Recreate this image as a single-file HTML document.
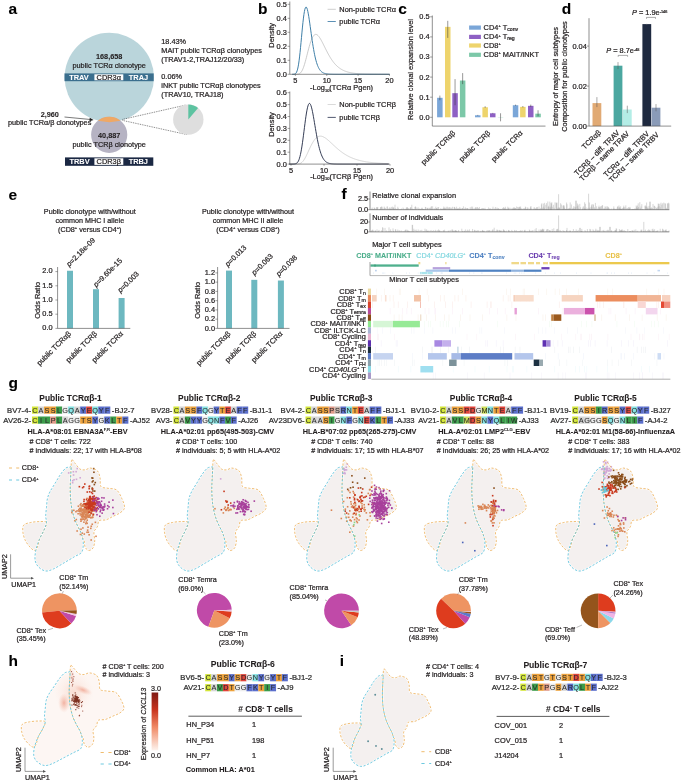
<!DOCTYPE html>
<html><head><meta charset="utf-8"><style>html,body{margin:0;padding:0;background:#fff;width:685px;height:782px;overflow:hidden}svg{display:block}text{font-family:"Liberation Sans", sans-serif}</style></head>
<body>
<svg style="will-change:transform" width="685" height="782" viewBox="0 0 685 782" font-family='"Liberation Sans", sans-serif'>
<rect width="685" height="782" fill="#fff"/>
<text x="8.60" y="14.20" font-size="15.5" font-weight="bold" fill="#000" stroke="#000" stroke-width="0.08">a</text>
<defs><clipPath id="bigc"><circle cx="109.3" cy="77.5" r="44.7"/></clipPath></defs>
<circle cx="109.30" cy="77.50" r="44.70" fill="#bad5db"/>
<circle cx="109.20" cy="134.80" r="18.10" fill="#b6b3c3"/>
<g clip-path="url(#bigc)">
<circle cx="109.20" cy="134.80" r="18.10" fill="#efa865"/>
</g>
<text x="109.20" y="58.60" font-size="7.3" font-weight="bold" text-anchor="middle" fill="#231f20" stroke="#231f20" stroke-width="0.08">168,658</text>
<text x="109.20" y="67.80" font-size="7.3" text-anchor="middle" fill="#231f20" stroke="#231f20" stroke-width="0.22">public TCRα clonotype</text>
<rect x="64.50" y="73.40" width="89.20" height="7.80" fill="#3b6f8e"/>
<rect x="94.40" y="74.30" width="28.90" height="6.00" fill="#fff"/>
<text x="79.00" y="80.00" font-size="7.4" font-weight="bold" text-anchor="middle" fill="#fff" stroke="#fff" stroke-width="0.08">TRAV</text>
<text x="108.80" y="80.00" font-size="7.4" text-anchor="middle" fill="#231f20" stroke="#231f20" stroke-width="0.22">CDR3α</text>
<text x="138.50" y="80.00" font-size="7.4" font-weight="bold" text-anchor="middle" fill="#fff" stroke="#fff" stroke-width="0.08">TRAJ</text>
<text x="49.80" y="117.00" font-size="7.3" font-weight="bold" text-anchor="middle" fill="#231f20" stroke="#231f20" stroke-width="0.08">2,960</text>
<text x="8.00" y="125.20" font-size="7.3" fill="#231f20" stroke="#231f20" stroke-width="0.22">public TCRα/β clonotypes</text>
<line x1="64.50" y1="117.00" x2="91.50" y2="119.60" stroke="#222" stroke-width="0.6"/>
<path d="M93.6,119.9 L89.8,117.8 L89.4,121.3 Z" fill="#222"/>
<text x="109.20" y="138.00" font-size="7.3" font-weight="bold" text-anchor="middle" fill="#231f20" stroke="#231f20" stroke-width="0.08">40,887</text>
<text x="109.20" y="147.00" font-size="7.3" text-anchor="middle" fill="#231f20" stroke="#231f20" stroke-width="0.22">public TCRβ clonotype</text>
<rect x="65.00" y="157.40" width="88.30" height="8.40" fill="#1b2843"/>
<rect x="94.40" y="158.30" width="28.90" height="6.60" fill="#fff"/>
<text x="79.50" y="164.10" font-size="7.4" font-weight="bold" text-anchor="middle" fill="#fff" stroke="#fff" stroke-width="0.08">TRBV</text>
<text x="108.80" y="164.10" font-size="7.4" text-anchor="middle" fill="#231f20" stroke="#231f20" stroke-width="0.22">CDR3β</text>
<text x="138.30" y="164.10" font-size="7.4" font-weight="bold" text-anchor="middle" fill="#fff" stroke="#fff" stroke-width="0.08">TRBJ</text>
<text x="161.30" y="44.20" font-size="7.3" fill="#231f20" stroke="#231f20" stroke-width="0.22">18.43%</text>
<text x="161.30" y="52.80" font-size="7.3" fill="#231f20" stroke="#231f20" stroke-width="0.22">MAIT public TCRαβ clonotypes</text>
<text x="161.30" y="61.70" font-size="7.3" fill="#231f20" stroke="#231f20" stroke-width="0.22">(TRAV1-2,TRAJ12/20/33)</text>
<text x="161.30" y="78.90" font-size="7.3" fill="#231f20" stroke="#231f20" stroke-width="0.22">0.06%</text>
<text x="161.30" y="87.80" font-size="7.3" fill="#231f20" stroke="#231f20" stroke-width="0.22">iNKT public TCRαβ clonotypes</text>
<text x="161.30" y="96.70" font-size="7.3" fill="#231f20" stroke="#231f20" stroke-width="0.22">(TRAV10, TRAJ18)</text>
<line x1="122.50" y1="119.40" x2="186.00" y2="105.00" stroke="#222" stroke-width="0.6" stroke-dasharray="0.9 0.9"/>
<line x1="122.50" y1="120.40" x2="187.00" y2="134.60" stroke="#222" stroke-width="0.6" stroke-dasharray="0.9 0.9"/>
<circle cx="188.30" cy="119.60" r="15.20" fill="#dedede"/>
<path d="M188.30,119.60 L198.07,107.96 A15.2,15.2 0 0 0 188.30,104.40 Z" fill="#5dc3a1"/>
<text x="257.90" y="14.00" font-size="15.5" font-weight="bold" fill="#000" stroke="#000" stroke-width="0.08">b</text>
<path d="M292.26,74.30 L292.75,74.30 L293.24,74.30 L293.72,74.30 L294.21,74.30 L294.69,74.30 L295.18,74.30 L295.67,74.30 L296.15,74.29 L296.64,74.27 L297.12,74.25 L297.61,74.20 L298.10,74.13 L298.58,74.01 L299.07,73.84 L299.55,73.60 L300.04,73.27 L300.53,72.85 L301.01,72.30 L301.50,71.63 L301.98,70.82 L302.47,69.87 L302.96,68.77 L303.44,67.53 L303.93,66.15 L304.41,64.64 L304.90,63.02 L305.38,61.30 L305.87,59.50 L306.36,57.64 L306.84,55.74 L307.33,53.83 L307.81,51.92 L308.30,50.04 L308.79,48.21 L309.27,46.45 L309.76,44.76 L310.24,43.18 L310.73,41.71 L311.22,40.35 L311.70,39.13 L312.19,38.05 L312.67,37.10 L313.16,36.30 L313.65,35.64 L314.13,35.13 L314.62,34.75 L315.10,34.51 L315.59,34.40 L316.08,34.41 L316.56,34.54 L317.05,34.79 L317.53,35.13 L318.02,35.57 L318.50,36.09 L318.99,36.70 L319.48,37.37 L319.96,38.11 L320.45,38.90 L320.93,39.73 L321.42,40.61 L321.91,41.52 L322.39,42.46 L322.88,43.41 L323.36,44.38 L323.85,45.36 L324.34,46.35 L324.82,47.34 L325.31,48.32 L325.79,49.29 L326.28,50.26 L326.77,51.21 L327.25,52.15 L327.74,53.07 L328.22,53.97 L328.71,54.85 L329.20,55.70 L329.68,56.54 L330.17,57.34 L330.65,58.13 L331.14,58.89 L331.62,59.62 L332.11,60.32 L332.60,61.01 L333.08,61.66 L333.57,62.29 L334.05,62.89 L334.54,63.47 L335.03,64.03 L335.51,64.56 L336.00,65.07 L336.48,65.55 L336.97,66.02 L337.46,66.46 L337.94,66.88 L338.43,67.28 L338.91,67.66 L339.40,68.02 L339.89,68.37 L340.37,68.69 L340.86,69.01 L341.34,69.30 L341.83,69.58 L342.32,69.85 L342.80,70.10 L343.29,70.34 L343.77,70.56 L344.26,70.77 L344.74,70.98 L345.23,71.17 L345.72,71.35 L346.20,71.52 L346.69,71.68 L347.17,71.83 L347.66,71.97 L348.15,72.11 L348.63,72.24 L349.12,72.36 L349.60,72.47 L350.09,72.58 L350.58,72.68 L351.06,72.78 L351.55,72.87 L352.03,72.95 L352.52,73.03 L353.01,73.11 L353.49,73.18 L353.98,73.24 L354.46,73.31 L354.95,73.37 L355.44,73.42 L355.92,73.47 L356.41,73.52 L356.89,73.57 L357.38,73.61 L357.86,73.65 L358.35,73.69 L358.84,73.73 L359.32,73.76 L359.81,73.79 L360.29,73.82 L360.78,73.85 L361.27,73.88 L361.75,73.90 L362.24,73.93 L362.72,73.95 L363.21,73.97 L363.70,73.99 L364.18,74.01 L364.67,74.03 L365.15,74.04 L365.64,74.06 L366.13,74.07 L366.61,74.09 L367.10,74.10 L367.58,74.11 L368.07,74.12 L368.56,74.13 L369.04,74.14 L369.53,74.15 L370.01,74.16 L370.50,74.17 L370.98,74.18 L371.47,74.18 L371.96,74.19 L372.44,74.20 L372.93,74.20 L373.41,74.21 L373.90,74.21 L374.39,74.22 L374.87,74.22 L375.36,74.23 L375.84,74.23 L376.33,74.24 L376.82,74.24 L377.30,74.24 L377.79,74.25 L378.27,74.25 L378.76,74.25 L379.25,74.26 L379.73,74.26 L380.22,74.26 L380.70,74.26 L381.19,74.27 L381.68,74.27 L382.16,74.27 L382.65,74.27 L383.13,74.27 L383.62,74.27 L384.10,74.28 L384.59,74.28 L385.08,74.28 L385.56,74.28 L386.05,74.28 L386.53,74.28 L387.02,74.28 L387.51,74.28 L387.99,74.29 L388.48,74.29 L388.96,74.29 L389.45,74.29" fill="none" stroke="#b5b5b5" stroke-width="0.7"/>
<path d="M292.26,74.30 L292.75,74.29 L293.24,74.28 L293.72,74.25 L294.21,74.19 L294.69,74.07 L295.18,73.85 L295.67,73.48 L296.15,72.91 L296.64,72.04 L297.12,70.80 L297.61,69.12 L298.10,66.92 L298.58,64.16 L299.07,60.82 L299.55,56.93 L300.04,52.53 L300.53,47.71 L301.01,42.61 L301.50,37.36 L301.98,32.12 L302.47,27.06 L302.96,22.33 L303.44,18.08 L303.93,14.42 L304.41,11.45 L304.90,9.22 L305.38,7.77 L305.87,7.10 L306.36,7.18 L306.84,7.97 L307.33,9.39 L307.81,11.37 L308.30,13.83 L308.79,16.67 L309.27,19.80 L309.76,23.14 L310.24,26.61 L310.73,30.14 L311.22,33.66 L311.70,37.11 L312.19,40.46 L312.67,43.67 L313.16,46.72 L313.65,49.58 L314.13,52.24 L314.62,54.69 L315.10,56.95 L315.59,59.00 L316.08,60.86 L316.56,62.53 L317.05,64.03 L317.53,65.37 L318.02,66.55 L318.50,67.60 L318.99,68.52 L319.48,69.32 L319.96,70.03 L320.45,70.64 L320.93,71.17 L321.42,71.63 L321.91,72.03 L322.39,72.37 L322.88,72.66 L323.36,72.91 L323.85,73.13 L324.34,73.31 L324.82,73.47 L325.31,73.60 L325.79,73.71 L326.28,73.80 L326.77,73.88 L327.25,73.95 L327.74,74.01 L328.22,74.06 L328.71,74.10 L329.20,74.13 L329.68,74.16 L330.17,74.18 L330.65,74.20 L331.14,74.22 L331.62,74.23 L332.11,74.24 L332.60,74.25 L333.08,74.26 L333.57,74.27 L334.05,74.27 L334.54,74.28 L335.03,74.28 L335.51,74.28 L336.00,74.29 L336.48,74.29 L336.97,74.29 L337.46,74.29 L337.94,74.29 L338.43,74.30 L338.91,74.30 L339.40,74.30 L339.89,74.30 L340.37,74.30 L340.86,74.30 L341.34,74.30 L341.83,74.30 L342.32,74.30 L342.80,74.30 L343.29,74.30 L343.77,74.30 L344.26,74.30 L344.74,74.30 L345.23,74.30 L345.72,74.30 L346.20,74.30 L346.69,74.30 L347.17,74.30 L347.66,74.30 L348.15,74.30 L348.63,74.30 L349.12,74.30 L349.60,74.30 L350.09,74.30 L350.58,74.30 L351.06,74.30 L351.55,74.30 L352.03,74.30 L352.52,74.30 L353.01,74.30 L353.49,74.30 L353.98,74.30 L354.46,74.30 L354.95,74.30 L355.44,74.30 L355.92,74.30 L356.41,74.30 L356.89,74.30 L357.38,74.30 L357.86,74.30 L358.35,74.30 L358.84,74.30 L359.32,74.30 L359.81,74.30 L360.29,74.30 L360.78,74.30 L361.27,74.30 L361.75,74.30 L362.24,74.30 L362.72,74.30 L363.21,74.30 L363.70,74.30 L364.18,74.30 L364.67,74.30 L365.15,74.30 L365.64,74.30 L366.13,74.30 L366.61,74.30 L367.10,74.30 L367.58,74.30 L368.07,74.30 L368.56,74.30 L369.04,74.30 L369.53,74.30 L370.01,74.30 L370.50,74.30 L370.98,74.30 L371.47,74.30 L371.96,74.30 L372.44,74.30 L372.93,74.30 L373.41,74.30 L373.90,74.30 L374.39,74.30 L374.87,74.30 L375.36,74.30 L375.84,74.30 L376.33,74.30 L376.82,74.30 L377.30,74.30 L377.79,74.30 L378.27,74.30 L378.76,74.30 L379.25,74.30 L379.73,74.30 L380.22,74.30 L380.70,74.30 L381.19,74.30 L381.68,74.30 L382.16,74.30 L382.65,74.30 L383.13,74.30 L383.62,74.30 L384.10,74.30 L384.59,74.30 L385.08,74.30 L385.56,74.30 L386.05,74.30 L386.53,74.30 L387.02,74.30 L387.51,74.30 L387.99,74.30 L388.48,74.30 L388.96,74.30 L389.45,74.30" fill="none" stroke="#3f7fa8" stroke-width="1.0"/>
<line x1="289.80" y1="1.50" x2="289.80" y2="74.30" stroke="#444" stroke-width="0.6"/>
<line x1="289.80" y1="74.30" x2="389.80" y2="74.30" stroke="#444" stroke-width="0.6"/>
<line x1="287.60" y1="74.30" x2="289.80" y2="74.30" stroke="#444" stroke-width="0.5"/>
<text x="286.90" y="76.70" font-size="7.4" text-anchor="end" fill="#231f20" stroke="#231f20" stroke-width="0.22">0.0</text>
<line x1="287.60" y1="60.30" x2="289.80" y2="60.30" stroke="#444" stroke-width="0.5"/>
<text x="286.90" y="62.70" font-size="7.4" text-anchor="end" fill="#231f20" stroke="#231f20" stroke-width="0.22">0.1</text>
<line x1="287.60" y1="46.30" x2="289.80" y2="46.30" stroke="#444" stroke-width="0.5"/>
<text x="286.90" y="48.70" font-size="7.4" text-anchor="end" fill="#231f20" stroke="#231f20" stroke-width="0.22">0.2</text>
<line x1="287.60" y1="32.30" x2="289.80" y2="32.30" stroke="#444" stroke-width="0.5"/>
<text x="286.90" y="34.70" font-size="7.4" text-anchor="end" fill="#231f20" stroke="#231f20" stroke-width="0.22">0.3</text>
<line x1="287.60" y1="18.30" x2="289.80" y2="18.30" stroke="#444" stroke-width="0.5"/>
<text x="286.90" y="20.70" font-size="7.4" text-anchor="end" fill="#231f20" stroke="#231f20" stroke-width="0.22">0.4</text>
<line x1="287.60" y1="4.30" x2="289.80" y2="4.30" stroke="#444" stroke-width="0.5"/>
<text x="286.90" y="6.70" font-size="7.4" text-anchor="end" fill="#231f20" stroke="#231f20" stroke-width="0.22">0.5</text>
<line x1="295.40" y1="74.30" x2="295.40" y2="75.90" stroke="#444" stroke-width="0.5"/>
<text x="295.40" y="83.30" font-size="7.4" text-anchor="middle" fill="#231f20" stroke="#231f20" stroke-width="0.22">5</text>
<line x1="326.75" y1="74.30" x2="326.75" y2="75.90" stroke="#444" stroke-width="0.5"/>
<text x="326.75" y="83.30" font-size="7.4" text-anchor="middle" fill="#231f20" stroke="#231f20" stroke-width="0.22">10</text>
<line x1="358.10" y1="74.30" x2="358.10" y2="75.90" stroke="#444" stroke-width="0.5"/>
<text x="358.10" y="83.30" font-size="7.4" text-anchor="middle" fill="#231f20" stroke="#231f20" stroke-width="0.22">15</text>
<line x1="389.45" y1="74.30" x2="389.45" y2="75.90" stroke="#444" stroke-width="0.5"/>
<text x="389.45" y="83.30" font-size="7.4" text-anchor="middle" fill="#231f20" stroke="#231f20" stroke-width="0.22">20</text>
<text x="274.20" y="35.30" font-size="7.4" text-anchor="middle" fill="#231f20" stroke="#231f20" stroke-width="0.22" transform="rotate(-90 274.20 35.30)">Density</text>
<text x="341.60" y="90.20" font-size="7.4" text-anchor="middle" fill="#231f20" stroke="#231f20" stroke-width="0.22">-Log<tspan dy="1.4" font-size="4.0">10</tspan><tspan dy="-1.4">​</tspan>(TCRα Pgen)</text>
<line x1="327.60" y1="9.30" x2="335.80" y2="9.30" stroke="#c8c8c8" stroke-width="0.9"/>
<text x="339.30" y="11.80" font-size="7.4" fill="#231f20" stroke="#231f20" stroke-width="0.22">Non-public TCRα</text>
<line x1="327.60" y1="21.50" x2="335.80" y2="21.50" stroke="#4a83ad" stroke-width="0.9"/>
<text x="339.30" y="24.00" font-size="7.4" fill="#231f20" stroke="#231f20" stroke-width="0.22">public TCRα</text>
<path d="M289.02,164.10 L289.52,164.10 L290.02,164.10 L290.51,164.10 L291.01,164.10 L291.51,164.10 L292.01,164.10 L292.51,164.10 L293.01,164.10 L293.50,164.10 L294.00,164.10 L294.50,164.10 L295.00,164.10 L295.50,164.10 L296.00,164.10 L296.49,164.09 L296.99,164.08 L297.49,164.06 L297.99,164.02 L298.49,163.96 L298.99,163.87 L299.48,163.75 L299.98,163.58 L300.48,163.35 L300.98,163.07 L301.48,162.72 L301.98,162.31 L302.47,161.81 L302.97,161.25 L303.47,160.61 L303.97,159.89 L304.47,159.11 L304.97,158.26 L305.46,157.35 L305.96,156.40 L306.46,155.40 L306.96,154.36 L307.46,153.29 L307.96,152.21 L308.45,151.12 L308.95,150.03 L309.45,148.94 L309.95,147.87 L310.45,146.83 L310.95,145.81 L311.44,144.82 L311.94,143.88 L312.44,142.98 L312.94,142.13 L313.44,141.33 L313.94,140.59 L314.43,139.90 L314.93,139.27 L315.43,138.70 L315.93,138.19 L316.43,137.74 L316.92,137.34 L317.42,137.01 L317.92,136.73 L318.42,136.51 L318.92,136.34 L319.42,136.22 L319.91,136.15 L320.41,136.13 L320.91,136.16 L321.41,136.23 L321.91,136.34 L322.41,136.49 L322.90,136.67 L323.40,136.89 L323.90,137.14 L324.40,137.41 L324.90,137.72 L325.40,138.04 L325.89,138.39 L326.39,138.76 L326.89,139.15 L327.39,139.55 L327.89,139.96 L328.39,140.39 L328.88,140.83 L329.38,141.27 L329.88,141.73 L330.38,142.18 L330.88,142.65 L331.38,143.11 L331.87,143.58 L332.37,144.05 L332.87,144.52 L333.37,144.99 L333.87,145.45 L334.37,145.92 L334.86,146.38 L335.36,146.83 L335.86,147.28 L336.36,147.73 L336.86,148.17 L337.36,148.60 L337.85,149.03 L338.35,149.45 L338.85,149.87 L339.35,150.27 L339.85,150.67 L340.34,151.06 L340.84,151.45 L341.34,151.82 L341.84,152.19 L342.34,152.55 L342.84,152.90 L343.33,153.24 L343.83,153.58 L344.33,153.90 L344.83,154.22 L345.33,154.53 L345.83,154.83 L346.32,155.13 L346.82,155.41 L347.32,155.69 L347.82,155.96 L348.32,156.22 L348.82,156.48 L349.31,156.73 L349.81,156.97 L350.31,157.20 L350.81,157.43 L351.31,157.65 L351.81,157.87 L352.30,158.07 L352.80,158.28 L353.30,158.47 L353.80,158.66 L354.30,158.84 L354.80,159.02 L355.29,159.19 L355.79,159.36 L356.29,159.52 L356.79,159.67 L357.29,159.83 L357.79,159.97 L358.28,160.11 L358.78,160.25 L359.28,160.38 L359.78,160.51 L360.28,160.63 L360.78,160.75 L361.27,160.87 L361.77,160.98 L362.27,161.09 L362.77,161.19 L363.27,161.29 L363.76,161.39 L364.26,161.48 L364.76,161.57 L365.26,161.66 L365.76,161.74 L366.26,161.83 L366.75,161.91 L367.25,161.98 L367.75,162.05 L368.25,162.13 L368.75,162.19 L369.25,162.26 L369.74,162.32 L370.24,162.39 L370.74,162.45 L371.24,162.50 L371.74,162.56 L372.24,162.61 L372.73,162.66 L373.23,162.71 L373.73,162.76 L374.23,162.81 L374.73,162.85 L375.23,162.90 L375.72,162.94 L376.22,162.98 L376.72,163.02 L377.22,163.06 L377.72,163.09 L378.22,163.13 L378.71,163.16 L379.21,163.19 L379.71,163.22 L380.21,163.25 L380.71,163.28 L381.21,163.31 L381.70,163.34 L382.20,163.37 L382.70,163.39 L383.20,163.42 L383.70,163.44 L384.20,163.46 L384.69,163.48 L385.19,163.50 L385.69,163.52 L386.19,163.54 L386.69,163.56 L387.19,163.58 L387.68,163.60 L388.18,163.62 L388.68,163.63" fill="none" stroke="#c2c2c2" stroke-width="0.7"/>
<path d="M289.02,164.10 L289.52,164.10 L290.02,164.10 L290.51,164.10 L291.01,164.10 L291.51,164.10 L292.01,164.10 L292.51,164.09 L293.01,164.08 L293.50,164.06 L294.00,164.04 L294.50,163.99 L295.00,163.91 L295.50,163.79 L296.00,163.61 L296.49,163.34 L296.99,162.96 L297.49,162.44 L297.99,161.75 L298.49,160.84 L298.99,159.68 L299.48,158.23 L299.98,156.47 L300.48,154.39 L300.98,151.95 L301.48,149.18 L301.98,146.08 L302.47,142.70 L302.97,139.07 L303.47,135.26 L303.97,131.33 L304.47,127.38 L304.97,123.49 L305.46,119.74 L305.96,116.22 L306.46,113.01 L306.96,110.19 L307.46,107.81 L307.96,105.91 L308.45,104.54 L308.95,103.71 L309.45,103.41 L309.95,103.64 L310.45,104.36 L310.95,105.55 L311.44,107.16 L311.94,109.14 L312.44,111.42 L312.94,113.95 L313.44,116.68 L313.94,119.55 L314.43,122.50 L314.93,125.49 L315.43,128.46 L315.93,131.39 L316.43,134.24 L316.92,136.98 L317.42,139.60 L317.92,142.06 L318.42,144.37 L318.92,146.52 L319.42,148.50 L319.91,150.32 L320.41,151.97 L320.91,153.47 L321.41,154.81 L321.91,156.02 L322.41,157.10 L322.90,158.05 L323.40,158.89 L323.90,159.63 L324.40,160.27 L324.90,160.83 L325.40,161.32 L325.89,161.74 L326.39,162.11 L326.89,162.42 L327.39,162.68 L327.89,162.91 L328.39,163.10 L328.88,163.27 L329.38,163.41 L329.88,163.52 L330.38,163.62 L330.88,163.70 L331.38,163.77 L331.87,163.83 L332.37,163.88 L332.87,163.92 L333.37,163.95 L333.87,163.98 L334.37,164.00 L334.86,164.02 L335.36,164.03 L335.86,164.05 L336.36,164.06 L336.86,164.06 L337.36,164.07 L337.85,164.08 L338.35,164.08 L338.85,164.08 L339.35,164.09 L339.85,164.09 L340.34,164.09 L340.84,164.09 L341.34,164.09 L341.84,164.10 L342.34,164.10 L342.84,164.10 L343.33,164.10 L343.83,164.10 L344.33,164.10 L344.83,164.10 L345.33,164.10 L345.83,164.10 L346.32,164.10 L346.82,164.10 L347.32,164.10 L347.82,164.10 L348.32,164.10 L348.82,164.10 L349.31,164.10 L349.81,164.10 L350.31,164.10 L350.81,164.10 L351.31,164.10 L351.81,164.10 L352.30,164.10 L352.80,164.10 L353.30,164.10 L353.80,164.10 L354.30,164.10 L354.80,164.10 L355.29,164.10 L355.79,164.10 L356.29,164.10 L356.79,164.10 L357.29,164.10 L357.79,164.10 L358.28,164.10 L358.78,164.10 L359.28,164.10 L359.78,164.10 L360.28,164.10 L360.78,164.10 L361.27,164.10 L361.77,164.10 L362.27,164.10 L362.77,164.10 L363.27,164.10 L363.76,164.10 L364.26,164.10 L364.76,164.10 L365.26,164.10 L365.76,164.10 L366.26,164.10 L366.75,164.10 L367.25,164.10 L367.75,164.10 L368.25,164.10 L368.75,164.10 L369.25,164.10 L369.74,164.10 L370.24,164.10 L370.74,164.10 L371.24,164.10 L371.74,164.10 L372.24,164.10 L372.73,164.10 L373.23,164.10 L373.73,164.10 L374.23,164.10 L374.73,164.10 L375.23,164.10 L375.72,164.10 L376.22,164.10 L376.72,164.10 L377.22,164.10 L377.72,164.10 L378.22,164.10 L378.71,164.10 L379.21,164.10 L379.71,164.10 L380.21,164.10 L380.71,164.10 L381.21,164.10 L381.70,164.10 L382.20,164.10 L382.70,164.10 L383.20,164.10 L383.70,164.10 L384.20,164.10 L384.69,164.10 L385.19,164.10 L385.69,164.10 L386.19,164.10 L386.69,164.10 L387.19,164.10 L387.68,164.10 L388.18,164.10 L388.68,164.10" fill="none" stroke="#1e2742" stroke-width="0.9"/>
<line x1="289.80" y1="91.50" x2="289.80" y2="164.10" stroke="#444" stroke-width="0.6"/>
<line x1="289.80" y1="164.10" x2="389.80" y2="164.10" stroke="#444" stroke-width="0.6"/>
<line x1="287.60" y1="164.10" x2="289.80" y2="164.10" stroke="#444" stroke-width="0.5"/>
<text x="286.90" y="166.50" font-size="7.4" text-anchor="end" fill="#231f20" stroke="#231f20" stroke-width="0.22">0.0</text>
<line x1="287.60" y1="152.20" x2="289.80" y2="152.20" stroke="#444" stroke-width="0.5"/>
<text x="286.90" y="154.60" font-size="7.4" text-anchor="end" fill="#231f20" stroke="#231f20" stroke-width="0.22">0.1</text>
<line x1="287.60" y1="140.30" x2="289.80" y2="140.30" stroke="#444" stroke-width="0.5"/>
<text x="286.90" y="142.70" font-size="7.4" text-anchor="end" fill="#231f20" stroke="#231f20" stroke-width="0.22">0.2</text>
<line x1="287.60" y1="128.40" x2="289.80" y2="128.40" stroke="#444" stroke-width="0.5"/>
<text x="286.90" y="130.80" font-size="7.4" text-anchor="end" fill="#231f20" stroke="#231f20" stroke-width="0.22">0.3</text>
<line x1="287.60" y1="116.50" x2="289.80" y2="116.50" stroke="#444" stroke-width="0.5"/>
<text x="286.90" y="118.90" font-size="7.4" text-anchor="end" fill="#231f20" stroke="#231f20" stroke-width="0.22">0.4</text>
<line x1="287.60" y1="104.60" x2="289.80" y2="104.60" stroke="#444" stroke-width="0.5"/>
<text x="286.90" y="107.00" font-size="7.4" text-anchor="end" fill="#231f20" stroke="#231f20" stroke-width="0.22">0.5</text>
<line x1="287.60" y1="92.70" x2="289.80" y2="92.70" stroke="#444" stroke-width="0.5"/>
<text x="286.90" y="95.10" font-size="7.4" text-anchor="end" fill="#231f20" stroke="#231f20" stroke-width="0.22">0.6</text>
<line x1="291.00" y1="164.10" x2="291.00" y2="165.70" stroke="#444" stroke-width="0.5"/>
<text x="291.00" y="173.10" font-size="7.4" text-anchor="middle" fill="#231f20" stroke="#231f20" stroke-width="0.22">5</text>
<line x1="324.00" y1="164.10" x2="324.00" y2="165.70" stroke="#444" stroke-width="0.5"/>
<text x="324.00" y="173.10" font-size="7.4" text-anchor="middle" fill="#231f20" stroke="#231f20" stroke-width="0.22">10</text>
<line x1="357.00" y1="164.10" x2="357.00" y2="165.70" stroke="#444" stroke-width="0.5"/>
<text x="357.00" y="173.10" font-size="7.4" text-anchor="middle" fill="#231f20" stroke="#231f20" stroke-width="0.22">15</text>
<line x1="390.00" y1="164.10" x2="390.00" y2="165.70" stroke="#444" stroke-width="0.5"/>
<text x="390.00" y="173.10" font-size="7.4" text-anchor="middle" fill="#231f20" stroke="#231f20" stroke-width="0.22">20</text>
<text x="274.20" y="124.50" font-size="7.4" text-anchor="middle" fill="#231f20" stroke="#231f20" stroke-width="0.22" transform="rotate(-90 274.20 124.50)">Density</text>
<text x="341.60" y="178.80" font-size="7.4" text-anchor="middle" fill="#231f20" stroke="#231f20" stroke-width="0.22">-Log<tspan dy="1.4" font-size="4.0">10</tspan><tspan dy="-1.4">​</tspan>(TCRβ Pgen)</text>
<line x1="327.60" y1="104.50" x2="335.80" y2="104.50" stroke="#d6d6d6" stroke-width="0.9"/>
<text x="339.30" y="107.00" font-size="7.4" fill="#231f20" stroke="#231f20" stroke-width="0.22">Non-public TCRβ</text>
<line x1="327.60" y1="117.40" x2="335.80" y2="117.40" stroke="#3d4660" stroke-width="0.9"/>
<text x="339.30" y="119.90" font-size="7.4" fill="#231f20" stroke="#231f20" stroke-width="0.22">public TCRβ</text>
<text x="398.30" y="14.00" font-size="15.5" font-weight="bold" fill="#000" stroke="#000" stroke-width="0.08">c</text>
<rect x="437.10" y="97.80" width="5.50" height="19.50" fill="#7aa6d8"/>
<line x1="439.85" y1="95.59" x2="439.85" y2="100.22" stroke="#333" stroke-width="0.5"/>
<rect x="445.00" y="26.85" width="5.50" height="90.45" fill="#eed46c"/>
<line x1="447.75" y1="20.82" x2="447.75" y2="37.90" stroke="#333" stroke-width="0.5"/>
<rect x="452.30" y="93.18" width="5.50" height="24.12" fill="#8e60c4"/>
<line x1="455.05" y1="79.11" x2="455.05" y2="105.24" stroke="#333" stroke-width="0.5"/>
<rect x="459.90" y="80.52" width="5.50" height="36.78" fill="#7cc8a8"/>
<line x1="462.65" y1="73.08" x2="462.65" y2="84.13" stroke="#333" stroke-width="0.5"/>
<rect x="475.00" y="115.29" width="5.50" height="2.01" fill="#7aa6d8"/>
<line x1="477.75" y1="114.89" x2="477.75" y2="115.69" stroke="#333" stroke-width="0.5"/>
<rect x="482.40" y="107.25" width="5.50" height="10.05" fill="#eed46c"/>
<line x1="485.15" y1="106.25" x2="485.15" y2="107.85" stroke="#333" stroke-width="0.5"/>
<rect x="490.00" y="113.28" width="5.50" height="4.02" fill="#8e60c4"/>
<line x1="492.75" y1="112.88" x2="492.75" y2="113.68" stroke="#333" stroke-width="0.5"/>
<rect x="497.80" y="117.05" width="5.50" height="0.50" fill="#c8e8dc"/>
<line x1="500.55" y1="113.28" x2="500.55" y2="121.32" stroke="#333" stroke-width="0.5"/>
<rect x="512.80" y="105.24" width="5.50" height="12.06" fill="#7aa6d8"/>
<line x1="515.55" y1="104.64" x2="515.55" y2="105.84" stroke="#333" stroke-width="0.5"/>
<rect x="520.10" y="106.85" width="5.50" height="10.45" fill="#eed46c"/>
<line x1="522.85" y1="106.04" x2="522.85" y2="107.45" stroke="#333" stroke-width="0.5"/>
<rect x="528.00" y="105.84" width="5.50" height="11.46" fill="#8e60c4"/>
<line x1="530.75" y1="104.64" x2="530.75" y2="106.85" stroke="#333" stroke-width="0.5"/>
<rect x="535.30" y="113.68" width="5.50" height="3.62" fill="#7cc8a8"/>
<line x1="538.05" y1="110.27" x2="538.05" y2="116.30" stroke="#333" stroke-width="0.5"/>
<line x1="432.30" y1="15.50" x2="432.30" y2="126.10" stroke="#444" stroke-width="0.6"/>
<line x1="432.30" y1="126.10" x2="545.50" y2="126.10" stroke="#444" stroke-width="0.6"/>
<line x1="430.10" y1="117.30" x2="432.30" y2="117.30" stroke="#444" stroke-width="0.5"/>
<text x="429.60" y="119.70" font-size="7.4" text-anchor="end" fill="#231f20" stroke="#231f20" stroke-width="0.22">0.0</text>
<line x1="430.10" y1="97.20" x2="432.30" y2="97.20" stroke="#444" stroke-width="0.5"/>
<text x="429.60" y="99.60" font-size="7.4" text-anchor="end" fill="#231f20" stroke="#231f20" stroke-width="0.22">0.1</text>
<line x1="430.10" y1="77.10" x2="432.30" y2="77.10" stroke="#444" stroke-width="0.5"/>
<text x="429.60" y="79.50" font-size="7.4" text-anchor="end" fill="#231f20" stroke="#231f20" stroke-width="0.22">0.2</text>
<line x1="430.10" y1="57.00" x2="432.30" y2="57.00" stroke="#444" stroke-width="0.5"/>
<text x="429.60" y="59.40" font-size="7.4" text-anchor="end" fill="#231f20" stroke="#231f20" stroke-width="0.22">0.3</text>
<line x1="430.10" y1="36.90" x2="432.30" y2="36.90" stroke="#444" stroke-width="0.5"/>
<text x="429.60" y="39.30" font-size="7.4" text-anchor="end" fill="#231f20" stroke="#231f20" stroke-width="0.22">0.4</text>
<line x1="430.10" y1="16.80" x2="432.30" y2="16.80" stroke="#444" stroke-width="0.5"/>
<text x="429.60" y="19.20" font-size="7.4" text-anchor="end" fill="#231f20" stroke="#231f20" stroke-width="0.22">0.5</text>
<text x="413.30" y="69.50" font-size="7.4" text-anchor="middle" fill="#231f20" stroke="#231f20" stroke-width="0.22" transform="rotate(-90 413.30 69.50)">Relative clonal expansion level</text>
<rect x="469.10" y="25.50" width="11.80" height="4.20" fill="#7aa6d8"/>
<text x="483.60" y="30.10" font-size="7.4" fill="#231f20" stroke="#231f20" stroke-width="0.22">CD4<tspan dy="-2.9" font-size="4.0">+</tspan><tspan dy="2.9">​</tspan> T<tspan dy="0.9" font-size="5.2">conv</tspan><tspan dy="-0.9">​</tspan></text>
<rect x="469.10" y="34.80" width="11.80" height="4.20" fill="#8e60c4"/>
<text x="483.60" y="39.40" font-size="7.4" fill="#231f20" stroke="#231f20" stroke-width="0.22">CD4<tspan dy="-2.9" font-size="4.0">+</tspan><tspan dy="2.9">​</tspan> T<tspan dy="0.9" font-size="5.2">reg</tspan><tspan dy="-0.9">​</tspan></text>
<rect x="469.10" y="43.40" width="11.80" height="4.20" fill="#eed46c"/>
<text x="483.60" y="48.00" font-size="7.4" fill="#231f20" stroke="#231f20" stroke-width="0.22">CD8<tspan dy="-2.9" font-size="4.0">+</tspan><tspan dy="2.9">​</tspan></text>
<rect x="469.10" y="52.70" width="11.80" height="4.20" fill="#7cc8a8"/>
<text x="483.60" y="57.30" font-size="7.4" fill="#231f20" stroke="#231f20" stroke-width="0.22">CD8<tspan dy="-2.9" font-size="4.0">+</tspan><tspan dy="2.9">​</tspan> MAIT/iNKT</text>
<text x="455.80" y="133.50" font-size="7.4" text-anchor="end" fill="#231f20" stroke="#231f20" stroke-width="0.22" transform="rotate(-45 455.80 133.50)">public TCRαβ</text>
<text x="490.80" y="133.50" font-size="7.4" text-anchor="end" fill="#231f20" stroke="#231f20" stroke-width="0.22" transform="rotate(-45 490.80 133.50)">public TCRβ</text>
<text x="523.00" y="133.50" font-size="7.4" text-anchor="end" fill="#231f20" stroke="#231f20" stroke-width="0.22" transform="rotate(-45 523.00 133.50)">public TCRα</text>
<text x="561.70" y="14.00" font-size="15.5" font-weight="bold" fill="#000" stroke="#000" stroke-width="0.08">d</text>
<rect x="592.50" y="103.10" width="8.80" height="23.00" fill="#e1aa74"/>
<line x1="596.90" y1="97.10" x2="596.90" y2="107.10" stroke="#555" stroke-width="0.5"/>
<rect x="613.60" y="65.70" width="8.80" height="60.40" fill="#4ba7a0"/>
<line x1="618.00" y1="62.10" x2="618.00" y2="69.10" stroke="#555" stroke-width="0.5"/>
<rect x="622.90" y="109.50" width="8.80" height="16.60" fill="#b3ede6"/>
<line x1="627.30" y1="105.70" x2="627.30" y2="113.10" stroke="#555" stroke-width="0.5"/>
<rect x="642.40" y="24.10" width="8.80" height="102.00" fill="#1f2a40"/>
<line x1="646.80" y1="23.70" x2="646.80" y2="24.50" stroke="#999" stroke-width="0.5"/>
<rect x="651.60" y="107.70" width="8.80" height="18.40" fill="#8a9bb8"/>
<line x1="656.00" y1="104.10" x2="656.00" y2="111.30" stroke="#555" stroke-width="0.5"/>
<line x1="589.00" y1="18.20" x2="589.00" y2="126.10" stroke="#444" stroke-width="0.6"/>
<line x1="589.00" y1="126.10" x2="671.20" y2="126.10" stroke="#444" stroke-width="0.6"/>
<line x1="586.80" y1="126.10" x2="589.00" y2="126.10" stroke="#444" stroke-width="0.5"/>
<text x="586.80" y="128.50" font-size="7.4" text-anchor="end" fill="#231f20" stroke="#231f20" stroke-width="0.22">0.00</text>
<line x1="586.80" y1="86.10" x2="589.00" y2="86.10" stroke="#444" stroke-width="0.5"/>
<text x="586.80" y="88.50" font-size="7.4" text-anchor="end" fill="#231f20" stroke="#231f20" stroke-width="0.22">0.02</text>
<line x1="586.80" y1="46.10" x2="589.00" y2="46.10" stroke="#444" stroke-width="0.5"/>
<text x="586.80" y="48.50" font-size="7.4" text-anchor="end" fill="#231f20" stroke="#231f20" stroke-width="0.22">0.04</text>
<text x="557.70" y="76.50" font-size="7.4" text-anchor="middle" fill="#231f20" stroke="#231f20" stroke-width="0.22" transform="rotate(-90 557.70 76.50)">Entropy of major cell subtypes</text>
<text x="566.70" y="76.50" font-size="7.4" text-anchor="middle" fill="#231f20" stroke="#231f20" stroke-width="0.22" transform="rotate(-90 566.70 76.50)">Composition for public clonotypes</text>
<path d="M618.2,56.8 L618.2,55.4 L627.6,55.4 L627.6,56.8" fill="none" stroke="#555" stroke-width="0.5"/>
<text x="622.80" y="53.10" font-size="7.4" text-anchor="middle" fill="#231f20" stroke="#231f20" stroke-width="0.22"><tspan font-style="italic">P</tspan> = 8.7e<tspan dy="-2.6" font-size="3.8">-48</tspan><tspan dy="2.6">​</tspan></text>
<path d="M646.5,18.8 L646.5,17.4 L655.5,17.4 L655.5,18.8" fill="none" stroke="#555" stroke-width="0.5"/>
<text x="649.60" y="15.40" font-size="7.4" text-anchor="middle" fill="#231f20" stroke="#231f20" stroke-width="0.22"><tspan font-style="italic">P</tspan> = 1.9e<tspan dy="-2.6" font-size="3.8">-146</tspan><tspan dy="2.6">​</tspan></text>
<text x="601.60" y="133.00" font-size="7.4" text-anchor="end" fill="#231f20" stroke="#231f20" stroke-width="0.22" transform="rotate(-45 601.60 133.00)">TCRαβ</text>
<text x="577.20" y="176.10" font-size="7.4" fill="#231f20" stroke="#231f20" stroke-width="0.22" transform="rotate(-45 577.20 176.10)">TCRβ – diff. TRAV</text>
<text x="582.50" y="181.40" font-size="7.4" fill="#231f20" stroke="#231f20" stroke-width="0.22" transform="rotate(-45 582.50 181.40)">TCRβ – same TRAV</text>
<text x="606.60" y="177.50" font-size="7.4" fill="#231f20" stroke="#231f20" stroke-width="0.22" transform="rotate(-45 606.60 177.50)">TCRα – diff. TRBV</text>
<text x="611.90" y="182.80" font-size="7.4" fill="#231f20" stroke="#231f20" stroke-width="0.22" transform="rotate(-45 611.90 182.80)">TCRα – same TRBV</text>
<text x="8.60" y="199.60" font-size="15.5" font-weight="bold" fill="#000" stroke="#000" stroke-width="0.08">e</text>
<text x="89.80" y="214.30" font-size="7.2" text-anchor="middle" fill="#231f20" stroke="#231f20" stroke-width="0.22">Public clonotype with/without</text>
<text x="89.80" y="222.90" font-size="7.2" text-anchor="middle" fill="#231f20" stroke="#231f20" stroke-width="0.22">common MHC I allele</text>
<text x="89.80" y="231.50" font-size="7.2" text-anchor="middle" fill="#231f20" stroke="#231f20" stroke-width="0.22">(CD8<tspan dy="-2.9" font-size="4.0">+</tspan><tspan dy="2.9">​</tspan> versus CD4<tspan dy="-2.9" font-size="4.0">+</tspan><tspan dy="2.9">​</tspan>)</text>
<text x="248.00" y="214.30" font-size="7.2" text-anchor="middle" fill="#231f20" stroke="#231f20" stroke-width="0.22">Public clonotype with/without</text>
<text x="248.00" y="222.90" font-size="7.2" text-anchor="middle" fill="#231f20" stroke="#231f20" stroke-width="0.22">common MHC II allele</text>
<text x="248.00" y="231.50" font-size="7.2" text-anchor="middle" fill="#231f20" stroke="#231f20" stroke-width="0.22">(CD4<tspan dy="-2.9" font-size="4.0">+</tspan><tspan dy="2.9">​</tspan> versus CD8<tspan dy="-2.9" font-size="4.0">+</tspan><tspan dy="2.9">​</tspan>)</text>
<rect x="67.00" y="270.75" width="6.00" height="57.65" fill="#6db8c0"/>
<rect x="93.00" y="289.21" width="6.00" height="39.19" fill="#6db8c0"/>
<rect x="118.60" y="298.01" width="6.00" height="30.39" fill="#6db8c0"/>
<line x1="57.60" y1="267.00" x2="57.60" y2="328.40" stroke="#444" stroke-width="0.6"/>
<line x1="57.60" y1="328.40" x2="130.30" y2="328.40" stroke="#444" stroke-width="0.6"/>
<line x1="55.40" y1="328.40" x2="57.60" y2="328.40" stroke="#444" stroke-width="0.5"/>
<text x="52.60" y="330.20" font-size="7.4" text-anchor="end" fill="#231f20" stroke="#231f20" stroke-width="0.22">0.0</text>
<line x1="55.40" y1="314.20" x2="57.60" y2="314.20" stroke="#444" stroke-width="0.5"/>
<text x="52.60" y="316.00" font-size="7.4" text-anchor="end" fill="#231f20" stroke="#231f20" stroke-width="0.22">0.5</text>
<line x1="55.40" y1="300.00" x2="57.60" y2="300.00" stroke="#444" stroke-width="0.5"/>
<text x="52.60" y="301.80" font-size="7.4" text-anchor="end" fill="#231f20" stroke="#231f20" stroke-width="0.22">1.0</text>
<line x1="55.40" y1="285.80" x2="57.60" y2="285.80" stroke="#444" stroke-width="0.5"/>
<text x="52.60" y="287.60" font-size="7.4" text-anchor="end" fill="#231f20" stroke="#231f20" stroke-width="0.22">1.5</text>
<line x1="55.40" y1="271.60" x2="57.60" y2="271.60" stroke="#444" stroke-width="0.5"/>
<text x="52.60" y="273.40" font-size="7.4" text-anchor="end" fill="#231f20" stroke="#231f20" stroke-width="0.22">2.0</text>
<text x="39.90" y="300.30" font-size="7.4" text-anchor="middle" fill="#231f20" stroke="#231f20" stroke-width="0.22" transform="rotate(-90 39.90 300.30)">Odds Ratio</text>
<text x="69.30" y="267.00" font-size="7.3" fill="#231f20" stroke="#231f20" stroke-width="0.22" transform="rotate(-45 69.30 267.00)"><tspan font-style="italic">p</tspan>=2.18e-09</text>
<text x="96.30" y="287.40" font-size="7.3" fill="#231f20" stroke="#231f20" stroke-width="0.22" transform="rotate(-45 96.30 287.40)"><tspan font-style="italic">p</tspan>=9.60e-15</text>
<text x="120.60" y="293.10" font-size="7.3" fill="#231f20" stroke="#231f20" stroke-width="0.22" transform="rotate(-45 120.60 293.10)"><tspan font-style="italic">p</tspan>=0.003</text>
<text x="71.50" y="334.20" font-size="7.4" text-anchor="end" fill="#231f20" stroke="#231f20" stroke-width="0.22" transform="rotate(-45 71.50 334.20)">public TCRαβ</text>
<text x="97.50" y="334.20" font-size="7.4" text-anchor="end" fill="#231f20" stroke="#231f20" stroke-width="0.22" transform="rotate(-45 97.50 334.20)">public TCRβ</text>
<text x="123.50" y="334.20" font-size="7.4" text-anchor="end" fill="#231f20" stroke="#231f20" stroke-width="0.22" transform="rotate(-45 123.50 334.20)">public TCRα</text>
<rect x="226.00" y="270.59" width="6.00" height="57.81" fill="#6db8c0"/>
<rect x="251.30" y="279.84" width="6.00" height="48.56" fill="#6db8c0"/>
<rect x="277.90" y="280.53" width="6.00" height="47.87" fill="#6db8c0"/>
<line x1="217.60" y1="267.00" x2="217.60" y2="328.40" stroke="#444" stroke-width="0.6"/>
<line x1="217.60" y1="328.40" x2="289.50" y2="328.40" stroke="#444" stroke-width="0.6"/>
<line x1="215.40" y1="328.40" x2="217.60" y2="328.40" stroke="#444" stroke-width="0.5"/>
<text x="215.00" y="330.60" font-size="7.4" text-anchor="end" fill="#231f20" stroke="#231f20" stroke-width="0.22">0.0</text>
<line x1="215.40" y1="319.15" x2="217.60" y2="319.15" stroke="#444" stroke-width="0.5"/>
<text x="215.00" y="321.35" font-size="7.4" text-anchor="end" fill="#231f20" stroke="#231f20" stroke-width="0.22">0.2</text>
<line x1="215.40" y1="309.90" x2="217.60" y2="309.90" stroke="#444" stroke-width="0.5"/>
<text x="215.00" y="312.10" font-size="7.4" text-anchor="end" fill="#231f20" stroke="#231f20" stroke-width="0.22">0.4</text>
<line x1="215.40" y1="300.65" x2="217.60" y2="300.65" stroke="#444" stroke-width="0.5"/>
<text x="215.00" y="302.85" font-size="7.4" text-anchor="end" fill="#231f20" stroke="#231f20" stroke-width="0.22">0.6</text>
<line x1="215.40" y1="291.40" x2="217.60" y2="291.40" stroke="#444" stroke-width="0.5"/>
<text x="215.00" y="293.60" font-size="7.4" text-anchor="end" fill="#231f20" stroke="#231f20" stroke-width="0.22">0.8</text>
<line x1="215.40" y1="282.15" x2="217.60" y2="282.15" stroke="#444" stroke-width="0.5"/>
<text x="215.00" y="284.35" font-size="7.4" text-anchor="end" fill="#231f20" stroke="#231f20" stroke-width="0.22">1.0</text>
<line x1="215.40" y1="272.90" x2="217.60" y2="272.90" stroke="#444" stroke-width="0.5"/>
<text x="215.00" y="275.10" font-size="7.4" text-anchor="end" fill="#231f20" stroke="#231f20" stroke-width="0.22">1.2</text>
<text x="200.50" y="300.30" font-size="7.4" text-anchor="middle" fill="#231f20" stroke="#231f20" stroke-width="0.22" transform="rotate(-90 200.50 300.30)">Odds Ratio</text>
<text x="228.00" y="267.00" font-size="7.3" fill="#231f20" stroke="#231f20" stroke-width="0.22" transform="rotate(-45 228.00 267.00)"><tspan font-style="italic">p</tspan>=0.013</text>
<text x="254.60" y="275.50" font-size="7.3" fill="#231f20" stroke="#231f20" stroke-width="0.22" transform="rotate(-45 254.60 275.50)"><tspan font-style="italic">p</tspan>=0.063</text>
<text x="278.90" y="276.80" font-size="7.3" fill="#231f20" stroke="#231f20" stroke-width="0.22" transform="rotate(-45 278.90 276.80)"><tspan font-style="italic">p</tspan>=0.038</text>
<text x="231.00" y="334.20" font-size="7.4" text-anchor="end" fill="#231f20" stroke="#231f20" stroke-width="0.22" transform="rotate(-45 231.00 334.20)">public TCRαβ</text>
<text x="256.80" y="334.20" font-size="7.4" text-anchor="end" fill="#231f20" stroke="#231f20" stroke-width="0.22" transform="rotate(-45 256.80 334.20)">public TCRβ</text>
<text x="283.00" y="334.20" font-size="7.4" text-anchor="end" fill="#231f20" stroke="#231f20" stroke-width="0.22" transform="rotate(-45 283.00 334.20)">public TCRα</text>
<text x="341.40" y="198.90" font-size="15.5" font-weight="bold" fill="#000" stroke="#000" stroke-width="0.08">f</text>
<path d="M371.40,209.70V209.34M371.80,209.70V208.53M372.20,209.70V207.53M373.00,209.70V209.09M373.40,209.70V209.07M374.20,209.70V207.36M374.60,209.70V208.04M375.40,209.70V208.69M376.20,209.70V209.08M376.60,209.70V207.29M377.00,209.70V207.03M377.40,209.70V207.74M377.80,209.70V206.94M379.00,209.70V209.18M379.40,209.70V209.47M379.80,209.70V209.31M380.20,209.70V208.72M380.60,209.70V207.14M381.00,209.70V206.98M381.40,209.70V206.56M382.20,209.70V206.74M382.60,209.70V208.77M383.40,209.70V208.76M384.20,209.70V206.57M384.60,209.70V207.74M385.40,209.70V207.91M386.60,209.70V209.42M387.00,209.70V206.63M387.40,209.70V206.51M388.60,209.70V209.25M389.00,209.70V207.98M389.40,209.70V209.45M389.80,209.70V207.18M390.20,209.70V209.12M390.60,209.70V208.49M391.00,209.70V208.81M391.40,209.70V206.90M391.80,209.70V209.20M392.60,209.70V206.65M393.00,209.70V208.05M393.40,209.70V207.55M393.80,209.70V207.33M394.20,209.70V209.10M394.60,209.70V209.38M395.00,209.70V204.70M395.40,209.70V208.35M396.20,209.70V208.69M396.60,209.70V209.35M397.00,209.70V209.34M397.40,209.70V209.47M397.80,209.70V206.79M398.20,209.70V208.07M399.40,209.70V209.19M400.20,209.70V209.41M400.60,209.70V209.18M401.40,209.70V208.46M401.80,209.70V209.14M403.00,209.70V207.53M403.80,209.70V208.49M404.20,209.70V209.39M404.60,209.70V209.49M405.40,209.70V209.23M405.80,209.70V209.25M406.20,209.70V207.84M406.60,209.70V207.28M407.00,209.70V209.19M407.40,209.70V206.99M407.80,209.70V208.02M408.20,209.70V208.40M408.60,209.70V209.49M409.00,209.70V208.45M409.40,209.70V209.49M410.20,209.70V208.27M410.60,209.70V207.18M411.00,209.70V207.31M411.80,209.70V204.70M412.20,209.70V209.24M412.60,209.70V208.61M413.40,209.70V209.07M413.80,209.70V209.38M414.20,209.70V208.89M415.00,209.70V207.03M415.40,209.70V206.41M415.80,209.70V206.87M416.60,209.70V209.22M417.00,209.70V207.76M418.20,209.70V207.44M418.60,209.70V209.00M419.00,209.70V209.45M419.40,209.70V208.47M419.80,209.70V209.36M420.20,209.70V209.42M420.60,209.70V208.82M421.00,209.70V208.98M421.40,209.70V209.33M421.80,209.70V207.83M422.20,209.70V207.74M422.60,209.70V209.20M423.00,209.70V209.02M423.40,209.70V209.22M423.80,209.70V209.12M424.20,209.70V208.89M425.00,209.70V209.21M425.40,209.70V206.93M425.80,209.70V207.18M427.00,209.70V208.41M427.40,209.70V207.78M427.80,209.70V208.08M429.00,209.70V207.70M429.80,209.70V208.01M430.60,209.70V208.36M431.00,209.70V206.83M431.40,209.70V206.27M431.80,209.70V208.97M432.60,209.70V206.32M433.00,209.70V208.79M434.20,209.70V207.98M434.60,209.70V209.35M435.00,209.70V209.38M435.80,209.70V206.69M436.20,209.70V208.01M436.60,209.70V208.28M437.00,209.70V208.36M437.40,209.70V209.05M437.80,209.70V207.18M438.60,209.70V207.06M439.00,209.70V209.17M440.20,209.70V209.45M440.60,209.70V208.28M441.00,209.70V209.48M441.40,209.70V209.24M441.80,209.70V208.72M442.20,209.70V208.67M442.60,209.70V209.31M443.00,209.70V209.36M443.40,209.70V207.88M443.80,209.70V206.56M444.20,209.70V208.66M444.60,209.70V207.55M445.00,209.70V208.82M445.40,209.70V208.14M445.80,209.70V209.27M446.20,209.70V206.77M447.00,209.70V208.16M447.40,209.70V206.78M448.60,209.70V208.22M449.00,209.70V207.16M449.40,209.70V207.37M449.80,209.70V209.22M450.60,209.70V207.55M451.00,209.70V209.37M451.40,209.70V207.71M451.80,209.70V209.18M452.60,209.70V206.81M453.00,209.70V208.86M454.20,209.70V207.11M454.60,209.70V206.90M455.00,209.70V207.89M455.40,209.70V209.48M455.80,209.70V208.44M456.60,209.70V206.77M457.00,209.70V208.89M457.40,209.70V209.02M457.80,209.70V208.16M458.20,209.70V208.78M458.60,209.70V208.48M459.40,209.70V208.44M459.80,209.70V206.96M460.20,209.70V209.42M460.60,209.70V208.67M461.00,209.70V208.47M461.40,209.70V209.45M462.20,209.70V207.98M462.60,209.70V208.05M463.40,209.70V206.36M464.20,209.70V209.37M464.60,209.70V209.27M465.00,209.70V207.89M465.40,209.70V207.48M466.60,209.70V208.11M467.40,209.70V208.03M467.80,209.70V208.01M469.00,209.70V208.78M470.20,209.70V207.22M470.60,209.70V209.31M471.00,209.70V208.72M471.40,209.70V206.66M471.80,209.70V209.47M472.20,209.70V209.05M472.60,209.70V206.63M473.00,209.70V208.41M473.40,209.70V208.93M474.60,209.70V208.48M475.00,209.70V208.79M475.40,209.70V207.21M475.80,209.70V207.78M476.60,209.70V208.54M477.00,209.70V206.97M477.40,209.70V207.34M478.20,209.70V208.66M478.60,209.70V208.17M479.00,209.70V209.39M479.40,209.70V206.96M479.80,209.70V209.18M480.20,209.70V209.05M480.60,209.70V209.31M481.40,209.70V208.24M481.80,209.70V209.22M482.20,209.70V209.47M482.60,209.70V207.97M483.40,209.70V208.15M483.80,209.70V209.34M484.20,209.70V208.67M485.00,209.70V207.83M485.40,209.70V209.12M486.20,209.70V209.26M487.40,209.70V208.83M487.80,209.70V209.26M488.60,209.70V207.43M489.40,209.70V209.08M489.80,209.70V208.57M490.20,209.70V208.27M491.00,209.70V209.11M491.40,209.70V209.47M492.20,209.70V208.55M493.00,209.70V206.71M494.20,209.70V208.44M495.00,209.70V209.07M495.40,209.70V207.05M496.20,209.70V208.63M497.00,209.70V207.46M497.40,209.70V209.30M497.80,209.70V208.33M498.60,209.70V208.08M499.00,209.70V208.83M499.40,209.70V209.36M500.20,209.70V209.06M501.00,209.70V208.64M501.40,209.70V209.30M502.60,209.70V207.96M503.40,209.70V207.50M503.80,209.70V207.29M504.20,209.70V209.15M504.60,209.70V208.08M505.00,209.70V208.57M505.40,209.70V206.80M505.80,209.70V208.77M506.60,209.70V209.27M507.00,209.70V208.48M507.80,209.70V206.73M508.20,209.70V208.80M508.60,209.70V207.84M509.00,209.70V207.80M510.20,209.70V207.82M511.80,209.70V208.60M512.20,209.70V207.94M512.60,209.70V209.39M513.00,209.70V209.16M513.40,209.70V207.55M513.80,209.70V207.66M514.20,209.70V208.88M514.60,209.70V207.44M515.00,209.70V207.99M515.40,209.70V208.07M515.80,209.70V208.47M516.60,209.70V206.53M517.00,209.70V209.20M517.80,209.70V206.97M518.20,209.70V207.32M518.60,209.70V208.61M519.00,209.70V208.89M519.40,209.70V206.85M519.80,209.70V206.84M520.20,209.70V207.88M520.60,209.70V206.52M521.00,209.70V209.49M521.80,209.70V208.14M522.20,209.70V208.94M523.40,209.70V209.39M523.80,209.70V208.02M524.60,209.70V208.95M525.00,209.70V207.94M525.40,209.70V206.66M525.80,209.70V207.31M526.60,209.70V209.11M527.00,209.70V208.87M527.40,209.70V207.45M527.80,209.70V209.11M528.20,209.70V207.70M529.40,209.70V208.91M529.80,209.70V209.25M530.20,209.70V207.90M530.60,209.70V206.64M531.00,209.70V206.29M531.80,209.70V208.36M533.00,209.70V209.23M533.80,209.70V208.55M534.20,209.70V207.08M535.00,209.70V207.96M535.40,209.70V208.98M535.80,209.70V208.83M536.20,209.70V208.40M536.60,209.70V207.18M537.00,209.70V209.10M537.40,209.70V206.98M537.80,209.70V208.65M538.20,209.70V208.95M539.00,209.70V206.56M539.40,209.70V209.25M539.80,209.70V209.13M540.20,209.70V208.39M541.00,209.70V207.91M541.40,209.70V204.44M541.80,209.70V203.29M542.60,209.70V207.69M543.00,209.70V209.24M543.40,209.70V203.58M543.80,209.70V206.61M544.20,209.70V207.96M544.60,209.70V202.84M545.00,209.70V209.49M545.80,209.70V204.75M546.20,209.70V209.28M546.60,209.70V203.10M547.00,209.70V208.74M547.80,209.70V201.49M548.20,209.70V207.11M548.60,209.70V205.80M549.00,209.70V206.98M549.80,209.70V201.62M550.20,209.70V208.19M550.60,209.70V206.66M551.00,209.70V202.88M551.40,209.70V203.67M551.80,209.70V202.32M552.20,209.70V206.82M553.40,209.70V204.82M554.20,209.70V207.81M555.00,209.70V202.40M556.20,209.70V202.67M556.60,209.70V203.17M557.00,209.70V202.53M557.40,209.70V208.93M557.80,209.70V208.17M558.20,209.70V207.56M558.60,209.70V194.20M559.00,209.70V207.53M559.40,209.70V207.78M559.80,209.70V207.81M560.20,209.70V209.48M560.60,209.70V203.26M561.40,209.70V204.59M561.80,209.70V209.29M562.60,209.70V208.65M563.00,209.70V205.72M563.40,209.70V205.18M563.80,209.70V206.43M564.20,209.70V205.53M564.60,209.70V207.76M565.40,209.70V209.08M565.80,209.70V208.84M566.20,209.70V208.92M566.60,209.70V202.52M567.00,209.70V204.29M567.40,209.70V209.22M567.80,209.70V209.28M568.20,209.70V208.06M568.60,209.70V209.00M569.00,209.70V209.24M569.40,209.70V208.39M569.80,209.70V207.83M570.20,209.70V202.42M570.60,209.70V208.46M571.40,209.70V204.49M572.20,209.70V208.79M572.60,209.70V208.88M573.00,209.70V207.70M573.40,209.70V208.52M573.80,209.70V206.15M574.20,209.70V209.17M574.60,209.70V208.71M575.00,209.70V206.78M575.40,209.70V207.40M575.80,209.70V200.70M576.20,209.70V200.70M577.00,209.70V206.81M577.40,209.70V203.44M577.80,209.70V205.86M578.20,209.70V204.62M578.60,209.70V208.46M579.40,209.70V208.82M579.80,209.70V203.89M580.60,209.70V207.27M582.20,209.70V208.76M582.60,209.70V208.51M583.00,209.70V206.70M583.80,209.70V206.37M584.20,209.70V208.46M584.60,209.70V202.29M585.00,209.70V208.21M585.40,209.70V203.83M585.80,209.70V209.04M586.20,209.70V207.41M586.60,209.70V209.48M587.80,209.70V207.89M588.60,209.70V193.70M589.00,209.70V207.77M589.40,209.70V202.49M589.80,209.70V207.86M590.20,209.70V209.18M591.00,209.70V207.08M591.40,209.70V205.50M591.80,209.70V204.35M592.20,209.70V207.53M592.60,209.70V209.12M593.00,209.70V204.16M593.40,209.70V204.82M594.20,209.70V208.72M594.60,209.70V207.27M595.00,209.70V208.79M595.40,209.70V202.88M595.80,209.70V208.76M596.20,209.70V209.34M596.60,209.70V206.34M597.40,209.70V208.45M597.80,209.70V209.36M598.20,209.70V209.44M598.60,209.70V207.18M599.00,209.70V205.70M599.40,209.70V207.77M599.80,209.70V207.00M600.60,209.70V206.47M601.00,209.70V208.35M601.40,209.70V206.14M602.20,209.70V205.34M602.60,209.70V205.24M603.40,209.70V209.28M603.80,209.70V208.32M604.20,209.70V208.60M604.60,209.70V208.81M605.00,209.70V206.44M605.40,209.70V208.75M605.80,209.70V206.76M606.60,209.70V208.48M607.00,209.70V206.20M607.40,209.70V208.53M607.80,209.70V206.67M608.20,209.70V207.57M608.60,209.70V207.41M609.00,209.70V208.81M609.40,209.70V209.49M609.80,209.70V208.43M610.60,209.70V209.33M611.80,209.70V208.36M613.40,209.70V208.55M613.80,209.70V206.40M614.20,209.70V208.36M614.60,209.70V209.35M615.40,209.70V208.82M615.80,209.70V209.46M616.60,209.70V208.67M617.40,209.70V207.01M617.80,209.70V206.11M618.20,209.70V207.62M619.00,209.70V205.45M619.40,209.70V207.22M619.80,209.70V207.85M620.20,209.70V208.68M620.60,209.70V206.38M621.00,209.70V208.70M621.40,209.70V209.01M621.80,209.70V209.47M622.20,209.70V208.31M623.00,209.70V208.01M623.40,209.70V207.25M623.80,209.70V205.65M624.20,209.70V207.47M625.00,209.70V207.34M625.80,209.70V205.39M626.20,209.70V208.79M627.00,209.70V207.84M627.80,209.70V208.10M628.20,209.70V209.42M628.60,209.70V207.06M629.00,209.70V208.90M629.40,209.70V208.18M629.80,209.70V206.88M630.20,209.70V207.66M631.00,209.70V209.31M631.80,209.70V209.14M632.20,209.70V208.94M632.60,209.70V209.32M633.00,209.70V208.91M633.40,209.70V209.27M633.80,209.70V209.05M634.20,209.70V209.34M634.60,209.70V208.51M635.00,209.70V209.33M635.40,209.70V209.28M635.80,209.70V208.40M636.20,209.70V205.58M636.60,209.70V206.67M637.00,209.70V207.91M637.40,209.70V205.56M637.80,209.70V208.07M638.20,209.70V203.36M638.60,209.70V207.05M639.80,209.70V202.21M640.20,209.70V208.07M640.60,209.70V209.35M641.00,209.70V206.49M641.80,209.70V204.19M642.60,209.70V209.15M643.00,209.70V209.17M645.00,209.70V205.78M645.40,209.70V205.49M645.80,209.70V206.98M646.20,209.70V206.55M646.60,209.70V202.50M647.00,209.70V206.53M647.40,209.70V208.58M647.80,209.70V207.60M648.20,209.70V208.31M649.00,209.70V205.86M649.40,209.70V208.25M649.80,209.70V201.70M650.20,209.70V201.70M650.60,209.70V208.23M651.00,209.70V207.94M651.40,209.70V207.40M651.80,209.70V209.37M652.60,209.70V208.06M653.00,209.70V203.99M653.40,209.70V209.00M654.20,209.70V205.70M654.60,209.70V206.00M655.00,209.70V209.43M655.40,209.70V209.49M655.80,209.70V206.87M656.60,209.70V208.22M657.00,209.70V208.05M657.40,209.70V209.48M657.80,209.70V206.83M658.20,209.70V203.53M658.60,209.70V203.88M659.00,209.70V206.14M659.80,209.70V203.76M660.20,209.70V207.31M660.60,209.70V209.20M661.00,209.70V202.70M661.80,209.70V204.72M662.20,209.70V209.11M662.60,209.70V203.33M663.40,209.70V209.10M663.80,209.70V202.59M664.60,209.70V209.36M665.00,209.70V203.19M665.40,209.70V203.74M665.80,209.70V209.16M666.20,209.70V207.75M666.60,209.70V208.71M667.00,209.70V209.18M667.40,209.70V203.25M667.80,209.70V203.73M668.20,209.70V209.47M668.60,209.70V202.71M669.00,209.70V203.54" stroke="#a6a6a6" stroke-width="0.45" fill="none"/>
<line x1="370.00" y1="191.50" x2="370.00" y2="209.70" stroke="#444" stroke-width="0.6"/>
<line x1="370.00" y1="209.70" x2="669.30" y2="209.70" stroke="#666" stroke-width="0.7"/>
<line x1="367.80" y1="199.00" x2="370.00" y2="199.00" stroke="#444" stroke-width="0.5"/>
<text x="368.20" y="201.40" font-size="7.4" text-anchor="end" fill="#231f20" stroke="#231f20" stroke-width="0.22">2.5</text>
<line x1="367.80" y1="209.70" x2="370.00" y2="209.70" stroke="#444" stroke-width="0.5"/>
<text x="368.20" y="212.10" font-size="7.4" text-anchor="end" fill="#231f20" stroke="#231f20" stroke-width="0.22">0.0</text>
<text x="372.20" y="197.60" font-size="7.4" fill="#231f20" stroke="#231f20" stroke-width="0.22">Relative clonal expansion</text>
<path d="M371.00,231.90V231.14M371.40,231.90V230.47M371.80,231.90V230.71M372.60,231.90V229.67M373.00,231.90V229.92M373.40,231.90V231.54M373.80,231.90V231.37M375.00,231.90V230.60M375.40,231.90V230.46M375.80,231.90V231.16M377.00,231.90V229.42M377.80,231.90V231.38M378.60,231.90V230.91M379.00,231.90V229.96M381.40,231.90V230.36M382.20,231.90V230.85M382.60,231.90V227.22M383.00,231.90V227.86M385.00,231.90V227.90M385.80,231.90V231.41M386.60,231.90V230.46M387.80,231.90V231.18M388.60,231.90V231.36M389.00,231.90V227.40M389.80,231.90V230.91M390.60,231.90V229.39M391.00,231.90V231.65M391.40,231.90V231.23M391.80,231.90V231.56M393.00,231.90V228.40M393.40,231.90V230.75M393.80,231.90V231.12M395.40,231.90V229.30M395.80,231.90V229.46M396.20,231.90V231.50M396.60,231.90V231.52M397.00,231.90V231.65M397.40,231.90V231.69M397.80,231.90V229.56M398.20,231.90V231.47M399.00,231.90V230.53M399.80,231.90V230.56M400.20,231.90V231.00M401.40,231.90V230.58M402.20,231.90V231.05M403.40,231.90V231.55M403.80,231.90V231.06M404.60,231.90V230.72M405.40,231.90V230.09M405.80,231.90V229.46M406.20,231.90V231.43M407.00,231.90V229.70M407.40,231.90V230.90M407.80,231.90V230.75M408.20,231.90V230.54M408.60,231.90V231.00M409.00,231.90V231.14M409.40,231.90V231.10M410.20,231.90V231.59M411.00,231.90V231.12M411.40,231.90V231.53M412.20,231.90V224.90M412.60,231.90V224.90M413.00,231.90V231.69M413.40,231.90V231.24M413.80,231.90V228.69M415.00,231.90V229.86M416.20,231.90V229.57M416.60,231.90V231.63M417.00,231.90V231.08M417.80,231.90V231.31M418.20,231.90V229.51M419.40,231.90V231.31M420.20,231.90V229.97M420.60,231.90V231.61M421.40,231.90V231.69M421.80,231.90V229.84M422.60,231.90V231.48M423.40,231.90V231.49M423.80,231.90V231.52M424.20,231.90V231.14M425.00,231.90V228.72M425.80,231.90V230.53M426.60,231.90V229.37M427.00,231.90V231.19M427.40,231.90V231.07M427.80,231.90V230.70M428.20,231.90V230.62M428.60,231.90V231.39M429.40,231.90V231.55M429.80,231.90V230.69M430.60,231.90V231.56M431.00,231.90V229.99M431.80,231.90V231.61M432.20,231.90V230.84M432.60,231.90V231.51M433.00,231.90V231.68M433.40,231.90V230.19M434.60,231.90V230.89M435.40,231.90V229.86M435.80,231.90V231.52M436.20,231.90V231.48M437.00,231.90V230.39M437.80,231.90V230.48M438.60,231.90V229.44M439.00,231.90V230.87M439.40,231.90V230.24M439.80,231.90V231.07M440.20,231.90V230.82M441.40,231.90V231.64M441.80,231.90V231.14M443.00,231.90V231.28M443.40,231.90V230.04M443.80,231.90V231.61M444.20,231.90V231.21M444.60,231.90V229.70M445.80,231.90V231.46M446.20,231.90V231.34M447.40,231.90V231.43M448.20,231.90V230.73M448.60,231.90V230.82M449.80,231.90V231.23M450.20,231.90V230.05M451.80,231.90V229.61M452.60,231.90V229.48M453.00,231.90V230.35M453.40,231.90V231.13M454.20,231.90V231.17M454.60,231.90V231.68M455.00,231.90V230.29M455.40,231.90V230.42M455.80,231.90V230.19M456.20,231.90V231.23M456.60,231.90V230.71M457.00,231.90V231.29M457.80,231.90V231.51M458.60,231.90V229.98M459.00,231.90V231.61M460.20,231.90V231.68M461.80,231.90V228.74M462.60,231.90V230.92M463.00,231.90V231.53M464.20,231.90V230.76M464.60,231.90V231.17M465.40,231.90V229.47M466.60,231.90V230.80M467.40,231.90V229.68M467.80,231.90V231.61M468.60,231.90V230.54M469.40,231.90V229.37M470.60,231.90V231.49M472.20,231.90V231.65M472.60,231.90V228.98M473.40,231.90V231.66M474.60,231.90V229.80M475.00,231.90V230.16M475.80,231.90V231.50M476.20,231.90V231.69M476.60,231.90V230.77M477.40,231.90V230.32M478.60,231.90V230.35M479.80,231.90V231.61M480.60,231.90V230.87M481.40,231.90V231.70M481.80,231.90V231.63M482.20,231.90V230.66M482.60,231.90V229.95M483.00,231.90V230.63M483.40,231.90V231.59M483.80,231.90V231.03M484.20,231.90V230.76M485.00,231.90V231.69M486.60,231.90V230.61M487.80,231.90V230.14M488.20,231.90V231.17M488.60,231.90V231.61M489.00,231.90V230.00M489.40,231.90V230.31M490.60,231.90V231.58M491.00,231.90V230.47M491.80,231.90V231.55M492.20,231.90V231.59M492.60,231.90V229.71M493.00,231.90V229.50M493.80,231.90V231.63M494.20,231.90V227.72M494.60,231.90V231.51M495.00,231.90V231.67M495.80,231.90V231.32M496.20,231.90V230.66M497.00,231.90V229.42M497.40,231.90V230.20M497.80,231.90V231.66M498.20,231.90V230.29M499.40,231.90V229.92M499.80,231.90V230.46M500.20,231.90V230.94M500.60,231.90V231.14M501.00,231.90V230.16M501.40,231.90V231.25M501.80,231.90V231.68M502.60,231.90V231.69M503.00,231.90V230.86M503.40,231.90V229.42M503.80,231.90V229.78M504.20,231.90V230.98M504.60,231.90V230.45M505.00,231.90V231.23M505.40,231.90V231.42M506.60,231.90V230.63M508.20,231.90V230.98M508.60,231.90V229.94M509.00,231.90V230.26M509.40,231.90V231.18M509.80,231.90V231.43M510.60,231.90V231.37M511.80,231.90V229.93M512.20,231.90V231.17M513.00,231.90V231.34M513.40,231.90V231.70M514.60,231.90V229.94M515.00,231.90V231.11M515.80,231.90V231.31M516.20,231.90V230.04M516.60,231.90V231.63M517.00,231.90V231.40M517.80,231.90V231.19M518.20,231.90V231.52M518.60,231.90V231.32M519.40,231.90V231.23M519.80,231.90V230.91M520.60,231.90V230.27M521.40,231.90V231.07M522.20,231.90V230.24M524.20,231.90V230.73M524.60,231.90V230.43M525.00,231.90V229.78M525.40,231.90V231.13M526.60,231.90V231.70M527.00,231.90V230.94M527.80,231.90V231.37M528.60,231.90V231.70M529.00,231.90V231.48M529.40,231.90V229.66M529.80,231.90V230.63M530.60,231.90V231.52M531.00,231.90V230.72M531.40,231.90V231.69M531.80,231.90V231.47M532.20,231.90V230.50M533.00,231.90V230.21M535.00,231.90V229.40M535.40,231.90V231.68M536.20,231.90V228.10M536.60,231.90V230.96M537.00,231.90V231.56M537.40,231.90V231.43M538.20,231.90V231.59M539.00,231.90V229.59M539.40,231.90V231.45M539.80,231.90V231.67M540.20,231.90V231.53M540.60,231.90V229.45M541.00,231.90V230.84M541.40,231.90V230.28M541.80,231.90V229.64M542.20,231.90V229.36M542.60,231.90V228.71M543.00,231.90V229.52M543.40,231.90V230.22M543.80,231.90V228.93M545.80,231.90V231.48M546.20,231.90V231.64M546.60,231.90V229.57M547.40,231.90V229.02M548.20,231.90V229.32M549.00,231.90V231.55M549.40,231.90V230.36M549.80,231.90V230.25M550.20,231.90V231.32M550.60,231.90V230.62M551.40,231.90V231.65M551.80,231.90V231.43M552.20,231.90V228.98M552.60,231.90V231.16M553.00,231.90V231.24M553.80,231.90V228.29M554.20,231.90V231.57M554.60,231.90V231.01M555.80,231.90V230.80M556.20,231.90V231.50M556.60,231.90V229.29M557.00,231.90V231.29M557.40,231.90V229.20M557.80,231.90V228.80M558.60,231.90V215.40M559.00,231.90V230.46M559.40,231.90V231.63M560.20,231.90V229.93M560.60,231.90V231.69M561.00,231.90V231.17M561.40,231.90V231.49M563.00,231.90V230.20M563.80,231.90V230.95M564.20,231.90V230.94M565.00,231.90V231.52M566.20,231.90V231.06M566.60,231.90V229.97M567.00,231.90V227.90M567.80,231.90V231.01M569.00,231.90V230.71M569.80,231.90V230.86M570.20,231.90V230.53M570.60,231.90V230.88M572.20,231.90V231.33M572.60,231.90V231.46M573.40,231.90V229.12M574.60,231.90V230.97M575.40,231.90V231.40M575.80,231.90V231.51M576.20,231.90V229.38M577.00,231.90V231.27M577.40,231.90V231.21M577.80,231.90V231.57M578.20,231.90V229.89M579.00,231.90V231.68M579.80,231.90V227.90M580.20,231.90V227.90M581.00,231.90V230.93M581.40,231.90V231.11M581.80,231.90V228.93M582.20,231.90V230.91M583.80,231.90V231.58M585.00,231.90V230.16M585.40,231.90V231.35M585.80,231.90V231.57M587.00,231.90V231.34M587.40,231.90V229.13M589.00,231.90V231.25M589.80,231.90V228.92M590.60,231.90V229.34M591.00,231.90V230.92M591.80,231.90V231.29M592.60,231.90V231.46M593.00,231.90V229.34M593.40,231.90V231.37M593.80,231.90V230.42M594.20,231.90V231.45M594.60,231.90V231.03M595.40,231.90V230.49M595.80,231.90V228.72M596.60,231.90V231.51M597.00,231.90V229.76M597.40,231.90V230.64M597.80,231.90V231.12M598.20,231.90V231.68M598.60,231.90V230.53M599.00,231.90V230.31M599.40,231.90V231.08M599.80,231.90V226.90M600.20,231.90V226.90M601.40,231.90V231.58M602.20,231.90V230.35M603.40,231.90V230.81M603.80,231.90V229.88M604.60,231.90V231.36M605.00,231.90V231.00M606.20,231.90V230.27M607.00,231.90V231.43M607.80,231.90V229.79M608.20,231.90V229.93M608.60,231.90V231.63M609.80,231.90V226.90M610.20,231.90V226.90M611.00,231.90V231.65M611.40,231.90V230.35M611.80,231.90V230.70M613.80,231.90V231.52M614.20,231.90V231.43M615.00,231.90V230.29M615.40,231.90V229.90M615.80,231.90V230.56M616.20,231.90V228.33M616.60,231.90V228.79M619.00,231.90V231.63M619.40,231.90V229.07M619.80,231.90V230.68M620.20,231.90V231.60M620.60,231.90V230.22M621.00,231.90V230.29M621.40,231.90V229.74M621.80,231.90V230.32M622.20,231.90V229.34M622.60,231.90V231.57M623.00,231.90V230.82M623.40,231.90V230.57M624.60,231.90V230.28M625.00,231.90V231.28M625.40,231.90V231.67M625.80,231.90V231.03M627.00,231.90V231.55M627.80,231.90V229.04M629.40,231.90V231.05M629.80,231.90V231.43M630.20,231.90V231.50M630.60,231.90V231.02M631.40,231.90V231.52M632.20,231.90V230.01M632.60,231.90V231.26M633.00,231.90V230.79M633.80,231.90V231.59M634.20,231.90V229.76M635.80,231.90V229.35M636.60,231.90V231.45M637.40,231.90V231.50M637.80,231.90V230.75M639.40,231.90V231.70M640.60,231.90V231.47M641.00,231.90V229.72M641.40,231.90V230.70M641.80,231.90V229.66M643.00,231.90V231.37M643.40,231.90V231.35M643.80,231.90V221.90M644.20,231.90V230.83M644.60,231.90V231.59M645.40,231.90V229.61M645.80,231.90V231.67M646.20,231.90V231.09M646.60,231.90V231.51M647.40,231.90V230.36M648.20,231.90V230.95M648.60,231.90V229.46M649.40,231.90V230.66M649.80,231.90V229.78M650.20,231.90V230.98M651.80,231.90V231.66M652.20,231.90V229.15M652.60,231.90V231.62M653.00,231.90V228.72M653.40,231.90V230.40M653.80,231.90V231.48M654.60,231.90V229.24M655.40,231.90V231.53M655.80,231.90V231.49M656.60,231.90V230.82M657.00,231.90V231.37M657.40,231.90V231.36M657.80,231.90V230.23M660.20,231.90V228.79M662.60,231.90V228.74M663.00,231.90V229.32M663.40,231.90V230.21M664.60,231.90V230.54M665.40,231.90V229.81M665.80,231.90V230.49M666.20,231.90V229.38M666.60,231.90V231.64M667.00,231.90V231.00M667.40,231.90V231.48M668.20,231.90V231.66M668.60,231.90V231.41M669.00,231.90V230.41" stroke="#a6a6a6" stroke-width="0.45" fill="none"/>
<line x1="370.00" y1="213.40" x2="370.00" y2="231.90" stroke="#444" stroke-width="0.6"/>
<line x1="370.00" y1="231.90" x2="669.30" y2="231.90" stroke="#666" stroke-width="0.7"/>
<line x1="367.80" y1="222.00" x2="370.00" y2="222.00" stroke="#444" stroke-width="0.5"/>
<text x="368.20" y="224.40" font-size="7.4" text-anchor="end" fill="#231f20" stroke="#231f20" stroke-width="0.22">20</text>
<line x1="367.80" y1="231.90" x2="370.00" y2="231.90" stroke="#444" stroke-width="0.5"/>
<text x="368.20" y="234.30" font-size="7.4" text-anchor="end" fill="#231f20" stroke="#231f20" stroke-width="0.22">0</text>
<text x="372.20" y="219.80" font-size="7.4" fill="#231f20" stroke="#231f20" stroke-width="0.22">Number of individuals</text>
<text x="372.20" y="246.80" font-size="7.4" fill="#231f20" stroke="#231f20" stroke-width="0.22">Major T cell subtypes</text>
<text x="356.30" y="257.90" font-size="7.2" font-weight="bold" fill="#4cae8b" stroke="#4cae8b" stroke-width="0.08">CD8<tspan dy="-2.9" font-size="4.0">+</tspan><tspan dy="2.9">​</tspan> MAIT/iNKT</text>
<text x="416.30" y="257.90" font-size="7.2" fill="#86d8e0" stroke="#86d8e0" stroke-width="0.22">CD4<tspan dy="-2.9" font-size="4.0">+</tspan><tspan dy="2.9">​</tspan> <tspan font-style="italic">CD40LG</tspan><tspan dy="-2.9" font-size="4.0">+</tspan><tspan dy="2.9">​</tspan></text>
<text x="469.30" y="257.90" font-size="7.2" font-weight="bold" fill="#4f82c2" stroke="#4f82c2" stroke-width="0.08">CD4<tspan dy="-2.9" font-size="4.0">+</tspan><tspan dy="2.9">​</tspan> T<tspan dy="0.9" font-size="5.2">conv</tspan><tspan dy="-0.9">​</tspan></text>
<text x="528.40" y="257.90" font-size="7.2" font-weight="bold" fill="#6b3fb0" stroke="#6b3fb0" stroke-width="0.08">CD4<tspan dy="-2.9" font-size="4.0">+</tspan><tspan dy="2.9">​</tspan> T<tspan dy="0.9" font-size="5.2">reg</tspan><tspan dy="-0.9">​</tspan></text>
<text x="605.30" y="257.90" font-size="7.2" font-weight="bold" fill="#e8c24a" stroke="#e8c24a" stroke-width="0.08">CD8<tspan dy="-2.9" font-size="4.0">+</tspan><tspan dy="2.9">​</tspan></text>
<rect x="549.50" y="262.00" width="119.90" height="2.30" fill="#ecc94e"/>
<rect x="418.40" y="262.00" width="1.90" height="2.30" fill="#f0d98a"/>
<rect x="445.30" y="262.00" width="1.20" height="2.30" fill="#f0d98a"/>
<rect x="511.40" y="262.00" width="7.60" height="2.30" fill="#f0d98a"/>
<rect x="520.50" y="262.00" width="5.50" height="2.30" fill="#f0d98a"/>
<rect x="528.00" y="262.00" width="6.00" height="2.30" fill="#f0d98a"/>
<rect x="536.00" y="262.00" width="4.00" height="2.30" fill="#f0d98a"/>
<rect x="543.00" y="262.00" width="5.00" height="2.30" fill="#f0d98a"/>
<rect x="370.50" y="264.40" width="48.20" height="2.30" fill="#4fb08d"/>
<rect x="374.60" y="264.40" width="0.80" height="2.30" fill="#2f8f6d"/>
<rect x="432.70" y="267.10" width="17.50" height="2.30" fill="#b7a2dc"/>
<rect x="541.40" y="267.10" width="8.10" height="2.30" fill="#6c40b8"/>
<rect x="425.70" y="269.60" width="23.30" height="2.20" fill="#a9c6ea"/>
<rect x="449.00" y="269.60" width="62.00" height="2.20" fill="#4f82c2"/>
<rect x="511.00" y="269.60" width="13.00" height="2.20" fill="#8fb2de"/>
<rect x="524.00" y="269.60" width="17.40" height="2.20" fill="#4f82c2"/>
<rect x="375.50" y="269.80" width="0.90" height="1.60" fill="#7fa6da"/>
<rect x="657.50" y="269.80" width="2.50" height="1.60" fill="#c2d6f0"/>
<rect x="419.90" y="271.90" width="12.80" height="2.30" fill="#a8e4ec"/>
<rect x="420.83" y="272.30" width="0.70" height="1.60" fill="#e6eef8"/>
<rect x="576.17" y="272.30" width="0.70" height="1.60" fill="#e6eef8"/>
<rect x="559.96" y="272.30" width="0.70" height="1.60" fill="#e6eef8"/>
<rect x="513.81" y="272.30" width="0.70" height="1.60" fill="#e6eef8"/>
<rect x="435.94" y="272.30" width="0.70" height="1.60" fill="#e6eef8"/>
<rect x="606.62" y="272.30" width="0.70" height="1.60" fill="#e6eef8"/>
<rect x="611.12" y="272.30" width="0.70" height="1.60" fill="#e6eef8"/>
<rect x="523.69" y="272.30" width="0.70" height="1.60" fill="#e6eef8"/>
<rect x="521.50" y="272.30" width="0.70" height="1.60" fill="#e6eef8"/>
<rect x="441.87" y="272.30" width="0.70" height="1.60" fill="#e6eef8"/>
<rect x="372.94" y="272.30" width="0.70" height="1.60" fill="#e6eef8"/>
<rect x="481.83" y="272.30" width="0.70" height="1.60" fill="#e6eef8"/>
<rect x="545.27" y="272.30" width="0.70" height="1.60" fill="#e6eef8"/>
<rect x="392.50" y="272.30" width="0.70" height="1.60" fill="#e6eef8"/>
<rect x="606.95" y="272.30" width="0.70" height="1.60" fill="#e6eef8"/>
<rect x="440.75" y="272.30" width="0.70" height="1.60" fill="#e6eef8"/>
<rect x="440.88" y="272.30" width="0.70" height="1.60" fill="#e6eef8"/>
<rect x="384.53" y="272.30" width="0.70" height="1.60" fill="#e6eef8"/>
<rect x="667.28" y="272.30" width="0.70" height="1.60" fill="#e6eef8"/>
<rect x="590.65" y="272.30" width="0.70" height="1.60" fill="#e6eef8"/>
<rect x="631.01" y="272.30" width="0.70" height="1.60" fill="#e6eef8"/>
<rect x="554.30" y="272.30" width="0.70" height="1.60" fill="#e6eef8"/>
<rect x="382.08" y="272.30" width="0.70" height="1.60" fill="#e6eef8"/>
<rect x="469.36" y="272.30" width="0.70" height="1.60" fill="#e6eef8"/>
<rect x="519.28" y="272.30" width="0.70" height="1.60" fill="#e6eef8"/>
<rect x="406.28" y="272.30" width="0.70" height="1.60" fill="#e6eef8"/>
<rect x="653.78" y="272.30" width="0.70" height="1.60" fill="#e6eef8"/>
<rect x="481.06" y="272.30" width="0.70" height="1.60" fill="#e6eef8"/>
<rect x="417.82" y="272.30" width="0.70" height="1.60" fill="#e6eef8"/>
<rect x="613.98" y="272.30" width="0.70" height="1.60" fill="#e6eef8"/>
<rect x="408.96" y="272.30" width="0.70" height="1.60" fill="#e6eef8"/>
<rect x="646.67" y="272.30" width="0.70" height="1.60" fill="#e6eef8"/>
<rect x="506.13" y="272.30" width="0.70" height="1.60" fill="#e6eef8"/>
<rect x="535.39" y="272.30" width="0.70" height="1.60" fill="#e6eef8"/>
<rect x="473.50" y="272.30" width="0.70" height="1.60" fill="#e6eef8"/>
<rect x="515.47" y="272.30" width="0.70" height="1.60" fill="#e6eef8"/>
<rect x="427.32" y="272.30" width="0.70" height="1.60" fill="#e6eef8"/>
<rect x="382.99" y="272.30" width="0.70" height="1.60" fill="#e6eef8"/>
<rect x="628.30" y="272.30" width="0.70" height="1.60" fill="#e6eef8"/>
<rect x="441.52" y="272.30" width="0.70" height="1.60" fill="#e6eef8"/>
<line x1="370.00" y1="262.00" x2="370.00" y2="275.60" stroke="#666" stroke-width="0.6"/>
<line x1="370.00" y1="275.60" x2="669.30" y2="275.60" stroke="#888" stroke-width="0.6"/>
<text x="389.30" y="282.40" font-size="7.4" fill="#231f20" stroke="#231f20" stroke-width="0.22">Minor T cell subtypes</text>
<text x="365.80" y="294.23" font-size="7.4" text-anchor="end" fill="#231f20" stroke="#231f20" stroke-width="0.22">CD8<tspan dy="-2.9" font-size="4.0">+</tspan><tspan dy="2.9">​</tspan> T<tspan dy="0.9" font-size="5.2">n</tspan><tspan dy="-0.9">​</tspan></text>
<rect x="367.90" y="288.60" width="3.10" height="6.50" fill="#ead8a0"/>
<text x="365.80" y="300.68" font-size="7.4" text-anchor="end" fill="#231f20" stroke="#231f20" stroke-width="0.22">CD8<tspan dy="-2.9" font-size="4.0">+</tspan><tspan dy="2.9">​</tspan> T<tspan dy="0.9" font-size="5.2">m</tspan><tspan dy="-0.9">​</tspan></text>
<rect x="367.90" y="295.05" width="3.10" height="6.50" fill="#e8875a"/>
<text x="365.80" y="307.12" font-size="7.4" text-anchor="end" fill="#231f20" stroke="#231f20" stroke-width="0.22">CD8<tspan dy="-2.9" font-size="4.0">+</tspan><tspan dy="2.9">​</tspan> T<tspan dy="0.9" font-size="5.2">ex</tspan><tspan dy="-0.9">​</tspan></text>
<rect x="367.90" y="301.50" width="3.10" height="6.50" fill="#d9442c"/>
<text x="365.80" y="313.57" font-size="7.4" text-anchor="end" fill="#231f20" stroke="#231f20" stroke-width="0.22">CD8<tspan dy="-2.9" font-size="4.0">+</tspan><tspan dy="2.9">​</tspan> T<tspan dy="0.9" font-size="5.2">emra</tspan><tspan dy="-0.9">​</tspan></text>
<rect x="367.90" y="307.95" width="3.10" height="6.50" fill="#b84c9c"/>
<text x="365.80" y="320.02" font-size="7.4" text-anchor="end" fill="#231f20" stroke="#231f20" stroke-width="0.22">CD8<tspan dy="-2.9" font-size="4.0">+</tspan><tspan dy="2.9">​</tspan> T<tspan dy="0.9" font-size="5.2">eff</tspan><tspan dy="-0.9">​</tspan></text>
<rect x="367.90" y="314.40" width="3.10" height="6.50" fill="#8b4a16"/>
<text x="365.80" y="326.48" font-size="7.4" text-anchor="end" fill="#231f20" stroke="#231f20" stroke-width="0.22">CD8<tspan dy="-2.9" font-size="4.0">+</tspan><tspan dy="2.9">​</tspan> MAIT/iNKT</text>
<rect x="367.90" y="320.85" width="3.10" height="6.50" fill="#8ee68e"/>
<text x="365.80" y="332.93" font-size="7.4" text-anchor="end" fill="#231f20" stroke="#231f20" stroke-width="0.22">CD8<tspan dy="-2.9" font-size="4.0">+</tspan><tspan dy="2.9">​</tspan> ILTCK-LC</text>
<rect x="367.90" y="327.30" width="3.10" height="6.50" fill="#aab4d4"/>
<text x="365.80" y="339.38" font-size="7.4" text-anchor="end" fill="#231f20" stroke="#231f20" stroke-width="0.22">CD8<tspan dy="-2.9" font-size="4.0">+</tspan><tspan dy="2.9">​</tspan> Cycling</text>
<rect x="367.90" y="333.75" width="3.10" height="6.50" fill="#e8b4d2"/>
<text x="365.80" y="345.82" font-size="7.4" text-anchor="end" fill="#231f20" stroke="#231f20" stroke-width="0.22">CD4<tspan dy="-2.9" font-size="4.0">+</tspan><tspan dy="2.9">​</tspan> T<tspan dy="0.9" font-size="5.2">reg</tspan><tspan dy="-0.9">​</tspan></text>
<rect x="367.90" y="340.20" width="3.10" height="6.50" fill="#5c2fae"/>
<text x="365.80" y="352.27" font-size="7.4" text-anchor="end" fill="#231f20" stroke="#231f20" stroke-width="0.22">CD4<tspan dy="-2.9" font-size="4.0">+</tspan><tspan dy="2.9">​</tspan> T<tspan dy="0.9" font-size="5.2">n</tspan><tspan dy="-0.9">​</tspan></text>
<rect x="367.90" y="346.65" width="3.10" height="6.50" fill="#1c2c3c"/>
<text x="365.80" y="358.73" font-size="7.4" text-anchor="end" fill="#231f20" stroke="#231f20" stroke-width="0.22">CD4<tspan dy="-2.9" font-size="4.0">+</tspan><tspan dy="2.9">​</tspan> T<tspan dy="0.9" font-size="5.2">m</tspan><tspan dy="-0.9">​</tspan></text>
<rect x="367.90" y="353.10" width="3.10" height="6.50" fill="#5a78c4"/>
<text x="365.80" y="365.18" font-size="7.4" text-anchor="end" fill="#231f20" stroke="#231f20" stroke-width="0.22">CD4<tspan dy="-2.9" font-size="4.0">+</tspan><tspan dy="2.9">​</tspan> T<tspan dy="0.9" font-size="5.2">FH</tspan><tspan dy="-0.9">​</tspan></text>
<rect x="367.90" y="359.55" width="3.10" height="6.50" fill="#8ca2ae"/>
<text x="365.80" y="371.62" font-size="7.4" text-anchor="end" fill="#231f20" stroke="#231f20" stroke-width="0.22">CD4<tspan dy="-2.9" font-size="4.0">+</tspan><tspan dy="2.9">​</tspan> <tspan font-style="italic">CD40LG</tspan><tspan dy="-2.9" font-size="4.0">+</tspan><tspan dy="2.9">​</tspan> T</text>
<rect x="367.90" y="366.00" width="3.10" height="6.50" fill="#8cdce8"/>
<text x="365.80" y="378.07" font-size="7.4" text-anchor="end" fill="#231f20" stroke="#231f20" stroke-width="0.22">CD4<tspan dy="-2.9" font-size="4.0">+</tspan><tspan dy="2.9">​</tspan> Cycling</text>
<rect x="367.90" y="372.45" width="3.10" height="6.50" fill="#a89ac8"/>
<rect x="506.36" y="288.60" width="0.60" height="6.45" fill="#faf2ea"/>
<rect x="538.25" y="288.60" width="0.60" height="6.45" fill="#faf2ea"/>
<rect x="646.49" y="288.60" width="0.60" height="6.45" fill="#faf2ea"/>
<rect x="510.30" y="288.60" width="0.60" height="6.45" fill="#faf2ea"/>
<rect x="522.83" y="288.60" width="0.60" height="6.45" fill="#faf2ea"/>
<rect x="546.45" y="288.60" width="0.60" height="6.45" fill="#faf2ea"/>
<rect x="426.84" y="288.60" width="0.60" height="6.45" fill="#faf2ea"/>
<rect x="524.04" y="288.60" width="0.60" height="6.45" fill="#faf2ea"/>
<rect x="559.08" y="288.60" width="0.60" height="6.45" fill="#faf2ea"/>
<rect x="607.51" y="288.60" width="0.60" height="6.45" fill="#faf2ea"/>
<rect x="399.95" y="288.60" width="0.60" height="6.45" fill="#faf2ea"/>
<rect x="462.11" y="288.60" width="0.60" height="6.45" fill="#faf2ea"/>
<rect x="398.93" y="288.60" width="0.60" height="6.45" fill="#faf2ea"/>
<rect x="612.46" y="288.60" width="0.60" height="6.45" fill="#faf2ea"/>
<rect x="577.95" y="288.60" width="0.60" height="6.45" fill="#faf2ea"/>
<rect x="384.44" y="288.60" width="0.60" height="6.45" fill="#faf2ea"/>
<rect x="663.71" y="288.60" width="0.60" height="6.45" fill="#faf2ea"/>
<rect x="658.53" y="288.60" width="0.60" height="6.45" fill="#faf2ea"/>
<rect x="566.21" y="288.60" width="0.60" height="6.45" fill="#faf2ea"/>
<rect x="554.82" y="288.60" width="0.60" height="6.45" fill="#faf2ea"/>
<rect x="418.78" y="288.60" width="0.60" height="6.45" fill="#faf2ea"/>
<rect x="376.46" y="288.60" width="0.60" height="6.45" fill="#faf2ea"/>
<rect x="528.93" y="295.05" width="0.60" height="6.45" fill="#fbede6"/>
<rect x="389.69" y="295.05" width="0.60" height="6.45" fill="#fbede6"/>
<rect x="428.49" y="295.05" width="0.60" height="6.45" fill="#fbede6"/>
<rect x="443.86" y="295.05" width="0.60" height="6.45" fill="#fbede6"/>
<rect x="380.93" y="295.05" width="0.60" height="6.45" fill="#fbede6"/>
<rect x="509.79" y="295.05" width="0.60" height="6.45" fill="#fbede6"/>
<rect x="502.84" y="295.05" width="0.60" height="6.45" fill="#fbede6"/>
<rect x="622.20" y="295.05" width="0.60" height="6.45" fill="#fbede6"/>
<rect x="526.18" y="295.05" width="0.60" height="6.45" fill="#fbede6"/>
<rect x="562.17" y="295.05" width="0.60" height="6.45" fill="#fbede6"/>
<rect x="520.43" y="295.05" width="0.60" height="6.45" fill="#fbede6"/>
<rect x="568.75" y="295.05" width="0.60" height="6.45" fill="#fbede6"/>
<rect x="507.83" y="295.05" width="0.60" height="6.45" fill="#fbede6"/>
<rect x="454.61" y="295.05" width="0.60" height="6.45" fill="#fbede6"/>
<rect x="668.30" y="295.05" width="0.60" height="6.45" fill="#fbede6"/>
<rect x="667.72" y="295.05" width="0.60" height="6.45" fill="#fbede6"/>
<rect x="621.54" y="295.05" width="0.60" height="6.45" fill="#fbede6"/>
<rect x="582.22" y="295.05" width="0.60" height="6.45" fill="#fbede6"/>
<rect x="465.64" y="295.05" width="0.60" height="6.45" fill="#fbede6"/>
<rect x="440.21" y="295.05" width="0.60" height="6.45" fill="#fbede6"/>
<rect x="457.84" y="295.05" width="0.60" height="6.45" fill="#fbede6"/>
<rect x="392.86" y="295.05" width="0.60" height="6.45" fill="#fbede6"/>
<rect x="599.59" y="301.50" width="0.60" height="6.45" fill="#fbebe8"/>
<rect x="490.92" y="301.50" width="0.60" height="6.45" fill="#fbebe8"/>
<rect x="623.44" y="301.50" width="0.60" height="6.45" fill="#fbebe8"/>
<rect x="486.79" y="301.50" width="0.60" height="6.45" fill="#fbebe8"/>
<rect x="656.54" y="301.50" width="0.60" height="6.45" fill="#fbebe8"/>
<rect x="623.65" y="301.50" width="0.60" height="6.45" fill="#fbebe8"/>
<rect x="372.16" y="301.50" width="0.60" height="6.45" fill="#fbebe8"/>
<rect x="434.29" y="301.50" width="0.60" height="6.45" fill="#fbebe8"/>
<rect x="642.35" y="301.50" width="0.60" height="6.45" fill="#fbebe8"/>
<rect x="511.59" y="301.50" width="0.60" height="6.45" fill="#fbebe8"/>
<rect x="663.17" y="301.50" width="0.60" height="6.45" fill="#fbebe8"/>
<rect x="490.04" y="301.50" width="0.60" height="6.45" fill="#fbebe8"/>
<rect x="393.69" y="301.50" width="0.60" height="6.45" fill="#fbebe8"/>
<rect x="558.95" y="301.50" width="0.60" height="6.45" fill="#fbebe8"/>
<rect x="603.22" y="301.50" width="0.60" height="6.45" fill="#fbebe8"/>
<rect x="452.12" y="301.50" width="0.60" height="6.45" fill="#fbebe8"/>
<rect x="397.88" y="301.50" width="0.60" height="6.45" fill="#fbebe8"/>
<rect x="470.78" y="301.50" width="0.60" height="6.45" fill="#fbebe8"/>
<rect x="658.33" y="301.50" width="0.60" height="6.45" fill="#fbebe8"/>
<rect x="597.14" y="301.50" width="0.60" height="6.45" fill="#fbebe8"/>
<rect x="407.04" y="301.50" width="0.60" height="6.45" fill="#fbebe8"/>
<rect x="445.18" y="301.50" width="0.60" height="6.45" fill="#fbebe8"/>
<rect x="402.01" y="307.95" width="0.60" height="6.45" fill="#faeef7"/>
<rect x="389.79" y="307.95" width="0.60" height="6.45" fill="#faeef7"/>
<rect x="608.72" y="307.95" width="0.60" height="6.45" fill="#faeef7"/>
<rect x="424.77" y="307.95" width="0.60" height="6.45" fill="#faeef7"/>
<rect x="538.11" y="307.95" width="0.60" height="6.45" fill="#faeef7"/>
<rect x="504.89" y="307.95" width="0.60" height="6.45" fill="#faeef7"/>
<rect x="428.63" y="307.95" width="0.60" height="6.45" fill="#faeef7"/>
<rect x="589.37" y="307.95" width="0.60" height="6.45" fill="#faeef7"/>
<rect x="410.90" y="307.95" width="0.60" height="6.45" fill="#faeef7"/>
<rect x="563.18" y="307.95" width="0.60" height="6.45" fill="#faeef7"/>
<rect x="406.60" y="307.95" width="0.60" height="6.45" fill="#faeef7"/>
<rect x="496.96" y="307.95" width="0.60" height="6.45" fill="#faeef7"/>
<rect x="435.22" y="307.95" width="0.60" height="6.45" fill="#faeef7"/>
<rect x="452.13" y="307.95" width="0.60" height="6.45" fill="#faeef7"/>
<rect x="660.37" y="307.95" width="0.60" height="6.45" fill="#faeef7"/>
<rect x="610.61" y="307.95" width="0.60" height="6.45" fill="#faeef7"/>
<rect x="462.33" y="307.95" width="0.60" height="6.45" fill="#faeef7"/>
<rect x="634.80" y="307.95" width="0.60" height="6.45" fill="#faeef7"/>
<rect x="434.58" y="307.95" width="0.60" height="6.45" fill="#faeef7"/>
<rect x="489.10" y="307.95" width="0.60" height="6.45" fill="#faeef7"/>
<rect x="625.75" y="307.95" width="0.60" height="6.45" fill="#faeef7"/>
<rect x="562.63" y="307.95" width="0.60" height="6.45" fill="#faeef7"/>
<rect x="401.80" y="314.40" width="0.60" height="6.45" fill="#f8f0e8"/>
<rect x="665.82" y="314.40" width="0.60" height="6.45" fill="#f8f0e8"/>
<rect x="435.33" y="314.40" width="0.60" height="6.45" fill="#f8f0e8"/>
<rect x="448.71" y="314.40" width="0.60" height="6.45" fill="#f8f0e8"/>
<rect x="601.49" y="314.40" width="0.60" height="6.45" fill="#f8f0e8"/>
<rect x="469.70" y="314.40" width="0.60" height="6.45" fill="#f8f0e8"/>
<rect x="460.01" y="314.40" width="0.60" height="6.45" fill="#f8f0e8"/>
<rect x="393.80" y="314.40" width="0.60" height="6.45" fill="#f8f0e8"/>
<rect x="398.76" y="314.40" width="0.60" height="6.45" fill="#f8f0e8"/>
<rect x="545.07" y="314.40" width="0.60" height="6.45" fill="#f8f0e8"/>
<rect x="444.17" y="314.40" width="0.60" height="6.45" fill="#f8f0e8"/>
<rect x="550.58" y="314.40" width="0.60" height="6.45" fill="#f8f0e8"/>
<rect x="482.40" y="314.40" width="0.60" height="6.45" fill="#f8f0e8"/>
<rect x="506.60" y="314.40" width="0.60" height="6.45" fill="#f8f0e8"/>
<rect x="656.86" y="314.40" width="0.60" height="6.45" fill="#f8f0e8"/>
<rect x="515.67" y="314.40" width="0.60" height="6.45" fill="#f8f0e8"/>
<rect x="542.65" y="314.40" width="0.60" height="6.45" fill="#f8f0e8"/>
<rect x="629.36" y="314.40" width="0.60" height="6.45" fill="#f8f0e8"/>
<rect x="426.30" y="314.40" width="0.60" height="6.45" fill="#f8f0e8"/>
<rect x="417.78" y="314.40" width="0.60" height="6.45" fill="#f8f0e8"/>
<rect x="641.80" y="314.40" width="0.60" height="6.45" fill="#f8f0e8"/>
<rect x="614.89" y="314.40" width="0.60" height="6.45" fill="#f8f0e8"/>
<rect x="446.10" y="320.85" width="0.60" height="6.45" fill="#f1fbf1"/>
<rect x="428.37" y="320.85" width="0.60" height="6.45" fill="#f1fbf1"/>
<rect x="591.61" y="320.85" width="0.60" height="6.45" fill="#f1fbf1"/>
<rect x="651.30" y="320.85" width="0.60" height="6.45" fill="#f1fbf1"/>
<rect x="430.39" y="320.85" width="0.60" height="6.45" fill="#f1fbf1"/>
<rect x="654.19" y="320.85" width="0.60" height="6.45" fill="#f1fbf1"/>
<rect x="634.01" y="320.85" width="0.60" height="6.45" fill="#f1fbf1"/>
<rect x="551.25" y="320.85" width="0.60" height="6.45" fill="#f1fbf1"/>
<rect x="497.17" y="320.85" width="0.60" height="6.45" fill="#f1fbf1"/>
<rect x="402.84" y="320.85" width="0.60" height="6.45" fill="#f1fbf1"/>
<rect x="383.49" y="320.85" width="0.60" height="6.45" fill="#f1fbf1"/>
<rect x="657.92" y="320.85" width="0.60" height="6.45" fill="#f1fbf1"/>
<rect x="442.81" y="320.85" width="0.60" height="6.45" fill="#f1fbf1"/>
<rect x="581.26" y="320.85" width="0.60" height="6.45" fill="#f1fbf1"/>
<rect x="448.32" y="320.85" width="0.60" height="6.45" fill="#f1fbf1"/>
<rect x="616.64" y="320.85" width="0.60" height="6.45" fill="#f1fbf1"/>
<rect x="549.15" y="320.85" width="0.60" height="6.45" fill="#f1fbf1"/>
<rect x="459.15" y="320.85" width="0.60" height="6.45" fill="#f1fbf1"/>
<rect x="424.10" y="320.85" width="0.60" height="6.45" fill="#f1fbf1"/>
<rect x="585.94" y="320.85" width="0.60" height="6.45" fill="#f1fbf1"/>
<rect x="392.43" y="320.85" width="0.60" height="6.45" fill="#f1fbf1"/>
<rect x="439.83" y="320.85" width="0.60" height="6.45" fill="#f1fbf1"/>
<rect x="538.13" y="327.30" width="0.60" height="6.45" fill="#f3f5fb"/>
<rect x="625.16" y="327.30" width="0.60" height="6.45" fill="#f3f5fb"/>
<rect x="554.45" y="327.30" width="0.60" height="6.45" fill="#f3f5fb"/>
<rect x="455.23" y="327.30" width="0.60" height="6.45" fill="#f3f5fb"/>
<rect x="644.46" y="327.30" width="0.60" height="6.45" fill="#f3f5fb"/>
<rect x="432.58" y="327.30" width="0.60" height="6.45" fill="#f3f5fb"/>
<rect x="376.92" y="327.30" width="0.60" height="6.45" fill="#f3f5fb"/>
<rect x="451.95" y="327.30" width="0.60" height="6.45" fill="#f3f5fb"/>
<rect x="504.37" y="327.30" width="0.60" height="6.45" fill="#f3f5fb"/>
<rect x="389.96" y="327.30" width="0.60" height="6.45" fill="#f3f5fb"/>
<rect x="424.35" y="327.30" width="0.60" height="6.45" fill="#f3f5fb"/>
<rect x="481.53" y="327.30" width="0.60" height="6.45" fill="#f3f5fb"/>
<rect x="541.93" y="327.30" width="0.60" height="6.45" fill="#f3f5fb"/>
<rect x="411.08" y="327.30" width="0.60" height="6.45" fill="#f3f5fb"/>
<rect x="479.56" y="327.30" width="0.60" height="6.45" fill="#f3f5fb"/>
<rect x="636.61" y="327.30" width="0.60" height="6.45" fill="#f3f5fb"/>
<rect x="663.21" y="327.30" width="0.60" height="6.45" fill="#f3f5fb"/>
<rect x="567.11" y="327.30" width="0.60" height="6.45" fill="#f3f5fb"/>
<rect x="577.29" y="327.30" width="0.60" height="6.45" fill="#f3f5fb"/>
<rect x="545.58" y="327.30" width="0.60" height="6.45" fill="#f3f5fb"/>
<rect x="413.68" y="327.30" width="0.60" height="6.45" fill="#f3f5fb"/>
<rect x="382.42" y="327.30" width="0.60" height="6.45" fill="#f3f5fb"/>
<rect x="377.31" y="333.75" width="0.60" height="6.45" fill="#fbf1f6"/>
<rect x="642.33" y="333.75" width="0.60" height="6.45" fill="#fbf1f6"/>
<rect x="580.19" y="333.75" width="0.60" height="6.45" fill="#fbf1f6"/>
<rect x="657.94" y="333.75" width="0.60" height="6.45" fill="#fbf1f6"/>
<rect x="378.31" y="333.75" width="0.60" height="6.45" fill="#fbf1f6"/>
<rect x="560.95" y="333.75" width="0.60" height="6.45" fill="#fbf1f6"/>
<rect x="515.22" y="333.75" width="0.60" height="6.45" fill="#fbf1f6"/>
<rect x="588.96" y="333.75" width="0.60" height="6.45" fill="#fbf1f6"/>
<rect x="466.71" y="333.75" width="0.60" height="6.45" fill="#fbf1f6"/>
<rect x="668.81" y="333.75" width="0.60" height="6.45" fill="#fbf1f6"/>
<rect x="394.35" y="333.75" width="0.60" height="6.45" fill="#fbf1f6"/>
<rect x="534.19" y="333.75" width="0.60" height="6.45" fill="#fbf1f6"/>
<rect x="590.89" y="333.75" width="0.60" height="6.45" fill="#fbf1f6"/>
<rect x="639.36" y="333.75" width="0.60" height="6.45" fill="#fbf1f6"/>
<rect x="590.92" y="333.75" width="0.60" height="6.45" fill="#fbf1f6"/>
<rect x="581.00" y="333.75" width="0.60" height="6.45" fill="#fbf1f6"/>
<rect x="607.60" y="333.75" width="0.60" height="6.45" fill="#fbf1f6"/>
<rect x="643.76" y="333.75" width="0.60" height="6.45" fill="#fbf1f6"/>
<rect x="476.49" y="333.75" width="0.60" height="6.45" fill="#fbf1f6"/>
<rect x="575.49" y="333.75" width="0.60" height="6.45" fill="#fbf1f6"/>
<rect x="639.55" y="333.75" width="0.60" height="6.45" fill="#fbf1f6"/>
<rect x="630.72" y="333.75" width="0.60" height="6.45" fill="#fbf1f6"/>
<rect x="495.89" y="340.20" width="0.60" height="6.45" fill="#f3f0fa"/>
<rect x="606.79" y="340.20" width="0.60" height="6.45" fill="#f3f0fa"/>
<rect x="628.45" y="340.20" width="0.60" height="6.45" fill="#f3f0fa"/>
<rect x="542.12" y="340.20" width="0.60" height="6.45" fill="#f3f0fa"/>
<rect x="557.61" y="340.20" width="0.60" height="6.45" fill="#f3f0fa"/>
<rect x="485.55" y="340.20" width="0.60" height="6.45" fill="#f3f0fa"/>
<rect x="545.06" y="340.20" width="0.60" height="6.45" fill="#f3f0fa"/>
<rect x="552.83" y="340.20" width="0.60" height="6.45" fill="#f3f0fa"/>
<rect x="395.82" y="340.20" width="0.60" height="6.45" fill="#f3f0fa"/>
<rect x="561.90" y="340.20" width="0.60" height="6.45" fill="#f3f0fa"/>
<rect x="667.02" y="340.20" width="0.60" height="6.45" fill="#f3f0fa"/>
<rect x="633.30" y="340.20" width="0.60" height="6.45" fill="#f3f0fa"/>
<rect x="588.28" y="340.20" width="0.60" height="6.45" fill="#f3f0fa"/>
<rect x="487.37" y="340.20" width="0.60" height="6.45" fill="#f3f0fa"/>
<rect x="590.31" y="340.20" width="0.60" height="6.45" fill="#f3f0fa"/>
<rect x="544.54" y="340.20" width="0.60" height="6.45" fill="#f3f0fa"/>
<rect x="502.84" y="340.20" width="0.60" height="6.45" fill="#f3f0fa"/>
<rect x="621.00" y="340.20" width="0.60" height="6.45" fill="#f3f0fa"/>
<rect x="396.88" y="340.20" width="0.60" height="6.45" fill="#f3f0fa"/>
<rect x="594.81" y="340.20" width="0.60" height="6.45" fill="#f3f0fa"/>
<rect x="380.85" y="340.20" width="0.60" height="6.45" fill="#f3f0fa"/>
<rect x="550.58" y="340.20" width="0.60" height="6.45" fill="#f3f0fa"/>
<rect x="514.84" y="346.65" width="0.60" height="6.45" fill="#eff1f3"/>
<rect x="440.38" y="346.65" width="0.60" height="6.45" fill="#eff1f3"/>
<rect x="579.41" y="346.65" width="0.60" height="6.45" fill="#eff1f3"/>
<rect x="519.68" y="346.65" width="0.60" height="6.45" fill="#eff1f3"/>
<rect x="554.51" y="346.65" width="0.60" height="6.45" fill="#eff1f3"/>
<rect x="645.38" y="346.65" width="0.60" height="6.45" fill="#eff1f3"/>
<rect x="447.98" y="346.65" width="0.60" height="6.45" fill="#eff1f3"/>
<rect x="375.36" y="346.65" width="0.60" height="6.45" fill="#eff1f3"/>
<rect x="461.41" y="346.65" width="0.60" height="6.45" fill="#eff1f3"/>
<rect x="573.41" y="346.65" width="0.60" height="6.45" fill="#eff1f3"/>
<rect x="432.16" y="346.65" width="0.60" height="6.45" fill="#eff1f3"/>
<rect x="422.37" y="346.65" width="0.60" height="6.45" fill="#eff1f3"/>
<rect x="641.00" y="346.65" width="0.60" height="6.45" fill="#eff1f3"/>
<rect x="568.02" y="346.65" width="0.60" height="6.45" fill="#eff1f3"/>
<rect x="503.25" y="346.65" width="0.60" height="6.45" fill="#eff1f3"/>
<rect x="636.84" y="346.65" width="0.60" height="6.45" fill="#eff1f3"/>
<rect x="469.11" y="346.65" width="0.60" height="6.45" fill="#eff1f3"/>
<rect x="569.77" y="346.65" width="0.60" height="6.45" fill="#eff1f3"/>
<rect x="430.96" y="346.65" width="0.60" height="6.45" fill="#eff1f3"/>
<rect x="499.98" y="346.65" width="0.60" height="6.45" fill="#eff1f3"/>
<rect x="611.38" y="346.65" width="0.60" height="6.45" fill="#eff1f3"/>
<rect x="643.52" y="346.65" width="0.60" height="6.45" fill="#eff1f3"/>
<rect x="633.44" y="353.10" width="0.60" height="6.45" fill="#f0f4fb"/>
<rect x="486.17" y="353.10" width="0.60" height="6.45" fill="#f0f4fb"/>
<rect x="545.18" y="353.10" width="0.60" height="6.45" fill="#f0f4fb"/>
<rect x="466.00" y="353.10" width="0.60" height="6.45" fill="#f0f4fb"/>
<rect x="412.44" y="353.10" width="0.60" height="6.45" fill="#f0f4fb"/>
<rect x="519.45" y="353.10" width="0.60" height="6.45" fill="#f0f4fb"/>
<rect x="620.62" y="353.10" width="0.60" height="6.45" fill="#f0f4fb"/>
<rect x="624.07" y="353.10" width="0.60" height="6.45" fill="#f0f4fb"/>
<rect x="583.23" y="353.10" width="0.60" height="6.45" fill="#f0f4fb"/>
<rect x="654.15" y="353.10" width="0.60" height="6.45" fill="#f0f4fb"/>
<rect x="454.21" y="353.10" width="0.60" height="6.45" fill="#f0f4fb"/>
<rect x="422.23" y="353.10" width="0.60" height="6.45" fill="#f0f4fb"/>
<rect x="505.84" y="353.10" width="0.60" height="6.45" fill="#f0f4fb"/>
<rect x="453.72" y="353.10" width="0.60" height="6.45" fill="#f0f4fb"/>
<rect x="435.58" y="353.10" width="0.60" height="6.45" fill="#f0f4fb"/>
<rect x="494.95" y="353.10" width="0.60" height="6.45" fill="#f0f4fb"/>
<rect x="557.84" y="353.10" width="0.60" height="6.45" fill="#f0f4fb"/>
<rect x="518.68" y="353.10" width="0.60" height="6.45" fill="#f0f4fb"/>
<rect x="465.67" y="353.10" width="0.60" height="6.45" fill="#f0f4fb"/>
<rect x="621.22" y="353.10" width="0.60" height="6.45" fill="#f0f4fb"/>
<rect x="663.66" y="353.10" width="0.60" height="6.45" fill="#f0f4fb"/>
<rect x="506.39" y="353.10" width="0.60" height="6.45" fill="#f0f4fb"/>
<rect x="394.18" y="359.55" width="0.60" height="6.45" fill="#f1f4f5"/>
<rect x="381.35" y="359.55" width="0.60" height="6.45" fill="#f1f4f5"/>
<rect x="631.23" y="359.55" width="0.60" height="6.45" fill="#f1f4f5"/>
<rect x="384.32" y="359.55" width="0.60" height="6.45" fill="#f1f4f5"/>
<rect x="582.46" y="359.55" width="0.60" height="6.45" fill="#f1f4f5"/>
<rect x="541.46" y="359.55" width="0.60" height="6.45" fill="#f1f4f5"/>
<rect x="463.78" y="359.55" width="0.60" height="6.45" fill="#f1f4f5"/>
<rect x="607.08" y="359.55" width="0.60" height="6.45" fill="#f1f4f5"/>
<rect x="377.68" y="359.55" width="0.60" height="6.45" fill="#f1f4f5"/>
<rect x="412.36" y="359.55" width="0.60" height="6.45" fill="#f1f4f5"/>
<rect x="507.09" y="359.55" width="0.60" height="6.45" fill="#f1f4f5"/>
<rect x="379.34" y="359.55" width="0.60" height="6.45" fill="#f1f4f5"/>
<rect x="618.41" y="359.55" width="0.60" height="6.45" fill="#f1f4f5"/>
<rect x="442.51" y="359.55" width="0.60" height="6.45" fill="#f1f4f5"/>
<rect x="413.84" y="359.55" width="0.60" height="6.45" fill="#f1f4f5"/>
<rect x="385.94" y="359.55" width="0.60" height="6.45" fill="#f1f4f5"/>
<rect x="558.87" y="359.55" width="0.60" height="6.45" fill="#f1f4f5"/>
<rect x="504.60" y="359.55" width="0.60" height="6.45" fill="#f1f4f5"/>
<rect x="559.10" y="359.55" width="0.60" height="6.45" fill="#f1f4f5"/>
<rect x="566.55" y="359.55" width="0.60" height="6.45" fill="#f1f4f5"/>
<rect x="611.79" y="359.55" width="0.60" height="6.45" fill="#f1f4f5"/>
<rect x="656.66" y="359.55" width="0.60" height="6.45" fill="#f1f4f5"/>
<rect x="575.29" y="366.00" width="0.60" height="6.45" fill="#eefafc"/>
<rect x="431.20" y="366.00" width="0.60" height="6.45" fill="#eefafc"/>
<rect x="513.12" y="366.00" width="0.60" height="6.45" fill="#eefafc"/>
<rect x="425.07" y="366.00" width="0.60" height="6.45" fill="#eefafc"/>
<rect x="375.20" y="366.00" width="0.60" height="6.45" fill="#eefafc"/>
<rect x="512.24" y="366.00" width="0.60" height="6.45" fill="#eefafc"/>
<rect x="584.11" y="366.00" width="0.60" height="6.45" fill="#eefafc"/>
<rect x="425.19" y="366.00" width="0.60" height="6.45" fill="#eefafc"/>
<rect x="452.89" y="366.00" width="0.60" height="6.45" fill="#eefafc"/>
<rect x="474.68" y="366.00" width="0.60" height="6.45" fill="#eefafc"/>
<rect x="579.10" y="366.00" width="0.60" height="6.45" fill="#eefafc"/>
<rect x="526.57" y="366.00" width="0.60" height="6.45" fill="#eefafc"/>
<rect x="554.49" y="366.00" width="0.60" height="6.45" fill="#eefafc"/>
<rect x="596.59" y="366.00" width="0.60" height="6.45" fill="#eefafc"/>
<rect x="488.87" y="366.00" width="0.60" height="6.45" fill="#eefafc"/>
<rect x="607.20" y="366.00" width="0.60" height="6.45" fill="#eefafc"/>
<rect x="641.15" y="366.00" width="0.60" height="6.45" fill="#eefafc"/>
<rect x="397.90" y="366.00" width="0.60" height="6.45" fill="#eefafc"/>
<rect x="648.98" y="366.00" width="0.60" height="6.45" fill="#eefafc"/>
<rect x="586.55" y="366.00" width="0.60" height="6.45" fill="#eefafc"/>
<rect x="410.58" y="366.00" width="0.60" height="6.45" fill="#eefafc"/>
<rect x="506.70" y="366.00" width="0.60" height="6.45" fill="#eefafc"/>
<rect x="557.79" y="372.45" width="0.60" height="6.45" fill="#f5f3fa"/>
<rect x="642.26" y="372.45" width="0.60" height="6.45" fill="#f5f3fa"/>
<rect x="483.91" y="372.45" width="0.60" height="6.45" fill="#f5f3fa"/>
<rect x="540.94" y="372.45" width="0.60" height="6.45" fill="#f5f3fa"/>
<rect x="633.16" y="372.45" width="0.60" height="6.45" fill="#f5f3fa"/>
<rect x="608.64" y="372.45" width="0.60" height="6.45" fill="#f5f3fa"/>
<rect x="652.44" y="372.45" width="0.60" height="6.45" fill="#f5f3fa"/>
<rect x="509.72" y="372.45" width="0.60" height="6.45" fill="#f5f3fa"/>
<rect x="565.44" y="372.45" width="0.60" height="6.45" fill="#f5f3fa"/>
<rect x="432.85" y="372.45" width="0.60" height="6.45" fill="#f5f3fa"/>
<rect x="586.41" y="372.45" width="0.60" height="6.45" fill="#f5f3fa"/>
<rect x="615.05" y="372.45" width="0.60" height="6.45" fill="#f5f3fa"/>
<rect x="562.56" y="372.45" width="0.60" height="6.45" fill="#f5f3fa"/>
<rect x="585.15" y="372.45" width="0.60" height="6.45" fill="#f5f3fa"/>
<rect x="435.35" y="372.45" width="0.60" height="6.45" fill="#f5f3fa"/>
<rect x="639.30" y="372.45" width="0.60" height="6.45" fill="#f5f3fa"/>
<rect x="663.21" y="372.45" width="0.60" height="6.45" fill="#f5f3fa"/>
<rect x="662.28" y="372.45" width="0.60" height="6.45" fill="#f5f3fa"/>
<rect x="531.48" y="372.45" width="0.60" height="6.45" fill="#f5f3fa"/>
<rect x="606.86" y="372.45" width="0.60" height="6.45" fill="#f5f3fa"/>
<rect x="467.16" y="372.45" width="0.60" height="6.45" fill="#f5f3fa"/>
<rect x="642.27" y="372.45" width="0.60" height="6.45" fill="#f5f3fa"/>
<rect x="372.00" y="295.05" width="4.70" height="6.45" fill="#f6d3bf"/>
<rect x="384.90" y="295.05" width="1.60" height="6.45" fill="#f9e0d2"/>
<rect x="414.00" y="295.05" width="7.00" height="6.45" fill="#f2c2a6"/>
<rect x="513.40" y="295.05" width="2.30" height="6.45" fill="#f6d0bc"/>
<rect x="515.70" y="295.05" width="18.00" height="6.45" fill="#f8dccb"/>
<rect x="561.70" y="295.05" width="21.10" height="6.45" fill="#f6d4c0"/>
<rect x="595.60" y="295.05" width="42.10" height="6.45" fill="#ec8d5e"/>
<rect x="637.70" y="295.05" width="23.30" height="6.45" fill="#f1b596"/>
<rect x="662.00" y="295.05" width="8.30" height="6.45" fill="#f7d1bf"/>
<rect x="420.00" y="301.50" width="0.80" height="6.45" fill="#f0b0a0"/>
<rect x="637.70" y="301.50" width="8.10" height="6.45" fill="#f9d7d4"/>
<rect x="661.00" y="301.50" width="3.00" height="6.45" fill="#e44a34"/>
<rect x="664.00" y="301.50" width="6.30" height="6.45" fill="#f09080"/>
<rect x="514.50" y="307.95" width="2.40" height="6.45" fill="#e6a0d6"/>
<rect x="564.00" y="307.95" width="21.00" height="6.45" fill="#ebb0dd"/>
<rect x="585.00" y="307.95" width="9.40" height="6.45" fill="#cb52ad"/>
<rect x="645.80" y="307.95" width="11.70" height="6.45" fill="#f3d6ee"/>
<rect x="551.20" y="314.40" width="2.30" height="6.45" fill="#c08040"/>
<rect x="553.50" y="314.40" width="7.80" height="6.45" fill="#9b5a1e"/>
<rect x="420.50" y="314.40" width="0.70" height="6.45" fill="#e0c0a0"/>
<rect x="594.50" y="314.40" width="1.00" height="6.45" fill="#c8a070"/>
<rect x="373.20" y="320.85" width="19.80" height="6.45" fill="#d6f6d6"/>
<rect x="393.00" y="320.85" width="26.90" height="6.45" fill="#97ea97"/>
<rect x="434.40" y="340.20" width="7.70" height="6.45" fill="#a888e2"/>
<rect x="442.10" y="340.20" width="8.90" height="6.45" fill="#c4b0ec"/>
<rect x="542.60" y="340.20" width="3.90" height="6.45" fill="#5f31b2"/>
<rect x="546.50" y="340.20" width="4.00" height="6.45" fill="#a48ad8"/>
<rect x="457.30" y="346.65" width="1.20" height="6.45" fill="#b8d0e0"/>
<rect x="373.20" y="353.10" width="19.80" height="6.45" fill="#c6d4f0"/>
<rect x="428.00" y="353.10" width="18.80" height="6.45" fill="#b4c6ec"/>
<rect x="451.40" y="353.10" width="9.40" height="6.45" fill="#a6bae6"/>
<rect x="460.80" y="353.10" width="51.40" height="6.45" fill="#5d7dc6"/>
<rect x="514.50" y="353.10" width="18.70" height="6.45" fill="#b4c6ec"/>
<rect x="657.50" y="353.10" width="3.50" height="6.45" fill="#cddcf4"/>
<rect x="449.10" y="359.55" width="7.50" height="6.45" fill="#7c929a"/>
<rect x="533.70" y="359.55" width="5.80" height="6.45" fill="#1d3142"/>
<rect x="539.50" y="359.55" width="3.50" height="6.45" fill="#9aaab0"/>
<rect x="420.40" y="366.00" width="12.80" height="6.45" fill="#9fdff0"/>
<line x1="371.30" y1="379.20" x2="670.40" y2="379.20" stroke="#777" stroke-width="0.6"/>
<text x="8.60" y="388.30" font-size="15.5" font-weight="bold" fill="#000" stroke="#000" stroke-width="0.08">g</text>
<text x="70.50" y="401.40" font-size="8.4" font-weight="bold" text-anchor="middle" fill="#231f20" stroke="#231f20" stroke-width="0.08">Public TCRαβ-1</text>
<text x="209.30" y="401.40" font-size="8.4" font-weight="bold" text-anchor="middle" fill="#231f20" stroke="#231f20" stroke-width="0.08">Public TCRαβ-2</text>
<text x="341.20" y="401.40" font-size="8.4" font-weight="bold" text-anchor="middle" fill="#231f20" stroke="#231f20" stroke-width="0.08">Public TCRαβ-3</text>
<text x="481.00" y="401.40" font-size="8.4" font-weight="bold" text-anchor="middle" fill="#231f20" stroke="#231f20" stroke-width="0.08">Public TCRαβ-4</text>
<text x="605.50" y="401.40" font-size="8.4" font-weight="bold" text-anchor="middle" fill="#231f20" stroke="#231f20" stroke-width="0.08">Public TCRαβ-5</text>
<text x="31.00" y="412.50" font-size="7.7" text-anchor="end" fill="#2a2a2a" stroke="#2a2a2a" stroke-width="0.22">BV7-4-</text>
<rect x="32.00" y="406.50" width="6.07" height="7.20" fill="#d4e63a"/>
<rect x="38.02" y="406.50" width="6.07" height="7.20" fill="#d5d5d5"/>
<rect x="44.04" y="406.50" width="6.07" height="7.20" fill="#eda23c"/>
<rect x="50.06" y="406.50" width="6.07" height="7.20" fill="#eda23c"/>
<rect x="56.08" y="406.50" width="6.07" height="7.20" fill="#3b9c4a"/>
<rect x="62.10" y="406.50" width="6.07" height="7.20" fill="#ededed"/>
<rect x="68.12" y="406.50" width="6.07" height="7.20" fill="#86e2e2"/>
<rect x="74.14" y="406.50" width="6.07" height="7.20" fill="#d5d5d5"/>
<rect x="80.16" y="406.50" width="6.07" height="7.20" fill="#5a6ecb"/>
<rect x="86.18" y="406.50" width="6.07" height="7.20" fill="#e0433a"/>
<rect x="92.20" y="406.50" width="6.07" height="7.20" fill="#86e2e2"/>
<rect x="98.22" y="406.50" width="6.07" height="7.20" fill="#5a6ecb"/>
<rect x="104.24" y="406.50" width="6.07" height="7.20" fill="#5a6ecb"/>
<text x="35.01" y="412.50" font-size="7.3" text-anchor="middle" fill="#2a2a2a" stroke="#2a2a2a" stroke-width="0.05">C</text>
<text x="41.03" y="412.50" font-size="7.3" text-anchor="middle" fill="#2a2a2a" stroke="#2a2a2a" stroke-width="0.05">A</text>
<text x="47.05" y="412.50" font-size="7.3" text-anchor="middle" fill="#2a2a2a" stroke="#2a2a2a" stroke-width="0.05">S</text>
<text x="53.07" y="412.50" font-size="7.3" text-anchor="middle" fill="#2a2a2a" stroke="#2a2a2a" stroke-width="0.05">S</text>
<text x="59.09" y="412.50" font-size="7.3" text-anchor="middle" fill="#2a2a2a" stroke="#2a2a2a" stroke-width="0.05">L</text>
<text x="65.11" y="412.50" font-size="7.3" text-anchor="middle" fill="#2a2a2a" stroke="#2a2a2a" stroke-width="0.05">G</text>
<text x="71.13" y="412.50" font-size="7.3" text-anchor="middle" fill="#2a2a2a" stroke="#2a2a2a" stroke-width="0.05">Q</text>
<text x="77.15" y="412.50" font-size="7.3" text-anchor="middle" fill="#2a2a2a" stroke="#2a2a2a" stroke-width="0.05">A</text>
<text x="83.17" y="412.50" font-size="7.3" text-anchor="middle" fill="#2a2a2a" stroke="#2a2a2a" stroke-width="0.05">Y</text>
<text x="89.19" y="412.50" font-size="7.3" text-anchor="middle" fill="#2a2a2a" stroke="#2a2a2a" stroke-width="0.05">E</text>
<text x="95.21" y="412.50" font-size="7.3" text-anchor="middle" fill="#2a2a2a" stroke="#2a2a2a" stroke-width="0.05">Q</text>
<text x="101.23" y="412.50" font-size="7.3" text-anchor="middle" fill="#2a2a2a" stroke="#2a2a2a" stroke-width="0.05">Y</text>
<text x="107.25" y="412.50" font-size="7.3" text-anchor="middle" fill="#2a2a2a" stroke="#2a2a2a" stroke-width="0.05">F</text>
<text x="111.86" y="412.50" font-size="7.7" fill="#2a2a2a" stroke="#2a2a2a" stroke-width="0.22">-BJ2-7</text>
<text x="31.00" y="422.50" font-size="7.7" text-anchor="end" fill="#2a2a2a" stroke="#2a2a2a" stroke-width="0.22">AV26-2-</text>
<rect x="32.00" y="416.50" width="6.07" height="7.20" fill="#d4e63a"/>
<rect x="38.02" y="416.50" width="6.07" height="7.20" fill="#3b9c4a"/>
<rect x="44.04" y="416.50" width="6.07" height="7.20" fill="#3b9c4a"/>
<rect x="50.06" y="416.50" width="6.07" height="7.20" fill="#e09a88"/>
<rect x="56.08" y="416.50" width="6.07" height="7.20" fill="#3b9c4a"/>
<rect x="62.10" y="416.50" width="6.07" height="7.20" fill="#d5d5d5"/>
<rect x="68.12" y="416.50" width="6.07" height="7.20" fill="#ededed"/>
<rect x="74.14" y="416.50" width="6.07" height="7.20" fill="#ededed"/>
<rect x="80.16" y="416.50" width="6.07" height="7.20" fill="#eda23c"/>
<rect x="86.18" y="416.50" width="6.07" height="7.20" fill="#eda23c"/>
<rect x="92.20" y="416.50" width="6.07" height="7.20" fill="#5a6ecb"/>
<rect x="98.22" y="416.50" width="6.07" height="7.20" fill="#ededed"/>
<rect x="104.24" y="416.50" width="6.07" height="7.20" fill="#5a6ecb"/>
<rect x="110.26" y="416.50" width="6.07" height="7.20" fill="#3b9c4a"/>
<rect x="116.28" y="416.50" width="6.07" height="7.20" fill="#eda23c"/>
<rect x="122.30" y="416.50" width="6.07" height="7.20" fill="#5a6ecb"/>
<text x="35.01" y="422.50" font-size="7.3" text-anchor="middle" fill="#2a2a2a" stroke="#2a2a2a" stroke-width="0.05">C</text>
<text x="41.03" y="422.50" font-size="7.3" text-anchor="middle" fill="#2a2a2a" stroke="#2a2a2a" stroke-width="0.05">I</text>
<text x="47.05" y="422.50" font-size="7.3" text-anchor="middle" fill="#2a2a2a" stroke="#2a2a2a" stroke-width="0.05">L</text>
<text x="53.07" y="422.50" font-size="7.3" text-anchor="middle" fill="#2a2a2a" stroke="#2a2a2a" stroke-width="0.05">P</text>
<text x="59.09" y="422.50" font-size="7.3" text-anchor="middle" fill="#2a2a2a" stroke="#2a2a2a" stroke-width="0.05">L</text>
<text x="65.11" y="422.50" font-size="7.3" text-anchor="middle" fill="#2a2a2a" stroke="#2a2a2a" stroke-width="0.05">A</text>
<text x="71.13" y="422.50" font-size="7.3" text-anchor="middle" fill="#2a2a2a" stroke="#2a2a2a" stroke-width="0.05">G</text>
<text x="77.15" y="422.50" font-size="7.3" text-anchor="middle" fill="#2a2a2a" stroke="#2a2a2a" stroke-width="0.05">G</text>
<text x="83.17" y="422.50" font-size="7.3" text-anchor="middle" fill="#2a2a2a" stroke="#2a2a2a" stroke-width="0.05">T</text>
<text x="89.19" y="422.50" font-size="7.3" text-anchor="middle" fill="#2a2a2a" stroke="#2a2a2a" stroke-width="0.05">S</text>
<text x="95.21" y="422.50" font-size="7.3" text-anchor="middle" fill="#2a2a2a" stroke="#2a2a2a" stroke-width="0.05">Y</text>
<text x="101.23" y="422.50" font-size="7.3" text-anchor="middle" fill="#2a2a2a" stroke="#2a2a2a" stroke-width="0.05">G</text>
<text x="107.25" y="422.50" font-size="7.3" text-anchor="middle" fill="#2a2a2a" stroke="#2a2a2a" stroke-width="0.05">K</text>
<text x="113.27" y="422.50" font-size="7.3" text-anchor="middle" fill="#2a2a2a" stroke="#2a2a2a" stroke-width="0.05">L</text>
<text x="119.29" y="422.50" font-size="7.3" text-anchor="middle" fill="#2a2a2a" stroke="#2a2a2a" stroke-width="0.05">T</text>
<text x="125.31" y="422.50" font-size="7.3" text-anchor="middle" fill="#2a2a2a" stroke="#2a2a2a" stroke-width="0.05">F</text>
<text x="129.92" y="422.50" font-size="7.7" fill="#2a2a2a" stroke="#2a2a2a" stroke-width="0.22">-AJ52</text>
<text x="172.40" y="412.50" font-size="7.7" text-anchor="end" fill="#2a2a2a" stroke="#2a2a2a" stroke-width="0.22">BV28-</text>
<rect x="173.40" y="406.50" width="5.80" height="7.20" fill="#d4e63a"/>
<rect x="179.15" y="406.50" width="5.80" height="7.20" fill="#d5d5d5"/>
<rect x="184.90" y="406.50" width="5.80" height="7.20" fill="#eda23c"/>
<rect x="190.65" y="406.50" width="5.80" height="7.20" fill="#eda23c"/>
<rect x="196.40" y="406.50" width="5.80" height="7.20" fill="#5a6ecb"/>
<rect x="202.15" y="406.50" width="5.80" height="7.20" fill="#86e2e2"/>
<rect x="207.90" y="406.50" width="5.80" height="7.20" fill="#ededed"/>
<rect x="213.65" y="406.50" width="5.80" height="7.20" fill="#5a6ecb"/>
<rect x="219.40" y="406.50" width="5.80" height="7.20" fill="#eda23c"/>
<rect x="225.15" y="406.50" width="5.80" height="7.20" fill="#e0433a"/>
<rect x="230.90" y="406.50" width="5.80" height="7.20" fill="#d5d5d5"/>
<rect x="236.65" y="406.50" width="5.80" height="7.20" fill="#5a6ecb"/>
<rect x="242.40" y="406.50" width="5.80" height="7.20" fill="#5a6ecb"/>
<text x="176.28" y="412.50" font-size="7.3" text-anchor="middle" fill="#2a2a2a" stroke="#2a2a2a" stroke-width="0.05">C</text>
<text x="182.03" y="412.50" font-size="7.3" text-anchor="middle" fill="#2a2a2a" stroke="#2a2a2a" stroke-width="0.05">A</text>
<text x="187.78" y="412.50" font-size="7.3" text-anchor="middle" fill="#2a2a2a" stroke="#2a2a2a" stroke-width="0.05">S</text>
<text x="193.53" y="412.50" font-size="7.3" text-anchor="middle" fill="#2a2a2a" stroke="#2a2a2a" stroke-width="0.05">S</text>
<text x="199.28" y="412.50" font-size="7.3" text-anchor="middle" fill="#2a2a2a" stroke="#2a2a2a" stroke-width="0.05">F</text>
<text x="205.03" y="412.50" font-size="7.3" text-anchor="middle" fill="#2a2a2a" stroke="#2a2a2a" stroke-width="0.05">Q</text>
<text x="210.78" y="412.50" font-size="7.3" text-anchor="middle" fill="#2a2a2a" stroke="#2a2a2a" stroke-width="0.05">G</text>
<text x="216.53" y="412.50" font-size="7.3" text-anchor="middle" fill="#2a2a2a" stroke="#2a2a2a" stroke-width="0.05">Y</text>
<text x="222.28" y="412.50" font-size="7.3" text-anchor="middle" fill="#2a2a2a" stroke="#2a2a2a" stroke-width="0.05">T</text>
<text x="228.03" y="412.50" font-size="7.3" text-anchor="middle" fill="#2a2a2a" stroke="#2a2a2a" stroke-width="0.05">E</text>
<text x="233.78" y="412.50" font-size="7.3" text-anchor="middle" fill="#2a2a2a" stroke="#2a2a2a" stroke-width="0.05">A</text>
<text x="239.53" y="412.50" font-size="7.3" text-anchor="middle" fill="#2a2a2a" stroke="#2a2a2a" stroke-width="0.05">F</text>
<text x="245.28" y="412.50" font-size="7.3" text-anchor="middle" fill="#2a2a2a" stroke="#2a2a2a" stroke-width="0.05">F</text>
<text x="249.75" y="412.50" font-size="7.7" fill="#2a2a2a" stroke="#2a2a2a" stroke-width="0.22">-BJ1-1</text>
<text x="172.40" y="422.50" font-size="7.7" text-anchor="end" fill="#2a2a2a" stroke="#2a2a2a" stroke-width="0.22">AV3-</text>
<rect x="173.40" y="416.50" width="5.80" height="7.20" fill="#d4e63a"/>
<rect x="179.15" y="416.50" width="5.80" height="7.20" fill="#d5d5d5"/>
<rect x="184.90" y="416.50" width="5.80" height="7.20" fill="#3b9c4a"/>
<rect x="190.65" y="416.50" width="5.80" height="7.20" fill="#5a6ecb"/>
<rect x="196.40" y="416.50" width="5.80" height="7.20" fill="#5a6ecb"/>
<rect x="202.15" y="416.50" width="5.80" height="7.20" fill="#ededed"/>
<rect x="207.90" y="416.50" width="5.80" height="7.20" fill="#86e2e2"/>
<rect x="213.65" y="416.50" width="5.80" height="7.20" fill="#86e2e2"/>
<rect x="219.40" y="416.50" width="5.80" height="7.20" fill="#5a6ecb"/>
<rect x="225.15" y="416.50" width="5.80" height="7.20" fill="#3b9c4a"/>
<rect x="230.90" y="416.50" width="5.80" height="7.20" fill="#5a6ecb"/>
<text x="176.28" y="422.50" font-size="7.3" text-anchor="middle" fill="#2a2a2a" stroke="#2a2a2a" stroke-width="0.05">C</text>
<text x="182.03" y="422.50" font-size="7.3" text-anchor="middle" fill="#2a2a2a" stroke="#2a2a2a" stroke-width="0.05">A</text>
<text x="187.78" y="422.50" font-size="7.3" text-anchor="middle" fill="#2a2a2a" stroke="#2a2a2a" stroke-width="0.05">V</text>
<text x="193.53" y="422.50" font-size="7.3" text-anchor="middle" fill="#2a2a2a" stroke="#2a2a2a" stroke-width="0.05">Y</text>
<text x="199.28" y="422.50" font-size="7.3" text-anchor="middle" fill="#2a2a2a" stroke="#2a2a2a" stroke-width="0.05">Y</text>
<text x="205.03" y="422.50" font-size="7.3" text-anchor="middle" fill="#2a2a2a" stroke="#2a2a2a" stroke-width="0.05">G</text>
<text x="210.78" y="422.50" font-size="7.3" text-anchor="middle" fill="#2a2a2a" stroke="#2a2a2a" stroke-width="0.05">Q</text>
<text x="216.53" y="422.50" font-size="7.3" text-anchor="middle" fill="#2a2a2a" stroke="#2a2a2a" stroke-width="0.05">N</text>
<text x="222.28" y="422.50" font-size="7.3" text-anchor="middle" fill="#2a2a2a" stroke="#2a2a2a" stroke-width="0.05">F</text>
<text x="228.03" y="422.50" font-size="7.3" text-anchor="middle" fill="#2a2a2a" stroke="#2a2a2a" stroke-width="0.05">V</text>
<text x="233.78" y="422.50" font-size="7.3" text-anchor="middle" fill="#2a2a2a" stroke="#2a2a2a" stroke-width="0.05">F</text>
<text x="238.25" y="422.50" font-size="7.7" fill="#2a2a2a" stroke="#2a2a2a" stroke-width="0.22">-AJ26</text>
<text x="304.50" y="412.50" font-size="7.7" text-anchor="end" fill="#2a2a2a" stroke="#2a2a2a" stroke-width="0.22">BV4-2-</text>
<rect x="305.50" y="406.50" width="5.88" height="7.20" fill="#d4e63a"/>
<rect x="311.33" y="406.50" width="5.88" height="7.20" fill="#d5d5d5"/>
<rect x="317.16" y="406.50" width="5.88" height="7.20" fill="#eda23c"/>
<rect x="322.99" y="406.50" width="5.88" height="7.20" fill="#eda23c"/>
<rect x="328.82" y="406.50" width="5.88" height="7.20" fill="#e09a88"/>
<rect x="334.65" y="406.50" width="5.88" height="7.20" fill="#c9b8b0"/>
<rect x="340.48" y="406.50" width="5.88" height="7.20" fill="#5a6ecb"/>
<rect x="346.31" y="406.50" width="5.88" height="7.20" fill="#86e2e2"/>
<rect x="352.14" y="406.50" width="5.88" height="7.20" fill="#eda23c"/>
<rect x="357.97" y="406.50" width="5.88" height="7.20" fill="#e0433a"/>
<rect x="363.80" y="406.50" width="5.88" height="7.20" fill="#d5d5d5"/>
<rect x="369.63" y="406.50" width="5.88" height="7.20" fill="#5a6ecb"/>
<rect x="375.46" y="406.50" width="5.88" height="7.20" fill="#5a6ecb"/>
<text x="308.42" y="412.50" font-size="7.3" text-anchor="middle" fill="#2a2a2a" stroke="#2a2a2a" stroke-width="0.05">C</text>
<text x="314.25" y="412.50" font-size="7.3" text-anchor="middle" fill="#2a2a2a" stroke="#2a2a2a" stroke-width="0.05">A</text>
<text x="320.08" y="412.50" font-size="7.3" text-anchor="middle" fill="#2a2a2a" stroke="#2a2a2a" stroke-width="0.05">S</text>
<text x="325.91" y="412.50" font-size="7.3" text-anchor="middle" fill="#2a2a2a" stroke="#2a2a2a" stroke-width="0.05">S</text>
<text x="331.74" y="412.50" font-size="7.3" text-anchor="middle" fill="#2a2a2a" stroke="#2a2a2a" stroke-width="0.05">P</text>
<text x="337.56" y="412.50" font-size="7.3" text-anchor="middle" fill="#2a2a2a" stroke="#2a2a2a" stroke-width="0.05">S</text>
<text x="343.40" y="412.50" font-size="7.3" text-anchor="middle" fill="#2a2a2a" stroke="#2a2a2a" stroke-width="0.05">R</text>
<text x="349.23" y="412.50" font-size="7.3" text-anchor="middle" fill="#2a2a2a" stroke="#2a2a2a" stroke-width="0.05">N</text>
<text x="355.06" y="412.50" font-size="7.3" text-anchor="middle" fill="#2a2a2a" stroke="#2a2a2a" stroke-width="0.05">T</text>
<text x="360.89" y="412.50" font-size="7.3" text-anchor="middle" fill="#2a2a2a" stroke="#2a2a2a" stroke-width="0.05">E</text>
<text x="366.72" y="412.50" font-size="7.3" text-anchor="middle" fill="#2a2a2a" stroke="#2a2a2a" stroke-width="0.05">A</text>
<text x="372.55" y="412.50" font-size="7.3" text-anchor="middle" fill="#2a2a2a" stroke="#2a2a2a" stroke-width="0.05">F</text>
<text x="378.38" y="412.50" font-size="7.3" text-anchor="middle" fill="#2a2a2a" stroke="#2a2a2a" stroke-width="0.05">F</text>
<text x="382.89" y="412.50" font-size="7.7" fill="#2a2a2a" stroke="#2a2a2a" stroke-width="0.22">-BJ1-1</text>
<text x="304.50" y="422.50" font-size="7.7" text-anchor="end" fill="#2a2a2a" stroke="#2a2a2a" stroke-width="0.22">AV23DV6-</text>
<rect x="305.50" y="416.50" width="5.88" height="7.20" fill="#d4e63a"/>
<rect x="311.33" y="416.50" width="5.88" height="7.20" fill="#d5d5d5"/>
<rect x="317.16" y="416.50" width="5.88" height="7.20" fill="#d5d5d5"/>
<rect x="322.99" y="416.50" width="5.88" height="7.20" fill="#eda23c"/>
<rect x="328.82" y="416.50" width="5.88" height="7.20" fill="#3b9c4a"/>
<rect x="334.65" y="416.50" width="5.88" height="7.20" fill="#ededed"/>
<rect x="340.48" y="416.50" width="5.88" height="7.20" fill="#86e2e2"/>
<rect x="346.31" y="416.50" width="5.88" height="7.20" fill="#5a6ecb"/>
<rect x="352.14" y="416.50" width="5.88" height="7.20" fill="#ededed"/>
<rect x="357.97" y="416.50" width="5.88" height="7.20" fill="#86e2e2"/>
<rect x="363.80" y="416.50" width="5.88" height="7.20" fill="#e0433a"/>
<rect x="369.63" y="416.50" width="5.88" height="7.20" fill="#5a6ecb"/>
<rect x="375.46" y="416.50" width="5.88" height="7.20" fill="#3b9c4a"/>
<rect x="381.29" y="416.50" width="5.88" height="7.20" fill="#eda23c"/>
<rect x="387.12" y="416.50" width="5.88" height="7.20" fill="#5a6ecb"/>
<text x="308.42" y="422.50" font-size="7.3" text-anchor="middle" fill="#2a2a2a" stroke="#2a2a2a" stroke-width="0.05">C</text>
<text x="314.25" y="422.50" font-size="7.3" text-anchor="middle" fill="#2a2a2a" stroke="#2a2a2a" stroke-width="0.05">A</text>
<text x="320.08" y="422.50" font-size="7.3" text-anchor="middle" fill="#2a2a2a" stroke="#2a2a2a" stroke-width="0.05">A</text>
<text x="325.91" y="422.50" font-size="7.3" text-anchor="middle" fill="#2a2a2a" stroke="#2a2a2a" stroke-width="0.05">S</text>
<text x="331.74" y="422.50" font-size="7.3" text-anchor="middle" fill="#2a2a2a" stroke="#2a2a2a" stroke-width="0.05">I</text>
<text x="337.56" y="422.50" font-size="7.3" text-anchor="middle" fill="#2a2a2a" stroke="#2a2a2a" stroke-width="0.05">G</text>
<text x="343.40" y="422.50" font-size="7.3" text-anchor="middle" fill="#2a2a2a" stroke="#2a2a2a" stroke-width="0.05">N</text>
<text x="349.23" y="422.50" font-size="7.3" text-anchor="middle" fill="#2a2a2a" stroke="#2a2a2a" stroke-width="0.05">F</text>
<text x="355.06" y="422.50" font-size="7.3" text-anchor="middle" fill="#2a2a2a" stroke="#2a2a2a" stroke-width="0.05">G</text>
<text x="360.89" y="422.50" font-size="7.3" text-anchor="middle" fill="#2a2a2a" stroke="#2a2a2a" stroke-width="0.05">N</text>
<text x="366.72" y="422.50" font-size="7.3" text-anchor="middle" fill="#2a2a2a" stroke="#2a2a2a" stroke-width="0.05">E</text>
<text x="372.55" y="422.50" font-size="7.3" text-anchor="middle" fill="#2a2a2a" stroke="#2a2a2a" stroke-width="0.05">K</text>
<text x="378.38" y="422.50" font-size="7.3" text-anchor="middle" fill="#2a2a2a" stroke="#2a2a2a" stroke-width="0.05">L</text>
<text x="384.21" y="422.50" font-size="7.3" text-anchor="middle" fill="#2a2a2a" stroke="#2a2a2a" stroke-width="0.05">T</text>
<text x="390.04" y="422.50" font-size="7.3" text-anchor="middle" fill="#2a2a2a" stroke="#2a2a2a" stroke-width="0.05">F</text>
<text x="394.55" y="422.50" font-size="7.7" fill="#2a2a2a" stroke="#2a2a2a" stroke-width="0.22">-AJ33</text>
<text x="439.00" y="412.50" font-size="7.7" text-anchor="end" fill="#2a2a2a" stroke="#2a2a2a" stroke-width="0.22">BV10-2-</text>
<rect x="440.00" y="406.50" width="5.98" height="7.20" fill="#d4e63a"/>
<rect x="445.93" y="406.50" width="5.98" height="7.20" fill="#d5d5d5"/>
<rect x="451.86" y="406.50" width="5.98" height="7.20" fill="#eda23c"/>
<rect x="457.79" y="406.50" width="5.98" height="7.20" fill="#eda23c"/>
<rect x="463.72" y="406.50" width="5.98" height="7.20" fill="#e0433a"/>
<rect x="469.65" y="406.50" width="5.98" height="7.20" fill="#e0433a"/>
<rect x="475.58" y="406.50" width="5.98" height="7.20" fill="#ededed"/>
<rect x="481.51" y="406.50" width="5.98" height="7.20" fill="#cfe05a"/>
<rect x="487.44" y="406.50" width="5.98" height="7.20" fill="#86e2e2"/>
<rect x="493.37" y="406.50" width="5.98" height="7.20" fill="#eda23c"/>
<rect x="499.30" y="406.50" width="5.98" height="7.20" fill="#e0433a"/>
<rect x="505.23" y="406.50" width="5.98" height="7.20" fill="#d5d5d5"/>
<rect x="511.16" y="406.50" width="5.98" height="7.20" fill="#5a6ecb"/>
<rect x="517.09" y="406.50" width="5.98" height="7.20" fill="#5a6ecb"/>
<text x="442.96" y="412.50" font-size="7.3" text-anchor="middle" fill="#2a2a2a" stroke="#2a2a2a" stroke-width="0.05">C</text>
<text x="448.89" y="412.50" font-size="7.3" text-anchor="middle" fill="#2a2a2a" stroke="#2a2a2a" stroke-width="0.05">A</text>
<text x="454.82" y="412.50" font-size="7.3" text-anchor="middle" fill="#2a2a2a" stroke="#2a2a2a" stroke-width="0.05">S</text>
<text x="460.75" y="412.50" font-size="7.3" text-anchor="middle" fill="#2a2a2a" stroke="#2a2a2a" stroke-width="0.05">S</text>
<text x="466.69" y="412.50" font-size="7.3" text-anchor="middle" fill="#2a2a2a" stroke="#2a2a2a" stroke-width="0.05">P</text>
<text x="472.61" y="412.50" font-size="7.3" text-anchor="middle" fill="#2a2a2a" stroke="#2a2a2a" stroke-width="0.05">D</text>
<text x="478.54" y="412.50" font-size="7.3" text-anchor="middle" fill="#2a2a2a" stroke="#2a2a2a" stroke-width="0.05">G</text>
<text x="484.47" y="412.50" font-size="7.3" text-anchor="middle" fill="#2a2a2a" stroke="#2a2a2a" stroke-width="0.05">M</text>
<text x="490.40" y="412.50" font-size="7.3" text-anchor="middle" fill="#2a2a2a" stroke="#2a2a2a" stroke-width="0.05">N</text>
<text x="496.33" y="412.50" font-size="7.3" text-anchor="middle" fill="#2a2a2a" stroke="#2a2a2a" stroke-width="0.05">T</text>
<text x="502.26" y="412.50" font-size="7.3" text-anchor="middle" fill="#2a2a2a" stroke="#2a2a2a" stroke-width="0.05">E</text>
<text x="508.19" y="412.50" font-size="7.3" text-anchor="middle" fill="#2a2a2a" stroke="#2a2a2a" stroke-width="0.05">A</text>
<text x="514.12" y="412.50" font-size="7.3" text-anchor="middle" fill="#2a2a2a" stroke="#2a2a2a" stroke-width="0.05">F</text>
<text x="520.06" y="412.50" font-size="7.3" text-anchor="middle" fill="#2a2a2a" stroke="#2a2a2a" stroke-width="0.05">F</text>
<text x="524.62" y="412.50" font-size="7.7" fill="#2a2a2a" stroke="#2a2a2a" stroke-width="0.22">-BJ1-1</text>
<text x="439.00" y="422.50" font-size="7.7" text-anchor="end" fill="#2a2a2a" stroke="#2a2a2a" stroke-width="0.22">AV21-</text>
<rect x="440.00" y="416.50" width="5.98" height="7.20" fill="#d4e63a"/>
<rect x="445.93" y="416.50" width="5.98" height="7.20" fill="#d5d5d5"/>
<rect x="451.86" y="416.50" width="5.98" height="7.20" fill="#3b9c4a"/>
<rect x="457.79" y="416.50" width="5.98" height="7.20" fill="#3b9c4a"/>
<rect x="463.72" y="416.50" width="5.98" height="7.20" fill="#cfe05a"/>
<rect x="469.65" y="416.50" width="5.98" height="7.20" fill="#e0433a"/>
<rect x="475.58" y="416.50" width="5.98" height="7.20" fill="#eda23c"/>
<rect x="481.51" y="416.50" width="5.98" height="7.20" fill="#86e2e2"/>
<rect x="487.44" y="416.50" width="5.98" height="7.20" fill="#5a6ecb"/>
<rect x="493.37" y="416.50" width="5.98" height="7.20" fill="#86e2e2"/>
<rect x="499.30" y="416.50" width="5.98" height="7.20" fill="#3b9c4a"/>
<rect x="505.23" y="416.50" width="5.98" height="7.20" fill="#3b9c4a"/>
<rect x="511.16" y="416.50" width="5.98" height="7.20" fill="#3b9c4a"/>
<text x="442.96" y="422.50" font-size="7.3" text-anchor="middle" fill="#2a2a2a" stroke="#2a2a2a" stroke-width="0.05">C</text>
<text x="448.89" y="422.50" font-size="7.3" text-anchor="middle" fill="#2a2a2a" stroke="#2a2a2a" stroke-width="0.05">A</text>
<text x="454.82" y="422.50" font-size="7.3" text-anchor="middle" fill="#2a2a2a" stroke="#2a2a2a" stroke-width="0.05">V</text>
<text x="460.75" y="422.50" font-size="7.3" text-anchor="middle" fill="#2a2a2a" stroke="#2a2a2a" stroke-width="0.05">L</text>
<text x="466.69" y="422.50" font-size="7.3" text-anchor="middle" fill="#2a2a2a" stroke="#2a2a2a" stroke-width="0.05">M</text>
<text x="472.61" y="422.50" font-size="7.3" text-anchor="middle" fill="#2a2a2a" stroke="#2a2a2a" stroke-width="0.05">D</text>
<text x="478.54" y="422.50" font-size="7.3" text-anchor="middle" fill="#2a2a2a" stroke="#2a2a2a" stroke-width="0.05">S</text>
<text x="484.47" y="422.50" font-size="7.3" text-anchor="middle" fill="#2a2a2a" stroke="#2a2a2a" stroke-width="0.05">N</text>
<text x="490.40" y="422.50" font-size="7.3" text-anchor="middle" fill="#2a2a2a" stroke="#2a2a2a" stroke-width="0.05">Y</text>
<text x="496.33" y="422.50" font-size="7.3" text-anchor="middle" fill="#2a2a2a" stroke="#2a2a2a" stroke-width="0.05">Q</text>
<text x="502.26" y="422.50" font-size="7.3" text-anchor="middle" fill="#2a2a2a" stroke="#2a2a2a" stroke-width="0.05">L</text>
<text x="508.19" y="422.50" font-size="7.3" text-anchor="middle" fill="#2a2a2a" stroke="#2a2a2a" stroke-width="0.05">I</text>
<text x="514.12" y="422.50" font-size="7.3" text-anchor="middle" fill="#2a2a2a" stroke="#2a2a2a" stroke-width="0.05">W</text>
<text x="518.69" y="422.50" font-size="7.7" fill="#2a2a2a" stroke="#2a2a2a" stroke-width="0.22">-AJ33</text>
<text x="571.20" y="412.50" font-size="7.7" text-anchor="end" fill="#2a2a2a" stroke="#2a2a2a" stroke-width="0.22">BV19-</text>
<rect x="572.20" y="406.50" width="5.97" height="7.20" fill="#d4e63a"/>
<rect x="578.12" y="406.50" width="5.97" height="7.20" fill="#d5d5d5"/>
<rect x="584.04" y="406.50" width="5.97" height="7.20" fill="#eda23c"/>
<rect x="589.96" y="406.50" width="5.97" height="7.20" fill="#eda23c"/>
<rect x="595.88" y="406.50" width="5.97" height="7.20" fill="#3b9c4a"/>
<rect x="601.80" y="406.50" width="5.97" height="7.20" fill="#5a6ecb"/>
<rect x="607.72" y="406.50" width="5.97" height="7.20" fill="#eda23c"/>
<rect x="613.64" y="406.50" width="5.97" height="7.20" fill="#eda23c"/>
<rect x="619.56" y="406.50" width="5.97" height="7.20" fill="#5a6ecb"/>
<rect x="625.48" y="406.50" width="5.97" height="7.20" fill="#e0433a"/>
<rect x="631.40" y="406.50" width="5.97" height="7.20" fill="#86e2e2"/>
<rect x="637.32" y="406.50" width="5.97" height="7.20" fill="#5a6ecb"/>
<rect x="643.24" y="406.50" width="5.97" height="7.20" fill="#5a6ecb"/>
<text x="575.16" y="412.50" font-size="7.3" text-anchor="middle" fill="#2a2a2a" stroke="#2a2a2a" stroke-width="0.05">C</text>
<text x="581.08" y="412.50" font-size="7.3" text-anchor="middle" fill="#2a2a2a" stroke="#2a2a2a" stroke-width="0.05">A</text>
<text x="587.00" y="412.50" font-size="7.3" text-anchor="middle" fill="#2a2a2a" stroke="#2a2a2a" stroke-width="0.05">S</text>
<text x="592.92" y="412.50" font-size="7.3" text-anchor="middle" fill="#2a2a2a" stroke="#2a2a2a" stroke-width="0.05">S</text>
<text x="598.84" y="412.50" font-size="7.3" text-anchor="middle" fill="#2a2a2a" stroke="#2a2a2a" stroke-width="0.05">I</text>
<text x="604.76" y="412.50" font-size="7.3" text-anchor="middle" fill="#2a2a2a" stroke="#2a2a2a" stroke-width="0.05">R</text>
<text x="610.68" y="412.50" font-size="7.3" text-anchor="middle" fill="#2a2a2a" stroke="#2a2a2a" stroke-width="0.05">S</text>
<text x="616.60" y="412.50" font-size="7.3" text-anchor="middle" fill="#2a2a2a" stroke="#2a2a2a" stroke-width="0.05">S</text>
<text x="622.52" y="412.50" font-size="7.3" text-anchor="middle" fill="#2a2a2a" stroke="#2a2a2a" stroke-width="0.05">Y</text>
<text x="628.44" y="412.50" font-size="7.3" text-anchor="middle" fill="#2a2a2a" stroke="#2a2a2a" stroke-width="0.05">E</text>
<text x="634.36" y="412.50" font-size="7.3" text-anchor="middle" fill="#2a2a2a" stroke="#2a2a2a" stroke-width="0.05">Q</text>
<text x="640.28" y="412.50" font-size="7.3" text-anchor="middle" fill="#2a2a2a" stroke="#2a2a2a" stroke-width="0.05">Y</text>
<text x="646.20" y="412.50" font-size="7.3" text-anchor="middle" fill="#2a2a2a" stroke="#2a2a2a" stroke-width="0.05">F</text>
<text x="650.76" y="412.50" font-size="7.7" fill="#2a2a2a" stroke="#2a2a2a" stroke-width="0.22">-BJ27</text>
<text x="571.20" y="422.50" font-size="7.7" text-anchor="end" fill="#2a2a2a" stroke="#2a2a2a" stroke-width="0.22">AV27-</text>
<rect x="572.20" y="416.50" width="5.97" height="7.20" fill="#d4e63a"/>
<rect x="578.12" y="416.50" width="5.97" height="7.20" fill="#d5d5d5"/>
<rect x="584.04" y="416.50" width="5.97" height="7.20" fill="#d8d8d8"/>
<rect x="589.96" y="416.50" width="5.97" height="7.20" fill="#ededed"/>
<rect x="595.88" y="416.50" width="5.97" height="7.20" fill="#ededed"/>
<rect x="601.80" y="416.50" width="5.97" height="7.20" fill="#eda23c"/>
<rect x="607.72" y="416.50" width="5.97" height="7.20" fill="#86e2e2"/>
<rect x="613.64" y="416.50" width="5.97" height="7.20" fill="#ededed"/>
<rect x="619.56" y="416.50" width="5.97" height="7.20" fill="#86e2e2"/>
<rect x="625.48" y="416.50" width="5.97" height="7.20" fill="#3b9c4a"/>
<rect x="631.40" y="416.50" width="5.97" height="7.20" fill="#3b9c4a"/>
<rect x="637.32" y="416.50" width="5.97" height="7.20" fill="#5a6ecb"/>
<text x="575.16" y="422.50" font-size="7.3" text-anchor="middle" fill="#2a2a2a" stroke="#2a2a2a" stroke-width="0.05">C</text>
<text x="581.08" y="422.50" font-size="7.3" text-anchor="middle" fill="#2a2a2a" stroke="#2a2a2a" stroke-width="0.05">A</text>
<text x="587.00" y="422.50" font-size="7.3" text-anchor="middle" fill="#2a2a2a" stroke="#2a2a2a" stroke-width="0.05">G</text>
<text x="592.92" y="422.50" font-size="7.3" text-anchor="middle" fill="#2a2a2a" stroke="#2a2a2a" stroke-width="0.05">G</text>
<text x="598.84" y="422.50" font-size="7.3" text-anchor="middle" fill="#2a2a2a" stroke="#2a2a2a" stroke-width="0.05">G</text>
<text x="604.76" y="422.50" font-size="7.3" text-anchor="middle" fill="#2a2a2a" stroke="#2a2a2a" stroke-width="0.05">S</text>
<text x="610.68" y="422.50" font-size="7.3" text-anchor="middle" fill="#2a2a2a" stroke="#2a2a2a" stroke-width="0.05">Q</text>
<text x="616.60" y="422.50" font-size="7.3" text-anchor="middle" fill="#2a2a2a" stroke="#2a2a2a" stroke-width="0.05">G</text>
<text x="622.52" y="422.50" font-size="7.3" text-anchor="middle" fill="#2a2a2a" stroke="#2a2a2a" stroke-width="0.05">N</text>
<text x="628.44" y="422.50" font-size="7.3" text-anchor="middle" fill="#2a2a2a" stroke="#2a2a2a" stroke-width="0.05">L</text>
<text x="634.36" y="422.50" font-size="7.3" text-anchor="middle" fill="#2a2a2a" stroke="#2a2a2a" stroke-width="0.05">I</text>
<text x="640.28" y="422.50" font-size="7.3" text-anchor="middle" fill="#2a2a2a" stroke="#2a2a2a" stroke-width="0.05">F</text>
<text x="644.84" y="422.50" font-size="7.7" fill="#2a2a2a" stroke="#2a2a2a" stroke-width="0.22">-AJ4-2</text>
<text x="27.60" y="434.00" font-size="7.3" font-weight="bold" fill="#231f20" stroke="#231f20" stroke-width="0.08">HLA-A*08:01 EBNA3A<tspan dy="-2.6" font-size="4.2">F,R</tspan><tspan dy="2.6">​</tspan>-EBV</text>
<text x="160.70" y="434.00" font-size="7.3" font-weight="bold" fill="#231f20" stroke="#231f20" stroke-width="0.08">HLA-A*02:01 pp65(495-503)-CMV</text>
<text x="302.80" y="434.00" font-size="7.3" font-weight="bold" fill="#231f20" stroke="#231f20" stroke-width="0.08">HLA-B*07:02 pp65(265-275)-CMV</text>
<text x="438.30" y="434.00" font-size="7.3" font-weight="bold" fill="#231f20" stroke="#231f20" stroke-width="0.08">HLA-A*02:01 LMP2<tspan dy="-2.6" font-size="4.2">CLG</tspan><tspan dy="2.6">​</tspan>-EBV</text>
<text x="555.80" y="434.00" font-size="7.3" font-weight="bold" fill="#231f20" stroke="#231f20" stroke-width="0.08">HLA-A*02:01 M1(58-66)-InfluenzaA</text>
<text x="29.60" y="444.10" font-size="7.2" fill="#231f20" stroke="#231f20" stroke-width="0.22"># CD8<tspan dy="-2.9" font-size="4.0">+</tspan><tspan dy="2.9">​</tspan> T cells: 722</text>
<text x="29.60" y="453.00" font-size="7.2" fill="#231f20" stroke="#231f20" stroke-width="0.22"># individuals: 22; 17 with HLA-B*08</text>
<text x="176.00" y="444.10" font-size="7.2" fill="#231f20" stroke="#231f20" stroke-width="0.22"># CD8<tspan dy="-2.9" font-size="4.0">+</tspan><tspan dy="2.9">​</tspan> T cells: 100</text>
<text x="176.00" y="453.00" font-size="7.2" fill="#231f20" stroke="#231f20" stroke-width="0.22"># individuals: 5; 5 with HLA-A*02</text>
<text x="311.20" y="444.10" font-size="7.2" fill="#231f20" stroke="#231f20" stroke-width="0.22"># CD8<tspan dy="-2.9" font-size="4.0">+</tspan><tspan dy="2.9">​</tspan> T cells: 740</text>
<text x="311.20" y="453.00" font-size="7.2" fill="#231f20" stroke="#231f20" stroke-width="0.22"># individuals: 17; 15 with HLA-B*07</text>
<text x="436.80" y="444.10" font-size="7.2" fill="#231f20" stroke="#231f20" stroke-width="0.22"># CD8<tspan dy="-2.9" font-size="4.0">+</tspan><tspan dy="2.9">​</tspan> T cells: 88</text>
<text x="436.80" y="453.00" font-size="7.2" fill="#231f20" stroke="#231f20" stroke-width="0.22"># individuals: 26; 25 with HLA-A*02</text>
<text x="568.30" y="444.10" font-size="7.2" fill="#231f20" stroke="#231f20" stroke-width="0.22"># CD8<tspan dy="-2.9" font-size="4.0">+</tspan><tspan dy="2.9">​</tspan> T cells: 383</text>
<text x="568.30" y="453.00" font-size="7.2" fill="#231f20" stroke="#231f20" stroke-width="0.22"># individuals: 17; 16 with HLA-A*02</text>
<path d="M71.90,459.90 C72.62,459.32 74.08,462.28 75.40,463.80 C76.72,465.32 78.18,467.98 79.80,469.00 C81.42,470.02 83.35,470.05 85.10,469.90 C86.85,469.75 88.27,467.95 90.30,468.10 C92.33,468.25 95.68,469.18 97.30,470.80 C98.92,472.42 99.40,475.18 100.00,477.80 C100.60,480.42 99.58,484.75 100.90,486.50 C102.22,488.25 105.28,487.72 107.90,488.30 C110.52,488.88 114.27,488.25 116.60,490.00 C118.93,491.75 120.58,495.87 121.90,498.80 C123.22,501.73 124.80,505.27 124.50,507.60 C124.20,509.93 122.00,511.35 120.10,512.80 C118.20,514.25 115.43,515.13 113.10,516.30 C110.77,517.47 108.43,519.07 106.10,519.80 C103.77,520.53 100.57,519.53 99.10,520.70 C97.63,521.87 98.17,524.90 97.30,526.80 C96.43,528.70 94.33,529.77 93.90,532.10 C93.47,534.43 94.85,538.17 94.70,540.80 C94.55,543.43 94.02,546.28 93.00,547.90 C91.98,549.52 89.92,550.65 88.60,550.50 C87.28,550.35 85.83,548.62 85.10,547.00 C84.37,545.38 84.65,542.42 84.20,540.80 C83.75,539.18 82.98,538.75 82.40,537.30 C81.82,535.85 81.57,534.13 80.70,532.10 C79.83,530.07 78.37,527.73 77.20,525.10 C76.03,522.47 74.72,519.80 73.70,516.30 C72.68,512.80 71.68,508.48 71.10,504.10 C70.52,499.72 70.27,494.68 70.20,490.00 C70.13,485.32 70.55,479.78 70.70,476.00 C70.85,472.22 70.90,469.98 71.10,467.30 C71.30,464.62 71.18,460.48 71.90,459.90Z" fill="#f4f0ef" stroke="#f4f0ef" stroke-width="1.2"/>
<path d="M71.10,467.30 C70.87,465.85 70.18,467.17 69.30,467.30 C68.42,467.43 67.25,466.93 65.80,468.10 C64.35,469.27 62.35,471.82 60.60,474.30 C58.85,476.78 57.07,480.08 55.30,483.00 C53.53,485.92 51.32,489.17 50.00,491.80 C48.68,494.43 47.98,496.17 47.40,498.80 C46.82,501.43 46.78,504.68 46.50,507.60 C46.22,510.52 45.70,513.82 45.70,516.30 C45.70,518.78 46.80,520.17 46.50,522.50 C46.20,524.83 45.07,527.53 43.90,530.30 C42.73,533.07 40.82,535.88 39.50,539.10 C38.18,542.32 36.73,546.10 36.00,549.60 C35.27,553.10 34.65,557.18 35.10,560.10 C35.55,563.02 36.93,565.28 38.70,567.10 C40.47,568.92 43.23,570.70 45.70,571.00 C48.17,571.30 50.43,570.27 53.50,568.90 C56.57,567.53 60.58,564.85 64.10,562.80 C67.62,560.75 71.68,558.35 74.60,556.60 C77.52,554.85 80.15,554.35 81.60,552.30 C83.05,550.25 83.17,546.80 83.30,544.30 C83.43,541.80 82.83,539.33 82.40,537.30 C81.97,535.27 81.57,534.13 80.70,532.10 C79.83,530.07 78.37,527.73 77.20,525.10 C76.03,522.47 74.72,519.80 73.70,516.30 C72.68,512.80 71.68,508.48 71.10,504.10 C70.52,499.72 70.27,494.68 70.20,490.00 C70.13,485.32 70.55,479.78 70.70,476.00 C70.85,472.22 71.33,468.75 71.10,467.30Z" fill="#f4f0ef" stroke="#f4f0ef" stroke-width="1.2"/>
<path d="M46.50,522.50 C45.77,521.05 42.12,521.60 39.50,521.60 C36.88,521.60 33.42,521.92 30.80,522.50 C28.18,523.08 25.12,523.50 23.80,525.10 C22.48,526.70 22.62,529.48 22.90,532.10 C23.18,534.72 24.18,538.17 25.50,540.80 C26.82,543.43 29.20,546.28 30.80,547.90 C32.40,549.52 33.93,550.80 35.10,550.50 C36.27,550.20 37.07,548.00 37.80,546.10 C38.53,544.20 38.48,541.73 39.50,539.10 C40.52,536.47 42.73,533.07 43.90,530.30 C45.07,527.53 47.23,523.95 46.50,522.50Z" fill="#f4f0ef" stroke="#f4f0ef" stroke-width="1.2"/>
<path d="M71.90,459.90 C72.62,459.32 74.08,462.28 75.40,463.80 C76.72,465.32 78.18,467.98 79.80,469.00 C81.42,470.02 83.35,470.05 85.10,469.90 C86.85,469.75 88.27,467.95 90.30,468.10 C92.33,468.25 95.68,469.18 97.30,470.80 C98.92,472.42 99.40,475.18 100.00,477.80 C100.60,480.42 99.58,484.75 100.90,486.50 C102.22,488.25 105.28,487.72 107.90,488.30 C110.52,488.88 114.27,488.25 116.60,490.00 C118.93,491.75 120.58,495.87 121.90,498.80 C123.22,501.73 124.80,505.27 124.50,507.60 C124.20,509.93 122.00,511.35 120.10,512.80 C118.20,514.25 115.43,515.13 113.10,516.30 C110.77,517.47 108.43,519.07 106.10,519.80 C103.77,520.53 100.57,519.53 99.10,520.70 C97.63,521.87 98.17,524.90 97.30,526.80 C96.43,528.70 94.33,529.77 93.90,532.10 C93.47,534.43 94.85,538.17 94.70,540.80 C94.55,543.43 94.02,546.28 93.00,547.90 C91.98,549.52 89.92,550.65 88.60,550.50 C87.28,550.35 85.83,548.62 85.10,547.00 C84.37,545.38 84.65,542.42 84.20,540.80 C83.75,539.18 82.98,538.75 82.40,537.30 C81.82,535.85 81.57,534.13 80.70,532.10 C79.83,530.07 78.37,527.73 77.20,525.10 C76.03,522.47 74.72,519.80 73.70,516.30 C72.68,512.80 71.68,508.48 71.10,504.10 C70.52,499.72 70.27,494.68 70.20,490.00 C70.13,485.32 70.55,479.78 70.70,476.00 C70.85,472.22 70.90,469.98 71.10,467.30 C71.30,464.62 71.18,460.48 71.90,459.90Z" fill="none" stroke="#fff" stroke-width="1.8" opacity="0.8"/>
<path d="M71.10,467.30 C70.87,465.85 70.18,467.17 69.30,467.30 C68.42,467.43 67.25,466.93 65.80,468.10 C64.35,469.27 62.35,471.82 60.60,474.30 C58.85,476.78 57.07,480.08 55.30,483.00 C53.53,485.92 51.32,489.17 50.00,491.80 C48.68,494.43 47.98,496.17 47.40,498.80 C46.82,501.43 46.78,504.68 46.50,507.60 C46.22,510.52 45.70,513.82 45.70,516.30 C45.70,518.78 46.80,520.17 46.50,522.50 C46.20,524.83 45.07,527.53 43.90,530.30 C42.73,533.07 40.82,535.88 39.50,539.10 C38.18,542.32 36.73,546.10 36.00,549.60 C35.27,553.10 34.65,557.18 35.10,560.10 C35.55,563.02 36.93,565.28 38.70,567.10 C40.47,568.92 43.23,570.70 45.70,571.00 C48.17,571.30 50.43,570.27 53.50,568.90 C56.57,567.53 60.58,564.85 64.10,562.80 C67.62,560.75 71.68,558.35 74.60,556.60 C77.52,554.85 80.15,554.35 81.60,552.30 C83.05,550.25 83.17,546.80 83.30,544.30 C83.43,541.80 82.83,539.33 82.40,537.30 C81.97,535.27 81.57,534.13 80.70,532.10 C79.83,530.07 78.37,527.73 77.20,525.10 C76.03,522.47 74.72,519.80 73.70,516.30 C72.68,512.80 71.68,508.48 71.10,504.10 C70.52,499.72 70.27,494.68 70.20,490.00 C70.13,485.32 70.55,479.78 70.70,476.00 C70.85,472.22 71.33,468.75 71.10,467.30Z" fill="none" stroke="#fff" stroke-width="1.8" opacity="0.8"/>
<path d="M46.50,522.50 C45.77,521.05 42.12,521.60 39.50,521.60 C36.88,521.60 33.42,521.92 30.80,522.50 C28.18,523.08 25.12,523.50 23.80,525.10 C22.48,526.70 22.62,529.48 22.90,532.10 C23.18,534.72 24.18,538.17 25.50,540.80 C26.82,543.43 29.20,546.28 30.80,547.90 C32.40,549.52 33.93,550.80 35.10,550.50 C36.27,550.20 37.07,548.00 37.80,546.10 C38.53,544.20 38.48,541.73 39.50,539.10 C40.52,536.47 42.73,533.07 43.90,530.30 C45.07,527.53 47.23,523.95 46.50,522.50Z" fill="none" stroke="#fff" stroke-width="1.8" opacity="0.8"/>
<path d="M213.50,459.90 C214.22,459.32 215.68,462.28 217.00,463.80 C218.32,465.32 219.78,467.98 221.40,469.00 C223.02,470.02 224.95,470.05 226.70,469.90 C228.45,469.75 229.87,467.95 231.90,468.10 C233.93,468.25 237.28,469.18 238.90,470.80 C240.52,472.42 241.00,475.18 241.60,477.80 C242.20,480.42 241.18,484.75 242.50,486.50 C243.82,488.25 246.88,487.72 249.50,488.30 C252.12,488.88 255.87,488.25 258.20,490.00 C260.53,491.75 262.18,495.87 263.50,498.80 C264.82,501.73 266.40,505.27 266.10,507.60 C265.80,509.93 263.60,511.35 261.70,512.80 C259.80,514.25 257.03,515.13 254.70,516.30 C252.37,517.47 250.03,519.07 247.70,519.80 C245.37,520.53 242.17,519.53 240.70,520.70 C239.23,521.87 239.77,524.90 238.90,526.80 C238.03,528.70 235.93,529.77 235.50,532.10 C235.07,534.43 236.45,538.17 236.30,540.80 C236.15,543.43 235.62,546.28 234.60,547.90 C233.58,549.52 231.52,550.65 230.20,550.50 C228.88,550.35 227.43,548.62 226.70,547.00 C225.97,545.38 226.25,542.42 225.80,540.80 C225.35,539.18 224.58,538.75 224.00,537.30 C223.42,535.85 223.17,534.13 222.30,532.10 C221.43,530.07 219.97,527.73 218.80,525.10 C217.63,522.47 216.32,519.80 215.30,516.30 C214.28,512.80 213.28,508.48 212.70,504.10 C212.12,499.72 211.87,494.68 211.80,490.00 C211.73,485.32 212.15,479.78 212.30,476.00 C212.45,472.22 212.50,469.98 212.70,467.30 C212.90,464.62 212.78,460.48 213.50,459.90Z" fill="#f4f0ef" stroke="#f4f0ef" stroke-width="1.2"/>
<path d="M212.70,467.30 C212.47,465.85 211.78,467.17 210.90,467.30 C210.02,467.43 208.85,466.93 207.40,468.10 C205.95,469.27 203.95,471.82 202.20,474.30 C200.45,476.78 198.67,480.08 196.90,483.00 C195.13,485.92 192.92,489.17 191.60,491.80 C190.28,494.43 189.58,496.17 189.00,498.80 C188.42,501.43 188.38,504.68 188.10,507.60 C187.82,510.52 187.30,513.82 187.30,516.30 C187.30,518.78 188.40,520.17 188.10,522.50 C187.80,524.83 186.67,527.53 185.50,530.30 C184.33,533.07 182.42,535.88 181.10,539.10 C179.78,542.32 178.33,546.10 177.60,549.60 C176.87,553.10 176.25,557.18 176.70,560.10 C177.15,563.02 178.53,565.28 180.30,567.10 C182.07,568.92 184.83,570.70 187.30,571.00 C189.77,571.30 192.03,570.27 195.10,568.90 C198.17,567.53 202.18,564.85 205.70,562.80 C209.22,560.75 213.28,558.35 216.20,556.60 C219.12,554.85 221.75,554.35 223.20,552.30 C224.65,550.25 224.77,546.80 224.90,544.30 C225.03,541.80 224.43,539.33 224.00,537.30 C223.57,535.27 223.17,534.13 222.30,532.10 C221.43,530.07 219.97,527.73 218.80,525.10 C217.63,522.47 216.32,519.80 215.30,516.30 C214.28,512.80 213.28,508.48 212.70,504.10 C212.12,499.72 211.87,494.68 211.80,490.00 C211.73,485.32 212.15,479.78 212.30,476.00 C212.45,472.22 212.93,468.75 212.70,467.30Z" fill="#f4f0ef" stroke="#f4f0ef" stroke-width="1.2"/>
<path d="M188.10,522.50 C187.37,521.05 183.72,521.60 181.10,521.60 C178.48,521.60 175.02,521.92 172.40,522.50 C169.78,523.08 166.72,523.50 165.40,525.10 C164.08,526.70 164.22,529.48 164.50,532.10 C164.78,534.72 165.78,538.17 167.10,540.80 C168.42,543.43 170.80,546.28 172.40,547.90 C174.00,549.52 175.53,550.80 176.70,550.50 C177.87,550.20 178.67,548.00 179.40,546.10 C180.13,544.20 180.08,541.73 181.10,539.10 C182.12,536.47 184.33,533.07 185.50,530.30 C186.67,527.53 188.83,523.95 188.10,522.50Z" fill="#f4f0ef" stroke="#f4f0ef" stroke-width="1.2"/>
<path d="M213.50,459.90 C214.22,459.32 215.68,462.28 217.00,463.80 C218.32,465.32 219.78,467.98 221.40,469.00 C223.02,470.02 224.95,470.05 226.70,469.90 C228.45,469.75 229.87,467.95 231.90,468.10 C233.93,468.25 237.28,469.18 238.90,470.80 C240.52,472.42 241.00,475.18 241.60,477.80 C242.20,480.42 241.18,484.75 242.50,486.50 C243.82,488.25 246.88,487.72 249.50,488.30 C252.12,488.88 255.87,488.25 258.20,490.00 C260.53,491.75 262.18,495.87 263.50,498.80 C264.82,501.73 266.40,505.27 266.10,507.60 C265.80,509.93 263.60,511.35 261.70,512.80 C259.80,514.25 257.03,515.13 254.70,516.30 C252.37,517.47 250.03,519.07 247.70,519.80 C245.37,520.53 242.17,519.53 240.70,520.70 C239.23,521.87 239.77,524.90 238.90,526.80 C238.03,528.70 235.93,529.77 235.50,532.10 C235.07,534.43 236.45,538.17 236.30,540.80 C236.15,543.43 235.62,546.28 234.60,547.90 C233.58,549.52 231.52,550.65 230.20,550.50 C228.88,550.35 227.43,548.62 226.70,547.00 C225.97,545.38 226.25,542.42 225.80,540.80 C225.35,539.18 224.58,538.75 224.00,537.30 C223.42,535.85 223.17,534.13 222.30,532.10 C221.43,530.07 219.97,527.73 218.80,525.10 C217.63,522.47 216.32,519.80 215.30,516.30 C214.28,512.80 213.28,508.48 212.70,504.10 C212.12,499.72 211.87,494.68 211.80,490.00 C211.73,485.32 212.15,479.78 212.30,476.00 C212.45,472.22 212.50,469.98 212.70,467.30 C212.90,464.62 212.78,460.48 213.50,459.90Z" fill="none" stroke="#fff" stroke-width="1.8" opacity="0.8"/>
<path d="M212.70,467.30 C212.47,465.85 211.78,467.17 210.90,467.30 C210.02,467.43 208.85,466.93 207.40,468.10 C205.95,469.27 203.95,471.82 202.20,474.30 C200.45,476.78 198.67,480.08 196.90,483.00 C195.13,485.92 192.92,489.17 191.60,491.80 C190.28,494.43 189.58,496.17 189.00,498.80 C188.42,501.43 188.38,504.68 188.10,507.60 C187.82,510.52 187.30,513.82 187.30,516.30 C187.30,518.78 188.40,520.17 188.10,522.50 C187.80,524.83 186.67,527.53 185.50,530.30 C184.33,533.07 182.42,535.88 181.10,539.10 C179.78,542.32 178.33,546.10 177.60,549.60 C176.87,553.10 176.25,557.18 176.70,560.10 C177.15,563.02 178.53,565.28 180.30,567.10 C182.07,568.92 184.83,570.70 187.30,571.00 C189.77,571.30 192.03,570.27 195.10,568.90 C198.17,567.53 202.18,564.85 205.70,562.80 C209.22,560.75 213.28,558.35 216.20,556.60 C219.12,554.85 221.75,554.35 223.20,552.30 C224.65,550.25 224.77,546.80 224.90,544.30 C225.03,541.80 224.43,539.33 224.00,537.30 C223.57,535.27 223.17,534.13 222.30,532.10 C221.43,530.07 219.97,527.73 218.80,525.10 C217.63,522.47 216.32,519.80 215.30,516.30 C214.28,512.80 213.28,508.48 212.70,504.10 C212.12,499.72 211.87,494.68 211.80,490.00 C211.73,485.32 212.15,479.78 212.30,476.00 C212.45,472.22 212.93,468.75 212.70,467.30Z" fill="none" stroke="#fff" stroke-width="1.8" opacity="0.8"/>
<path d="M188.10,522.50 C187.37,521.05 183.72,521.60 181.10,521.60 C178.48,521.60 175.02,521.92 172.40,522.50 C169.78,523.08 166.72,523.50 165.40,525.10 C164.08,526.70 164.22,529.48 164.50,532.10 C164.78,534.72 165.78,538.17 167.10,540.80 C168.42,543.43 170.80,546.28 172.40,547.90 C174.00,549.52 175.53,550.80 176.70,550.50 C177.87,550.20 178.67,548.00 179.40,546.10 C180.13,544.20 180.08,541.73 181.10,539.10 C182.12,536.47 184.33,533.07 185.50,530.30 C186.67,527.53 188.83,523.95 188.10,522.50Z" fill="none" stroke="#fff" stroke-width="1.8" opacity="0.8"/>
<path d="M343.70,459.90 C344.42,459.32 345.88,462.28 347.20,463.80 C348.52,465.32 349.98,467.98 351.60,469.00 C353.22,470.02 355.15,470.05 356.90,469.90 C358.65,469.75 360.07,467.95 362.10,468.10 C364.13,468.25 367.48,469.18 369.10,470.80 C370.72,472.42 371.20,475.18 371.80,477.80 C372.40,480.42 371.38,484.75 372.70,486.50 C374.02,488.25 377.08,487.72 379.70,488.30 C382.32,488.88 386.07,488.25 388.40,490.00 C390.73,491.75 392.38,495.87 393.70,498.80 C395.02,501.73 396.60,505.27 396.30,507.60 C396.00,509.93 393.80,511.35 391.90,512.80 C390.00,514.25 387.23,515.13 384.90,516.30 C382.57,517.47 380.23,519.07 377.90,519.80 C375.57,520.53 372.37,519.53 370.90,520.70 C369.43,521.87 369.97,524.90 369.10,526.80 C368.23,528.70 366.13,529.77 365.70,532.10 C365.27,534.43 366.65,538.17 366.50,540.80 C366.35,543.43 365.82,546.28 364.80,547.90 C363.78,549.52 361.72,550.65 360.40,550.50 C359.08,550.35 357.63,548.62 356.90,547.00 C356.17,545.38 356.45,542.42 356.00,540.80 C355.55,539.18 354.78,538.75 354.20,537.30 C353.62,535.85 353.37,534.13 352.50,532.10 C351.63,530.07 350.17,527.73 349.00,525.10 C347.83,522.47 346.52,519.80 345.50,516.30 C344.48,512.80 343.48,508.48 342.90,504.10 C342.32,499.72 342.07,494.68 342.00,490.00 C341.93,485.32 342.35,479.78 342.50,476.00 C342.65,472.22 342.70,469.98 342.90,467.30 C343.10,464.62 342.98,460.48 343.70,459.90Z" fill="#f4f0ef" stroke="#f4f0ef" stroke-width="1.2"/>
<path d="M342.90,467.30 C342.67,465.85 341.98,467.17 341.10,467.30 C340.22,467.43 339.05,466.93 337.60,468.10 C336.15,469.27 334.15,471.82 332.40,474.30 C330.65,476.78 328.87,480.08 327.10,483.00 C325.33,485.92 323.12,489.17 321.80,491.80 C320.48,494.43 319.78,496.17 319.20,498.80 C318.62,501.43 318.58,504.68 318.30,507.60 C318.02,510.52 317.50,513.82 317.50,516.30 C317.50,518.78 318.60,520.17 318.30,522.50 C318.00,524.83 316.87,527.53 315.70,530.30 C314.53,533.07 312.62,535.88 311.30,539.10 C309.98,542.32 308.53,546.10 307.80,549.60 C307.07,553.10 306.45,557.18 306.90,560.10 C307.35,563.02 308.73,565.28 310.50,567.10 C312.27,568.92 315.03,570.70 317.50,571.00 C319.97,571.30 322.23,570.27 325.30,568.90 C328.37,567.53 332.38,564.85 335.90,562.80 C339.42,560.75 343.48,558.35 346.40,556.60 C349.32,554.85 351.95,554.35 353.40,552.30 C354.85,550.25 354.97,546.80 355.10,544.30 C355.23,541.80 354.63,539.33 354.20,537.30 C353.77,535.27 353.37,534.13 352.50,532.10 C351.63,530.07 350.17,527.73 349.00,525.10 C347.83,522.47 346.52,519.80 345.50,516.30 C344.48,512.80 343.48,508.48 342.90,504.10 C342.32,499.72 342.07,494.68 342.00,490.00 C341.93,485.32 342.35,479.78 342.50,476.00 C342.65,472.22 343.13,468.75 342.90,467.30Z" fill="#f4f0ef" stroke="#f4f0ef" stroke-width="1.2"/>
<path d="M318.30,522.50 C317.57,521.05 313.92,521.60 311.30,521.60 C308.68,521.60 305.22,521.92 302.60,522.50 C299.98,523.08 296.92,523.50 295.60,525.10 C294.28,526.70 294.42,529.48 294.70,532.10 C294.98,534.72 295.98,538.17 297.30,540.80 C298.62,543.43 301.00,546.28 302.60,547.90 C304.20,549.52 305.73,550.80 306.90,550.50 C308.07,550.20 308.87,548.00 309.60,546.10 C310.33,544.20 310.28,541.73 311.30,539.10 C312.32,536.47 314.53,533.07 315.70,530.30 C316.87,527.53 319.03,523.95 318.30,522.50Z" fill="#f4f0ef" stroke="#f4f0ef" stroke-width="1.2"/>
<path d="M343.70,459.90 C344.42,459.32 345.88,462.28 347.20,463.80 C348.52,465.32 349.98,467.98 351.60,469.00 C353.22,470.02 355.15,470.05 356.90,469.90 C358.65,469.75 360.07,467.95 362.10,468.10 C364.13,468.25 367.48,469.18 369.10,470.80 C370.72,472.42 371.20,475.18 371.80,477.80 C372.40,480.42 371.38,484.75 372.70,486.50 C374.02,488.25 377.08,487.72 379.70,488.30 C382.32,488.88 386.07,488.25 388.40,490.00 C390.73,491.75 392.38,495.87 393.70,498.80 C395.02,501.73 396.60,505.27 396.30,507.60 C396.00,509.93 393.80,511.35 391.90,512.80 C390.00,514.25 387.23,515.13 384.90,516.30 C382.57,517.47 380.23,519.07 377.90,519.80 C375.57,520.53 372.37,519.53 370.90,520.70 C369.43,521.87 369.97,524.90 369.10,526.80 C368.23,528.70 366.13,529.77 365.70,532.10 C365.27,534.43 366.65,538.17 366.50,540.80 C366.35,543.43 365.82,546.28 364.80,547.90 C363.78,549.52 361.72,550.65 360.40,550.50 C359.08,550.35 357.63,548.62 356.90,547.00 C356.17,545.38 356.45,542.42 356.00,540.80 C355.55,539.18 354.78,538.75 354.20,537.30 C353.62,535.85 353.37,534.13 352.50,532.10 C351.63,530.07 350.17,527.73 349.00,525.10 C347.83,522.47 346.52,519.80 345.50,516.30 C344.48,512.80 343.48,508.48 342.90,504.10 C342.32,499.72 342.07,494.68 342.00,490.00 C341.93,485.32 342.35,479.78 342.50,476.00 C342.65,472.22 342.70,469.98 342.90,467.30 C343.10,464.62 342.98,460.48 343.70,459.90Z" fill="none" stroke="#fff" stroke-width="1.8" opacity="0.8"/>
<path d="M342.90,467.30 C342.67,465.85 341.98,467.17 341.10,467.30 C340.22,467.43 339.05,466.93 337.60,468.10 C336.15,469.27 334.15,471.82 332.40,474.30 C330.65,476.78 328.87,480.08 327.10,483.00 C325.33,485.92 323.12,489.17 321.80,491.80 C320.48,494.43 319.78,496.17 319.20,498.80 C318.62,501.43 318.58,504.68 318.30,507.60 C318.02,510.52 317.50,513.82 317.50,516.30 C317.50,518.78 318.60,520.17 318.30,522.50 C318.00,524.83 316.87,527.53 315.70,530.30 C314.53,533.07 312.62,535.88 311.30,539.10 C309.98,542.32 308.53,546.10 307.80,549.60 C307.07,553.10 306.45,557.18 306.90,560.10 C307.35,563.02 308.73,565.28 310.50,567.10 C312.27,568.92 315.03,570.70 317.50,571.00 C319.97,571.30 322.23,570.27 325.30,568.90 C328.37,567.53 332.38,564.85 335.90,562.80 C339.42,560.75 343.48,558.35 346.40,556.60 C349.32,554.85 351.95,554.35 353.40,552.30 C354.85,550.25 354.97,546.80 355.10,544.30 C355.23,541.80 354.63,539.33 354.20,537.30 C353.77,535.27 353.37,534.13 352.50,532.10 C351.63,530.07 350.17,527.73 349.00,525.10 C347.83,522.47 346.52,519.80 345.50,516.30 C344.48,512.80 343.48,508.48 342.90,504.10 C342.32,499.72 342.07,494.68 342.00,490.00 C341.93,485.32 342.35,479.78 342.50,476.00 C342.65,472.22 343.13,468.75 342.90,467.30Z" fill="none" stroke="#fff" stroke-width="1.8" opacity="0.8"/>
<path d="M318.30,522.50 C317.57,521.05 313.92,521.60 311.30,521.60 C308.68,521.60 305.22,521.92 302.60,522.50 C299.98,523.08 296.92,523.50 295.60,525.10 C294.28,526.70 294.42,529.48 294.70,532.10 C294.98,534.72 295.98,538.17 297.30,540.80 C298.62,543.43 301.00,546.28 302.60,547.90 C304.20,549.52 305.73,550.80 306.90,550.50 C308.07,550.20 308.87,548.00 309.60,546.10 C310.33,544.20 310.28,541.73 311.30,539.10 C312.32,536.47 314.53,533.07 315.70,530.30 C316.87,527.53 319.03,523.95 318.30,522.50Z" fill="none" stroke="#fff" stroke-width="1.8" opacity="0.8"/>
<path d="M473.50,459.90 C474.22,459.32 475.68,462.28 477.00,463.80 C478.32,465.32 479.78,467.98 481.40,469.00 C483.02,470.02 484.95,470.05 486.70,469.90 C488.45,469.75 489.87,467.95 491.90,468.10 C493.93,468.25 497.28,469.18 498.90,470.80 C500.52,472.42 501.00,475.18 501.60,477.80 C502.20,480.42 501.18,484.75 502.50,486.50 C503.82,488.25 506.88,487.72 509.50,488.30 C512.12,488.88 515.87,488.25 518.20,490.00 C520.53,491.75 522.18,495.87 523.50,498.80 C524.82,501.73 526.40,505.27 526.10,507.60 C525.80,509.93 523.60,511.35 521.70,512.80 C519.80,514.25 517.03,515.13 514.70,516.30 C512.37,517.47 510.03,519.07 507.70,519.80 C505.37,520.53 502.17,519.53 500.70,520.70 C499.23,521.87 499.77,524.90 498.90,526.80 C498.03,528.70 495.93,529.77 495.50,532.10 C495.07,534.43 496.45,538.17 496.30,540.80 C496.15,543.43 495.62,546.28 494.60,547.90 C493.58,549.52 491.52,550.65 490.20,550.50 C488.88,550.35 487.43,548.62 486.70,547.00 C485.97,545.38 486.25,542.42 485.80,540.80 C485.35,539.18 484.58,538.75 484.00,537.30 C483.42,535.85 483.17,534.13 482.30,532.10 C481.43,530.07 479.97,527.73 478.80,525.10 C477.63,522.47 476.32,519.80 475.30,516.30 C474.28,512.80 473.28,508.48 472.70,504.10 C472.12,499.72 471.87,494.68 471.80,490.00 C471.73,485.32 472.15,479.78 472.30,476.00 C472.45,472.22 472.50,469.98 472.70,467.30 C472.90,464.62 472.78,460.48 473.50,459.90Z" fill="#f4f0ef" stroke="#f4f0ef" stroke-width="1.2"/>
<path d="M472.70,467.30 C472.47,465.85 471.78,467.17 470.90,467.30 C470.02,467.43 468.85,466.93 467.40,468.10 C465.95,469.27 463.95,471.82 462.20,474.30 C460.45,476.78 458.67,480.08 456.90,483.00 C455.13,485.92 452.92,489.17 451.60,491.80 C450.28,494.43 449.58,496.17 449.00,498.80 C448.42,501.43 448.38,504.68 448.10,507.60 C447.82,510.52 447.30,513.82 447.30,516.30 C447.30,518.78 448.40,520.17 448.10,522.50 C447.80,524.83 446.67,527.53 445.50,530.30 C444.33,533.07 442.42,535.88 441.10,539.10 C439.78,542.32 438.33,546.10 437.60,549.60 C436.87,553.10 436.25,557.18 436.70,560.10 C437.15,563.02 438.53,565.28 440.30,567.10 C442.07,568.92 444.83,570.70 447.30,571.00 C449.77,571.30 452.03,570.27 455.10,568.90 C458.17,567.53 462.18,564.85 465.70,562.80 C469.22,560.75 473.28,558.35 476.20,556.60 C479.12,554.85 481.75,554.35 483.20,552.30 C484.65,550.25 484.77,546.80 484.90,544.30 C485.03,541.80 484.43,539.33 484.00,537.30 C483.57,535.27 483.17,534.13 482.30,532.10 C481.43,530.07 479.97,527.73 478.80,525.10 C477.63,522.47 476.32,519.80 475.30,516.30 C474.28,512.80 473.28,508.48 472.70,504.10 C472.12,499.72 471.87,494.68 471.80,490.00 C471.73,485.32 472.15,479.78 472.30,476.00 C472.45,472.22 472.93,468.75 472.70,467.30Z" fill="#f4f0ef" stroke="#f4f0ef" stroke-width="1.2"/>
<path d="M448.10,522.50 C447.37,521.05 443.72,521.60 441.10,521.60 C438.48,521.60 435.02,521.92 432.40,522.50 C429.78,523.08 426.72,523.50 425.40,525.10 C424.08,526.70 424.22,529.48 424.50,532.10 C424.78,534.72 425.78,538.17 427.10,540.80 C428.42,543.43 430.80,546.28 432.40,547.90 C434.00,549.52 435.53,550.80 436.70,550.50 C437.87,550.20 438.67,548.00 439.40,546.10 C440.13,544.20 440.08,541.73 441.10,539.10 C442.12,536.47 444.33,533.07 445.50,530.30 C446.67,527.53 448.83,523.95 448.10,522.50Z" fill="#f4f0ef" stroke="#f4f0ef" stroke-width="1.2"/>
<path d="M473.50,459.90 C474.22,459.32 475.68,462.28 477.00,463.80 C478.32,465.32 479.78,467.98 481.40,469.00 C483.02,470.02 484.95,470.05 486.70,469.90 C488.45,469.75 489.87,467.95 491.90,468.10 C493.93,468.25 497.28,469.18 498.90,470.80 C500.52,472.42 501.00,475.18 501.60,477.80 C502.20,480.42 501.18,484.75 502.50,486.50 C503.82,488.25 506.88,487.72 509.50,488.30 C512.12,488.88 515.87,488.25 518.20,490.00 C520.53,491.75 522.18,495.87 523.50,498.80 C524.82,501.73 526.40,505.27 526.10,507.60 C525.80,509.93 523.60,511.35 521.70,512.80 C519.80,514.25 517.03,515.13 514.70,516.30 C512.37,517.47 510.03,519.07 507.70,519.80 C505.37,520.53 502.17,519.53 500.70,520.70 C499.23,521.87 499.77,524.90 498.90,526.80 C498.03,528.70 495.93,529.77 495.50,532.10 C495.07,534.43 496.45,538.17 496.30,540.80 C496.15,543.43 495.62,546.28 494.60,547.90 C493.58,549.52 491.52,550.65 490.20,550.50 C488.88,550.35 487.43,548.62 486.70,547.00 C485.97,545.38 486.25,542.42 485.80,540.80 C485.35,539.18 484.58,538.75 484.00,537.30 C483.42,535.85 483.17,534.13 482.30,532.10 C481.43,530.07 479.97,527.73 478.80,525.10 C477.63,522.47 476.32,519.80 475.30,516.30 C474.28,512.80 473.28,508.48 472.70,504.10 C472.12,499.72 471.87,494.68 471.80,490.00 C471.73,485.32 472.15,479.78 472.30,476.00 C472.45,472.22 472.50,469.98 472.70,467.30 C472.90,464.62 472.78,460.48 473.50,459.90Z" fill="none" stroke="#fff" stroke-width="1.8" opacity="0.8"/>
<path d="M472.70,467.30 C472.47,465.85 471.78,467.17 470.90,467.30 C470.02,467.43 468.85,466.93 467.40,468.10 C465.95,469.27 463.95,471.82 462.20,474.30 C460.45,476.78 458.67,480.08 456.90,483.00 C455.13,485.92 452.92,489.17 451.60,491.80 C450.28,494.43 449.58,496.17 449.00,498.80 C448.42,501.43 448.38,504.68 448.10,507.60 C447.82,510.52 447.30,513.82 447.30,516.30 C447.30,518.78 448.40,520.17 448.10,522.50 C447.80,524.83 446.67,527.53 445.50,530.30 C444.33,533.07 442.42,535.88 441.10,539.10 C439.78,542.32 438.33,546.10 437.60,549.60 C436.87,553.10 436.25,557.18 436.70,560.10 C437.15,563.02 438.53,565.28 440.30,567.10 C442.07,568.92 444.83,570.70 447.30,571.00 C449.77,571.30 452.03,570.27 455.10,568.90 C458.17,567.53 462.18,564.85 465.70,562.80 C469.22,560.75 473.28,558.35 476.20,556.60 C479.12,554.85 481.75,554.35 483.20,552.30 C484.65,550.25 484.77,546.80 484.90,544.30 C485.03,541.80 484.43,539.33 484.00,537.30 C483.57,535.27 483.17,534.13 482.30,532.10 C481.43,530.07 479.97,527.73 478.80,525.10 C477.63,522.47 476.32,519.80 475.30,516.30 C474.28,512.80 473.28,508.48 472.70,504.10 C472.12,499.72 471.87,494.68 471.80,490.00 C471.73,485.32 472.15,479.78 472.30,476.00 C472.45,472.22 472.93,468.75 472.70,467.30Z" fill="none" stroke="#fff" stroke-width="1.8" opacity="0.8"/>
<path d="M448.10,522.50 C447.37,521.05 443.72,521.60 441.10,521.60 C438.48,521.60 435.02,521.92 432.40,522.50 C429.78,523.08 426.72,523.50 425.40,525.10 C424.08,526.70 424.22,529.48 424.50,532.10 C424.78,534.72 425.78,538.17 427.10,540.80 C428.42,543.43 430.80,546.28 432.40,547.90 C434.00,549.52 435.53,550.80 436.70,550.50 C437.87,550.20 438.67,548.00 439.40,546.10 C440.13,544.20 440.08,541.73 441.10,539.10 C442.12,536.47 444.33,533.07 445.50,530.30 C446.67,527.53 448.83,523.95 448.10,522.50Z" fill="none" stroke="#fff" stroke-width="1.8" opacity="0.8"/>
<path d="M604.90,459.90 C605.62,459.32 607.08,462.28 608.40,463.80 C609.72,465.32 611.18,467.98 612.80,469.00 C614.42,470.02 616.35,470.05 618.10,469.90 C619.85,469.75 621.27,467.95 623.30,468.10 C625.33,468.25 628.68,469.18 630.30,470.80 C631.92,472.42 632.40,475.18 633.00,477.80 C633.60,480.42 632.58,484.75 633.90,486.50 C635.22,488.25 638.28,487.72 640.90,488.30 C643.52,488.88 647.27,488.25 649.60,490.00 C651.93,491.75 653.58,495.87 654.90,498.80 C656.22,501.73 657.80,505.27 657.50,507.60 C657.20,509.93 655.00,511.35 653.10,512.80 C651.20,514.25 648.43,515.13 646.10,516.30 C643.77,517.47 641.43,519.07 639.10,519.80 C636.77,520.53 633.57,519.53 632.10,520.70 C630.63,521.87 631.17,524.90 630.30,526.80 C629.43,528.70 627.33,529.77 626.90,532.10 C626.47,534.43 627.85,538.17 627.70,540.80 C627.55,543.43 627.02,546.28 626.00,547.90 C624.98,549.52 622.92,550.65 621.60,550.50 C620.28,550.35 618.83,548.62 618.10,547.00 C617.37,545.38 617.65,542.42 617.20,540.80 C616.75,539.18 615.98,538.75 615.40,537.30 C614.82,535.85 614.57,534.13 613.70,532.10 C612.83,530.07 611.37,527.73 610.20,525.10 C609.03,522.47 607.72,519.80 606.70,516.30 C605.68,512.80 604.68,508.48 604.10,504.10 C603.52,499.72 603.27,494.68 603.20,490.00 C603.13,485.32 603.55,479.78 603.70,476.00 C603.85,472.22 603.90,469.98 604.10,467.30 C604.30,464.62 604.18,460.48 604.90,459.90Z" fill="#f4f0ef" stroke="#f4f0ef" stroke-width="1.2"/>
<path d="M604.10,467.30 C603.87,465.85 603.18,467.17 602.30,467.30 C601.42,467.43 600.25,466.93 598.80,468.10 C597.35,469.27 595.35,471.82 593.60,474.30 C591.85,476.78 590.07,480.08 588.30,483.00 C586.53,485.92 584.32,489.17 583.00,491.80 C581.68,494.43 580.98,496.17 580.40,498.80 C579.82,501.43 579.78,504.68 579.50,507.60 C579.22,510.52 578.70,513.82 578.70,516.30 C578.70,518.78 579.80,520.17 579.50,522.50 C579.20,524.83 578.07,527.53 576.90,530.30 C575.73,533.07 573.82,535.88 572.50,539.10 C571.18,542.32 569.73,546.10 569.00,549.60 C568.27,553.10 567.65,557.18 568.10,560.10 C568.55,563.02 569.93,565.28 571.70,567.10 C573.47,568.92 576.23,570.70 578.70,571.00 C581.17,571.30 583.43,570.27 586.50,568.90 C589.57,567.53 593.58,564.85 597.10,562.80 C600.62,560.75 604.68,558.35 607.60,556.60 C610.52,554.85 613.15,554.35 614.60,552.30 C616.05,550.25 616.17,546.80 616.30,544.30 C616.43,541.80 615.83,539.33 615.40,537.30 C614.97,535.27 614.57,534.13 613.70,532.10 C612.83,530.07 611.37,527.73 610.20,525.10 C609.03,522.47 607.72,519.80 606.70,516.30 C605.68,512.80 604.68,508.48 604.10,504.10 C603.52,499.72 603.27,494.68 603.20,490.00 C603.13,485.32 603.55,479.78 603.70,476.00 C603.85,472.22 604.33,468.75 604.10,467.30Z" fill="#f4f0ef" stroke="#f4f0ef" stroke-width="1.2"/>
<path d="M579.50,522.50 C578.77,521.05 575.12,521.60 572.50,521.60 C569.88,521.60 566.42,521.92 563.80,522.50 C561.18,523.08 558.12,523.50 556.80,525.10 C555.48,526.70 555.62,529.48 555.90,532.10 C556.18,534.72 557.18,538.17 558.50,540.80 C559.82,543.43 562.20,546.28 563.80,547.90 C565.40,549.52 566.93,550.80 568.10,550.50 C569.27,550.20 570.07,548.00 570.80,546.10 C571.53,544.20 571.48,541.73 572.50,539.10 C573.52,536.47 575.73,533.07 576.90,530.30 C578.07,527.53 580.23,523.95 579.50,522.50Z" fill="#f4f0ef" stroke="#f4f0ef" stroke-width="1.2"/>
<path d="M604.90,459.90 C605.62,459.32 607.08,462.28 608.40,463.80 C609.72,465.32 611.18,467.98 612.80,469.00 C614.42,470.02 616.35,470.05 618.10,469.90 C619.85,469.75 621.27,467.95 623.30,468.10 C625.33,468.25 628.68,469.18 630.30,470.80 C631.92,472.42 632.40,475.18 633.00,477.80 C633.60,480.42 632.58,484.75 633.90,486.50 C635.22,488.25 638.28,487.72 640.90,488.30 C643.52,488.88 647.27,488.25 649.60,490.00 C651.93,491.75 653.58,495.87 654.90,498.80 C656.22,501.73 657.80,505.27 657.50,507.60 C657.20,509.93 655.00,511.35 653.10,512.80 C651.20,514.25 648.43,515.13 646.10,516.30 C643.77,517.47 641.43,519.07 639.10,519.80 C636.77,520.53 633.57,519.53 632.10,520.70 C630.63,521.87 631.17,524.90 630.30,526.80 C629.43,528.70 627.33,529.77 626.90,532.10 C626.47,534.43 627.85,538.17 627.70,540.80 C627.55,543.43 627.02,546.28 626.00,547.90 C624.98,549.52 622.92,550.65 621.60,550.50 C620.28,550.35 618.83,548.62 618.10,547.00 C617.37,545.38 617.65,542.42 617.20,540.80 C616.75,539.18 615.98,538.75 615.40,537.30 C614.82,535.85 614.57,534.13 613.70,532.10 C612.83,530.07 611.37,527.73 610.20,525.10 C609.03,522.47 607.72,519.80 606.70,516.30 C605.68,512.80 604.68,508.48 604.10,504.10 C603.52,499.72 603.27,494.68 603.20,490.00 C603.13,485.32 603.55,479.78 603.70,476.00 C603.85,472.22 603.90,469.98 604.10,467.30 C604.30,464.62 604.18,460.48 604.90,459.90Z" fill="none" stroke="#fff" stroke-width="1.8" opacity="0.8"/>
<path d="M604.10,467.30 C603.87,465.85 603.18,467.17 602.30,467.30 C601.42,467.43 600.25,466.93 598.80,468.10 C597.35,469.27 595.35,471.82 593.60,474.30 C591.85,476.78 590.07,480.08 588.30,483.00 C586.53,485.92 584.32,489.17 583.00,491.80 C581.68,494.43 580.98,496.17 580.40,498.80 C579.82,501.43 579.78,504.68 579.50,507.60 C579.22,510.52 578.70,513.82 578.70,516.30 C578.70,518.78 579.80,520.17 579.50,522.50 C579.20,524.83 578.07,527.53 576.90,530.30 C575.73,533.07 573.82,535.88 572.50,539.10 C571.18,542.32 569.73,546.10 569.00,549.60 C568.27,553.10 567.65,557.18 568.10,560.10 C568.55,563.02 569.93,565.28 571.70,567.10 C573.47,568.92 576.23,570.70 578.70,571.00 C581.17,571.30 583.43,570.27 586.50,568.90 C589.57,567.53 593.58,564.85 597.10,562.80 C600.62,560.75 604.68,558.35 607.60,556.60 C610.52,554.85 613.15,554.35 614.60,552.30 C616.05,550.25 616.17,546.80 616.30,544.30 C616.43,541.80 615.83,539.33 615.40,537.30 C614.97,535.27 614.57,534.13 613.70,532.10 C612.83,530.07 611.37,527.73 610.20,525.10 C609.03,522.47 607.72,519.80 606.70,516.30 C605.68,512.80 604.68,508.48 604.10,504.10 C603.52,499.72 603.27,494.68 603.20,490.00 C603.13,485.32 603.55,479.78 603.70,476.00 C603.85,472.22 604.33,468.75 604.10,467.30Z" fill="none" stroke="#fff" stroke-width="1.8" opacity="0.8"/>
<path d="M579.50,522.50 C578.77,521.05 575.12,521.60 572.50,521.60 C569.88,521.60 566.42,521.92 563.80,522.50 C561.18,523.08 558.12,523.50 556.80,525.10 C555.48,526.70 555.62,529.48 555.90,532.10 C556.18,534.72 557.18,538.17 558.50,540.80 C559.82,543.43 562.20,546.28 563.80,547.90 C565.40,549.52 566.93,550.80 568.10,550.50 C569.27,550.20 570.07,548.00 570.80,546.10 C571.53,544.20 571.48,541.73 572.50,539.10 C573.52,536.47 575.73,533.07 576.90,530.30 C578.07,527.53 580.23,523.95 579.50,522.50Z" fill="none" stroke="#fff" stroke-width="1.8" opacity="0.8"/>
<rect x="89.90" y="517.02" width="1.60" height="1.60" fill="#d98656"/>
<rect x="84.40" y="507.06" width="1.60" height="1.60" fill="#d98656"/>
<rect x="79.19" y="510.64" width="1.60" height="1.60" fill="#d98656"/>
<rect x="79.50" y="504.03" width="1.60" height="1.60" fill="#d98656"/>
<rect x="85.00" y="511.10" width="1.60" height="1.60" fill="#d98656"/>
<rect x="86.56" y="506.39" width="1.60" height="1.60" fill="#d98656"/>
<rect x="84.12" y="510.21" width="1.60" height="1.60" fill="#d98656"/>
<rect x="77.32" y="512.92" width="1.60" height="1.60" fill="#d98656"/>
<rect x="85.54" y="521.25" width="1.60" height="1.60" fill="#d98656"/>
<rect x="85.01" y="509.85" width="1.60" height="1.60" fill="#d98656"/>
<rect x="89.65" y="511.39" width="1.60" height="1.60" fill="#d98656"/>
<rect x="88.19" y="508.86" width="1.60" height="1.60" fill="#d98656"/>
<rect x="85.08" y="515.11" width="1.60" height="1.60" fill="#d98656"/>
<rect x="87.23" y="511.08" width="1.60" height="1.60" fill="#d98656"/>
<rect x="79.23" y="512.50" width="1.60" height="1.60" fill="#d98656"/>
<rect x="84.45" y="513.74" width="1.60" height="1.60" fill="#d98656"/>
<rect x="85.07" y="515.40" width="1.60" height="1.60" fill="#d98656"/>
<rect x="83.87" y="511.41" width="1.60" height="1.60" fill="#d98656"/>
<rect x="87.10" y="505.61" width="1.60" height="1.60" fill="#d98656"/>
<rect x="82.29" y="508.25" width="1.60" height="1.60" fill="#d98656"/>
<rect x="93.01" y="510.08" width="1.60" height="1.60" fill="#d98656"/>
<rect x="87.03" y="513.29" width="1.60" height="1.60" fill="#d98656"/>
<rect x="82.84" y="503.52" width="1.60" height="1.60" fill="#d98656"/>
<rect x="88.44" y="508.67" width="1.60" height="1.60" fill="#d98656"/>
<rect x="87.33" y="504.63" width="1.60" height="1.60" fill="#d98656"/>
<rect x="82.13" y="516.16" width="1.60" height="1.60" fill="#d98656"/>
<rect x="90.54" y="504.64" width="1.60" height="1.60" fill="#d98656"/>
<rect x="78.10" y="510.30" width="1.60" height="1.60" fill="#d98656"/>
<rect x="87.38" y="511.22" width="1.60" height="1.60" fill="#d98656"/>
<rect x="85.47" y="506.05" width="1.60" height="1.60" fill="#d98656"/>
<rect x="86.74" y="515.53" width="1.60" height="1.60" fill="#d98656"/>
<rect x="82.14" y="504.05" width="1.60" height="1.60" fill="#d98656"/>
<rect x="80.69" y="513.93" width="1.60" height="1.60" fill="#d98656"/>
<rect x="76.30" y="510.09" width="1.60" height="1.60" fill="#d98656"/>
<rect x="79.64" y="509.91" width="1.60" height="1.60" fill="#d98656"/>
<rect x="83.00" y="510.57" width="1.60" height="1.60" fill="#d98656"/>
<rect x="90.86" y="512.39" width="1.60" height="1.60" fill="#d98656"/>
<rect x="90.10" y="509.86" width="1.60" height="1.60" fill="#d98656"/>
<rect x="81.94" y="512.20" width="1.60" height="1.60" fill="#d98656"/>
<rect x="71.34" y="510.32" width="1.60" height="1.60" fill="#d98656"/>
<rect x="84.82" y="504.94" width="1.60" height="1.60" fill="#d98656"/>
<rect x="86.19" y="507.98" width="1.60" height="1.60" fill="#d98656"/>
<rect x="73.03" y="509.54" width="1.60" height="1.60" fill="#d98656"/>
<rect x="79.70" y="508.16" width="1.60" height="1.60" fill="#d98656"/>
<rect x="83.41" y="516.13" width="1.60" height="1.60" fill="#d98656"/>
<rect x="84.56" y="510.37" width="1.60" height="1.60" fill="#d98656"/>
<rect x="85.85" y="502.35" width="1.60" height="1.60" fill="#d98656"/>
<rect x="89.68" y="505.65" width="1.60" height="1.60" fill="#d98656"/>
<rect x="86.08" y="505.43" width="1.60" height="1.60" fill="#d98656"/>
<rect x="79.71" y="508.72" width="1.60" height="1.60" fill="#d98656"/>
<rect x="92.63" y="513.64" width="1.60" height="1.60" fill="#d98656"/>
<rect x="81.38" y="509.22" width="1.60" height="1.60" fill="#d98656"/>
<rect x="78.92" y="510.35" width="1.60" height="1.60" fill="#d98656"/>
<rect x="81.52" y="513.75" width="1.60" height="1.60" fill="#d98656"/>
<rect x="77.99" y="508.99" width="1.60" height="1.60" fill="#d98656"/>
<rect x="80.31" y="507.27" width="1.60" height="1.60" fill="#d98656"/>
<rect x="87.30" y="511.07" width="1.60" height="1.60" fill="#d98656"/>
<rect x="86.73" y="515.85" width="1.60" height="1.60" fill="#d98656"/>
<rect x="89.27" y="504.33" width="1.60" height="1.60" fill="#d98656"/>
<rect x="86.52" y="502.57" width="1.60" height="1.60" fill="#d98656"/>
<rect x="83.81" y="519.14" width="1.60" height="1.60" fill="#d98656"/>
<rect x="83.23" y="508.84" width="1.60" height="1.60" fill="#d98656"/>
<rect x="84.87" y="510.58" width="1.60" height="1.60" fill="#d98656"/>
<rect x="84.22" y="507.09" width="1.60" height="1.60" fill="#d98656"/>
<rect x="88.97" y="514.50" width="1.60" height="1.60" fill="#d98656"/>
<rect x="83.14" y="511.92" width="1.60" height="1.60" fill="#d98656"/>
<rect x="87.06" y="515.14" width="1.60" height="1.60" fill="#d98656"/>
<rect x="85.87" y="513.63" width="1.60" height="1.60" fill="#d98656"/>
<rect x="82.92" y="505.69" width="1.60" height="1.60" fill="#d98656"/>
<rect x="81.87" y="515.09" width="1.60" height="1.60" fill="#d98656"/>
<rect x="88.50" y="511.16" width="1.60" height="1.60" fill="#d98656"/>
<rect x="81.55" y="511.88" width="1.60" height="1.60" fill="#d98656"/>
<rect x="91.59" y="516.60" width="1.60" height="1.60" fill="#d98656"/>
<rect x="81.02" y="510.30" width="1.60" height="1.60" fill="#d98656"/>
<rect x="77.57" y="505.39" width="1.60" height="1.60" fill="#d98656"/>
<rect x="84.95" y="510.61" width="1.60" height="1.60" fill="#d98656"/>
<rect x="88.44" y="516.20" width="1.60" height="1.60" fill="#d98656"/>
<rect x="87.86" y="516.44" width="1.60" height="1.60" fill="#d98656"/>
<rect x="81.64" y="505.42" width="1.60" height="1.60" fill="#d98656"/>
<rect x="86.35" y="522.55" width="1.60" height="1.60" fill="#d98656"/>
<rect x="85.71" y="505.32" width="1.60" height="1.60" fill="#d98656"/>
<rect x="85.19" y="516.92" width="1.60" height="1.60" fill="#d98656"/>
<rect x="79.45" y="514.12" width="1.60" height="1.60" fill="#d98656"/>
<rect x="81.35" y="516.23" width="1.60" height="1.60" fill="#d98656"/>
<rect x="87.63" y="511.87" width="1.60" height="1.60" fill="#d98656"/>
<rect x="93.10" y="508.66" width="1.60" height="1.60" fill="#d98656"/>
<rect x="81.01" y="518.85" width="1.60" height="1.60" fill="#d98656"/>
<rect x="80.16" y="520.40" width="1.60" height="1.60" fill="#d98656"/>
<rect x="83.92" y="505.83" width="1.60" height="1.60" fill="#d98656"/>
<rect x="84.09" y="511.09" width="1.60" height="1.60" fill="#d98656"/>
<rect x="85.01" y="509.64" width="1.60" height="1.60" fill="#d98656"/>
<rect x="88.97" y="500.06" width="1.60" height="1.60" fill="#d98656"/>
<rect x="81.60" y="509.32" width="1.60" height="1.60" fill="#d98656"/>
<rect x="92.29" y="501.53" width="1.60" height="1.60" fill="#d98656"/>
<rect x="82.57" y="505.36" width="1.60" height="1.60" fill="#d98656"/>
<rect x="81.11" y="513.38" width="1.60" height="1.60" fill="#d98656"/>
<rect x="85.95" y="516.98" width="1.60" height="1.60" fill="#d98656"/>
<rect x="81.40" y="511.71" width="1.60" height="1.60" fill="#d98656"/>
<rect x="89.38" y="514.57" width="1.60" height="1.60" fill="#d98656"/>
<rect x="82.59" y="515.58" width="1.60" height="1.60" fill="#d98656"/>
<rect x="79.94" y="518.62" width="1.60" height="1.60" fill="#d98656"/>
<rect x="84.79" y="509.99" width="1.60" height="1.60" fill="#d98656"/>
<rect x="85.32" y="514.32" width="1.60" height="1.60" fill="#d98656"/>
<rect x="91.94" y="509.86" width="1.60" height="1.60" fill="#d98656"/>
<rect x="82.45" y="513.14" width="1.60" height="1.60" fill="#d98656"/>
<rect x="80.18" y="502.87" width="1.60" height="1.60" fill="#d98656"/>
<rect x="87.86" y="508.79" width="1.60" height="1.60" fill="#d98656"/>
<rect x="89.17" y="505.88" width="1.60" height="1.60" fill="#d98656"/>
<rect x="71.07" y="511.77" width="1.60" height="1.60" fill="#d98656"/>
<rect x="84.80" y="517.70" width="1.60" height="1.60" fill="#d98656"/>
<rect x="86.46" y="511.89" width="1.60" height="1.60" fill="#d98656"/>
<rect x="86.74" y="508.85" width="1.60" height="1.60" fill="#d98656"/>
<rect x="84.45" y="504.42" width="1.60" height="1.60" fill="#d98656"/>
<rect x="86.44" y="506.88" width="1.60" height="1.60" fill="#d98656"/>
<rect x="82.09" y="513.65" width="1.60" height="1.60" fill="#d98656"/>
<rect x="88.22" y="505.97" width="1.60" height="1.60" fill="#d98656"/>
<rect x="93.12" y="507.84" width="1.60" height="1.60" fill="#d98656"/>
<rect x="87.86" y="514.78" width="1.60" height="1.60" fill="#d98656"/>
<rect x="85.11" y="511.27" width="1.60" height="1.60" fill="#d98656"/>
<rect x="92.19" y="514.51" width="1.60" height="1.60" fill="#d98656"/>
<rect x="86.10" y="502.29" width="1.60" height="1.60" fill="#d98656"/>
<rect x="80.74" y="515.73" width="1.60" height="1.60" fill="#d98656"/>
<rect x="84.97" y="506.20" width="1.60" height="1.60" fill="#d98656"/>
<rect x="81.21" y="509.12" width="1.60" height="1.60" fill="#d98656"/>
<rect x="87.19" y="512.24" width="1.60" height="1.60" fill="#d98656"/>
<rect x="88.59" y="506.82" width="1.60" height="1.60" fill="#d98656"/>
<rect x="88.54" y="508.24" width="1.60" height="1.60" fill="#d98656"/>
<rect x="82.75" y="518.30" width="1.60" height="1.60" fill="#d98656"/>
<rect x="84.43" y="509.87" width="1.60" height="1.60" fill="#d98656"/>
<rect x="83.15" y="508.77" width="1.60" height="1.60" fill="#d98656"/>
<rect x="91.12" y="516.69" width="1.60" height="1.60" fill="#d98656"/>
<rect x="87.33" y="511.33" width="1.60" height="1.60" fill="#d98656"/>
<rect x="88.79" y="510.15" width="1.60" height="1.60" fill="#d98656"/>
<rect x="86.14" y="512.31" width="1.60" height="1.60" fill="#d98656"/>
<rect x="84.50" y="517.92" width="1.60" height="1.60" fill="#d98656"/>
<rect x="92.00" y="516.46" width="1.60" height="1.60" fill="#d98656"/>
<rect x="75.49" y="518.76" width="1.60" height="1.60" fill="#d98656"/>
<rect x="87.26" y="508.47" width="1.60" height="1.60" fill="#d98656"/>
<rect x="83.99" y="515.62" width="1.60" height="1.60" fill="#d98656"/>
<rect x="89.39" y="514.35" width="1.60" height="1.60" fill="#d98656"/>
<rect x="84.73" y="510.66" width="1.60" height="1.60" fill="#d98656"/>
<rect x="87.84" y="510.09" width="1.60" height="1.60" fill="#d98656"/>
<rect x="80.06" y="507.69" width="1.60" height="1.60" fill="#d98656"/>
<rect x="83.47" y="512.00" width="1.60" height="1.60" fill="#d98656"/>
<rect x="94.29" y="504.34" width="1.60" height="1.60" fill="#d98656"/>
<rect x="86.25" y="510.09" width="1.60" height="1.60" fill="#d98656"/>
<rect x="85.45" y="516.59" width="1.60" height="1.60" fill="#d98656"/>
<rect x="89.69" y="509.79" width="1.60" height="1.60" fill="#d98656"/>
<rect x="81.59" y="504.37" width="1.60" height="1.60" fill="#d98656"/>
<rect x="83.78" y="516.11" width="1.60" height="1.60" fill="#d98656"/>
<rect x="82.91" y="513.67" width="1.60" height="1.60" fill="#d98656"/>
<rect x="87.29" y="512.29" width="1.60" height="1.60" fill="#d98656"/>
<rect x="88.98" y="509.99" width="1.60" height="1.60" fill="#d98656"/>
<rect x="80.37" y="505.22" width="1.60" height="1.60" fill="#d98656"/>
<rect x="88.27" y="508.87" width="1.60" height="1.60" fill="#d98656"/>
<rect x="82.70" y="514.25" width="1.60" height="1.60" fill="#d98656"/>
<rect x="80.55" y="518.47" width="1.60" height="1.60" fill="#d98656"/>
<rect x="87.10" y="508.13" width="1.60" height="1.60" fill="#d98656"/>
<rect x="81.25" y="515.37" width="1.60" height="1.60" fill="#d98656"/>
<rect x="78.77" y="507.62" width="1.60" height="1.60" fill="#d98656"/>
<rect x="84.13" y="511.41" width="1.60" height="1.60" fill="#d98656"/>
<rect x="84.17" y="512.24" width="1.60" height="1.60" fill="#d98656"/>
<rect x="82.46" y="509.95" width="1.60" height="1.60" fill="#d98656"/>
<rect x="89.79" y="513.41" width="1.60" height="1.60" fill="#d98656"/>
<rect x="82.08" y="518.22" width="1.60" height="1.60" fill="#d98656"/>
<rect x="75.14" y="510.88" width="1.60" height="1.60" fill="#d98656"/>
<rect x="87.11" y="514.88" width="1.60" height="1.60" fill="#d98656"/>
<rect x="84.60" y="508.77" width="1.60" height="1.60" fill="#d98656"/>
<rect x="86.74" y="509.63" width="1.60" height="1.60" fill="#d98656"/>
<rect x="86.24" y="497.65" width="1.60" height="1.60" fill="#d98656"/>
<rect x="92.32" y="500.34" width="1.60" height="1.60" fill="#c93a1f"/>
<rect x="94.11" y="506.49" width="1.60" height="1.60" fill="#c93a1f"/>
<rect x="93.43" y="501.88" width="1.60" height="1.60" fill="#c93a1f"/>
<rect x="92.49" y="502.13" width="1.60" height="1.60" fill="#c93a1f"/>
<rect x="91.79" y="502.96" width="1.60" height="1.60" fill="#c93a1f"/>
<rect x="88.31" y="511.41" width="1.60" height="1.60" fill="#c93a1f"/>
<rect x="93.42" y="495.27" width="1.60" height="1.60" fill="#c93a1f"/>
<rect x="93.96" y="497.92" width="1.60" height="1.60" fill="#c93a1f"/>
<rect x="90.36" y="501.17" width="1.60" height="1.60" fill="#c93a1f"/>
<rect x="89.39" y="504.46" width="1.60" height="1.60" fill="#c93a1f"/>
<rect x="90.06" y="497.71" width="1.60" height="1.60" fill="#c93a1f"/>
<rect x="91.08" y="504.96" width="1.60" height="1.60" fill="#c93a1f"/>
<rect x="96.76" y="501.84" width="1.60" height="1.60" fill="#c93a1f"/>
<rect x="87.29" y="501.98" width="1.60" height="1.60" fill="#c93a1f"/>
<rect x="93.19" y="499.96" width="1.60" height="1.60" fill="#c93a1f"/>
<rect x="88.79" y="505.72" width="1.60" height="1.60" fill="#c93a1f"/>
<rect x="91.06" y="504.39" width="1.60" height="1.60" fill="#c93a1f"/>
<rect x="89.09" y="500.20" width="1.60" height="1.60" fill="#c93a1f"/>
<rect x="90.06" y="502.88" width="1.60" height="1.60" fill="#c93a1f"/>
<rect x="90.03" y="505.22" width="1.60" height="1.60" fill="#c93a1f"/>
<rect x="92.85" y="505.69" width="1.60" height="1.60" fill="#c93a1f"/>
<rect x="92.63" y="499.96" width="1.60" height="1.60" fill="#c93a1f"/>
<rect x="87.52" y="506.71" width="1.60" height="1.60" fill="#c93a1f"/>
<rect x="91.14" y="503.99" width="1.60" height="1.60" fill="#c93a1f"/>
<rect x="87.39" y="502.65" width="1.60" height="1.60" fill="#c93a1f"/>
<rect x="89.06" y="500.04" width="1.60" height="1.60" fill="#c93a1f"/>
<rect x="89.08" y="497.52" width="1.60" height="1.60" fill="#c93a1f"/>
<rect x="91.37" y="508.16" width="1.60" height="1.60" fill="#c93a1f"/>
<rect x="88.84" y="503.88" width="1.60" height="1.60" fill="#c93a1f"/>
<rect x="87.61" y="506.19" width="1.60" height="1.60" fill="#c93a1f"/>
<rect x="97.06" y="498.57" width="1.60" height="1.60" fill="#c93a1f"/>
<rect x="90.37" y="509.20" width="1.60" height="1.60" fill="#c93a1f"/>
<rect x="92.28" y="503.96" width="1.60" height="1.60" fill="#c93a1f"/>
<rect x="84.56" y="502.90" width="1.60" height="1.60" fill="#c93a1f"/>
<rect x="94.04" y="509.24" width="1.60" height="1.60" fill="#c93a1f"/>
<rect x="93.15" y="501.18" width="1.60" height="1.60" fill="#c93a1f"/>
<rect x="88.90" y="496.22" width="1.60" height="1.60" fill="#c93a1f"/>
<rect x="87.66" y="507.99" width="1.60" height="1.60" fill="#c93a1f"/>
<rect x="90.73" y="498.14" width="1.60" height="1.60" fill="#c93a1f"/>
<rect x="95.32" y="496.81" width="1.60" height="1.60" fill="#c93a1f"/>
<rect x="95.13" y="502.21" width="1.60" height="1.60" fill="#c93a1f"/>
<rect x="92.19" y="506.22" width="1.60" height="1.60" fill="#c93a1f"/>
<rect x="91.94" y="508.59" width="1.60" height="1.60" fill="#c93a1f"/>
<rect x="91.15" y="502.19" width="1.60" height="1.60" fill="#c93a1f"/>
<rect x="88.98" y="497.72" width="1.60" height="1.60" fill="#c93a1f"/>
<rect x="88.88" y="507.43" width="1.60" height="1.60" fill="#c93a1f"/>
<rect x="93.74" y="509.07" width="1.60" height="1.60" fill="#c93a1f"/>
<rect x="99.83" y="506.35" width="1.60" height="1.60" fill="#c93a1f"/>
<rect x="92.70" y="498.24" width="1.60" height="1.60" fill="#c93a1f"/>
<rect x="90.32" y="512.28" width="1.60" height="1.60" fill="#c93a1f"/>
<rect x="92.80" y="502.95" width="1.60" height="1.60" fill="#c93a1f"/>
<rect x="92.09" y="495.92" width="1.60" height="1.60" fill="#c93a1f"/>
<rect x="88.43" y="498.26" width="1.60" height="1.60" fill="#c93a1f"/>
<rect x="84.26" y="506.58" width="1.60" height="1.60" fill="#c93a1f"/>
<rect x="94.19" y="502.79" width="1.60" height="1.60" fill="#c93a1f"/>
<rect x="92.21" y="499.47" width="1.60" height="1.60" fill="#c93a1f"/>
<rect x="92.55" y="506.55" width="1.60" height="1.60" fill="#c93a1f"/>
<rect x="96.01" y="509.74" width="1.60" height="1.60" fill="#c93a1f"/>
<rect x="92.66" y="502.99" width="1.60" height="1.60" fill="#c93a1f"/>
<rect x="88.46" y="501.08" width="1.60" height="1.60" fill="#c93a1f"/>
<rect x="93.07" y="505.76" width="1.60" height="1.60" fill="#c93a1f"/>
<rect x="91.16" y="510.16" width="1.60" height="1.60" fill="#c93a1f"/>
<rect x="93.18" y="503.57" width="1.60" height="1.60" fill="#c93a1f"/>
<rect x="90.49" y="503.81" width="1.60" height="1.60" fill="#c93a1f"/>
<rect x="88.06" y="499.58" width="1.60" height="1.60" fill="#c93a1f"/>
<rect x="92.21" y="501.16" width="1.60" height="1.60" fill="#c93a1f"/>
<rect x="90.23" y="508.38" width="1.60" height="1.60" fill="#c93a1f"/>
<rect x="90.48" y="508.75" width="1.60" height="1.60" fill="#c93a1f"/>
<rect x="91.07" y="509.57" width="1.60" height="1.60" fill="#c93a1f"/>
<rect x="92.59" y="496.47" width="1.60" height="1.60" fill="#c93a1f"/>
<rect x="95.06" y="502.67" width="1.60" height="1.60" fill="#c93a1f"/>
<rect x="84.81" y="503.95" width="1.60" height="1.60" fill="#c93a1f"/>
<rect x="91.60" y="498.34" width="1.60" height="1.60" fill="#c93a1f"/>
<rect x="89.16" y="505.69" width="1.60" height="1.60" fill="#c93a1f"/>
<rect x="95.62" y="508.06" width="1.60" height="1.60" fill="#c93a1f"/>
<rect x="95.01" y="507.98" width="1.60" height="1.60" fill="#c93a1f"/>
<rect x="83.15" y="500.59" width="1.60" height="1.60" fill="#c93a1f"/>
<rect x="91.70" y="492.75" width="1.60" height="1.60" fill="#c93a1f"/>
<rect x="93.56" y="507.07" width="1.60" height="1.60" fill="#c93a1f"/>
<rect x="88.62" y="501.98" width="1.60" height="1.60" fill="#c93a1f"/>
<rect x="88.09" y="503.43" width="1.60" height="1.60" fill="#c93a1f"/>
<rect x="90.97" y="503.47" width="1.60" height="1.60" fill="#c93a1f"/>
<rect x="87.83" y="505.05" width="1.60" height="1.60" fill="#c93a1f"/>
<rect x="90.01" y="507.30" width="1.60" height="1.60" fill="#c93a1f"/>
<rect x="92.10" y="497.56" width="1.60" height="1.60" fill="#c93a1f"/>
<rect x="86.48" y="503.78" width="1.60" height="1.60" fill="#c93a1f"/>
<rect x="89.55" y="505.38" width="1.60" height="1.60" fill="#c93a1f"/>
<rect x="93.68" y="503.58" width="1.60" height="1.60" fill="#c93a1f"/>
<rect x="85.71" y="498.72" width="1.60" height="1.60" fill="#c93a1f"/>
<rect x="92.93" y="499.30" width="1.60" height="1.60" fill="#c93a1f"/>
<rect x="94.65" y="503.14" width="1.60" height="1.60" fill="#c93a1f"/>
<rect x="92.76" y="499.96" width="1.60" height="1.60" fill="#c93a1f"/>
<rect x="90.78" y="491.66" width="1.60" height="1.60" fill="#c93a1f"/>
<rect x="90.43" y="505.80" width="1.60" height="1.60" fill="#c93a1f"/>
<rect x="88.23" y="500.13" width="1.60" height="1.60" fill="#c93a1f"/>
<rect x="90.93" y="503.76" width="1.60" height="1.60" fill="#c93a1f"/>
<rect x="88.51" y="506.20" width="1.60" height="1.60" fill="#c93a1f"/>
<rect x="85.83" y="507.96" width="1.60" height="1.60" fill="#c93a1f"/>
<rect x="86.61" y="500.21" width="1.60" height="1.60" fill="#c93a1f"/>
<rect x="95.36" y="499.52" width="1.60" height="1.60" fill="#c93a1f"/>
<rect x="85.81" y="503.80" width="1.60" height="1.60" fill="#c93a1f"/>
<rect x="88.16" y="499.03" width="1.60" height="1.60" fill="#c93a1f"/>
<rect x="88.86" y="500.52" width="1.60" height="1.60" fill="#c93a1f"/>
<rect x="87.98" y="499.39" width="1.60" height="1.60" fill="#c93a1f"/>
<rect x="96.26" y="500.81" width="1.60" height="1.60" fill="#c93a1f"/>
<rect x="94.21" y="497.88" width="1.60" height="1.60" fill="#c93a1f"/>
<rect x="92.84" y="498.50" width="1.60" height="1.60" fill="#c93a1f"/>
<rect x="89.63" y="506.04" width="1.60" height="1.60" fill="#c93a1f"/>
<rect x="89.40" y="495.64" width="1.60" height="1.60" fill="#c93a1f"/>
<rect x="89.33" y="502.87" width="1.60" height="1.60" fill="#c93a1f"/>
<rect x="92.93" y="499.51" width="1.60" height="1.60" fill="#c93a1f"/>
<rect x="90.15" y="503.75" width="1.60" height="1.60" fill="#c93a1f"/>
<rect x="85.82" y="503.07" width="1.60" height="1.60" fill="#c93a1f"/>
<rect x="88.45" y="505.25" width="1.60" height="1.60" fill="#c93a1f"/>
<rect x="90.75" y="502.83" width="1.60" height="1.60" fill="#c93a1f"/>
<rect x="83.37" y="503.06" width="1.60" height="1.60" fill="#c93a1f"/>
<rect x="89.91" y="499.72" width="1.60" height="1.60" fill="#c93a1f"/>
<rect x="89.47" y="498.44" width="1.60" height="1.60" fill="#c93a1f"/>
<rect x="91.66" y="506.14" width="1.60" height="1.60" fill="#c93a1f"/>
<rect x="93.01" y="501.42" width="1.60" height="1.60" fill="#c93a1f"/>
<rect x="96.48" y="506.92" width="1.60" height="1.60" fill="#c93a1f"/>
<rect x="88.07" y="502.94" width="1.60" height="1.60" fill="#c93a1f"/>
<rect x="85.89" y="503.03" width="1.60" height="1.60" fill="#c93a1f"/>
<rect x="93.38" y="508.57" width="1.60" height="1.60" fill="#c93a1f"/>
<rect x="89.76" y="496.34" width="1.60" height="1.60" fill="#c93a1f"/>
<rect x="90.56" y="508.94" width="1.60" height="1.60" fill="#c93a1f"/>
<rect x="91.56" y="508.60" width="1.60" height="1.60" fill="#c93a1f"/>
<rect x="93.75" y="509.74" width="1.60" height="1.60" fill="#c93a1f"/>
<rect x="93.02" y="500.84" width="1.60" height="1.60" fill="#c93a1f"/>
<rect x="92.53" y="513.65" width="1.60" height="1.60" fill="#c93a1f"/>
<rect x="89.44" y="496.08" width="1.60" height="1.60" fill="#c93a1f"/>
<rect x="97.83" y="505.13" width="1.60" height="1.60" fill="#c93a1f"/>
<rect x="89.09" y="501.07" width="1.60" height="1.60" fill="#c93a1f"/>
<rect x="86.17" y="506.32" width="1.60" height="1.60" fill="#c93a1f"/>
<rect x="91.56" y="500.97" width="1.60" height="1.60" fill="#c93a1f"/>
<rect x="89.75" y="501.79" width="1.60" height="1.60" fill="#c93a1f"/>
<rect x="94.52" y="502.77" width="1.60" height="1.60" fill="#c93a1f"/>
<rect x="95.52" y="500.15" width="1.60" height="1.60" fill="#c93a1f"/>
<rect x="89.14" y="501.57" width="1.60" height="1.60" fill="#c93a1f"/>
<rect x="89.38" y="503.14" width="1.60" height="1.60" fill="#c93a1f"/>
<rect x="102.69" y="509.34" width="1.60" height="1.60" fill="#a8409c"/>
<rect x="95.35" y="509.61" width="1.60" height="1.60" fill="#a8409c"/>
<rect x="99.43" y="510.85" width="1.60" height="1.60" fill="#a8409c"/>
<rect x="98.51" y="501.15" width="1.60" height="1.60" fill="#a8409c"/>
<rect x="101.86" y="506.99" width="1.60" height="1.60" fill="#a8409c"/>
<rect x="97.50" y="504.59" width="1.60" height="1.60" fill="#a8409c"/>
<rect x="99.56" y="505.74" width="1.60" height="1.60" fill="#a8409c"/>
<rect x="93.10" y="499.68" width="1.60" height="1.60" fill="#a8409c"/>
<rect x="99.29" y="505.54" width="1.60" height="1.60" fill="#a8409c"/>
<rect x="97.26" y="497.46" width="1.60" height="1.60" fill="#a8409c"/>
<rect x="103.80" y="503.27" width="1.60" height="1.60" fill="#a8409c"/>
<rect x="95.44" y="510.88" width="1.60" height="1.60" fill="#a8409c"/>
<rect x="103.06" y="508.65" width="1.60" height="1.60" fill="#a8409c"/>
<rect x="102.02" y="506.78" width="1.60" height="1.60" fill="#a8409c"/>
<rect x="95.69" y="504.62" width="1.60" height="1.60" fill="#a8409c"/>
<rect x="100.34" y="507.03" width="1.60" height="1.60" fill="#a8409c"/>
<rect x="100.76" y="500.47" width="1.60" height="1.60" fill="#a8409c"/>
<rect x="96.98" y="503.17" width="1.60" height="1.60" fill="#a8409c"/>
<rect x="98.42" y="501.01" width="1.60" height="1.60" fill="#a8409c"/>
<rect x="92.72" y="499.63" width="1.60" height="1.60" fill="#a8409c"/>
<rect x="100.18" y="504.46" width="1.60" height="1.60" fill="#a8409c"/>
<rect x="101.13" y="496.95" width="1.60" height="1.60" fill="#a8409c"/>
<rect x="97.64" y="508.06" width="1.60" height="1.60" fill="#a8409c"/>
<rect x="92.23" y="500.17" width="1.60" height="1.60" fill="#a8409c"/>
<rect x="93.27" y="509.34" width="1.60" height="1.60" fill="#a8409c"/>
<rect x="99.21" y="502.20" width="1.60" height="1.60" fill="#a8409c"/>
<rect x="99.62" y="504.14" width="1.60" height="1.60" fill="#a8409c"/>
<rect x="102.27" y="509.18" width="1.60" height="1.60" fill="#a8409c"/>
<rect x="102.30" y="505.87" width="1.60" height="1.60" fill="#a8409c"/>
<rect x="101.77" y="507.75" width="1.60" height="1.60" fill="#a8409c"/>
<rect x="103.18" y="497.15" width="1.60" height="1.60" fill="#a8409c"/>
<rect x="100.31" y="504.81" width="1.60" height="1.60" fill="#a8409c"/>
<rect x="99.66" y="503.50" width="1.60" height="1.60" fill="#a8409c"/>
<rect x="98.84" y="506.48" width="1.60" height="1.60" fill="#a8409c"/>
<rect x="99.80" y="505.01" width="1.60" height="1.60" fill="#a8409c"/>
<rect x="95.34" y="499.47" width="1.60" height="1.60" fill="#a8409c"/>
<rect x="96.48" y="497.37" width="1.60" height="1.60" fill="#a8409c"/>
<rect x="97.29" y="501.10" width="1.60" height="1.60" fill="#a8409c"/>
<rect x="92.81" y="496.74" width="1.60" height="1.60" fill="#a8409c"/>
<rect x="97.46" y="502.18" width="1.60" height="1.60" fill="#a8409c"/>
<rect x="106.71" y="507.95" width="1.60" height="1.60" fill="#a8409c"/>
<rect x="96.36" y="502.50" width="1.60" height="1.60" fill="#a8409c"/>
<rect x="95.56" y="501.35" width="1.60" height="1.60" fill="#a8409c"/>
<rect x="97.87" y="504.30" width="1.60" height="1.60" fill="#a8409c"/>
<rect x="96.92" y="507.79" width="1.60" height="1.60" fill="#a8409c"/>
<rect x="101.35" y="512.33" width="1.60" height="1.60" fill="#a8409c"/>
<rect x="94.52" y="507.21" width="1.60" height="1.60" fill="#a8409c"/>
<rect x="97.79" y="498.08" width="1.60" height="1.60" fill="#a8409c"/>
<rect x="98.04" y="497.93" width="1.60" height="1.60" fill="#a8409c"/>
<rect x="99.00" y="515.45" width="1.60" height="1.60" fill="#a8409c"/>
<rect x="112.63" y="512.78" width="1.60" height="1.60" fill="#a8409c"/>
<rect x="112.07" y="499.31" width="1.60" height="1.60" fill="#a8409c"/>
<rect x="108.17" y="506.07" width="1.60" height="1.60" fill="#a8409c"/>
<rect x="108.27" y="501.35" width="1.60" height="1.60" fill="#a8409c"/>
<rect x="96.19" y="513.92" width="1.60" height="1.60" fill="#a8409c"/>
<rect x="112.06" y="506.73" width="1.60" height="1.60" fill="#a8409c"/>
<rect x="103.65" y="506.23" width="1.60" height="1.60" fill="#a8409c"/>
<rect x="99.90" y="509.34" width="1.60" height="1.60" fill="#a8409c"/>
<rect x="106.92" y="504.90" width="1.60" height="1.60" fill="#a8409c"/>
<rect x="103.95" y="505.23" width="1.60" height="1.60" fill="#a8409c"/>
<rect x="92.30" y="480.09" width="1.60" height="1.60" fill="#8a4d1a"/>
<rect x="93.54" y="483.76" width="1.60" height="1.60" fill="#8a4d1a"/>
<rect x="91.96" y="477.33" width="1.60" height="1.60" fill="#8a4d1a"/>
<rect x="93.93" y="490.28" width="1.60" height="1.60" fill="#8a4d1a"/>
<rect x="93.13" y="471.44" width="1.60" height="1.60" fill="#8a4d1a"/>
<rect x="91.58" y="488.45" width="1.60" height="1.60" fill="#8a4d1a"/>
<rect x="92.16" y="490.16" width="1.60" height="1.60" fill="#8a4d1a"/>
<rect x="91.44" y="487.28" width="1.60" height="1.60" fill="#8a4d1a"/>
<rect x="92.89" y="467.82" width="1.60" height="1.60" fill="#8a4d1a"/>
<rect x="91.49" y="481.08" width="1.60" height="1.60" fill="#8a4d1a"/>
<rect x="91.16" y="477.14" width="1.60" height="1.60" fill="#8a4d1a"/>
<rect x="94.48" y="481.78" width="1.60" height="1.60" fill="#8a4d1a"/>
<rect x="76.47" y="467.80" width="1.60" height="1.60" fill="#d2a8d6"/>
<rect x="67.87" y="472.13" width="1.60" height="1.60" fill="#d2a8d6"/>
<rect x="75.32" y="470.88" width="1.60" height="1.60" fill="#d2a8d6"/>
<rect x="75.69" y="478.51" width="1.60" height="1.60" fill="#d2a8d6"/>
<rect x="72.75" y="474.20" width="1.60" height="1.60" fill="#d2a8d6"/>
<rect x="71.89" y="479.90" width="1.60" height="1.60" fill="#d2a8d6"/>
<rect x="79.41" y="476.98" width="1.60" height="1.60" fill="#d2a8d6"/>
<rect x="72.58" y="470.97" width="1.60" height="1.60" fill="#d2a8d6"/>
<rect x="73.26" y="478.95" width="1.60" height="1.60" fill="#d2a8d6"/>
<rect x="71.83" y="481.90" width="1.60" height="1.60" fill="#d2a8d6"/>
<rect x="80.21" y="528.45" width="1.60" height="1.60" fill="#d98656"/>
<rect x="90.37" y="539.20" width="1.60" height="1.60" fill="#d98656"/>
<rect x="83.47" y="533.25" width="1.60" height="1.60" fill="#d98656"/>
<rect x="95.22" y="535.51" width="1.60" height="1.60" fill="#d98656"/>
<rect x="76.33" y="530.19" width="1.60" height="1.60" fill="#d98656"/>
<rect x="94.60" y="521.53" width="1.60" height="1.60" fill="#d98656"/>
<rect x="88.75" y="515.97" width="1.60" height="1.60" fill="#d98656"/>
<rect x="91.45" y="523.44" width="1.60" height="1.60" fill="#d98656"/>
<rect x="88.33" y="533.97" width="1.60" height="1.60" fill="#d98656"/>
<rect x="73.97" y="519.92" width="1.60" height="1.60" fill="#d98656"/>
<rect x="86.42" y="519.36" width="1.60" height="1.60" fill="#d98656"/>
<rect x="85.02" y="522.82" width="1.60" height="1.60" fill="#d98656"/>
<rect x="90.47" y="525.44" width="1.60" height="1.60" fill="#d98656"/>
<rect x="81.44" y="532.35" width="1.60" height="1.60" fill="#d98656"/>
<rect x="89.99" y="527.56" width="1.60" height="1.60" fill="#d98656"/>
<rect x="86.22" y="531.46" width="1.60" height="1.60" fill="#d98656"/>
<rect x="83.12" y="521.37" width="1.60" height="1.60" fill="#d98656"/>
<rect x="87.23" y="526.38" width="1.60" height="1.60" fill="#d98656"/>
<rect x="79.63" y="533.63" width="1.60" height="1.60" fill="#d98656"/>
<rect x="86.84" y="529.35" width="1.60" height="1.60" fill="#d98656"/>
<rect x="82.08" y="527.16" width="1.60" height="1.60" fill="#d98656"/>
<rect x="87.54" y="531.41" width="1.60" height="1.60" fill="#d98656"/>
<rect x="81.80" y="486.89" width="1.60" height="1.60" fill="#c93a1f"/>
<rect x="86.47" y="491.24" width="1.60" height="1.60" fill="#c93a1f"/>
<rect x="88.49" y="485.87" width="1.60" height="1.60" fill="#c93a1f"/>
<rect x="88.79" y="497.55" width="1.60" height="1.60" fill="#c93a1f"/>
<rect x="88.90" y="491.02" width="1.60" height="1.60" fill="#c93a1f"/>
<rect x="88.72" y="485.35" width="1.60" height="1.60" fill="#c93a1f"/>
<rect x="83.33" y="498.74" width="1.60" height="1.60" fill="#c93a1f"/>
<rect x="78.56" y="485.87" width="1.60" height="1.60" fill="#c93a1f"/>
<rect x="88.39" y="487.87" width="1.60" height="1.60" fill="#c93a1f"/>
<rect x="82.84" y="486.02" width="1.60" height="1.60" fill="#c93a1f"/>
<rect x="91.83" y="488.06" width="1.60" height="1.60" fill="#c93a1f"/>
<rect x="83.99" y="483.25" width="1.60" height="1.60" fill="#c93a1f"/>
<rect x="238.05" y="506.84" width="1.60" height="1.60" fill="#d98656"/>
<rect x="230.28" y="508.87" width="1.60" height="1.60" fill="#d98656"/>
<rect x="232.04" y="504.99" width="1.60" height="1.60" fill="#d98656"/>
<rect x="227.04" y="506.62" width="1.60" height="1.60" fill="#d98656"/>
<rect x="224.40" y="506.39" width="1.60" height="1.60" fill="#d98656"/>
<rect x="226.65" y="507.78" width="1.60" height="1.60" fill="#d98656"/>
<rect x="225.07" y="509.56" width="1.60" height="1.60" fill="#d98656"/>
<rect x="226.51" y="500.51" width="1.60" height="1.60" fill="#d98656"/>
<rect x="233.46" y="507.52" width="1.60" height="1.60" fill="#d98656"/>
<rect x="225.73" y="509.17" width="1.60" height="1.60" fill="#d98656"/>
<rect x="229.62" y="508.63" width="1.60" height="1.60" fill="#d98656"/>
<rect x="225.28" y="508.98" width="1.60" height="1.60" fill="#d98656"/>
<rect x="222.55" y="512.11" width="1.60" height="1.60" fill="#d98656"/>
<rect x="223.64" y="507.98" width="1.60" height="1.60" fill="#d98656"/>
<rect x="228.78" y="509.05" width="1.60" height="1.60" fill="#d98656"/>
<rect x="227.71" y="509.71" width="1.60" height="1.60" fill="#d98656"/>
<rect x="214.16" y="507.92" width="1.60" height="1.60" fill="#d98656"/>
<rect x="227.54" y="507.09" width="1.60" height="1.60" fill="#d98656"/>
<rect x="229.90" y="502.29" width="1.60" height="1.60" fill="#c93a1f"/>
<rect x="225.06" y="500.17" width="1.60" height="1.60" fill="#c93a1f"/>
<rect x="226.13" y="500.98" width="1.60" height="1.60" fill="#c93a1f"/>
<rect x="220.58" y="508.97" width="1.60" height="1.60" fill="#c93a1f"/>
<rect x="227.43" y="504.22" width="1.60" height="1.60" fill="#c93a1f"/>
<rect x="225.82" y="501.33" width="1.60" height="1.60" fill="#c93a1f"/>
<rect x="236.93" y="506.68" width="1.60" height="1.60" fill="#a8409c"/>
<rect x="232.62" y="506.07" width="1.60" height="1.60" fill="#a8409c"/>
<rect x="234.15" y="505.46" width="1.60" height="1.60" fill="#a8409c"/>
<rect x="236.67" y="512.08" width="1.60" height="1.60" fill="#a8409c"/>
<rect x="245.29" y="502.88" width="1.60" height="1.60" fill="#a8409c"/>
<rect x="233.50" y="501.79" width="1.60" height="1.60" fill="#a8409c"/>
<rect x="240.94" y="500.94" width="1.60" height="1.60" fill="#a8409c"/>
<rect x="242.32" y="508.99" width="1.60" height="1.60" fill="#a8409c"/>
<rect x="240.95" y="503.21" width="1.60" height="1.60" fill="#a8409c"/>
<rect x="244.35" y="503.77" width="1.60" height="1.60" fill="#a8409c"/>
<rect x="244.62" y="503.68" width="1.60" height="1.60" fill="#a8409c"/>
<rect x="247.74" y="503.84" width="1.60" height="1.60" fill="#a8409c"/>
<rect x="236.87" y="505.37" width="1.60" height="1.60" fill="#a8409c"/>
<rect x="238.61" y="501.16" width="1.60" height="1.60" fill="#a8409c"/>
<rect x="240.67" y="508.03" width="1.60" height="1.60" fill="#a8409c"/>
<rect x="232.40" y="504.80" width="1.60" height="1.60" fill="#a8409c"/>
<rect x="240.57" y="504.39" width="1.60" height="1.60" fill="#a8409c"/>
<rect x="244.45" y="499.68" width="1.60" height="1.60" fill="#a8409c"/>
<rect x="243.88" y="504.07" width="1.60" height="1.60" fill="#a8409c"/>
<rect x="241.65" y="504.11" width="1.60" height="1.60" fill="#a8409c"/>
<rect x="239.87" y="502.88" width="1.60" height="1.60" fill="#a8409c"/>
<rect x="242.90" y="513.58" width="1.60" height="1.60" fill="#a8409c"/>
<rect x="245.52" y="508.51" width="1.60" height="1.60" fill="#a8409c"/>
<rect x="243.52" y="503.12" width="1.60" height="1.60" fill="#a8409c"/>
<rect x="243.73" y="513.49" width="1.60" height="1.60" fill="#a8409c"/>
<rect x="236.08" y="508.46" width="1.60" height="1.60" fill="#a8409c"/>
<rect x="245.42" y="506.25" width="1.60" height="1.60" fill="#a8409c"/>
<rect x="244.52" y="510.77" width="1.60" height="1.60" fill="#a8409c"/>
<rect x="250.33" y="510.45" width="1.60" height="1.60" fill="#a8409c"/>
<rect x="248.09" y="506.53" width="1.60" height="1.60" fill="#a8409c"/>
<rect x="244.75" y="505.91" width="1.60" height="1.60" fill="#a8409c"/>
<rect x="242.61" y="503.34" width="1.60" height="1.60" fill="#a8409c"/>
<rect x="244.18" y="511.11" width="1.60" height="1.60" fill="#a8409c"/>
<rect x="240.81" y="506.28" width="1.60" height="1.60" fill="#a8409c"/>
<rect x="243.99" y="505.36" width="1.60" height="1.60" fill="#a8409c"/>
<rect x="245.28" y="506.33" width="1.60" height="1.60" fill="#a8409c"/>
<rect x="236.76" y="501.14" width="1.60" height="1.60" fill="#a8409c"/>
<rect x="244.45" y="507.87" width="1.60" height="1.60" fill="#a8409c"/>
<rect x="245.98" y="506.34" width="1.60" height="1.60" fill="#a8409c"/>
<rect x="242.36" y="498.97" width="1.60" height="1.60" fill="#a8409c"/>
<rect x="247.18" y="501.62" width="1.60" height="1.60" fill="#a8409c"/>
<rect x="245.76" y="500.74" width="1.60" height="1.60" fill="#a8409c"/>
<rect x="238.88" y="505.99" width="1.60" height="1.60" fill="#a8409c"/>
<rect x="239.85" y="502.55" width="1.60" height="1.60" fill="#a8409c"/>
<rect x="245.19" y="508.11" width="1.60" height="1.60" fill="#a8409c"/>
<rect x="243.18" y="504.02" width="1.60" height="1.60" fill="#a8409c"/>
<rect x="238.26" y="503.47" width="1.60" height="1.60" fill="#a8409c"/>
<rect x="239.48" y="505.29" width="1.60" height="1.60" fill="#a8409c"/>
<rect x="244.70" y="504.72" width="1.60" height="1.60" fill="#a8409c"/>
<rect x="238.42" y="502.92" width="1.60" height="1.60" fill="#a8409c"/>
<rect x="246.78" y="506.08" width="1.60" height="1.60" fill="#a8409c"/>
<rect x="242.57" y="506.56" width="1.60" height="1.60" fill="#a8409c"/>
<rect x="244.02" y="506.00" width="1.60" height="1.60" fill="#a8409c"/>
<rect x="246.38" y="508.72" width="1.60" height="1.60" fill="#a8409c"/>
<rect x="230.26" y="504.91" width="1.60" height="1.60" fill="#a8409c"/>
<rect x="253.52" y="500.31" width="1.60" height="1.60" fill="#a8409c"/>
<rect x="242.18" y="509.81" width="1.60" height="1.60" fill="#a8409c"/>
<rect x="241.67" y="510.85" width="1.60" height="1.60" fill="#a8409c"/>
<rect x="236.60" y="500.45" width="1.60" height="1.60" fill="#a8409c"/>
<rect x="240.92" y="502.52" width="1.60" height="1.60" fill="#a8409c"/>
<rect x="237.37" y="507.77" width="1.60" height="1.60" fill="#a8409c"/>
<rect x="242.77" y="505.53" width="1.60" height="1.60" fill="#a8409c"/>
<rect x="240.07" y="506.55" width="1.60" height="1.60" fill="#a8409c"/>
<rect x="241.21" y="502.57" width="1.60" height="1.60" fill="#a8409c"/>
<rect x="243.75" y="506.99" width="1.60" height="1.60" fill="#a8409c"/>
<rect x="242.02" y="508.28" width="1.60" height="1.60" fill="#a8409c"/>
<rect x="237.27" y="504.92" width="1.60" height="1.60" fill="#a8409c"/>
<rect x="239.60" y="510.83" width="1.60" height="1.60" fill="#a8409c"/>
<rect x="243.74" y="513.97" width="1.60" height="1.60" fill="#a8409c"/>
<rect x="247.99" y="504.02" width="1.60" height="1.60" fill="#a8409c"/>
<rect x="237.32" y="507.44" width="1.60" height="1.60" fill="#a8409c"/>
<rect x="240.57" y="504.87" width="1.60" height="1.60" fill="#a8409c"/>
<rect x="237.45" y="507.90" width="1.60" height="1.60" fill="#a8409c"/>
<rect x="242.44" y="507.11" width="1.60" height="1.60" fill="#a8409c"/>
<rect x="242.94" y="501.89" width="1.60" height="1.60" fill="#a8409c"/>
<rect x="232.74" y="504.41" width="1.60" height="1.60" fill="#a8409c"/>
<rect x="239.16" y="503.38" width="1.60" height="1.60" fill="#a8409c"/>
<rect x="245.54" y="505.10" width="1.60" height="1.60" fill="#a8409c"/>
<rect x="247.74" y="506.23" width="1.60" height="1.60" fill="#a8409c"/>
<rect x="244.45" y="507.53" width="1.60" height="1.60" fill="#a8409c"/>
<rect x="244.92" y="500.47" width="1.60" height="1.60" fill="#a8409c"/>
<rect x="246.06" y="505.93" width="1.60" height="1.60" fill="#a8409c"/>
<rect x="237.79" y="507.96" width="1.60" height="1.60" fill="#a8409c"/>
<rect x="243.08" y="510.65" width="1.60" height="1.60" fill="#a8409c"/>
<rect x="244.63" y="506.96" width="1.60" height="1.60" fill="#a8409c"/>
<rect x="235.17" y="512.20" width="1.60" height="1.60" fill="#a8409c"/>
<rect x="247.65" y="508.60" width="1.60" height="1.60" fill="#a8409c"/>
<rect x="243.55" y="510.37" width="1.60" height="1.60" fill="#a8409c"/>
<rect x="238.23" y="508.31" width="1.60" height="1.60" fill="#a8409c"/>
<rect x="241.79" y="501.49" width="1.60" height="1.60" fill="#a8409c"/>
<rect x="219.88" y="478.08" width="1.60" height="1.60" fill="#d2a8d6"/>
<rect x="223.25" y="490.57" width="1.60" height="1.60" fill="#c93a1f"/>
<rect x="356.56" y="521.75" width="1.60" height="1.60" fill="#d98656"/>
<rect x="349.38" y="519.43" width="1.60" height="1.60" fill="#d98656"/>
<rect x="354.09" y="508.15" width="1.60" height="1.60" fill="#d98656"/>
<rect x="369.20" y="511.92" width="1.60" height="1.60" fill="#d98656"/>
<rect x="355.60" y="517.07" width="1.60" height="1.60" fill="#d98656"/>
<rect x="363.79" y="510.22" width="1.60" height="1.60" fill="#d98656"/>
<rect x="360.02" y="501.74" width="1.60" height="1.60" fill="#d98656"/>
<rect x="353.33" y="506.56" width="1.60" height="1.60" fill="#d98656"/>
<rect x="346.57" y="496.92" width="1.60" height="1.60" fill="#d98656"/>
<rect x="344.51" y="508.35" width="1.60" height="1.60" fill="#d98656"/>
<rect x="354.69" y="507.62" width="1.60" height="1.60" fill="#d98656"/>
<rect x="356.38" y="498.48" width="1.60" height="1.60" fill="#d98656"/>
<rect x="355.34" y="512.64" width="1.60" height="1.60" fill="#d98656"/>
<rect x="361.16" y="502.88" width="1.60" height="1.60" fill="#d98656"/>
<rect x="353.10" y="492.36" width="1.60" height="1.60" fill="#d98656"/>
<rect x="352.37" y="490.73" width="1.60" height="1.60" fill="#d98656"/>
<rect x="345.96" y="520.41" width="1.60" height="1.60" fill="#d98656"/>
<rect x="340.49" y="517.69" width="1.60" height="1.60" fill="#d98656"/>
<rect x="358.20" y="507.69" width="1.60" height="1.60" fill="#d98656"/>
<rect x="359.12" y="515.25" width="1.60" height="1.60" fill="#d98656"/>
<rect x="363.22" y="508.43" width="1.60" height="1.60" fill="#d98656"/>
<rect x="351.75" y="505.06" width="1.60" height="1.60" fill="#d98656"/>
<rect x="348.99" y="510.10" width="1.60" height="1.60" fill="#d98656"/>
<rect x="350.40" y="520.12" width="1.60" height="1.60" fill="#d98656"/>
<rect x="342.81" y="500.66" width="1.60" height="1.60" fill="#d98656"/>
<rect x="349.23" y="491.66" width="1.60" height="1.60" fill="#d98656"/>
<rect x="369.22" y="488.82" width="1.60" height="1.60" fill="#d98656"/>
<rect x="353.92" y="505.77" width="1.60" height="1.60" fill="#d98656"/>
<rect x="367.49" y="492.63" width="1.60" height="1.60" fill="#d98656"/>
<rect x="363.40" y="503.92" width="1.60" height="1.60" fill="#d98656"/>
<rect x="354.81" y="504.46" width="1.60" height="1.60" fill="#d98656"/>
<rect x="360.38" y="500.26" width="1.60" height="1.60" fill="#d98656"/>
<rect x="355.35" y="513.68" width="1.60" height="1.60" fill="#d98656"/>
<rect x="368.78" y="488.85" width="1.60" height="1.60" fill="#d98656"/>
<rect x="366.58" y="519.03" width="1.60" height="1.60" fill="#d98656"/>
<rect x="352.51" y="513.24" width="1.60" height="1.60" fill="#d98656"/>
<rect x="352.64" y="525.32" width="1.60" height="1.60" fill="#d98656"/>
<rect x="357.37" y="508.56" width="1.60" height="1.60" fill="#d98656"/>
<rect x="354.30" y="508.70" width="1.60" height="1.60" fill="#d98656"/>
<rect x="354.66" y="502.59" width="1.60" height="1.60" fill="#d98656"/>
<rect x="370.31" y="493.30" width="1.60" height="1.60" fill="#d98656"/>
<rect x="330.66" y="509.39" width="1.60" height="1.60" fill="#d98656"/>
<rect x="354.87" y="513.85" width="1.60" height="1.60" fill="#d98656"/>
<rect x="354.47" y="509.17" width="1.60" height="1.60" fill="#d98656"/>
<rect x="358.23" y="519.22" width="1.60" height="1.60" fill="#d98656"/>
<rect x="352.76" y="507.14" width="1.60" height="1.60" fill="#d98656"/>
<rect x="369.48" y="515.27" width="1.60" height="1.60" fill="#d98656"/>
<rect x="349.00" y="531.42" width="1.60" height="1.60" fill="#d98656"/>
<rect x="361.33" y="505.20" width="1.60" height="1.60" fill="#d98656"/>
<rect x="347.68" y="513.18" width="1.60" height="1.60" fill="#d98656"/>
<rect x="350.07" y="500.98" width="1.60" height="1.60" fill="#d98656"/>
<rect x="346.83" y="505.94" width="1.60" height="1.60" fill="#d98656"/>
<rect x="363.65" y="506.60" width="1.60" height="1.60" fill="#d98656"/>
<rect x="345.75" y="516.52" width="1.60" height="1.60" fill="#d98656"/>
<rect x="356.36" y="518.09" width="1.60" height="1.60" fill="#d98656"/>
<rect x="364.31" y="508.98" width="1.60" height="1.60" fill="#d98656"/>
<rect x="354.89" y="510.09" width="1.60" height="1.60" fill="#d98656"/>
<rect x="347.96" y="516.52" width="1.60" height="1.60" fill="#d98656"/>
<rect x="365.51" y="512.06" width="1.60" height="1.60" fill="#d98656"/>
<rect x="354.24" y="508.16" width="1.60" height="1.60" fill="#d98656"/>
<rect x="350.44" y="503.26" width="1.60" height="1.60" fill="#d98656"/>
<rect x="353.09" y="502.92" width="1.60" height="1.60" fill="#d98656"/>
<rect x="352.84" y="496.30" width="1.60" height="1.60" fill="#d98656"/>
<rect x="358.35" y="510.94" width="1.60" height="1.60" fill="#d98656"/>
<rect x="347.83" y="489.82" width="1.60" height="1.60" fill="#d98656"/>
<rect x="355.85" y="520.44" width="1.60" height="1.60" fill="#d98656"/>
<rect x="350.77" y="506.15" width="1.60" height="1.60" fill="#d98656"/>
<rect x="351.92" y="516.38" width="1.60" height="1.60" fill="#d98656"/>
<rect x="349.49" y="519.37" width="1.60" height="1.60" fill="#d98656"/>
<rect x="353.78" y="518.82" width="1.60" height="1.60" fill="#d98656"/>
<rect x="358.10" y="500.65" width="1.60" height="1.60" fill="#c93a1f"/>
<rect x="349.03" y="497.00" width="1.60" height="1.60" fill="#c93a1f"/>
<rect x="356.33" y="507.78" width="1.60" height="1.60" fill="#c93a1f"/>
<rect x="359.37" y="496.93" width="1.60" height="1.60" fill="#c93a1f"/>
<rect x="360.36" y="510.40" width="1.60" height="1.60" fill="#c93a1f"/>
<rect x="357.01" y="498.99" width="1.60" height="1.60" fill="#c93a1f"/>
<rect x="355.54" y="508.99" width="1.60" height="1.60" fill="#c93a1f"/>
<rect x="361.13" y="495.06" width="1.60" height="1.60" fill="#c93a1f"/>
<rect x="360.15" y="498.66" width="1.60" height="1.60" fill="#c93a1f"/>
<rect x="353.39" y="512.42" width="1.60" height="1.60" fill="#c93a1f"/>
<rect x="362.83" y="496.70" width="1.60" height="1.60" fill="#c93a1f"/>
<rect x="358.38" y="506.51" width="1.60" height="1.60" fill="#c93a1f"/>
<rect x="354.06" y="501.54" width="1.60" height="1.60" fill="#c93a1f"/>
<rect x="361.90" y="488.19" width="1.60" height="1.60" fill="#c93a1f"/>
<rect x="359.87" y="508.41" width="1.60" height="1.60" fill="#c93a1f"/>
<rect x="360.93" y="491.77" width="1.60" height="1.60" fill="#c93a1f"/>
<rect x="359.81" y="495.59" width="1.60" height="1.60" fill="#c93a1f"/>
<rect x="361.32" y="507.34" width="1.60" height="1.60" fill="#c93a1f"/>
<rect x="359.20" y="496.38" width="1.60" height="1.60" fill="#c93a1f"/>
<rect x="354.35" y="509.33" width="1.60" height="1.60" fill="#c93a1f"/>
<rect x="352.51" y="506.47" width="1.60" height="1.60" fill="#c93a1f"/>
<rect x="360.97" y="500.27" width="1.60" height="1.60" fill="#c93a1f"/>
<rect x="372.27" y="503.06" width="1.60" height="1.60" fill="#c93a1f"/>
<rect x="370.78" y="486.37" width="1.60" height="1.60" fill="#c93a1f"/>
<rect x="344.44" y="510.35" width="1.60" height="1.60" fill="#c93a1f"/>
<rect x="361.72" y="500.00" width="1.60" height="1.60" fill="#c93a1f"/>
<rect x="357.58" y="487.28" width="1.60" height="1.60" fill="#c93a1f"/>
<rect x="354.13" y="494.23" width="1.60" height="1.60" fill="#c93a1f"/>
<rect x="356.57" y="509.59" width="1.60" height="1.60" fill="#c93a1f"/>
<rect x="358.22" y="505.47" width="1.60" height="1.60" fill="#c93a1f"/>
<rect x="353.71" y="499.02" width="1.60" height="1.60" fill="#c93a1f"/>
<rect x="358.57" y="500.24" width="1.60" height="1.60" fill="#c93a1f"/>
<rect x="365.49" y="495.49" width="1.60" height="1.60" fill="#c93a1f"/>
<rect x="369.25" y="494.65" width="1.60" height="1.60" fill="#c93a1f"/>
<rect x="364.26" y="496.31" width="1.60" height="1.60" fill="#c93a1f"/>
<rect x="367.79" y="503.59" width="1.60" height="1.60" fill="#c93a1f"/>
<rect x="360.29" y="508.46" width="1.60" height="1.60" fill="#c93a1f"/>
<rect x="354.09" y="494.16" width="1.60" height="1.60" fill="#c93a1f"/>
<rect x="345.74" y="512.26" width="1.60" height="1.60" fill="#c93a1f"/>
<rect x="353.72" y="497.76" width="1.60" height="1.60" fill="#c93a1f"/>
<rect x="379.26" y="518.42" width="1.60" height="1.60" fill="#a8409c"/>
<rect x="371.62" y="506.25" width="1.60" height="1.60" fill="#a8409c"/>
<rect x="377.62" y="508.22" width="1.60" height="1.60" fill="#a8409c"/>
<rect x="371.30" y="501.72" width="1.60" height="1.60" fill="#a8409c"/>
<rect x="383.18" y="515.41" width="1.60" height="1.60" fill="#a8409c"/>
<rect x="386.59" y="498.52" width="1.60" height="1.60" fill="#a8409c"/>
<rect x="379.65" y="503.73" width="1.60" height="1.60" fill="#a8409c"/>
<rect x="373.21" y="494.42" width="1.60" height="1.60" fill="#a8409c"/>
<rect x="382.81" y="506.22" width="1.60" height="1.60" fill="#a8409c"/>
<rect x="378.76" y="513.01" width="1.60" height="1.60" fill="#a8409c"/>
<rect x="374.89" y="508.19" width="1.60" height="1.60" fill="#a8409c"/>
<rect x="379.44" y="504.08" width="1.60" height="1.60" fill="#a8409c"/>
<rect x="381.61" y="505.73" width="1.60" height="1.60" fill="#a8409c"/>
<rect x="380.60" y="506.36" width="1.60" height="1.60" fill="#a8409c"/>
<rect x="388.12" y="502.32" width="1.60" height="1.60" fill="#a8409c"/>
<rect x="383.96" y="508.76" width="1.60" height="1.60" fill="#a8409c"/>
<rect x="377.83" y="510.07" width="1.60" height="1.60" fill="#a8409c"/>
<rect x="375.54" y="512.62" width="1.60" height="1.60" fill="#a8409c"/>
<rect x="375.76" y="501.07" width="1.60" height="1.60" fill="#a8409c"/>
<rect x="380.85" y="510.33" width="1.60" height="1.60" fill="#a8409c"/>
<rect x="383.48" y="510.75" width="1.60" height="1.60" fill="#a8409c"/>
<rect x="378.47" y="497.81" width="1.60" height="1.60" fill="#a8409c"/>
<rect x="381.87" y="506.61" width="1.60" height="1.60" fill="#a8409c"/>
<rect x="375.11" y="511.31" width="1.60" height="1.60" fill="#a8409c"/>
<rect x="380.30" y="497.80" width="1.60" height="1.60" fill="#a8409c"/>
<rect x="381.39" y="495.22" width="1.60" height="1.60" fill="#a8409c"/>
<rect x="375.45" y="507.32" width="1.60" height="1.60" fill="#a8409c"/>
<rect x="372.39" y="504.76" width="1.60" height="1.60" fill="#a8409c"/>
<rect x="373.32" y="509.66" width="1.60" height="1.60" fill="#a8409c"/>
<rect x="376.13" y="505.78" width="1.60" height="1.60" fill="#a8409c"/>
<rect x="372.64" y="502.09" width="1.60" height="1.60" fill="#a8409c"/>
<rect x="383.66" y="507.70" width="1.60" height="1.60" fill="#a8409c"/>
<rect x="371.13" y="510.97" width="1.60" height="1.60" fill="#a8409c"/>
<rect x="383.41" y="501.87" width="1.60" height="1.60" fill="#a8409c"/>
<rect x="385.78" y="497.09" width="1.60" height="1.60" fill="#a8409c"/>
<rect x="379.02" y="512.30" width="1.60" height="1.60" fill="#a8409c"/>
<rect x="385.30" y="513.46" width="1.60" height="1.60" fill="#a8409c"/>
<rect x="374.48" y="492.04" width="1.60" height="1.60" fill="#a8409c"/>
<rect x="381.16" y="494.48" width="1.60" height="1.60" fill="#a8409c"/>
<rect x="378.81" y="495.53" width="1.60" height="1.60" fill="#a8409c"/>
<rect x="384.18" y="510.12" width="1.60" height="1.60" fill="#a8409c"/>
<rect x="381.90" y="504.62" width="1.60" height="1.60" fill="#a8409c"/>
<rect x="379.61" y="502.42" width="1.60" height="1.60" fill="#a8409c"/>
<rect x="381.13" y="506.25" width="1.60" height="1.60" fill="#a8409c"/>
<rect x="381.47" y="501.50" width="1.60" height="1.60" fill="#a8409c"/>
<rect x="387.94" y="506.48" width="1.60" height="1.60" fill="#a8409c"/>
<rect x="385.67" y="513.82" width="1.60" height="1.60" fill="#a8409c"/>
<rect x="375.44" y="492.69" width="1.60" height="1.60" fill="#a8409c"/>
<rect x="385.06" y="501.79" width="1.60" height="1.60" fill="#a8409c"/>
<rect x="379.77" y="502.69" width="1.60" height="1.60" fill="#a8409c"/>
<rect x="379.99" y="496.17" width="1.60" height="1.60" fill="#a8409c"/>
<rect x="378.94" y="501.25" width="1.60" height="1.60" fill="#a8409c"/>
<rect x="379.33" y="488.15" width="1.60" height="1.60" fill="#a8409c"/>
<rect x="383.09" y="506.82" width="1.60" height="1.60" fill="#a8409c"/>
<rect x="371.63" y="499.36" width="1.60" height="1.60" fill="#a8409c"/>
<rect x="379.54" y="508.90" width="1.60" height="1.60" fill="#a8409c"/>
<rect x="379.40" y="514.18" width="1.60" height="1.60" fill="#a8409c"/>
<rect x="379.50" y="497.50" width="1.60" height="1.60" fill="#a8409c"/>
<rect x="376.36" y="509.71" width="1.60" height="1.60" fill="#a8409c"/>
<rect x="376.64" y="510.39" width="1.60" height="1.60" fill="#a8409c"/>
<rect x="383.99" y="508.62" width="1.60" height="1.60" fill="#a8409c"/>
<rect x="383.98" y="503.28" width="1.60" height="1.60" fill="#a8409c"/>
<rect x="379.36" y="500.36" width="1.60" height="1.60" fill="#a8409c"/>
<rect x="376.65" y="493.54" width="1.60" height="1.60" fill="#a8409c"/>
<rect x="376.90" y="497.00" width="1.60" height="1.60" fill="#a8409c"/>
<rect x="372.98" y="505.53" width="1.60" height="1.60" fill="#a8409c"/>
<rect x="381.45" y="502.11" width="1.60" height="1.60" fill="#a8409c"/>
<rect x="385.56" y="511.09" width="1.60" height="1.60" fill="#a8409c"/>
<rect x="384.10" y="500.27" width="1.60" height="1.60" fill="#a8409c"/>
<rect x="372.68" y="508.41" width="1.60" height="1.60" fill="#a8409c"/>
<rect x="380.79" y="509.58" width="1.60" height="1.60" fill="#a8409c"/>
<rect x="381.28" y="513.32" width="1.60" height="1.60" fill="#a8409c"/>
<rect x="378.10" y="509.17" width="1.60" height="1.60" fill="#a8409c"/>
<rect x="375.37" y="488.34" width="1.60" height="1.60" fill="#a8409c"/>
<rect x="377.40" y="514.99" width="1.60" height="1.60" fill="#a8409c"/>
<rect x="371.86" y="511.62" width="1.60" height="1.60" fill="#a8409c"/>
<rect x="376.34" y="501.70" width="1.60" height="1.60" fill="#a8409c"/>
<rect x="379.60" y="505.98" width="1.60" height="1.60" fill="#a8409c"/>
<rect x="375.02" y="505.38" width="1.60" height="1.60" fill="#a8409c"/>
<rect x="381.40" y="510.34" width="1.60" height="1.60" fill="#a8409c"/>
<rect x="376.00" y="515.36" width="1.60" height="1.60" fill="#a8409c"/>
<rect x="387.98" y="521.41" width="1.60" height="1.60" fill="#a8409c"/>
<rect x="373.37" y="505.71" width="1.60" height="1.60" fill="#a8409c"/>
<rect x="371.03" y="507.15" width="1.60" height="1.60" fill="#a8409c"/>
<rect x="381.90" y="496.46" width="1.60" height="1.60" fill="#a8409c"/>
<rect x="372.26" y="505.81" width="1.60" height="1.60" fill="#a8409c"/>
<rect x="382.23" y="498.95" width="1.60" height="1.60" fill="#a8409c"/>
<rect x="378.22" y="486.82" width="1.60" height="1.60" fill="#a8409c"/>
<rect x="376.22" y="505.53" width="1.60" height="1.60" fill="#a8409c"/>
<rect x="380.08" y="515.58" width="1.60" height="1.60" fill="#a8409c"/>
<rect x="374.26" y="488.74" width="1.60" height="1.60" fill="#a8409c"/>
<rect x="381.43" y="500.36" width="1.60" height="1.60" fill="#a8409c"/>
<rect x="380.69" y="509.53" width="1.60" height="1.60" fill="#a8409c"/>
<rect x="382.10" y="514.59" width="1.60" height="1.60" fill="#a8409c"/>
<rect x="385.49" y="492.85" width="1.60" height="1.60" fill="#a8409c"/>
<rect x="379.12" y="518.50" width="1.60" height="1.60" fill="#a8409c"/>
<rect x="377.57" y="511.27" width="1.60" height="1.60" fill="#a8409c"/>
<rect x="379.15" y="501.56" width="1.60" height="1.60" fill="#a8409c"/>
<rect x="386.52" y="511.79" width="1.60" height="1.60" fill="#a8409c"/>
<rect x="378.30" y="510.85" width="1.60" height="1.60" fill="#a8409c"/>
<rect x="373.49" y="499.42" width="1.60" height="1.60" fill="#a8409c"/>
<rect x="383.46" y="504.77" width="1.60" height="1.60" fill="#a8409c"/>
<rect x="374.62" y="507.65" width="1.60" height="1.60" fill="#a8409c"/>
<rect x="380.88" y="513.49" width="1.60" height="1.60" fill="#a8409c"/>
<rect x="383.71" y="502.57" width="1.60" height="1.60" fill="#a8409c"/>
<rect x="377.22" y="503.53" width="1.60" height="1.60" fill="#a8409c"/>
<rect x="378.37" y="514.73" width="1.60" height="1.60" fill="#a8409c"/>
<rect x="386.55" y="514.00" width="1.60" height="1.60" fill="#a8409c"/>
<rect x="381.11" y="502.79" width="1.60" height="1.60" fill="#a8409c"/>
<rect x="383.46" y="502.06" width="1.60" height="1.60" fill="#a8409c"/>
<rect x="380.46" y="492.84" width="1.60" height="1.60" fill="#a8409c"/>
<rect x="377.49" y="514.58" width="1.60" height="1.60" fill="#a8409c"/>
<rect x="374.78" y="494.06" width="1.60" height="1.60" fill="#a8409c"/>
<rect x="378.66" y="516.17" width="1.60" height="1.60" fill="#a8409c"/>
<rect x="385.93" y="501.98" width="1.60" height="1.60" fill="#a8409c"/>
<rect x="377.25" y="503.73" width="1.60" height="1.60" fill="#a8409c"/>
<rect x="375.21" y="504.75" width="1.60" height="1.60" fill="#a8409c"/>
<rect x="378.05" y="494.17" width="1.60" height="1.60" fill="#a8409c"/>
<rect x="376.79" y="502.70" width="1.60" height="1.60" fill="#a8409c"/>
<rect x="375.53" y="496.67" width="1.60" height="1.60" fill="#a8409c"/>
<rect x="383.47" y="517.77" width="1.60" height="1.60" fill="#a8409c"/>
<rect x="378.11" y="501.53" width="1.60" height="1.60" fill="#a8409c"/>
<rect x="381.66" y="502.89" width="1.60" height="1.60" fill="#a8409c"/>
<rect x="375.88" y="514.24" width="1.60" height="1.60" fill="#a8409c"/>
<rect x="374.71" y="499.38" width="1.60" height="1.60" fill="#a8409c"/>
<rect x="376.41" y="498.31" width="1.60" height="1.60" fill="#a8409c"/>
<rect x="378.33" y="508.53" width="1.60" height="1.60" fill="#a8409c"/>
<rect x="385.89" y="509.14" width="1.60" height="1.60" fill="#a8409c"/>
<rect x="379.56" y="495.74" width="1.60" height="1.60" fill="#a8409c"/>
<rect x="379.12" y="497.91" width="1.60" height="1.60" fill="#a8409c"/>
<rect x="378.96" y="511.35" width="1.60" height="1.60" fill="#a8409c"/>
<rect x="380.32" y="503.03" width="1.60" height="1.60" fill="#a8409c"/>
<rect x="376.01" y="504.34" width="1.60" height="1.60" fill="#a8409c"/>
<rect x="379.90" y="498.00" width="1.60" height="1.60" fill="#a8409c"/>
<rect x="377.13" y="510.67" width="1.60" height="1.60" fill="#a8409c"/>
<rect x="371.93" y="501.40" width="1.60" height="1.60" fill="#a8409c"/>
<rect x="374.15" y="515.32" width="1.60" height="1.60" fill="#a8409c"/>
<rect x="382.12" y="508.10" width="1.60" height="1.60" fill="#a8409c"/>
<rect x="381.18" y="506.51" width="1.60" height="1.60" fill="#a8409c"/>
<rect x="380.71" y="493.40" width="1.60" height="1.60" fill="#a8409c"/>
<rect x="380.56" y="508.66" width="1.60" height="1.60" fill="#a8409c"/>
<rect x="372.97" y="510.27" width="1.60" height="1.60" fill="#a8409c"/>
<rect x="382.40" y="493.84" width="1.60" height="1.60" fill="#a8409c"/>
<rect x="377.28" y="502.35" width="1.60" height="1.60" fill="#a8409c"/>
<rect x="377.03" y="507.24" width="1.60" height="1.60" fill="#a8409c"/>
<rect x="373.65" y="502.93" width="1.60" height="1.60" fill="#a8409c"/>
<rect x="380.41" y="509.57" width="1.60" height="1.60" fill="#a8409c"/>
<rect x="379.62" y="502.80" width="1.60" height="1.60" fill="#a8409c"/>
<rect x="382.51" y="490.57" width="1.60" height="1.60" fill="#a8409c"/>
<rect x="383.60" y="502.35" width="1.60" height="1.60" fill="#a8409c"/>
<rect x="373.77" y="501.49" width="1.60" height="1.60" fill="#a8409c"/>
<rect x="371.15" y="490.19" width="1.60" height="1.60" fill="#a8409c"/>
<rect x="377.93" y="499.06" width="1.60" height="1.60" fill="#a8409c"/>
<rect x="382.70" y="498.30" width="1.60" height="1.60" fill="#a8409c"/>
<rect x="373.57" y="497.79" width="1.60" height="1.60" fill="#a8409c"/>
<rect x="387.12" y="504.68" width="1.60" height="1.60" fill="#a8409c"/>
<rect x="376.65" y="497.57" width="1.60" height="1.60" fill="#a8409c"/>
<rect x="374.46" y="503.35" width="1.60" height="1.60" fill="#a8409c"/>
<rect x="381.32" y="512.56" width="1.60" height="1.60" fill="#a8409c"/>
<rect x="384.56" y="506.40" width="1.60" height="1.60" fill="#a8409c"/>
<rect x="376.43" y="498.48" width="1.60" height="1.60" fill="#a8409c"/>
<rect x="368.99" y="497.37" width="1.60" height="1.60" fill="#a8409c"/>
<rect x="381.29" y="502.13" width="1.60" height="1.60" fill="#a8409c"/>
<rect x="381.05" y="495.06" width="1.60" height="1.60" fill="#a8409c"/>
<rect x="383.44" y="506.57" width="1.60" height="1.60" fill="#a8409c"/>
<rect x="379.59" y="507.30" width="1.60" height="1.60" fill="#a8409c"/>
<rect x="369.34" y="500.60" width="1.60" height="1.60" fill="#a8409c"/>
<rect x="375.37" y="517.19" width="1.60" height="1.60" fill="#a8409c"/>
<rect x="378.58" y="500.96" width="1.60" height="1.60" fill="#a8409c"/>
<rect x="383.24" y="497.12" width="1.60" height="1.60" fill="#a8409c"/>
<rect x="385.80" y="499.58" width="1.60" height="1.60" fill="#a8409c"/>
<rect x="379.13" y="498.09" width="1.60" height="1.60" fill="#a8409c"/>
<rect x="383.04" y="489.30" width="1.60" height="1.60" fill="#a8409c"/>
<rect x="382.51" y="498.76" width="1.60" height="1.60" fill="#a8409c"/>
<rect x="379.62" y="496.44" width="1.60" height="1.60" fill="#a8409c"/>
<rect x="380.43" y="505.81" width="1.60" height="1.60" fill="#a8409c"/>
<rect x="382.06" y="506.70" width="1.60" height="1.60" fill="#a8409c"/>
<rect x="382.20" y="511.45" width="1.60" height="1.60" fill="#a8409c"/>
<rect x="377.65" y="496.25" width="1.60" height="1.60" fill="#a8409c"/>
<rect x="373.65" y="509.26" width="1.60" height="1.60" fill="#a8409c"/>
<rect x="377.71" y="511.87" width="1.60" height="1.60" fill="#a8409c"/>
<rect x="379.60" y="497.41" width="1.60" height="1.60" fill="#a8409c"/>
<rect x="383.47" y="518.10" width="1.60" height="1.60" fill="#a8409c"/>
<rect x="378.59" y="497.93" width="1.60" height="1.60" fill="#a8409c"/>
<rect x="375.59" y="510.73" width="1.60" height="1.60" fill="#a8409c"/>
<rect x="376.77" y="501.66" width="1.60" height="1.60" fill="#a8409c"/>
<rect x="382.48" y="504.58" width="1.60" height="1.60" fill="#a8409c"/>
<rect x="379.92" y="500.69" width="1.60" height="1.60" fill="#a8409c"/>
<rect x="376.53" y="505.65" width="1.60" height="1.60" fill="#a8409c"/>
<rect x="380.10" y="508.64" width="1.60" height="1.60" fill="#a8409c"/>
<rect x="377.15" y="506.92" width="1.60" height="1.60" fill="#a8409c"/>
<rect x="381.54" y="505.08" width="1.60" height="1.60" fill="#a8409c"/>
<rect x="381.97" y="511.58" width="1.60" height="1.60" fill="#a8409c"/>
<rect x="380.29" y="505.05" width="1.60" height="1.60" fill="#a8409c"/>
<rect x="375.04" y="506.80" width="1.60" height="1.60" fill="#a8409c"/>
<rect x="378.98" y="502.33" width="1.60" height="1.60" fill="#a8409c"/>
<rect x="375.69" y="508.52" width="1.60" height="1.60" fill="#a8409c"/>
<rect x="390.91" y="507.53" width="1.60" height="1.60" fill="#a8409c"/>
<rect x="379.79" y="507.56" width="1.60" height="1.60" fill="#a8409c"/>
<rect x="376.73" y="505.17" width="1.60" height="1.60" fill="#a8409c"/>
<rect x="376.42" y="500.01" width="1.60" height="1.60" fill="#a8409c"/>
<rect x="380.45" y="506.11" width="1.60" height="1.60" fill="#a8409c"/>
<rect x="378.90" y="498.94" width="1.60" height="1.60" fill="#a8409c"/>
<rect x="380.59" y="496.89" width="1.60" height="1.60" fill="#a8409c"/>
<rect x="382.87" y="502.08" width="1.60" height="1.60" fill="#a8409c"/>
<rect x="379.40" y="510.00" width="1.60" height="1.60" fill="#a8409c"/>
<rect x="381.90" y="495.44" width="1.60" height="1.60" fill="#a8409c"/>
<rect x="378.28" y="507.07" width="1.60" height="1.60" fill="#a8409c"/>
<rect x="374.51" y="487.67" width="1.60" height="1.60" fill="#a8409c"/>
<rect x="379.08" y="504.17" width="1.60" height="1.60" fill="#a8409c"/>
<rect x="381.33" y="505.08" width="1.60" height="1.60" fill="#a8409c"/>
<rect x="379.99" y="506.18" width="1.60" height="1.60" fill="#a8409c"/>
<rect x="385.59" y="507.89" width="1.60" height="1.60" fill="#a8409c"/>
<rect x="381.84" y="501.75" width="1.60" height="1.60" fill="#a8409c"/>
<rect x="384.45" y="503.20" width="1.60" height="1.60" fill="#a8409c"/>
<rect x="382.72" y="489.75" width="1.60" height="1.60" fill="#a8409c"/>
<rect x="380.50" y="503.82" width="1.60" height="1.60" fill="#a8409c"/>
<rect x="377.33" y="513.51" width="1.60" height="1.60" fill="#a8409c"/>
<rect x="381.22" y="503.51" width="1.60" height="1.60" fill="#a8409c"/>
<rect x="377.04" y="517.63" width="1.60" height="1.60" fill="#a8409c"/>
<rect x="382.76" y="509.09" width="1.60" height="1.60" fill="#a8409c"/>
<rect x="375.97" y="513.62" width="1.60" height="1.60" fill="#a8409c"/>
<rect x="381.91" y="502.62" width="1.60" height="1.60" fill="#a8409c"/>
<rect x="378.93" y="493.13" width="1.60" height="1.60" fill="#a8409c"/>
<rect x="382.33" y="496.87" width="1.60" height="1.60" fill="#a8409c"/>
<rect x="383.19" y="501.43" width="1.60" height="1.60" fill="#a8409c"/>
<rect x="376.61" y="507.08" width="1.60" height="1.60" fill="#a8409c"/>
<rect x="380.35" y="496.62" width="1.60" height="1.60" fill="#a8409c"/>
<rect x="379.07" y="508.74" width="1.60" height="1.60" fill="#a8409c"/>
<rect x="378.27" y="495.11" width="1.60" height="1.60" fill="#a8409c"/>
<rect x="378.31" y="497.79" width="1.60" height="1.60" fill="#a8409c"/>
<rect x="376.81" y="504.83" width="1.60" height="1.60" fill="#a8409c"/>
<rect x="379.16" y="503.04" width="1.60" height="1.60" fill="#a8409c"/>
<rect x="371.98" y="506.93" width="1.60" height="1.60" fill="#a8409c"/>
<rect x="378.50" y="501.66" width="1.60" height="1.60" fill="#a8409c"/>
<rect x="380.10" y="517.94" width="1.60" height="1.60" fill="#a8409c"/>
<rect x="373.62" y="493.29" width="1.60" height="1.60" fill="#a8409c"/>
<rect x="382.82" y="499.00" width="1.60" height="1.60" fill="#a8409c"/>
<rect x="385.23" y="497.64" width="1.60" height="1.60" fill="#a8409c"/>
<rect x="377.23" y="510.32" width="1.60" height="1.60" fill="#a8409c"/>
<rect x="383.49" y="507.59" width="1.60" height="1.60" fill="#a8409c"/>
<rect x="381.44" y="503.59" width="1.60" height="1.60" fill="#a8409c"/>
<rect x="377.43" y="503.08" width="1.60" height="1.60" fill="#a8409c"/>
<rect x="385.09" y="509.43" width="1.60" height="1.60" fill="#a8409c"/>
<rect x="379.48" y="506.71" width="1.60" height="1.60" fill="#a8409c"/>
<rect x="383.12" y="512.74" width="1.60" height="1.60" fill="#a8409c"/>
<rect x="378.81" y="503.95" width="1.60" height="1.60" fill="#a8409c"/>
<rect x="380.88" y="522.66" width="1.60" height="1.60" fill="#a8409c"/>
<rect x="380.48" y="513.34" width="1.60" height="1.60" fill="#a8409c"/>
<rect x="372.53" y="510.40" width="1.60" height="1.60" fill="#a8409c"/>
<rect x="373.11" y="496.98" width="1.60" height="1.60" fill="#a8409c"/>
<rect x="376.57" y="503.51" width="1.60" height="1.60" fill="#a8409c"/>
<rect x="380.20" y="507.05" width="1.60" height="1.60" fill="#a8409c"/>
<rect x="380.40" y="501.46" width="1.60" height="1.60" fill="#a8409c"/>
<rect x="390.99" y="507.24" width="1.60" height="1.60" fill="#a8409c"/>
<rect x="382.38" y="518.56" width="1.60" height="1.60" fill="#a8409c"/>
<rect x="383.72" y="508.52" width="1.60" height="1.60" fill="#a8409c"/>
<rect x="380.84" y="517.47" width="1.60" height="1.60" fill="#a8409c"/>
<rect x="374.57" y="497.85" width="1.60" height="1.60" fill="#a8409c"/>
<rect x="380.05" y="490.35" width="1.60" height="1.60" fill="#a8409c"/>
<rect x="375.93" y="512.34" width="1.60" height="1.60" fill="#a8409c"/>
<rect x="377.34" y="505.64" width="1.60" height="1.60" fill="#a8409c"/>
<rect x="382.49" y="496.42" width="1.60" height="1.60" fill="#a8409c"/>
<rect x="380.61" y="500.13" width="1.60" height="1.60" fill="#a8409c"/>
<rect x="374.52" y="502.59" width="1.60" height="1.60" fill="#a8409c"/>
<rect x="379.15" y="501.72" width="1.60" height="1.60" fill="#a8409c"/>
<rect x="376.46" y="511.13" width="1.60" height="1.60" fill="#a8409c"/>
<rect x="384.54" y="508.36" width="1.60" height="1.60" fill="#a8409c"/>
<rect x="378.97" y="497.19" width="1.60" height="1.60" fill="#a8409c"/>
<rect x="375.74" y="496.83" width="1.60" height="1.60" fill="#a8409c"/>
<rect x="380.33" y="510.84" width="1.60" height="1.60" fill="#a8409c"/>
<rect x="383.46" y="504.33" width="1.60" height="1.60" fill="#a8409c"/>
<rect x="377.69" y="505.74" width="1.60" height="1.60" fill="#a8409c"/>
<rect x="379.94" y="508.62" width="1.60" height="1.60" fill="#a8409c"/>
<rect x="385.97" y="499.76" width="1.60" height="1.60" fill="#a8409c"/>
<rect x="388.73" y="489.94" width="1.60" height="1.60" fill="#a8409c"/>
<rect x="371.46" y="494.01" width="1.60" height="1.60" fill="#a8409c"/>
<rect x="374.83" y="502.88" width="1.60" height="1.60" fill="#a8409c"/>
<rect x="388.61" y="499.65" width="1.60" height="1.60" fill="#a8409c"/>
<rect x="384.32" y="501.99" width="1.60" height="1.60" fill="#a8409c"/>
<rect x="380.08" y="497.42" width="1.60" height="1.60" fill="#a8409c"/>
<rect x="389.52" y="504.23" width="1.60" height="1.60" fill="#a8409c"/>
<rect x="376.66" y="520.26" width="1.60" height="1.60" fill="#a8409c"/>
<rect x="380.21" y="507.38" width="1.60" height="1.60" fill="#a8409c"/>
<rect x="378.75" y="498.74" width="1.60" height="1.60" fill="#a8409c"/>
<rect x="373.02" y="503.28" width="1.60" height="1.60" fill="#a8409c"/>
<rect x="386.60" y="507.42" width="1.60" height="1.60" fill="#a8409c"/>
<rect x="378.62" y="511.85" width="1.60" height="1.60" fill="#a8409c"/>
<rect x="375.24" y="514.04" width="1.60" height="1.60" fill="#a8409c"/>
<rect x="379.33" y="498.74" width="1.60" height="1.60" fill="#a8409c"/>
<rect x="382.42" y="508.07" width="1.60" height="1.60" fill="#a8409c"/>
<rect x="377.87" y="505.99" width="1.60" height="1.60" fill="#a8409c"/>
<rect x="383.76" y="514.24" width="1.60" height="1.60" fill="#a8409c"/>
<rect x="375.62" y="486.26" width="1.60" height="1.60" fill="#a8409c"/>
<rect x="388.52" y="502.68" width="1.60" height="1.60" fill="#a8409c"/>
<rect x="377.54" y="507.48" width="1.60" height="1.60" fill="#a8409c"/>
<rect x="377.50" y="511.72" width="1.60" height="1.60" fill="#a8409c"/>
<rect x="373.85" y="503.08" width="1.60" height="1.60" fill="#a8409c"/>
<rect x="373.80" y="515.07" width="1.60" height="1.60" fill="#a8409c"/>
<rect x="378.30" y="512.12" width="1.60" height="1.60" fill="#a8409c"/>
<rect x="385.59" y="496.21" width="1.60" height="1.60" fill="#a8409c"/>
<rect x="378.42" y="509.49" width="1.60" height="1.60" fill="#a8409c"/>
<rect x="379.62" y="503.57" width="1.60" height="1.60" fill="#a8409c"/>
<rect x="383.15" y="510.83" width="1.60" height="1.60" fill="#a8409c"/>
<rect x="376.76" y="503.56" width="1.60" height="1.60" fill="#a8409c"/>
<rect x="382.29" y="505.97" width="1.60" height="1.60" fill="#a8409c"/>
<rect x="380.03" y="496.72" width="1.60" height="1.60" fill="#a8409c"/>
<rect x="387.23" y="502.91" width="1.60" height="1.60" fill="#a8409c"/>
<rect x="380.59" y="504.26" width="1.60" height="1.60" fill="#a8409c"/>
<rect x="379.69" y="505.55" width="1.60" height="1.60" fill="#a8409c"/>
<rect x="375.67" y="507.12" width="1.60" height="1.60" fill="#a8409c"/>
<rect x="384.76" y="507.28" width="1.60" height="1.60" fill="#a8409c"/>
<rect x="382.63" y="507.86" width="1.60" height="1.60" fill="#a8409c"/>
<rect x="379.54" y="517.10" width="1.60" height="1.60" fill="#a8409c"/>
<rect x="376.36" y="507.17" width="1.60" height="1.60" fill="#a8409c"/>
<rect x="383.99" y="506.52" width="1.60" height="1.60" fill="#a8409c"/>
<rect x="374.70" y="496.96" width="1.60" height="1.60" fill="#a8409c"/>
<rect x="386.38" y="497.85" width="1.60" height="1.60" fill="#a8409c"/>
<rect x="379.44" y="508.28" width="1.60" height="1.60" fill="#a8409c"/>
<rect x="379.81" y="492.16" width="1.60" height="1.60" fill="#a8409c"/>
<rect x="370.93" y="503.77" width="1.60" height="1.60" fill="#a8409c"/>
<rect x="375.95" y="502.69" width="1.60" height="1.60" fill="#a8409c"/>
<rect x="379.81" y="505.63" width="1.60" height="1.60" fill="#a8409c"/>
<rect x="373.43" y="492.82" width="1.60" height="1.60" fill="#a8409c"/>
<rect x="383.60" y="500.13" width="1.60" height="1.60" fill="#a8409c"/>
<rect x="374.16" y="490.63" width="1.60" height="1.60" fill="#a8409c"/>
<rect x="381.79" y="495.75" width="1.60" height="1.60" fill="#a8409c"/>
<rect x="374.73" y="508.83" width="1.60" height="1.60" fill="#a8409c"/>
<rect x="380.77" y="508.41" width="1.60" height="1.60" fill="#a8409c"/>
<rect x="373.74" y="484.57" width="1.60" height="1.60" fill="#a8409c"/>
<rect x="343.43" y="468.60" width="1.60" height="1.60" fill="#d2a8d6"/>
<rect x="343.91" y="472.15" width="1.60" height="1.60" fill="#d2a8d6"/>
<rect x="345.44" y="466.39" width="1.60" height="1.60" fill="#d2a8d6"/>
<rect x="345.74" y="469.06" width="1.60" height="1.60" fill="#d2a8d6"/>
<rect x="344.18" y="472.85" width="1.60" height="1.60" fill="#d2a8d6"/>
<rect x="342.41" y="472.58" width="1.60" height="1.60" fill="#d2a8d6"/>
<rect x="346.53" y="463.37" width="1.60" height="1.60" fill="#d2a8d6"/>
<rect x="344.62" y="469.01" width="1.60" height="1.60" fill="#d2a8d6"/>
<rect x="343.21" y="467.79" width="1.60" height="1.60" fill="#d2a8d6"/>
<rect x="343.69" y="469.69" width="1.60" height="1.60" fill="#d2a8d6"/>
<rect x="351.12" y="474.97" width="1.60" height="1.60" fill="#8a4d1a"/>
<rect x="359.84" y="487.07" width="1.60" height="1.60" fill="#8a4d1a"/>
<rect x="349.75" y="486.98" width="1.60" height="1.60" fill="#8a4d1a"/>
<rect x="363.97" y="477.31" width="1.60" height="1.60" fill="#8a4d1a"/>
<rect x="351.86" y="481.43" width="1.60" height="1.60" fill="#8a4d1a"/>
<rect x="356.68" y="482.29" width="1.60" height="1.60" fill="#8a4d1a"/>
<rect x="346.93" y="488.52" width="1.60" height="1.60" fill="#8a4d1a"/>
<rect x="352.29" y="486.41" width="1.60" height="1.60" fill="#8a4d1a"/>
<rect x="358.46" y="514.04" width="1.60" height="1.60" fill="#8ad88a"/>
<rect x="353.08" y="523.96" width="1.60" height="1.60" fill="#8ad88a"/>
<rect x="353.69" y="521.62" width="1.60" height="1.60" fill="#8ad88a"/>
<rect x="353.89" y="535.30" width="1.60" height="1.60" fill="#8ad88a"/>
<rect x="483.40" y="507.20" width="1.60" height="1.60" fill="#d98656"/>
<rect x="480.90" y="507.03" width="1.60" height="1.60" fill="#d98656"/>
<rect x="487.83" y="507.12" width="1.60" height="1.60" fill="#d98656"/>
<rect x="491.01" y="505.17" width="1.60" height="1.60" fill="#d98656"/>
<rect x="483.54" y="505.44" width="1.60" height="1.60" fill="#d98656"/>
<rect x="479.28" y="506.22" width="1.60" height="1.60" fill="#d98656"/>
<rect x="484.31" y="507.13" width="1.60" height="1.60" fill="#d98656"/>
<rect x="485.74" y="509.85" width="1.60" height="1.60" fill="#d98656"/>
<rect x="487.51" y="504.11" width="1.60" height="1.60" fill="#d98656"/>
<rect x="484.22" y="505.57" width="1.60" height="1.60" fill="#d98656"/>
<rect x="480.62" y="508.46" width="1.60" height="1.60" fill="#d98656"/>
<rect x="482.09" y="503.57" width="1.60" height="1.60" fill="#d98656"/>
<rect x="484.75" y="506.06" width="1.60" height="1.60" fill="#d98656"/>
<rect x="477.33" y="505.12" width="1.60" height="1.60" fill="#d98656"/>
<rect x="480.07" y="506.46" width="1.60" height="1.60" fill="#d98656"/>
<rect x="481.07" y="506.61" width="1.60" height="1.60" fill="#d98656"/>
<rect x="492.38" y="505.30" width="1.60" height="1.60" fill="#d98656"/>
<rect x="479.16" y="506.13" width="1.60" height="1.60" fill="#d98656"/>
<rect x="488.68" y="505.44" width="1.60" height="1.60" fill="#d98656"/>
<rect x="490.37" y="504.54" width="1.60" height="1.60" fill="#d98656"/>
<rect x="478.04" y="506.42" width="1.60" height="1.60" fill="#d98656"/>
<rect x="478.88" y="505.57" width="1.60" height="1.60" fill="#d98656"/>
<rect x="485.46" y="507.59" width="1.60" height="1.60" fill="#d98656"/>
<rect x="483.77" y="506.09" width="1.60" height="1.60" fill="#d98656"/>
<rect x="489.92" y="507.10" width="1.60" height="1.60" fill="#d98656"/>
<rect x="482.02" y="508.32" width="1.60" height="1.60" fill="#d98656"/>
<rect x="478.69" y="506.75" width="1.60" height="1.60" fill="#d98656"/>
<rect x="486.50" y="506.48" width="1.60" height="1.60" fill="#d98656"/>
<rect x="480.33" y="507.03" width="1.60" height="1.60" fill="#d98656"/>
<rect x="480.50" y="505.61" width="1.60" height="1.60" fill="#d98656"/>
<rect x="478.09" y="508.46" width="1.60" height="1.60" fill="#d98656"/>
<rect x="480.45" y="508.23" width="1.60" height="1.60" fill="#d98656"/>
<rect x="485.10" y="506.11" width="1.60" height="1.60" fill="#d98656"/>
<rect x="486.54" y="506.91" width="1.60" height="1.60" fill="#d98656"/>
<rect x="483.86" y="504.44" width="1.60" height="1.60" fill="#d98656"/>
<rect x="492.30" y="511.97" width="1.60" height="1.60" fill="#c93a1f"/>
<rect x="492.88" y="512.48" width="1.60" height="1.60" fill="#c93a1f"/>
<rect x="494.29" y="509.55" width="1.60" height="1.60" fill="#c93a1f"/>
<rect x="494.96" y="499.93" width="1.60" height="1.60" fill="#c93a1f"/>
<rect x="491.86" y="494.88" width="1.60" height="1.60" fill="#c93a1f"/>
<rect x="493.35" y="507.97" width="1.60" height="1.60" fill="#c93a1f"/>
<rect x="494.56" y="505.67" width="1.60" height="1.60" fill="#c93a1f"/>
<rect x="489.36" y="513.89" width="1.60" height="1.60" fill="#c93a1f"/>
<rect x="490.32" y="501.16" width="1.60" height="1.60" fill="#c93a1f"/>
<rect x="491.95" y="510.64" width="1.60" height="1.60" fill="#c93a1f"/>
<rect x="491.49" y="508.43" width="1.60" height="1.60" fill="#c93a1f"/>
<rect x="489.57" y="516.15" width="1.60" height="1.60" fill="#c93a1f"/>
<rect x="492.11" y="508.10" width="1.60" height="1.60" fill="#c93a1f"/>
<rect x="493.02" y="508.35" width="1.60" height="1.60" fill="#c93a1f"/>
<rect x="492.48" y="502.86" width="1.60" height="1.60" fill="#c93a1f"/>
<rect x="492.04" y="509.69" width="1.60" height="1.60" fill="#c93a1f"/>
<rect x="493.66" y="506.90" width="1.60" height="1.60" fill="#c93a1f"/>
<rect x="492.33" y="509.19" width="1.60" height="1.60" fill="#c93a1f"/>
<rect x="493.00" y="508.53" width="1.60" height="1.60" fill="#c93a1f"/>
<rect x="491.85" y="504.95" width="1.60" height="1.60" fill="#c93a1f"/>
<rect x="493.77" y="508.98" width="1.60" height="1.60" fill="#c93a1f"/>
<rect x="492.23" y="524.89" width="1.60" height="1.60" fill="#c93a1f"/>
<rect x="493.44" y="511.76" width="1.60" height="1.60" fill="#c93a1f"/>
<rect x="492.41" y="502.43" width="1.60" height="1.60" fill="#c93a1f"/>
<rect x="493.79" y="507.06" width="1.60" height="1.60" fill="#c93a1f"/>
<rect x="492.27" y="512.63" width="1.60" height="1.60" fill="#c93a1f"/>
<rect x="493.62" y="508.70" width="1.60" height="1.60" fill="#c93a1f"/>
<rect x="492.23" y="517.99" width="1.60" height="1.60" fill="#c93a1f"/>
<rect x="493.00" y="502.37" width="1.60" height="1.60" fill="#c93a1f"/>
<rect x="493.25" y="508.26" width="1.60" height="1.60" fill="#c93a1f"/>
<rect x="492.25" y="510.91" width="1.60" height="1.60" fill="#c93a1f"/>
<rect x="492.53" y="517.53" width="1.60" height="1.60" fill="#c93a1f"/>
<rect x="492.49" y="508.76" width="1.60" height="1.60" fill="#c93a1f"/>
<rect x="493.83" y="504.68" width="1.60" height="1.60" fill="#c93a1f"/>
<rect x="493.62" y="507.20" width="1.60" height="1.60" fill="#c93a1f"/>
<rect x="493.86" y="503.25" width="1.60" height="1.60" fill="#c93a1f"/>
<rect x="492.79" y="499.51" width="1.60" height="1.60" fill="#c93a1f"/>
<rect x="491.58" y="507.58" width="1.60" height="1.60" fill="#c93a1f"/>
<rect x="492.89" y="517.37" width="1.60" height="1.60" fill="#c93a1f"/>
<rect x="494.77" y="500.80" width="1.60" height="1.60" fill="#c93a1f"/>
<rect x="491.14" y="513.76" width="1.60" height="1.60" fill="#c93a1f"/>
<rect x="492.81" y="500.67" width="1.60" height="1.60" fill="#c93a1f"/>
<rect x="492.88" y="501.87" width="1.60" height="1.60" fill="#c93a1f"/>
<rect x="491.00" y="501.21" width="1.60" height="1.60" fill="#c93a1f"/>
<rect x="491.84" y="518.74" width="1.60" height="1.60" fill="#c93a1f"/>
<rect x="492.88" y="511.07" width="1.60" height="1.60" fill="#d98656"/>
<rect x="496.72" y="509.65" width="1.60" height="1.60" fill="#d98656"/>
<rect x="491.93" y="510.45" width="1.60" height="1.60" fill="#d98656"/>
<rect x="492.96" y="510.26" width="1.60" height="1.60" fill="#d98656"/>
<rect x="494.82" y="510.33" width="1.60" height="1.60" fill="#d98656"/>
<rect x="493.21" y="512.40" width="1.60" height="1.60" fill="#d98656"/>
<rect x="490.66" y="507.60" width="1.60" height="1.60" fill="#d98656"/>
<rect x="492.11" y="502.34" width="1.60" height="1.60" fill="#d98656"/>
<rect x="492.23" y="511.82" width="1.60" height="1.60" fill="#d98656"/>
<rect x="492.46" y="511.20" width="1.60" height="1.60" fill="#d98656"/>
<rect x="492.84" y="510.11" width="1.60" height="1.60" fill="#d98656"/>
<rect x="493.36" y="505.00" width="1.60" height="1.60" fill="#d98656"/>
<rect x="493.84" y="507.99" width="1.60" height="1.60" fill="#d98656"/>
<rect x="493.07" y="509.65" width="1.60" height="1.60" fill="#d98656"/>
<rect x="491.44" y="508.34" width="1.60" height="1.60" fill="#d98656"/>
<rect x="494.61" y="507.16" width="1.60" height="1.60" fill="#d98656"/>
<rect x="490.03" y="512.37" width="1.60" height="1.60" fill="#d98656"/>
<rect x="492.67" y="511.67" width="1.60" height="1.60" fill="#d98656"/>
<rect x="490.47" y="508.91" width="1.60" height="1.60" fill="#d98656"/>
<rect x="493.83" y="507.39" width="1.60" height="1.60" fill="#d98656"/>
<rect x="493.30" y="514.41" width="1.60" height="1.60" fill="#d98656"/>
<rect x="492.44" y="506.66" width="1.60" height="1.60" fill="#d98656"/>
<rect x="495.62" y="512.01" width="1.60" height="1.60" fill="#d98656"/>
<rect x="492.56" y="510.01" width="1.60" height="1.60" fill="#d98656"/>
<rect x="490.50" y="510.45" width="1.60" height="1.60" fill="#d98656"/>
<rect x="492.56" y="508.14" width="1.60" height="1.60" fill="#d98656"/>
<rect x="492.41" y="516.10" width="1.60" height="1.60" fill="#d98656"/>
<rect x="492.99" y="511.12" width="1.60" height="1.60" fill="#d98656"/>
<rect x="494.09" y="515.17" width="1.60" height="1.60" fill="#d98656"/>
<rect x="493.82" y="508.34" width="1.60" height="1.60" fill="#d98656"/>
<rect x="490.39" y="520.09" width="1.60" height="1.60" fill="#d98656"/>
<rect x="492.26" y="517.77" width="1.60" height="1.60" fill="#d98656"/>
<rect x="492.69" y="517.60" width="1.60" height="1.60" fill="#d98656"/>
<rect x="491.59" y="522.10" width="1.60" height="1.60" fill="#d98656"/>
<rect x="490.62" y="520.18" width="1.60" height="1.60" fill="#d98656"/>
<rect x="493.21" y="522.04" width="1.60" height="1.60" fill="#d98656"/>
<rect x="498.21" y="506.01" width="1.60" height="1.60" fill="#a8409c"/>
<rect x="495.88" y="505.53" width="1.60" height="1.60" fill="#a8409c"/>
<rect x="493.52" y="504.94" width="1.60" height="1.60" fill="#a8409c"/>
<rect x="497.65" y="505.40" width="1.60" height="1.60" fill="#a8409c"/>
<rect x="502.84" y="509.70" width="1.60" height="1.60" fill="#a8409c"/>
<rect x="500.86" y="509.08" width="1.60" height="1.60" fill="#a8409c"/>
<rect x="502.99" y="509.02" width="1.60" height="1.60" fill="#a8409c"/>
<rect x="493.22" y="487.28" width="1.60" height="1.60" fill="#8a4d1a"/>
<rect x="464.58" y="522.13" width="1.60" height="1.60" fill="#d98656"/>
<rect x="461.92" y="541.66" width="1.60" height="1.60" fill="#4a63b8"/>
<rect x="474.02" y="549.93" width="1.60" height="1.60" fill="#4a63b8"/>
<rect x="602.15" y="465.48" width="1.60" height="1.60" fill="#d2a8d6"/>
<rect x="606.77" y="461.47" width="1.60" height="1.60" fill="#d2a8d6"/>
<rect x="604.74" y="461.60" width="1.60" height="1.60" fill="#d2a8d6"/>
<rect x="607.85" y="470.21" width="1.60" height="1.60" fill="#d2a8d6"/>
<rect x="608.49" y="467.74" width="1.60" height="1.60" fill="#d2a8d6"/>
<rect x="606.10" y="468.50" width="1.60" height="1.60" fill="#d2a8d6"/>
<rect x="603.25" y="470.01" width="1.60" height="1.60" fill="#d2a8d6"/>
<rect x="601.96" y="468.26" width="1.60" height="1.60" fill="#d2a8d6"/>
<rect x="606.84" y="469.70" width="1.60" height="1.60" fill="#d2a8d6"/>
<rect x="604.07" y="477.16" width="1.60" height="1.60" fill="#d2a8d6"/>
<rect x="605.25" y="467.45" width="1.60" height="1.60" fill="#d2a8d6"/>
<rect x="605.50" y="467.67" width="1.60" height="1.60" fill="#d2a8d6"/>
<rect x="604.14" y="468.27" width="1.60" height="1.60" fill="#d2a8d6"/>
<rect x="610.16" y="469.58" width="1.60" height="1.60" fill="#d2a8d6"/>
<rect x="605.54" y="471.86" width="1.60" height="1.60" fill="#d2a8d6"/>
<rect x="610.14" y="468.72" width="1.60" height="1.60" fill="#d2a8d6"/>
<rect x="603.54" y="478.16" width="1.60" height="1.60" fill="#d2a8d6"/>
<rect x="601.45" y="468.21" width="1.60" height="1.60" fill="#d2a8d6"/>
<rect x="606.77" y="477.49" width="1.60" height="1.60" fill="#d2a8d6"/>
<rect x="602.73" y="461.00" width="1.60" height="1.60" fill="#d2a8d6"/>
<rect x="606.75" y="467.67" width="1.60" height="1.60" fill="#d2a8d6"/>
<rect x="604.13" y="471.11" width="1.60" height="1.60" fill="#d2a8d6"/>
<rect x="605.66" y="470.52" width="1.60" height="1.60" fill="#d2a8d6"/>
<rect x="604.02" y="474.01" width="1.60" height="1.60" fill="#d2a8d6"/>
<rect x="608.86" y="469.61" width="1.60" height="1.60" fill="#d2a8d6"/>
<rect x="603.97" y="472.07" width="1.60" height="1.60" fill="#d2a8d6"/>
<rect x="606.29" y="465.86" width="1.60" height="1.60" fill="#d2a8d6"/>
<rect x="603.95" y="473.17" width="1.60" height="1.60" fill="#d2a8d6"/>
<rect x="604.86" y="468.35" width="1.60" height="1.60" fill="#d2a8d6"/>
<rect x="605.63" y="469.38" width="1.60" height="1.60" fill="#d2a8d6"/>
<rect x="605.09" y="462.74" width="1.60" height="1.60" fill="#d2a8d6"/>
<rect x="609.47" y="470.20" width="1.60" height="1.60" fill="#d2a8d6"/>
<rect x="602.91" y="472.93" width="1.60" height="1.60" fill="#d2a8d6"/>
<rect x="605.87" y="469.56" width="1.60" height="1.60" fill="#d2a8d6"/>
<rect x="607.72" y="477.41" width="1.60" height="1.60" fill="#d2a8d6"/>
<rect x="606.48" y="475.05" width="1.60" height="1.60" fill="#d2a8d6"/>
<rect x="610.49" y="465.93" width="1.60" height="1.60" fill="#d2a8d6"/>
<rect x="603.79" y="472.22" width="1.60" height="1.60" fill="#d2a8d6"/>
<rect x="600.83" y="468.56" width="1.60" height="1.60" fill="#d2a8d6"/>
<rect x="608.33" y="473.15" width="1.60" height="1.60" fill="#d2a8d6"/>
<rect x="622.00" y="473.87" width="1.60" height="1.60" fill="#8a4d1a"/>
<rect x="630.85" y="482.43" width="1.60" height="1.60" fill="#8a4d1a"/>
<rect x="622.94" y="482.23" width="1.60" height="1.60" fill="#8a4d1a"/>
<rect x="610.52" y="475.48" width="1.60" height="1.60" fill="#8a4d1a"/>
<rect x="613.02" y="487.21" width="1.60" height="1.60" fill="#8a4d1a"/>
<rect x="614.95" y="479.65" width="1.60" height="1.60" fill="#8a4d1a"/>
<rect x="617.83" y="482.50" width="1.60" height="1.60" fill="#8a4d1a"/>
<rect x="621.60" y="481.44" width="1.60" height="1.60" fill="#8a4d1a"/>
<rect x="612.79" y="469.51" width="1.60" height="1.60" fill="#8a4d1a"/>
<rect x="619.93" y="481.44" width="1.60" height="1.60" fill="#8a4d1a"/>
<rect x="625.25" y="480.14" width="1.60" height="1.60" fill="#8a4d1a"/>
<rect x="616.04" y="481.94" width="1.60" height="1.60" fill="#8a4d1a"/>
<rect x="611.33" y="476.85" width="1.60" height="1.60" fill="#8a4d1a"/>
<rect x="614.07" y="481.51" width="1.60" height="1.60" fill="#8a4d1a"/>
<rect x="629.56" y="483.17" width="1.60" height="1.60" fill="#8a4d1a"/>
<rect x="624.81" y="481.33" width="1.60" height="1.60" fill="#8a4d1a"/>
<rect x="620.50" y="478.93" width="1.60" height="1.60" fill="#8a4d1a"/>
<rect x="617.69" y="472.00" width="1.60" height="1.60" fill="#8a4d1a"/>
<rect x="613.09" y="476.00" width="1.60" height="1.60" fill="#8a4d1a"/>
<rect x="623.29" y="482.82" width="1.60" height="1.60" fill="#8a4d1a"/>
<rect x="624.81" y="485.95" width="1.60" height="1.60" fill="#8a4d1a"/>
<rect x="617.57" y="484.19" width="1.60" height="1.60" fill="#8a4d1a"/>
<rect x="628.88" y="480.47" width="1.60" height="1.60" fill="#8a4d1a"/>
<rect x="624.53" y="479.92" width="1.60" height="1.60" fill="#8a4d1a"/>
<rect x="611.04" y="480.92" width="1.60" height="1.60" fill="#8a4d1a"/>
<rect x="614.99" y="480.88" width="1.60" height="1.60" fill="#8a4d1a"/>
<rect x="616.78" y="481.62" width="1.60" height="1.60" fill="#8a4d1a"/>
<rect x="608.41" y="487.79" width="1.60" height="1.60" fill="#8a4d1a"/>
<rect x="625.90" y="479.27" width="1.60" height="1.60" fill="#8a4d1a"/>
<rect x="614.55" y="480.51" width="1.60" height="1.60" fill="#8a4d1a"/>
<rect x="622.48" y="481.98" width="1.60" height="1.60" fill="#8a4d1a"/>
<rect x="621.11" y="473.61" width="1.60" height="1.60" fill="#8a4d1a"/>
<rect x="613.45" y="485.20" width="1.60" height="1.60" fill="#8a4d1a"/>
<rect x="620.30" y="475.18" width="1.60" height="1.60" fill="#8a4d1a"/>
<rect x="614.76" y="475.43" width="1.60" height="1.60" fill="#8a4d1a"/>
<rect x="614.00" y="484.63" width="1.60" height="1.60" fill="#8a4d1a"/>
<rect x="617.99" y="484.46" width="1.60" height="1.60" fill="#8a4d1a"/>
<rect x="620.05" y="475.18" width="1.60" height="1.60" fill="#8a4d1a"/>
<rect x="615.82" y="488.63" width="1.60" height="1.60" fill="#8a4d1a"/>
<rect x="615.22" y="476.77" width="1.60" height="1.60" fill="#8a4d1a"/>
<rect x="625.38" y="480.82" width="1.60" height="1.60" fill="#8a4d1a"/>
<rect x="619.07" y="485.72" width="1.60" height="1.60" fill="#8a4d1a"/>
<rect x="610.14" y="481.99" width="1.60" height="1.60" fill="#8a4d1a"/>
<rect x="613.73" y="475.50" width="1.60" height="1.60" fill="#8a4d1a"/>
<rect x="614.95" y="484.61" width="1.60" height="1.60" fill="#8a4d1a"/>
<rect x="618.38" y="473.95" width="1.60" height="1.60" fill="#8a4d1a"/>
<rect x="613.44" y="485.95" width="1.60" height="1.60" fill="#8a4d1a"/>
<rect x="624.32" y="476.60" width="1.60" height="1.60" fill="#8a4d1a"/>
<rect x="631.48" y="479.19" width="1.60" height="1.60" fill="#8a4d1a"/>
<rect x="613.00" y="480.01" width="1.60" height="1.60" fill="#8a4d1a"/>
<rect x="623.88" y="486.26" width="1.60" height="1.60" fill="#8a4d1a"/>
<rect x="624.36" y="478.97" width="1.60" height="1.60" fill="#8a4d1a"/>
<rect x="616.23" y="475.29" width="1.60" height="1.60" fill="#8a4d1a"/>
<rect x="618.72" y="478.37" width="1.60" height="1.60" fill="#8a4d1a"/>
<rect x="620.35" y="475.97" width="1.60" height="1.60" fill="#8a4d1a"/>
<rect x="616.46" y="477.35" width="1.60" height="1.60" fill="#8a4d1a"/>
<rect x="612.95" y="476.26" width="1.60" height="1.60" fill="#8a4d1a"/>
<rect x="613.89" y="476.27" width="1.60" height="1.60" fill="#8a4d1a"/>
<rect x="622.01" y="480.86" width="1.60" height="1.60" fill="#8a4d1a"/>
<rect x="612.34" y="482.34" width="1.60" height="1.60" fill="#8a4d1a"/>
<rect x="620.57" y="485.73" width="1.60" height="1.60" fill="#8a4d1a"/>
<rect x="618.10" y="479.75" width="1.60" height="1.60" fill="#8a4d1a"/>
<rect x="615.58" y="480.95" width="1.60" height="1.60" fill="#8a4d1a"/>
<rect x="621.62" y="481.13" width="1.60" height="1.60" fill="#8a4d1a"/>
<rect x="617.80" y="482.52" width="1.60" height="1.60" fill="#8a4d1a"/>
<rect x="619.57" y="481.38" width="1.60" height="1.60" fill="#8a4d1a"/>
<rect x="614.32" y="481.24" width="1.60" height="1.60" fill="#8a4d1a"/>
<rect x="614.00" y="477.48" width="1.60" height="1.60" fill="#8a4d1a"/>
<rect x="619.92" y="488.04" width="1.60" height="1.60" fill="#8a4d1a"/>
<rect x="624.20" y="480.51" width="1.60" height="1.60" fill="#8a4d1a"/>
<rect x="618.18" y="484.04" width="1.60" height="1.60" fill="#8a4d1a"/>
<rect x="626.17" y="484.87" width="1.60" height="1.60" fill="#8a4d1a"/>
<rect x="618.15" y="481.18" width="1.60" height="1.60" fill="#8a4d1a"/>
<rect x="617.41" y="479.48" width="1.60" height="1.60" fill="#8a4d1a"/>
<rect x="614.73" y="479.61" width="1.60" height="1.60" fill="#8a4d1a"/>
<rect x="608.09" y="476.21" width="1.60" height="1.60" fill="#8a4d1a"/>
<rect x="621.28" y="477.18" width="1.60" height="1.60" fill="#8a4d1a"/>
<rect x="621.86" y="475.87" width="1.60" height="1.60" fill="#8a4d1a"/>
<rect x="617.21" y="481.92" width="1.60" height="1.60" fill="#8a4d1a"/>
<rect x="613.79" y="477.94" width="1.60" height="1.60" fill="#8a4d1a"/>
<rect x="631.75" y="478.06" width="1.60" height="1.60" fill="#8a4d1a"/>
<rect x="615.49" y="478.45" width="1.60" height="1.60" fill="#8a4d1a"/>
<rect x="619.27" y="480.41" width="1.60" height="1.60" fill="#8a4d1a"/>
<rect x="624.13" y="483.34" width="1.60" height="1.60" fill="#8a4d1a"/>
<rect x="617.04" y="479.22" width="1.60" height="1.60" fill="#8a4d1a"/>
<rect x="611.86" y="475.14" width="1.60" height="1.60" fill="#8a4d1a"/>
<rect x="615.32" y="483.12" width="1.60" height="1.60" fill="#8a4d1a"/>
<rect x="619.71" y="483.37" width="1.60" height="1.60" fill="#8a4d1a"/>
<rect x="623.91" y="479.91" width="1.60" height="1.60" fill="#8a4d1a"/>
<rect x="629.84" y="478.63" width="1.60" height="1.60" fill="#8a4d1a"/>
<rect x="615.90" y="478.96" width="1.60" height="1.60" fill="#8a4d1a"/>
<rect x="624.91" y="480.01" width="1.60" height="1.60" fill="#8a4d1a"/>
<rect x="615.32" y="482.05" width="1.60" height="1.60" fill="#8a4d1a"/>
<rect x="624.89" y="480.10" width="1.60" height="1.60" fill="#8a4d1a"/>
<rect x="617.81" y="484.38" width="1.60" height="1.60" fill="#8a4d1a"/>
<rect x="624.13" y="483.88" width="1.60" height="1.60" fill="#8a4d1a"/>
<rect x="615.20" y="481.51" width="1.60" height="1.60" fill="#8a4d1a"/>
<rect x="620.95" y="474.08" width="1.60" height="1.60" fill="#8a4d1a"/>
<rect x="625.25" y="480.86" width="1.60" height="1.60" fill="#8a4d1a"/>
<rect x="617.36" y="488.60" width="1.60" height="1.60" fill="#8a4d1a"/>
<rect x="619.85" y="477.92" width="1.60" height="1.60" fill="#8a4d1a"/>
<rect x="618.78" y="482.52" width="1.60" height="1.60" fill="#8a4d1a"/>
<rect x="623.26" y="480.30" width="1.60" height="1.60" fill="#8a4d1a"/>
<rect x="614.68" y="478.01" width="1.60" height="1.60" fill="#8a4d1a"/>
<rect x="614.93" y="476.74" width="1.60" height="1.60" fill="#8a4d1a"/>
<rect x="619.00" y="478.75" width="1.60" height="1.60" fill="#8a4d1a"/>
<rect x="619.38" y="477.55" width="1.60" height="1.60" fill="#8a4d1a"/>
<rect x="614.67" y="479.84" width="1.60" height="1.60" fill="#8a4d1a"/>
<rect x="617.32" y="484.62" width="1.60" height="1.60" fill="#8a4d1a"/>
<rect x="614.49" y="481.24" width="1.60" height="1.60" fill="#8a4d1a"/>
<rect x="618.89" y="475.82" width="1.60" height="1.60" fill="#8a4d1a"/>
<rect x="622.81" y="481.11" width="1.60" height="1.60" fill="#8a4d1a"/>
<rect x="608.39" y="482.65" width="1.60" height="1.60" fill="#8a4d1a"/>
<rect x="623.89" y="477.65" width="1.60" height="1.60" fill="#8a4d1a"/>
<rect x="627.74" y="481.06" width="1.60" height="1.60" fill="#8a4d1a"/>
<rect x="613.22" y="482.51" width="1.60" height="1.60" fill="#8a4d1a"/>
<rect x="617.26" y="475.72" width="1.60" height="1.60" fill="#8a4d1a"/>
<rect x="608.16" y="481.38" width="1.60" height="1.60" fill="#8a4d1a"/>
<rect x="615.35" y="482.80" width="1.60" height="1.60" fill="#8a4d1a"/>
<rect x="621.08" y="478.64" width="1.60" height="1.60" fill="#8a4d1a"/>
<rect x="605.66" y="494.81" width="1.60" height="1.60" fill="#c93a1f"/>
<rect x="615.93" y="491.18" width="1.60" height="1.60" fill="#c93a1f"/>
<rect x="606.47" y="485.00" width="1.60" height="1.60" fill="#c93a1f"/>
<rect x="606.32" y="494.44" width="1.60" height="1.60" fill="#c93a1f"/>
<rect x="610.21" y="487.47" width="1.60" height="1.60" fill="#c93a1f"/>
<rect x="602.47" y="489.10" width="1.60" height="1.60" fill="#c93a1f"/>
<rect x="604.07" y="488.55" width="1.60" height="1.60" fill="#c93a1f"/>
<rect x="611.50" y="492.32" width="1.60" height="1.60" fill="#c93a1f"/>
<rect x="608.74" y="487.28" width="1.60" height="1.60" fill="#c93a1f"/>
<rect x="609.14" y="494.93" width="1.60" height="1.60" fill="#c93a1f"/>
<rect x="609.82" y="483.51" width="1.60" height="1.60" fill="#c93a1f"/>
<rect x="615.21" y="489.40" width="1.60" height="1.60" fill="#c93a1f"/>
<rect x="624.05" y="486.83" width="1.60" height="1.60" fill="#c93a1f"/>
<rect x="607.67" y="487.44" width="1.60" height="1.60" fill="#c93a1f"/>
<rect x="609.83" y="486.44" width="1.60" height="1.60" fill="#c93a1f"/>
<rect x="601.34" y="481.65" width="1.60" height="1.60" fill="#c93a1f"/>
<rect x="607.53" y="486.67" width="1.60" height="1.60" fill="#c93a1f"/>
<rect x="605.44" y="496.05" width="1.60" height="1.60" fill="#c93a1f"/>
<rect x="611.74" y="492.38" width="1.60" height="1.60" fill="#c93a1f"/>
<rect x="605.81" y="489.57" width="1.60" height="1.60" fill="#c93a1f"/>
<rect x="607.13" y="487.77" width="1.60" height="1.60" fill="#c93a1f"/>
<rect x="611.52" y="490.65" width="1.60" height="1.60" fill="#c93a1f"/>
<rect x="609.49" y="489.03" width="1.60" height="1.60" fill="#c93a1f"/>
<rect x="601.50" y="485.87" width="1.60" height="1.60" fill="#c93a1f"/>
<rect x="609.85" y="487.20" width="1.60" height="1.60" fill="#c93a1f"/>
<rect x="604.54" y="489.77" width="1.60" height="1.60" fill="#c93a1f"/>
<rect x="603.88" y="486.11" width="1.60" height="1.60" fill="#c93a1f"/>
<rect x="612.14" y="487.22" width="1.60" height="1.60" fill="#c93a1f"/>
<rect x="614.63" y="490.36" width="1.60" height="1.60" fill="#c93a1f"/>
<rect x="611.80" y="492.52" width="1.60" height="1.60" fill="#c93a1f"/>
<rect x="598.22" y="488.22" width="1.60" height="1.60" fill="#c93a1f"/>
<rect x="602.20" y="486.85" width="1.60" height="1.60" fill="#c93a1f"/>
<rect x="607.63" y="492.92" width="1.60" height="1.60" fill="#c93a1f"/>
<rect x="607.90" y="494.33" width="1.60" height="1.60" fill="#c93a1f"/>
<rect x="605.70" y="488.30" width="1.60" height="1.60" fill="#c93a1f"/>
<rect x="608.52" y="491.86" width="1.60" height="1.60" fill="#c93a1f"/>
<rect x="607.86" y="486.31" width="1.60" height="1.60" fill="#c93a1f"/>
<rect x="606.60" y="483.53" width="1.60" height="1.60" fill="#c93a1f"/>
<rect x="613.85" y="491.15" width="1.60" height="1.60" fill="#c93a1f"/>
<rect x="610.05" y="489.48" width="1.60" height="1.60" fill="#c93a1f"/>
<rect x="605.34" y="487.06" width="1.60" height="1.60" fill="#c93a1f"/>
<rect x="611.79" y="485.70" width="1.60" height="1.60" fill="#c93a1f"/>
<rect x="604.53" y="494.09" width="1.60" height="1.60" fill="#c93a1f"/>
<rect x="615.21" y="489.54" width="1.60" height="1.60" fill="#c93a1f"/>
<rect x="610.53" y="489.16" width="1.60" height="1.60" fill="#c93a1f"/>
<rect x="614.60" y="486.93" width="1.60" height="1.60" fill="#c93a1f"/>
<rect x="608.48" y="490.21" width="1.60" height="1.60" fill="#c93a1f"/>
<rect x="614.66" y="487.62" width="1.60" height="1.60" fill="#c93a1f"/>
<rect x="609.16" y="486.77" width="1.60" height="1.60" fill="#c93a1f"/>
<rect x="605.12" y="486.19" width="1.60" height="1.60" fill="#c93a1f"/>
<rect x="608.48" y="491.64" width="1.60" height="1.60" fill="#c93a1f"/>
<rect x="604.95" y="486.38" width="1.60" height="1.60" fill="#c93a1f"/>
<rect x="606.26" y="489.75" width="1.60" height="1.60" fill="#c93a1f"/>
<rect x="611.27" y="484.09" width="1.60" height="1.60" fill="#c93a1f"/>
<rect x="609.71" y="484.99" width="1.60" height="1.60" fill="#c93a1f"/>
<rect x="611.34" y="485.11" width="1.60" height="1.60" fill="#c93a1f"/>
<rect x="603.19" y="485.99" width="1.60" height="1.60" fill="#c93a1f"/>
<rect x="607.82" y="484.99" width="1.60" height="1.60" fill="#c93a1f"/>
<rect x="609.06" y="489.02" width="1.60" height="1.60" fill="#c93a1f"/>
<rect x="608.48" y="489.45" width="1.60" height="1.60" fill="#c93a1f"/>
<rect x="605.42" y="487.03" width="1.60" height="1.60" fill="#6cc8dc"/>
<rect x="604.10" y="488.44" width="1.60" height="1.60" fill="#6cc8dc"/>
<rect x="601.00" y="489.28" width="1.60" height="1.60" fill="#6cc8dc"/>
<rect x="602.94" y="487.06" width="1.60" height="1.60" fill="#6cc8dc"/>
<rect x="603.43" y="488.70" width="1.60" height="1.60" fill="#6cc8dc"/>
<rect x="604.60" y="489.47" width="1.60" height="1.60" fill="#6cc8dc"/>
<rect x="603.06" y="489.90" width="1.60" height="1.60" fill="#6cc8dc"/>
<rect x="604.73" y="487.72" width="1.60" height="1.60" fill="#6cc8dc"/>
<rect x="604.07" y="490.11" width="1.60" height="1.60" fill="#6cc8dc"/>
<rect x="604.75" y="489.90" width="1.60" height="1.60" fill="#6cc8dc"/>
<rect x="604.26" y="490.78" width="1.60" height="1.60" fill="#6cc8dc"/>
<rect x="607.44" y="489.41" width="1.60" height="1.60" fill="#6cc8dc"/>
<rect x="601.70" y="491.96" width="1.60" height="1.60" fill="#6cc8dc"/>
<rect x="603.24" y="485.73" width="1.60" height="1.60" fill="#6cc8dc"/>
<rect x="600.54" y="489.35" width="1.60" height="1.60" fill="#6cc8dc"/>
<rect x="605.74" y="490.51" width="1.60" height="1.60" fill="#6cc8dc"/>
<rect x="603.53" y="491.40" width="1.60" height="1.60" fill="#6cc8dc"/>
<rect x="603.98" y="487.32" width="1.60" height="1.60" fill="#6cc8dc"/>
<rect x="609.27" y="513.14" width="1.60" height="1.60" fill="#d98656"/>
<rect x="609.22" y="513.70" width="1.60" height="1.60" fill="#d98656"/>
<rect x="603.62" y="517.21" width="1.60" height="1.60" fill="#d98656"/>
<rect x="607.68" y="514.45" width="1.60" height="1.60" fill="#d98656"/>
<rect x="607.10" y="512.99" width="1.60" height="1.60" fill="#d98656"/>
<rect x="608.66" y="507.76" width="1.60" height="1.60" fill="#d98656"/>
<rect x="610.06" y="514.40" width="1.60" height="1.60" fill="#d98656"/>
<rect x="606.31" y="506.21" width="1.60" height="1.60" fill="#d98656"/>
<rect x="607.49" y="509.97" width="1.60" height="1.60" fill="#d98656"/>
<rect x="609.38" y="512.45" width="1.60" height="1.60" fill="#d98656"/>
<rect x="613.13" y="514.45" width="1.60" height="1.60" fill="#d98656"/>
<rect x="608.46" y="512.99" width="1.60" height="1.60" fill="#d98656"/>
<rect x="601.89" y="509.78" width="1.60" height="1.60" fill="#d98656"/>
<rect x="606.80" y="512.17" width="1.60" height="1.60" fill="#d98656"/>
<rect x="609.90" y="513.14" width="1.60" height="1.60" fill="#d98656"/>
<rect x="611.44" y="510.43" width="1.60" height="1.60" fill="#d98656"/>
<rect x="609.86" y="512.11" width="1.60" height="1.60" fill="#d98656"/>
<rect x="609.13" y="513.46" width="1.60" height="1.60" fill="#d98656"/>
<rect x="608.40" y="513.14" width="1.60" height="1.60" fill="#d98656"/>
<rect x="609.01" y="515.57" width="1.60" height="1.60" fill="#d98656"/>
<rect x="608.82" y="513.41" width="1.60" height="1.60" fill="#d98656"/>
<rect x="615.59" y="514.37" width="1.60" height="1.60" fill="#d98656"/>
<rect x="610.38" y="515.73" width="1.60" height="1.60" fill="#d98656"/>
<rect x="606.58" y="514.63" width="1.60" height="1.60" fill="#d98656"/>
<rect x="610.97" y="513.82" width="1.60" height="1.60" fill="#d98656"/>
<rect x="621.99" y="530.42" width="1.60" height="1.60" fill="#d98656"/>
<rect x="622.86" y="523.30" width="1.60" height="1.60" fill="#d98656"/>
<rect x="619.83" y="523.78" width="1.60" height="1.60" fill="#d98656"/>
<rect x="623.05" y="527.18" width="1.60" height="1.60" fill="#d98656"/>
<rect x="612.91" y="527.05" width="1.60" height="1.60" fill="#d98656"/>
<rect x="614.10" y="531.40" width="1.60" height="1.60" fill="#d98656"/>
<rect x="616.75" y="515.58" width="1.60" height="1.60" fill="#d98656"/>
<rect x="616.55" y="531.61" width="1.60" height="1.60" fill="#d98656"/>
<rect x="619.42" y="523.34" width="1.60" height="1.60" fill="#d98656"/>
<rect x="620.68" y="529.37" width="1.60" height="1.60" fill="#d98656"/>
<rect x="623.97" y="531.00" width="1.60" height="1.60" fill="#d98656"/>
<rect x="619.56" y="522.57" width="1.60" height="1.60" fill="#d98656"/>
<rect x="619.23" y="528.01" width="1.60" height="1.60" fill="#d98656"/>
<rect x="618.15" y="528.60" width="1.60" height="1.60" fill="#d98656"/>
<rect x="613.37" y="529.34" width="1.60" height="1.60" fill="#d98656"/>
<rect x="618.14" y="528.28" width="1.60" height="1.60" fill="#d98656"/>
<rect x="617.72" y="525.01" width="1.60" height="1.60" fill="#d98656"/>
<rect x="619.12" y="530.40" width="1.60" height="1.60" fill="#d98656"/>
<rect x="616.82" y="528.12" width="1.60" height="1.60" fill="#d98656"/>
<rect x="615.05" y="528.58" width="1.60" height="1.60" fill="#d98656"/>
<rect x="618.17" y="520.13" width="1.60" height="1.60" fill="#d98656"/>
<rect x="622.73" y="522.07" width="1.60" height="1.60" fill="#d98656"/>
<rect x="618.42" y="519.97" width="1.60" height="1.60" fill="#d98656"/>
<rect x="611.21" y="529.77" width="1.60" height="1.60" fill="#d98656"/>
<rect x="612.53" y="516.19" width="1.60" height="1.60" fill="#d98656"/>
<rect x="617.24" y="518.80" width="1.60" height="1.60" fill="#d98656"/>
<rect x="617.29" y="535.59" width="1.60" height="1.60" fill="#d98656"/>
<rect x="616.54" y="528.28" width="1.60" height="1.60" fill="#d98656"/>
<rect x="620.33" y="527.73" width="1.60" height="1.60" fill="#d98656"/>
<rect x="617.63" y="533.98" width="1.60" height="1.60" fill="#d98656"/>
<rect x="617.78" y="528.27" width="1.60" height="1.60" fill="#d98656"/>
<rect x="618.54" y="520.14" width="1.60" height="1.60" fill="#d98656"/>
<rect x="619.37" y="526.78" width="1.60" height="1.60" fill="#d98656"/>
<rect x="620.67" y="529.93" width="1.60" height="1.60" fill="#d98656"/>
<rect x="624.32" y="517.08" width="1.60" height="1.60" fill="#d98656"/>
<rect x="622.34" y="517.09" width="1.60" height="1.60" fill="#a8409c"/>
<rect x="620.82" y="519.73" width="1.60" height="1.60" fill="#a8409c"/>
<rect x="624.72" y="518.92" width="1.60" height="1.60" fill="#a8409c"/>
<rect x="617.02" y="515.66" width="1.60" height="1.60" fill="#a8409c"/>
<rect x="624.78" y="517.17" width="1.60" height="1.60" fill="#a8409c"/>
<rect x="593.62" y="523.27" width="1.60" height="1.60" fill="#4a63b8"/>
<rect x="606.02" y="544.78" width="1.60" height="1.60" fill="#4a63b8"/>
<rect x="616.40" y="531.82" width="1.60" height="1.60" fill="#8ad88a"/>
<rect x="614.39" y="536.86" width="1.60" height="1.60" fill="#8ad88a"/>
<rect x="615.01" y="532.24" width="1.60" height="1.60" fill="#8ad88a"/>
<path d="M71.90,459.90 C72.62,459.32 74.08,462.28 75.40,463.80 C76.72,465.32 78.18,467.98 79.80,469.00 C81.42,470.02 83.35,470.05 85.10,469.90 C86.85,469.75 88.27,467.95 90.30,468.10 C92.33,468.25 95.68,469.18 97.30,470.80 C98.92,472.42 99.40,475.18 100.00,477.80 C100.60,480.42 99.58,484.75 100.90,486.50 C102.22,488.25 105.28,487.72 107.90,488.30 C110.52,488.88 114.27,488.25 116.60,490.00 C118.93,491.75 120.58,495.87 121.90,498.80 C123.22,501.73 124.80,505.27 124.50,507.60 C124.20,509.93 122.00,511.35 120.10,512.80 C118.20,514.25 115.43,515.13 113.10,516.30 C110.77,517.47 108.43,519.07 106.10,519.80 C103.77,520.53 100.57,519.53 99.10,520.70 C97.63,521.87 98.17,524.90 97.30,526.80 C96.43,528.70 94.33,529.77 93.90,532.10 C93.47,534.43 94.85,538.17 94.70,540.80 C94.55,543.43 94.02,546.28 93.00,547.90 C91.98,549.52 89.92,550.65 88.60,550.50 C87.28,550.35 85.83,548.62 85.10,547.00 C84.37,545.38 84.65,542.42 84.20,540.80 C83.75,539.18 82.98,538.75 82.40,537.30 C81.82,535.85 81.57,534.13 80.70,532.10 C79.83,530.07 78.37,527.73 77.20,525.10 C76.03,522.47 74.72,519.80 73.70,516.30 C72.68,512.80 71.68,508.48 71.10,504.10 C70.52,499.72 70.27,494.68 70.20,490.00 C70.13,485.32 70.55,479.78 70.70,476.00 C70.85,472.22 70.90,469.98 71.10,467.30 C71.30,464.62 71.18,460.48 71.90,459.90Z" stroke="#eeb45e" stroke-dasharray="2.2 1.6" fill="none" stroke-width="0.85"/>
<path d="M46.50,522.50 C45.77,521.05 42.12,521.60 39.50,521.60 C36.88,521.60 33.42,521.92 30.80,522.50 C28.18,523.08 25.12,523.50 23.80,525.10 C22.48,526.70 22.62,529.48 22.90,532.10 C23.18,534.72 24.18,538.17 25.50,540.80 C26.82,543.43 29.20,546.28 30.80,547.90 C32.40,549.52 33.93,550.80 35.10,550.50 C36.27,550.20 37.07,548.00 37.80,546.10 C38.53,544.20 38.48,541.73 39.50,539.10 C40.52,536.47 42.73,533.07 43.90,530.30 C45.07,527.53 47.23,523.95 46.50,522.50Z" stroke="#eeb45e" stroke-dasharray="2.2 1.6" fill="none" stroke-width="0.85"/>
<path d="M71.10,467.30 C70.87,465.85 70.18,467.17 69.30,467.30 C68.42,467.43 67.25,466.93 65.80,468.10 C64.35,469.27 62.35,471.82 60.60,474.30 C58.85,476.78 57.07,480.08 55.30,483.00 C53.53,485.92 51.32,489.17 50.00,491.80 C48.68,494.43 47.98,496.17 47.40,498.80 C46.82,501.43 46.78,504.68 46.50,507.60 C46.22,510.52 45.70,513.82 45.70,516.30 C45.70,518.78 46.80,520.17 46.50,522.50 C46.20,524.83 45.07,527.53 43.90,530.30 C42.73,533.07 40.82,535.88 39.50,539.10 C38.18,542.32 36.73,546.10 36.00,549.60 C35.27,553.10 34.65,557.18 35.10,560.10 C35.55,563.02 36.93,565.28 38.70,567.10 C40.47,568.92 43.23,570.70 45.70,571.00 C48.17,571.30 50.43,570.27 53.50,568.90 C56.57,567.53 60.58,564.85 64.10,562.80 C67.62,560.75 71.68,558.35 74.60,556.60 C77.52,554.85 80.15,554.35 81.60,552.30 C83.05,550.25 83.17,546.80 83.30,544.30 C83.43,541.80 82.83,539.33 82.40,537.30 C81.97,535.27 81.57,534.13 80.70,532.10 C79.83,530.07 78.37,527.73 77.20,525.10 C76.03,522.47 74.72,519.80 73.70,516.30 C72.68,512.80 71.68,508.48 71.10,504.10 C70.52,499.72 70.27,494.68 70.20,490.00 C70.13,485.32 70.55,479.78 70.70,476.00 C70.85,472.22 71.33,468.75 71.10,467.30Z" stroke="#5cc3dd" stroke-dasharray="2.2 1.6" fill="none" stroke-width="0.85"/>
<path d="M213.50,459.90 C214.22,459.32 215.68,462.28 217.00,463.80 C218.32,465.32 219.78,467.98 221.40,469.00 C223.02,470.02 224.95,470.05 226.70,469.90 C228.45,469.75 229.87,467.95 231.90,468.10 C233.93,468.25 237.28,469.18 238.90,470.80 C240.52,472.42 241.00,475.18 241.60,477.80 C242.20,480.42 241.18,484.75 242.50,486.50 C243.82,488.25 246.88,487.72 249.50,488.30 C252.12,488.88 255.87,488.25 258.20,490.00 C260.53,491.75 262.18,495.87 263.50,498.80 C264.82,501.73 266.40,505.27 266.10,507.60 C265.80,509.93 263.60,511.35 261.70,512.80 C259.80,514.25 257.03,515.13 254.70,516.30 C252.37,517.47 250.03,519.07 247.70,519.80 C245.37,520.53 242.17,519.53 240.70,520.70 C239.23,521.87 239.77,524.90 238.90,526.80 C238.03,528.70 235.93,529.77 235.50,532.10 C235.07,534.43 236.45,538.17 236.30,540.80 C236.15,543.43 235.62,546.28 234.60,547.90 C233.58,549.52 231.52,550.65 230.20,550.50 C228.88,550.35 227.43,548.62 226.70,547.00 C225.97,545.38 226.25,542.42 225.80,540.80 C225.35,539.18 224.58,538.75 224.00,537.30 C223.42,535.85 223.17,534.13 222.30,532.10 C221.43,530.07 219.97,527.73 218.80,525.10 C217.63,522.47 216.32,519.80 215.30,516.30 C214.28,512.80 213.28,508.48 212.70,504.10 C212.12,499.72 211.87,494.68 211.80,490.00 C211.73,485.32 212.15,479.78 212.30,476.00 C212.45,472.22 212.50,469.98 212.70,467.30 C212.90,464.62 212.78,460.48 213.50,459.90Z" stroke="#eeb45e" stroke-dasharray="2.2 1.6" fill="none" stroke-width="0.85"/>
<path d="M188.10,522.50 C187.37,521.05 183.72,521.60 181.10,521.60 C178.48,521.60 175.02,521.92 172.40,522.50 C169.78,523.08 166.72,523.50 165.40,525.10 C164.08,526.70 164.22,529.48 164.50,532.10 C164.78,534.72 165.78,538.17 167.10,540.80 C168.42,543.43 170.80,546.28 172.40,547.90 C174.00,549.52 175.53,550.80 176.70,550.50 C177.87,550.20 178.67,548.00 179.40,546.10 C180.13,544.20 180.08,541.73 181.10,539.10 C182.12,536.47 184.33,533.07 185.50,530.30 C186.67,527.53 188.83,523.95 188.10,522.50Z" stroke="#eeb45e" stroke-dasharray="2.2 1.6" fill="none" stroke-width="0.85"/>
<path d="M212.70,467.30 C212.47,465.85 211.78,467.17 210.90,467.30 C210.02,467.43 208.85,466.93 207.40,468.10 C205.95,469.27 203.95,471.82 202.20,474.30 C200.45,476.78 198.67,480.08 196.90,483.00 C195.13,485.92 192.92,489.17 191.60,491.80 C190.28,494.43 189.58,496.17 189.00,498.80 C188.42,501.43 188.38,504.68 188.10,507.60 C187.82,510.52 187.30,513.82 187.30,516.30 C187.30,518.78 188.40,520.17 188.10,522.50 C187.80,524.83 186.67,527.53 185.50,530.30 C184.33,533.07 182.42,535.88 181.10,539.10 C179.78,542.32 178.33,546.10 177.60,549.60 C176.87,553.10 176.25,557.18 176.70,560.10 C177.15,563.02 178.53,565.28 180.30,567.10 C182.07,568.92 184.83,570.70 187.30,571.00 C189.77,571.30 192.03,570.27 195.10,568.90 C198.17,567.53 202.18,564.85 205.70,562.80 C209.22,560.75 213.28,558.35 216.20,556.60 C219.12,554.85 221.75,554.35 223.20,552.30 C224.65,550.25 224.77,546.80 224.90,544.30 C225.03,541.80 224.43,539.33 224.00,537.30 C223.57,535.27 223.17,534.13 222.30,532.10 C221.43,530.07 219.97,527.73 218.80,525.10 C217.63,522.47 216.32,519.80 215.30,516.30 C214.28,512.80 213.28,508.48 212.70,504.10 C212.12,499.72 211.87,494.68 211.80,490.00 C211.73,485.32 212.15,479.78 212.30,476.00 C212.45,472.22 212.93,468.75 212.70,467.30Z" stroke="#5cc3dd" stroke-dasharray="2.2 1.6" fill="none" stroke-width="0.85"/>
<path d="M343.70,459.90 C344.42,459.32 345.88,462.28 347.20,463.80 C348.52,465.32 349.98,467.98 351.60,469.00 C353.22,470.02 355.15,470.05 356.90,469.90 C358.65,469.75 360.07,467.95 362.10,468.10 C364.13,468.25 367.48,469.18 369.10,470.80 C370.72,472.42 371.20,475.18 371.80,477.80 C372.40,480.42 371.38,484.75 372.70,486.50 C374.02,488.25 377.08,487.72 379.70,488.30 C382.32,488.88 386.07,488.25 388.40,490.00 C390.73,491.75 392.38,495.87 393.70,498.80 C395.02,501.73 396.60,505.27 396.30,507.60 C396.00,509.93 393.80,511.35 391.90,512.80 C390.00,514.25 387.23,515.13 384.90,516.30 C382.57,517.47 380.23,519.07 377.90,519.80 C375.57,520.53 372.37,519.53 370.90,520.70 C369.43,521.87 369.97,524.90 369.10,526.80 C368.23,528.70 366.13,529.77 365.70,532.10 C365.27,534.43 366.65,538.17 366.50,540.80 C366.35,543.43 365.82,546.28 364.80,547.90 C363.78,549.52 361.72,550.65 360.40,550.50 C359.08,550.35 357.63,548.62 356.90,547.00 C356.17,545.38 356.45,542.42 356.00,540.80 C355.55,539.18 354.78,538.75 354.20,537.30 C353.62,535.85 353.37,534.13 352.50,532.10 C351.63,530.07 350.17,527.73 349.00,525.10 C347.83,522.47 346.52,519.80 345.50,516.30 C344.48,512.80 343.48,508.48 342.90,504.10 C342.32,499.72 342.07,494.68 342.00,490.00 C341.93,485.32 342.35,479.78 342.50,476.00 C342.65,472.22 342.70,469.98 342.90,467.30 C343.10,464.62 342.98,460.48 343.70,459.90Z" stroke="#eeb45e" stroke-dasharray="2.2 1.6" fill="none" stroke-width="0.85"/>
<path d="M318.30,522.50 C317.57,521.05 313.92,521.60 311.30,521.60 C308.68,521.60 305.22,521.92 302.60,522.50 C299.98,523.08 296.92,523.50 295.60,525.10 C294.28,526.70 294.42,529.48 294.70,532.10 C294.98,534.72 295.98,538.17 297.30,540.80 C298.62,543.43 301.00,546.28 302.60,547.90 C304.20,549.52 305.73,550.80 306.90,550.50 C308.07,550.20 308.87,548.00 309.60,546.10 C310.33,544.20 310.28,541.73 311.30,539.10 C312.32,536.47 314.53,533.07 315.70,530.30 C316.87,527.53 319.03,523.95 318.30,522.50Z" stroke="#eeb45e" stroke-dasharray="2.2 1.6" fill="none" stroke-width="0.85"/>
<path d="M342.90,467.30 C342.67,465.85 341.98,467.17 341.10,467.30 C340.22,467.43 339.05,466.93 337.60,468.10 C336.15,469.27 334.15,471.82 332.40,474.30 C330.65,476.78 328.87,480.08 327.10,483.00 C325.33,485.92 323.12,489.17 321.80,491.80 C320.48,494.43 319.78,496.17 319.20,498.80 C318.62,501.43 318.58,504.68 318.30,507.60 C318.02,510.52 317.50,513.82 317.50,516.30 C317.50,518.78 318.60,520.17 318.30,522.50 C318.00,524.83 316.87,527.53 315.70,530.30 C314.53,533.07 312.62,535.88 311.30,539.10 C309.98,542.32 308.53,546.10 307.80,549.60 C307.07,553.10 306.45,557.18 306.90,560.10 C307.35,563.02 308.73,565.28 310.50,567.10 C312.27,568.92 315.03,570.70 317.50,571.00 C319.97,571.30 322.23,570.27 325.30,568.90 C328.37,567.53 332.38,564.85 335.90,562.80 C339.42,560.75 343.48,558.35 346.40,556.60 C349.32,554.85 351.95,554.35 353.40,552.30 C354.85,550.25 354.97,546.80 355.10,544.30 C355.23,541.80 354.63,539.33 354.20,537.30 C353.77,535.27 353.37,534.13 352.50,532.10 C351.63,530.07 350.17,527.73 349.00,525.10 C347.83,522.47 346.52,519.80 345.50,516.30 C344.48,512.80 343.48,508.48 342.90,504.10 C342.32,499.72 342.07,494.68 342.00,490.00 C341.93,485.32 342.35,479.78 342.50,476.00 C342.65,472.22 343.13,468.75 342.90,467.30Z" stroke="#5cc3dd" stroke-dasharray="2.2 1.6" fill="none" stroke-width="0.85"/>
<path d="M473.50,459.90 C474.22,459.32 475.68,462.28 477.00,463.80 C478.32,465.32 479.78,467.98 481.40,469.00 C483.02,470.02 484.95,470.05 486.70,469.90 C488.45,469.75 489.87,467.95 491.90,468.10 C493.93,468.25 497.28,469.18 498.90,470.80 C500.52,472.42 501.00,475.18 501.60,477.80 C502.20,480.42 501.18,484.75 502.50,486.50 C503.82,488.25 506.88,487.72 509.50,488.30 C512.12,488.88 515.87,488.25 518.20,490.00 C520.53,491.75 522.18,495.87 523.50,498.80 C524.82,501.73 526.40,505.27 526.10,507.60 C525.80,509.93 523.60,511.35 521.70,512.80 C519.80,514.25 517.03,515.13 514.70,516.30 C512.37,517.47 510.03,519.07 507.70,519.80 C505.37,520.53 502.17,519.53 500.70,520.70 C499.23,521.87 499.77,524.90 498.90,526.80 C498.03,528.70 495.93,529.77 495.50,532.10 C495.07,534.43 496.45,538.17 496.30,540.80 C496.15,543.43 495.62,546.28 494.60,547.90 C493.58,549.52 491.52,550.65 490.20,550.50 C488.88,550.35 487.43,548.62 486.70,547.00 C485.97,545.38 486.25,542.42 485.80,540.80 C485.35,539.18 484.58,538.75 484.00,537.30 C483.42,535.85 483.17,534.13 482.30,532.10 C481.43,530.07 479.97,527.73 478.80,525.10 C477.63,522.47 476.32,519.80 475.30,516.30 C474.28,512.80 473.28,508.48 472.70,504.10 C472.12,499.72 471.87,494.68 471.80,490.00 C471.73,485.32 472.15,479.78 472.30,476.00 C472.45,472.22 472.50,469.98 472.70,467.30 C472.90,464.62 472.78,460.48 473.50,459.90Z" stroke="#eeb45e" stroke-dasharray="2.2 1.6" fill="none" stroke-width="0.85"/>
<path d="M448.10,522.50 C447.37,521.05 443.72,521.60 441.10,521.60 C438.48,521.60 435.02,521.92 432.40,522.50 C429.78,523.08 426.72,523.50 425.40,525.10 C424.08,526.70 424.22,529.48 424.50,532.10 C424.78,534.72 425.78,538.17 427.10,540.80 C428.42,543.43 430.80,546.28 432.40,547.90 C434.00,549.52 435.53,550.80 436.70,550.50 C437.87,550.20 438.67,548.00 439.40,546.10 C440.13,544.20 440.08,541.73 441.10,539.10 C442.12,536.47 444.33,533.07 445.50,530.30 C446.67,527.53 448.83,523.95 448.10,522.50Z" stroke="#eeb45e" stroke-dasharray="2.2 1.6" fill="none" stroke-width="0.85"/>
<path d="M472.70,467.30 C472.47,465.85 471.78,467.17 470.90,467.30 C470.02,467.43 468.85,466.93 467.40,468.10 C465.95,469.27 463.95,471.82 462.20,474.30 C460.45,476.78 458.67,480.08 456.90,483.00 C455.13,485.92 452.92,489.17 451.60,491.80 C450.28,494.43 449.58,496.17 449.00,498.80 C448.42,501.43 448.38,504.68 448.10,507.60 C447.82,510.52 447.30,513.82 447.30,516.30 C447.30,518.78 448.40,520.17 448.10,522.50 C447.80,524.83 446.67,527.53 445.50,530.30 C444.33,533.07 442.42,535.88 441.10,539.10 C439.78,542.32 438.33,546.10 437.60,549.60 C436.87,553.10 436.25,557.18 436.70,560.10 C437.15,563.02 438.53,565.28 440.30,567.10 C442.07,568.92 444.83,570.70 447.30,571.00 C449.77,571.30 452.03,570.27 455.10,568.90 C458.17,567.53 462.18,564.85 465.70,562.80 C469.22,560.75 473.28,558.35 476.20,556.60 C479.12,554.85 481.75,554.35 483.20,552.30 C484.65,550.25 484.77,546.80 484.90,544.30 C485.03,541.80 484.43,539.33 484.00,537.30 C483.57,535.27 483.17,534.13 482.30,532.10 C481.43,530.07 479.97,527.73 478.80,525.10 C477.63,522.47 476.32,519.80 475.30,516.30 C474.28,512.80 473.28,508.48 472.70,504.10 C472.12,499.72 471.87,494.68 471.80,490.00 C471.73,485.32 472.15,479.78 472.30,476.00 C472.45,472.22 472.93,468.75 472.70,467.30Z" stroke="#5cc3dd" stroke-dasharray="2.2 1.6" fill="none" stroke-width="0.85"/>
<path d="M604.90,459.90 C605.62,459.32 607.08,462.28 608.40,463.80 C609.72,465.32 611.18,467.98 612.80,469.00 C614.42,470.02 616.35,470.05 618.10,469.90 C619.85,469.75 621.27,467.95 623.30,468.10 C625.33,468.25 628.68,469.18 630.30,470.80 C631.92,472.42 632.40,475.18 633.00,477.80 C633.60,480.42 632.58,484.75 633.90,486.50 C635.22,488.25 638.28,487.72 640.90,488.30 C643.52,488.88 647.27,488.25 649.60,490.00 C651.93,491.75 653.58,495.87 654.90,498.80 C656.22,501.73 657.80,505.27 657.50,507.60 C657.20,509.93 655.00,511.35 653.10,512.80 C651.20,514.25 648.43,515.13 646.10,516.30 C643.77,517.47 641.43,519.07 639.10,519.80 C636.77,520.53 633.57,519.53 632.10,520.70 C630.63,521.87 631.17,524.90 630.30,526.80 C629.43,528.70 627.33,529.77 626.90,532.10 C626.47,534.43 627.85,538.17 627.70,540.80 C627.55,543.43 627.02,546.28 626.00,547.90 C624.98,549.52 622.92,550.65 621.60,550.50 C620.28,550.35 618.83,548.62 618.10,547.00 C617.37,545.38 617.65,542.42 617.20,540.80 C616.75,539.18 615.98,538.75 615.40,537.30 C614.82,535.85 614.57,534.13 613.70,532.10 C612.83,530.07 611.37,527.73 610.20,525.10 C609.03,522.47 607.72,519.80 606.70,516.30 C605.68,512.80 604.68,508.48 604.10,504.10 C603.52,499.72 603.27,494.68 603.20,490.00 C603.13,485.32 603.55,479.78 603.70,476.00 C603.85,472.22 603.90,469.98 604.10,467.30 C604.30,464.62 604.18,460.48 604.90,459.90Z" stroke="#eeb45e" stroke-dasharray="2.2 1.6" fill="none" stroke-width="0.85"/>
<path d="M579.50,522.50 C578.77,521.05 575.12,521.60 572.50,521.60 C569.88,521.60 566.42,521.92 563.80,522.50 C561.18,523.08 558.12,523.50 556.80,525.10 C555.48,526.70 555.62,529.48 555.90,532.10 C556.18,534.72 557.18,538.17 558.50,540.80 C559.82,543.43 562.20,546.28 563.80,547.90 C565.40,549.52 566.93,550.80 568.10,550.50 C569.27,550.20 570.07,548.00 570.80,546.10 C571.53,544.20 571.48,541.73 572.50,539.10 C573.52,536.47 575.73,533.07 576.90,530.30 C578.07,527.53 580.23,523.95 579.50,522.50Z" stroke="#eeb45e" stroke-dasharray="2.2 1.6" fill="none" stroke-width="0.85"/>
<path d="M604.10,467.30 C603.87,465.85 603.18,467.17 602.30,467.30 C601.42,467.43 600.25,466.93 598.80,468.10 C597.35,469.27 595.35,471.82 593.60,474.30 C591.85,476.78 590.07,480.08 588.30,483.00 C586.53,485.92 584.32,489.17 583.00,491.80 C581.68,494.43 580.98,496.17 580.40,498.80 C579.82,501.43 579.78,504.68 579.50,507.60 C579.22,510.52 578.70,513.82 578.70,516.30 C578.70,518.78 579.80,520.17 579.50,522.50 C579.20,524.83 578.07,527.53 576.90,530.30 C575.73,533.07 573.82,535.88 572.50,539.10 C571.18,542.32 569.73,546.10 569.00,549.60 C568.27,553.10 567.65,557.18 568.10,560.10 C568.55,563.02 569.93,565.28 571.70,567.10 C573.47,568.92 576.23,570.70 578.70,571.00 C581.17,571.30 583.43,570.27 586.50,568.90 C589.57,567.53 593.58,564.85 597.10,562.80 C600.62,560.75 604.68,558.35 607.60,556.60 C610.52,554.85 613.15,554.35 614.60,552.30 C616.05,550.25 616.17,546.80 616.30,544.30 C616.43,541.80 615.83,539.33 615.40,537.30 C614.97,535.27 614.57,534.13 613.70,532.10 C612.83,530.07 611.37,527.73 610.20,525.10 C609.03,522.47 607.72,519.80 606.70,516.30 C605.68,512.80 604.68,508.48 604.10,504.10 C603.52,499.72 603.27,494.68 603.20,490.00 C603.13,485.32 603.55,479.78 603.70,476.00 C603.85,472.22 604.33,468.75 604.10,467.30Z" stroke="#5cc3dd" stroke-dasharray="2.2 1.6" fill="none" stroke-width="0.85"/>
<path d="M9,468 H19.2" stroke="#eeb45e" stroke-dasharray="3.0 4.2" stroke-width="0.9"/>
<text x="21.80" y="470.40" font-size="7.2" fill="#231f20" stroke="#231f20" stroke-width="0.22">CD8<tspan dy="-2.9" font-size="4.0">+</tspan><tspan dy="2.9">​</tspan></text>
<path d="M9,480 H19.2" stroke="#5cc3dd" stroke-dasharray="3.0 4.2" stroke-width="0.9"/>
<text x="21.80" y="482.40" font-size="7.2" fill="#231f20" stroke="#231f20" stroke-width="0.22">CD4<tspan dy="-2.9" font-size="4.0">+</tspan><tspan dy="2.9">​</tspan></text>
<line x1="10.60" y1="554.30" x2="10.60" y2="578.20" stroke="#555" stroke-width="0.6"/>
<line x1="10.60" y1="578.20" x2="32.50" y2="578.20" stroke="#555" stroke-width="0.6"/>
<path d="M34,578.2 L31,576.9 L31,579.5Z" fill="#555"/>
<text x="7.00" y="566.60" font-size="7.2" text-anchor="middle" fill="#231f20" stroke="#231f20" stroke-width="0.22" transform="rotate(-90 7.00 566.60)">UMAP2</text>
<text x="11.20" y="587.10" font-size="7.2" fill="#231f20" stroke="#231f20" stroke-width="0.22">UMAP1</text>
<path d="M59.40,610.80 L76.79,610.19 A17.4,17.4 0 1 0 42.10,612.62 Z" fill="#ee9462"/>
<path d="M59.40,610.80 L42.10,612.62 A17.4,17.4 0 0 0 71.27,623.53 Z" fill="#de3c1e"/>
<path d="M59.40,610.80 L71.27,623.53 A17.4,17.4 0 0 0 76.04,615.89 Z" fill="#c04aa8"/>
<path d="M59.40,610.80 L76.04,615.89 A17.4,17.4 0 0 0 76.48,614.12 Z" fill="#f0c4e4"/>
<path d="M59.40,610.80 L76.48,614.12 A17.4,17.4 0 0 0 76.79,610.19 Z" fill="#94541c"/>
<path d="M214.30,610.40 L231.69,609.79 A17.4,17.4 0 1 0 208.41,626.77 Z" fill="#c04aa8"/>
<path d="M214.30,610.40 L208.41,626.77 A17.4,17.4 0 0 0 229.80,618.30 Z" fill="#ee9462"/>
<path d="M214.30,610.40 L229.80,618.30 A17.4,17.4 0 0 0 231.66,611.61 Z" fill="#de3c1e"/>
<path d="M214.30,610.40 L231.66,611.61 A17.4,17.4 0 0 0 231.69,609.79 Z" fill="#e8c4dc"/>
<path d="M341.50,610.80 L358.90,610.80 A17.4,17.4 0 1 0 351.31,625.17 Z" fill="#c04aa8"/>
<path d="M341.50,610.80 L351.31,625.17 A17.4,17.4 0 0 0 357.69,617.18 Z" fill="#ee9462"/>
<path d="M341.50,610.80 L357.69,617.18 A17.4,17.4 0 0 0 358.80,612.62 Z" fill="#de3c1e"/>
<path d="M341.50,610.80 L358.80,612.62 A17.4,17.4 0 0 0 358.90,610.80 Z" fill="#c8c8c8"/>
<path d="M453.60,610.80 L470.99,611.41 A17.4,17.4 0 0 0 441.08,598.71 Z" fill="#ee9462"/>
<path d="M453.60,610.80 L441.08,598.71 A17.4,17.4 0 0 0 465.24,623.73 Z" fill="#de3c1e"/>
<path d="M453.60,610.80 L465.24,623.73 A17.4,17.4 0 0 0 469.73,617.32 Z" fill="#c04aa8"/>
<path d="M453.60,610.80 L469.73,617.32 A17.4,17.4 0 0 0 470.74,613.82 Z" fill="#5a78cc"/>
<path d="M453.60,610.80 L470.74,613.82 A17.4,17.4 0 0 0 470.96,612.01 Z" fill="#94541c"/>
<path d="M453.60,610.80 L470.96,612.01 A17.4,17.4 0 0 0 470.99,611.41 Z" fill="#e8c4dc"/>
<path d="M598.10,610.80 L615.48,611.71 A17.4,17.4 0 0 0 598.10,593.40 Z" fill="#de3c1e"/>
<path d="M598.10,610.80 L598.10,593.40 A17.4,17.4 0 0 0 598.10,628.20 Z" fill="#94541c"/>
<path d="M598.10,610.80 L598.10,628.20 A17.4,17.4 0 0 0 610.40,623.10 Z" fill="#ee9462"/>
<path d="M598.10,610.80 L610.40,623.10 A17.4,17.4 0 0 0 613.74,618.43 Z" fill="#8ad8ea"/>
<path d="M598.10,610.80 L613.74,618.43 A17.4,17.4 0 0 0 615.29,613.52 Z" fill="#f0b4e4"/>
<path d="M598.10,610.80 L615.29,613.52 A17.4,17.4 0 0 0 615.40,612.62 Z" fill="#9060c0"/>
<path d="M598.10,610.80 L615.40,612.62 A17.4,17.4 0 0 0 615.48,611.71 Z" fill="#e0a0d0"/>
<text x="59.30" y="579.90" font-size="7.2" fill="#231f20" stroke="#231f20" stroke-width="0.22">CD8<tspan dy="-2.9" font-size="4.0">+</tspan><tspan dy="2.9">​</tspan> Tm</text>
<text x="59.30" y="588.60" font-size="7.2" fill="#231f20" stroke="#231f20" stroke-width="0.22">(52.14%)</text>
<line x1="62.30" y1="593.50" x2="63.40" y2="591.00" stroke="#555" stroke-width="0.4"/>
<text x="16.40" y="632.50" font-size="7.2" fill="#231f20" stroke="#231f20" stroke-width="0.22">CD8<tspan dy="-2.9" font-size="4.0">+</tspan><tspan dy="2.9">​</tspan> Tex</text>
<text x="16.40" y="641.20" font-size="7.2" fill="#231f20" stroke="#231f20" stroke-width="0.22">(35.45%)</text>
<line x1="48.00" y1="629.90" x2="53.00" y2="628.30" stroke="#555" stroke-width="0.4"/>
<text x="178.20" y="581.80" font-size="7.2" fill="#231f20" stroke="#231f20" stroke-width="0.22">CD8<tspan dy="-2.9" font-size="4.0">+</tspan><tspan dy="2.9">​</tspan> Temra</text>
<text x="178.20" y="590.50" font-size="7.2" fill="#231f20" stroke="#231f20" stroke-width="0.22">(69.0%)</text>
<line x1="203.30" y1="591.80" x2="205.60" y2="594.00" stroke="#555" stroke-width="0.4"/>
<text x="218.70" y="636.30" font-size="7.2" fill="#231f20" stroke="#231f20" stroke-width="0.22">CD8<tspan dy="-2.9" font-size="4.0">+</tspan><tspan dy="2.9">​</tspan> Tm</text>
<text x="218.70" y="645.00" font-size="7.2" fill="#231f20" stroke="#231f20" stroke-width="0.22">(23.0%)</text>
<text x="289.60" y="589.90" font-size="7.2" fill="#231f20" stroke="#231f20" stroke-width="0.22">CD8<tspan dy="-2.9" font-size="4.0">+</tspan><tspan dy="2.9">​</tspan> Temra</text>
<text x="289.60" y="598.60" font-size="7.2" fill="#231f20" stroke="#231f20" stroke-width="0.22">(85.04%)</text>
<line x1="325.00" y1="600.00" x2="327.00" y2="600.80" stroke="#555" stroke-width="0.4"/>
<text x="458.70" y="581.80" font-size="7.2" fill="#231f20" stroke="#231f20" stroke-width="0.22">CD8<tspan dy="-2.9" font-size="4.0">+</tspan><tspan dy="2.9">​</tspan> Tm</text>
<text x="458.70" y="590.50" font-size="7.2" fill="#231f20" stroke="#231f20" stroke-width="0.22">(37.78%)</text>
<line x1="458.70" y1="592.50" x2="457.60" y2="594.50" stroke="#555" stroke-width="0.4"/>
<text x="408.80" y="631.50" font-size="7.2" fill="#231f20" stroke="#231f20" stroke-width="0.22">CD8<tspan dy="-2.9" font-size="4.0">+</tspan><tspan dy="2.9">​</tspan> Tex</text>
<text x="408.80" y="640.20" font-size="7.2" fill="#231f20" stroke="#231f20" stroke-width="0.22">(48.89%)</text>
<line x1="443.00" y1="628.90" x2="447.00" y2="627.50" stroke="#555" stroke-width="0.4"/>
<text x="613.40" y="586.10" font-size="7.2" fill="#231f20" stroke="#231f20" stroke-width="0.22">CD8<tspan dy="-2.9" font-size="4.0">+</tspan><tspan dy="2.9">​</tspan> Tex</text>
<text x="613.40" y="594.80" font-size="7.2" fill="#231f20" stroke="#231f20" stroke-width="0.22">(24.26%)</text>
<line x1="613.00" y1="595.00" x2="609.50" y2="598.50" stroke="#555" stroke-width="0.4"/>
<text x="544.90" y="631.50" font-size="7.2" fill="#231f20" stroke="#231f20" stroke-width="0.22">CD8<tspan dy="-2.9" font-size="4.0">+</tspan><tspan dy="2.9">​</tspan> Teff</text>
<text x="544.90" y="640.20" font-size="7.2" fill="#231f20" stroke="#231f20" stroke-width="0.22">(69.0%)</text>
<line x1="576.50" y1="627.50" x2="582.00" y2="625.00" stroke="#555" stroke-width="0.4"/>
<text x="8.60" y="666.00" font-size="15.5" font-weight="bold" fill="#000" stroke="#000" stroke-width="0.08">h</text>
<defs><radialGradient id="rg1"><stop offset="0" stop-color="#ee9c88" stop-opacity="0.75"/><stop offset="0.6" stop-color="#f4b8a6" stop-opacity="0.35"/><stop offset="1" stop-color="#f8d0c4" stop-opacity="0"/></radialGradient></defs>
<path d="M70.89,665.54 C71.61,665.01 73.09,667.68 74.42,669.05 C75.75,670.41 77.23,672.82 78.86,673.73 C80.48,674.64 82.43,674.67 84.20,674.54 C85.96,674.40 87.39,672.78 89.44,672.92 C91.49,673.05 94.87,673.89 96.50,675.35 C98.12,676.81 98.61,679.29 99.22,681.65 C99.82,684.00 98.80,687.90 100.12,689.48 C101.45,691.06 104.54,690.58 107.18,691.10 C109.82,691.62 113.60,691.06 115.95,692.63 C118.30,694.20 119.96,697.91 121.29,700.55 C122.62,703.19 124.22,706.37 123.91,708.47 C123.61,710.57 121.39,711.85 119.48,713.15 C117.56,714.45 114.77,715.25 112.42,716.30 C110.07,717.35 107.72,718.79 105.37,719.45 C103.01,720.11 99.79,719.21 98.31,720.26 C96.83,721.31 97.37,724.04 96.50,725.75 C95.62,727.46 93.50,728.42 93.07,730.52 C92.63,732.62 94.03,735.98 93.87,738.35 C93.72,740.72 93.19,743.28 92.16,744.74 C91.14,746.20 89.05,747.22 87.73,747.08 C86.40,746.95 84.94,745.39 84.20,743.93 C83.46,742.48 83.74,739.81 83.29,738.35 C82.84,736.89 82.06,736.51 81.48,735.20 C80.89,733.89 80.64,732.35 79.76,730.52 C78.89,728.69 77.41,726.59 76.23,724.22 C75.06,721.85 73.73,719.45 72.71,716.30 C71.68,713.15 70.67,709.27 70.09,705.32 C69.50,701.38 69.25,696.85 69.18,692.63 C69.11,688.41 69.53,683.43 69.68,680.03 C69.83,676.62 69.88,674.62 70.09,672.20 C70.29,669.79 70.17,666.06 70.89,665.54Z" fill="#fdf6f3" stroke="#fdf6f3" stroke-width="1.2"/>
<path d="M70.09,672.20 C69.85,670.90 69.16,672.08 68.27,672.20 C67.38,672.32 66.20,671.87 64.74,672.92 C63.28,673.97 61.27,676.26 59.50,678.50 C57.74,680.74 55.94,683.71 54.16,686.33 C52.38,688.96 50.14,691.88 48.82,694.25 C47.49,696.62 46.78,698.18 46.20,700.55 C45.61,702.92 45.57,705.85 45.29,708.47 C45.00,711.10 44.48,714.06 44.48,716.30 C44.48,718.53 45.59,719.78 45.29,721.88 C44.99,723.98 43.84,726.41 42.67,728.90 C41.49,731.39 39.56,733.92 38.23,736.82 C36.91,739.71 35.44,743.12 34.70,746.27 C33.97,749.42 33.34,753.10 33.80,755.72 C34.25,758.35 35.65,760.38 37.43,762.02 C39.21,763.65 42.00,765.26 44.48,765.53 C46.97,765.80 49.25,764.87 52.34,763.64 C55.44,762.41 59.48,760.00 63.03,758.15 C66.57,756.30 70.67,754.14 73.61,752.57 C76.55,750.99 79.21,750.55 80.67,748.70 C82.13,746.86 82.25,743.75 82.38,741.50 C82.52,739.25 81.91,737.03 81.48,735.20 C81.04,733.37 80.64,732.35 79.76,730.52 C78.89,728.69 77.41,726.59 76.23,724.22 C75.06,721.85 73.73,719.45 72.71,716.30 C71.68,713.15 70.67,709.27 70.09,705.32 C69.50,701.38 69.25,696.85 69.18,692.63 C69.11,688.41 69.53,683.43 69.68,680.03 C69.83,676.62 70.32,673.50 70.09,672.20Z" fill="#fdf6f3" stroke="#fdf6f3" stroke-width="1.2"/>
<path d="M45.29,721.88 C44.55,720.58 40.87,721.07 38.23,721.07 C35.60,721.07 32.10,721.36 29.46,721.88 C26.83,722.40 23.73,722.78 22.41,724.22 C21.08,725.66 21.21,728.16 21.50,730.52 C21.79,732.88 22.79,735.98 24.12,738.35 C25.45,740.72 27.85,743.28 29.46,744.74 C31.08,746.20 32.62,747.35 33.80,747.08 C34.97,746.81 35.78,744.83 36.52,743.12 C37.26,741.41 37.21,739.19 38.23,736.82 C39.26,734.45 41.49,731.39 42.67,728.90 C43.84,726.41 46.03,723.18 45.29,721.88Z" fill="#fdf6f3" stroke="#fdf6f3" stroke-width="1.2"/>
<path d="M70.89,665.54 C71.61,665.01 73.09,667.68 74.42,669.05 C75.75,670.41 77.23,672.82 78.86,673.73 C80.48,674.64 82.43,674.67 84.20,674.54 C85.96,674.40 87.39,672.78 89.44,672.92 C91.49,673.05 94.87,673.89 96.50,675.35 C98.12,676.81 98.61,679.29 99.22,681.65 C99.82,684.00 98.80,687.90 100.12,689.48 C101.45,691.06 104.54,690.58 107.18,691.10 C109.82,691.62 113.60,691.06 115.95,692.63 C118.30,694.20 119.96,697.91 121.29,700.55 C122.62,703.19 124.22,706.37 123.91,708.47 C123.61,710.57 121.39,711.85 119.48,713.15 C117.56,714.45 114.77,715.25 112.42,716.30 C110.07,717.35 107.72,718.79 105.37,719.45 C103.01,720.11 99.79,719.21 98.31,720.26 C96.83,721.31 97.37,724.04 96.50,725.75 C95.62,727.46 93.50,728.42 93.07,730.52 C92.63,732.62 94.03,735.98 93.87,738.35 C93.72,740.72 93.19,743.28 92.16,744.74 C91.14,746.20 89.05,747.22 87.73,747.08 C86.40,746.95 84.94,745.39 84.20,743.93 C83.46,742.48 83.74,739.81 83.29,738.35 C82.84,736.89 82.06,736.51 81.48,735.20 C80.89,733.89 80.64,732.35 79.76,730.52 C78.89,728.69 77.41,726.59 76.23,724.22 C75.06,721.85 73.73,719.45 72.71,716.30 C71.68,713.15 70.67,709.27 70.09,705.32 C69.50,701.38 69.25,696.85 69.18,692.63 C69.11,688.41 69.53,683.43 69.68,680.03 C69.83,676.62 69.88,674.62 70.09,672.20 C70.29,669.79 70.17,666.06 70.89,665.54Z" fill="none" stroke="#fff" stroke-width="1.8" opacity="0.8"/>
<path d="M70.09,672.20 C69.85,670.90 69.16,672.08 68.27,672.20 C67.38,672.32 66.20,671.87 64.74,672.92 C63.28,673.97 61.27,676.26 59.50,678.50 C57.74,680.74 55.94,683.71 54.16,686.33 C52.38,688.96 50.14,691.88 48.82,694.25 C47.49,696.62 46.78,698.18 46.20,700.55 C45.61,702.92 45.57,705.85 45.29,708.47 C45.00,711.10 44.48,714.06 44.48,716.30 C44.48,718.53 45.59,719.78 45.29,721.88 C44.99,723.98 43.84,726.41 42.67,728.90 C41.49,731.39 39.56,733.92 38.23,736.82 C36.91,739.71 35.44,743.12 34.70,746.27 C33.97,749.42 33.34,753.10 33.80,755.72 C34.25,758.35 35.65,760.38 37.43,762.02 C39.21,763.65 42.00,765.26 44.48,765.53 C46.97,765.80 49.25,764.87 52.34,763.64 C55.44,762.41 59.48,760.00 63.03,758.15 C66.57,756.30 70.67,754.14 73.61,752.57 C76.55,750.99 79.21,750.55 80.67,748.70 C82.13,746.86 82.25,743.75 82.38,741.50 C82.52,739.25 81.91,737.03 81.48,735.20 C81.04,733.37 80.64,732.35 79.76,730.52 C78.89,728.69 77.41,726.59 76.23,724.22 C75.06,721.85 73.73,719.45 72.71,716.30 C71.68,713.15 70.67,709.27 70.09,705.32 C69.50,701.38 69.25,696.85 69.18,692.63 C69.11,688.41 69.53,683.43 69.68,680.03 C69.83,676.62 70.32,673.50 70.09,672.20Z" fill="none" stroke="#fff" stroke-width="1.8" opacity="0.8"/>
<path d="M45.29,721.88 C44.55,720.58 40.87,721.07 38.23,721.07 C35.60,721.07 32.10,721.36 29.46,721.88 C26.83,722.40 23.73,722.78 22.41,724.22 C21.08,725.66 21.21,728.16 21.50,730.52 C21.79,732.88 22.79,735.98 24.12,738.35 C25.45,740.72 27.85,743.28 29.46,744.74 C31.08,746.20 32.62,747.35 33.80,747.08 C34.97,746.81 35.78,744.83 36.52,743.12 C37.26,741.41 37.21,739.19 38.23,736.82 C39.26,734.45 41.49,731.39 42.67,728.90 C43.84,726.41 46.03,723.18 45.29,721.88Z" fill="none" stroke="#fff" stroke-width="1.8" opacity="0.8"/>
<defs><radialGradient id="rg2"><stop offset="0" stop-color="#f7d2c4" stop-opacity="0.7"/><stop offset="1" stop-color="#fbe6de" stop-opacity="0"/></radialGradient></defs>
<ellipse cx="74" cy="692" rx="20" ry="20" fill="url(#rg2)"/>
<ellipse cx="64" cy="703" rx="6" ry="10" fill="url(#rg1)"/>
<ellipse cx="83" cy="690" rx="10" ry="4" fill="url(#rg1)" transform="rotate(22 83 690)"/>
<ellipse cx="72" cy="676" rx="2.5" ry="8" fill="url(#rg1)" opacity="0.5"/>
<ellipse cx="77" cy="700" rx="5" ry="6" fill="url(#rg1)" opacity="0.6"/>
<rect x="74.16" y="700.12" width="1.1" height="1.1" fill="#7e3222"/>
<rect x="78.41" y="704.05" width="1.1" height="1.1" fill="#7e3222"/>
<rect x="78.19" y="699.59" width="1.1" height="1.1" fill="#7e3222"/>
<rect x="76.58" y="698.72" width="1.1" height="1.1" fill="#7e3222"/>
<rect x="73.47" y="698.06" width="1.1" height="1.1" fill="#7e3222"/>
<rect x="77.74" y="700.19" width="1.1" height="1.1" fill="#7e3222"/>
<rect x="75.35" y="696.30" width="1.1" height="1.1" fill="#7e3222"/>
<rect x="75.78" y="697.72" width="1.1" height="1.1" fill="#7e3222"/>
<rect x="76.02" y="700.90" width="1.1" height="1.1" fill="#7e3222"/>
<rect x="71.64" y="699.18" width="1.1" height="1.1" fill="#7e3222"/>
<rect x="73.19" y="696.67" width="1.1" height="1.1" fill="#7e3222"/>
<rect x="73.61" y="702.77" width="1.1" height="1.1" fill="#7e3222"/>
<rect x="77.22" y="700.93" width="1.1" height="1.1" fill="#7e3222"/>
<rect x="74.55" y="695.16" width="1.1" height="1.1" fill="#7e3222"/>
<rect x="75.23" y="700.06" width="1.1" height="1.1" fill="#7e3222"/>
<rect x="75.81" y="701.50" width="1.1" height="1.1" fill="#7e3222"/>
<rect x="75.28" y="704.81" width="1.1" height="1.1" fill="#7e3222"/>
<rect x="77.19" y="705.39" width="1.1" height="1.1" fill="#7e3222"/>
<rect x="76.41" y="698.76" width="1.1" height="1.1" fill="#7e3222"/>
<rect x="74.35" y="701.86" width="1.1" height="1.1" fill="#7e3222"/>
<rect x="77.93" y="699.91" width="1.1" height="1.1" fill="#7e3222"/>
<rect x="76.72" y="698.64" width="1.1" height="1.1" fill="#7e3222"/>
<rect x="75.16" y="698.58" width="1.1" height="1.1" fill="#7e3222"/>
<rect x="72.40" y="696.43" width="1.1" height="1.1" fill="#7e3222"/>
<rect x="76.02" y="699.82" width="1.1" height="1.1" fill="#7e3222"/>
<rect x="78.00" y="701.32" width="1.1" height="1.1" fill="#7e3222"/>
<rect x="76.75" y="699.59" width="1.1" height="1.1" fill="#7e3222"/>
<rect x="71.67" y="699.59" width="1.1" height="1.1" fill="#7e3222"/>
<rect x="74.27" y="700.90" width="1.1" height="1.1" fill="#7e3222"/>
<rect x="75.41" y="698.43" width="1.1" height="1.1" fill="#7e3222"/>
<rect x="74.92" y="698.56" width="1.1" height="1.1" fill="#7e3222"/>
<rect x="72.24" y="694.67" width="1.1" height="1.1" fill="#7e3222"/>
<rect x="78.23" y="700.72" width="1.1" height="1.1" fill="#7e3222"/>
<rect x="75.10" y="698.39" width="1.1" height="1.1" fill="#7e3222"/>
<rect x="75.24" y="709.13" width="1.1" height="1.1" fill="#7e3222"/>
<rect x="76.92" y="699.43" width="1.1" height="1.1" fill="#7e3222"/>
<rect x="74.66" y="692.37" width="1.1" height="1.1" fill="#7e3222"/>
<rect x="76.17" y="703.56" width="1.1" height="1.1" fill="#7e3222"/>
<rect x="77.70" y="700.21" width="1.1" height="1.1" fill="#7e3222"/>
<rect x="74.79" y="695.89" width="1.1" height="1.1" fill="#7e3222"/>
<rect x="76.07" y="698.19" width="1.1" height="1.1" fill="#7e3222"/>
<rect x="73.77" y="704.36" width="1.1" height="1.1" fill="#7e3222"/>
<rect x="74.15" y="697.79" width="1.1" height="1.1" fill="#7e3222"/>
<rect x="71.41" y="704.51" width="1.1" height="1.1" fill="#7e3222"/>
<rect x="75.62" y="699.19" width="1.1" height="1.1" fill="#7e3222"/>
<rect x="76.47" y="696.90" width="1.1" height="1.1" fill="#7e3222"/>
<rect x="74.75" y="700.29" width="1.1" height="1.1" fill="#7e3222"/>
<rect x="74.37" y="700.37" width="1.1" height="1.1" fill="#7e3222"/>
<rect x="78.22" y="701.69" width="1.1" height="1.1" fill="#7e3222"/>
<rect x="78.60" y="702.62" width="1.1" height="1.1" fill="#7e3222"/>
<rect x="79.22" y="700.28" width="1.1" height="1.1" fill="#7e3222"/>
<rect x="76.74" y="696.16" width="1.1" height="1.1" fill="#7e3222"/>
<rect x="75.59" y="697.26" width="1.1" height="1.1" fill="#7e3222"/>
<rect x="75.79" y="696.30" width="1.1" height="1.1" fill="#7e3222"/>
<rect x="76.54" y="707.13" width="1.1" height="1.1" fill="#7e3222"/>
<rect x="74.46" y="701.14" width="1.1" height="1.1" fill="#7e3222"/>
<rect x="77.11" y="697.23" width="1.1" height="1.1" fill="#7e3222"/>
<rect x="75.37" y="697.85" width="1.1" height="1.1" fill="#7e3222"/>
<rect x="76.76" y="697.52" width="1.1" height="1.1" fill="#7e3222"/>
<rect x="80.86" y="702.00" width="1.1" height="1.1" fill="#7e3222"/>
<rect x="78.10" y="705.87" width="1.1" height="1.1" fill="#7e3222"/>
<rect x="78.54" y="699.09" width="1.1" height="1.1" fill="#7e3222"/>
<rect x="76.62" y="699.53" width="1.1" height="1.1" fill="#7e3222"/>
<rect x="76.43" y="702.33" width="1.1" height="1.1" fill="#7e3222"/>
<rect x="72.17" y="694.41" width="1.1" height="1.1" fill="#7e3222"/>
<rect x="75.31" y="700.76" width="1.1" height="1.1" fill="#7e3222"/>
<rect x="74.99" y="698.83" width="1.1" height="1.1" fill="#7e3222"/>
<rect x="78.02" y="701.43" width="1.1" height="1.1" fill="#7e3222"/>
<rect x="75.72" y="698.41" width="1.1" height="1.1" fill="#7e3222"/>
<rect x="73.12" y="700.86" width="1.1" height="1.1" fill="#7e3222"/>
<rect x="76.12" y="696.51" width="1.1" height="1.1" fill="#7e3222"/>
<rect x="76.83" y="698.26" width="1.1" height="1.1" fill="#7e3222"/>
<rect x="75.25" y="694.41" width="1.1" height="1.1" fill="#7e3222"/>
<rect x="77.57" y="697.06" width="1.1" height="1.1" fill="#7e3222"/>
<rect x="76.44" y="700.00" width="1.1" height="1.1" fill="#7e3222"/>
<rect x="74.80" y="699.12" width="1.1" height="1.1" fill="#7e3222"/>
<rect x="75.40" y="698.53" width="1.1" height="1.1" fill="#7e3222"/>
<rect x="76.20" y="697.36" width="1.1" height="1.1" fill="#7e3222"/>
<rect x="77.13" y="699.60" width="1.1" height="1.1" fill="#7e3222"/>
<rect x="73.61" y="700.48" width="1.1" height="1.1" fill="#7e3222"/>
<rect x="75.06" y="700.64" width="1.1" height="1.1" fill="#7e3222"/>
<rect x="71.38" y="700.27" width="1.1" height="1.1" fill="#7e3222"/>
<rect x="71.54" y="697.87" width="1.1" height="1.1" fill="#7e3222"/>
<rect x="81.85" y="701.15" width="1.1" height="1.1" fill="#7e3222"/>
<rect x="77.78" y="697.03" width="1.1" height="1.1" fill="#7e3222"/>
<rect x="73.62" y="698.90" width="1.1" height="1.1" fill="#7e3222"/>
<rect x="76.54" y="698.86" width="1.1" height="1.1" fill="#7e3222"/>
<rect x="74.47" y="696.52" width="1.1" height="1.1" fill="#7e3222"/>
<rect x="75.00" y="704.03" width="1.1" height="1.1" fill="#7e3222"/>
<rect x="75.79" y="698.07" width="1.1" height="1.1" fill="#7e3222"/>
<rect x="75.30" y="696.32" width="1.1" height="1.1" fill="#7e3222"/>
<rect x="73.25" y="699.71" width="1.1" height="1.1" fill="#7e3222"/>
<rect x="78.39" y="700.78" width="1.1" height="1.1" fill="#7e3222"/>
<rect x="73.22" y="703.86" width="1.1" height="1.1" fill="#7e3222"/>
<rect x="76.37" y="704.99" width="1.1" height="1.1" fill="#7e3222"/>
<rect x="71.86" y="685.39" width="1" height="1" fill="#9a4a3a"/>
<rect x="70.89" y="671.11" width="1" height="1" fill="#9a4a3a"/>
<rect x="71.10" y="682.03" width="1" height="1" fill="#9a4a3a"/>
<rect x="71.37" y="677.41" width="1" height="1" fill="#9a4a3a"/>
<rect x="72.47" y="680.84" width="1" height="1" fill="#9a4a3a"/>
<rect x="72.22" y="673.58" width="1" height="1" fill="#9a4a3a"/>
<rect x="72.69" y="678.49" width="1" height="1" fill="#9a4a3a"/>
<rect x="72.30" y="679.60" width="1" height="1" fill="#9a4a3a"/>
<rect x="73.36" y="676.18" width="1" height="1" fill="#9a4a3a"/>
<rect x="72.22" y="683.81" width="1" height="1" fill="#9a4a3a"/>
<rect x="82.22" y="710.58" width="1" height="1" fill="#9a4a3a"/>
<rect x="78.70" y="715.22" width="1" height="1" fill="#9a4a3a"/>
<rect x="81.33" y="704.77" width="1" height="1" fill="#9a4a3a"/>
<rect x="78.26" y="707.69" width="1" height="1" fill="#9a4a3a"/>
<rect x="78.81" y="705.81" width="1" height="1" fill="#9a4a3a"/>
<rect x="81.09" y="706.15" width="1" height="1" fill="#9a4a3a"/>
<rect x="79.08" y="714.76" width="1" height="1" fill="#9a4a3a"/>
<rect x="78.99" y="715.21" width="1" height="1" fill="#9a4a3a"/>
<path d="M70.89,665.54 C71.61,665.01 73.09,667.68 74.42,669.05 C75.75,670.41 77.23,672.82 78.86,673.73 C80.48,674.64 82.43,674.67 84.20,674.54 C85.96,674.40 87.39,672.78 89.44,672.92 C91.49,673.05 94.87,673.89 96.50,675.35 C98.12,676.81 98.61,679.29 99.22,681.65 C99.82,684.00 98.80,687.90 100.12,689.48 C101.45,691.06 104.54,690.58 107.18,691.10 C109.82,691.62 113.60,691.06 115.95,692.63 C118.30,694.20 119.96,697.91 121.29,700.55 C122.62,703.19 124.22,706.37 123.91,708.47 C123.61,710.57 121.39,711.85 119.48,713.15 C117.56,714.45 114.77,715.25 112.42,716.30 C110.07,717.35 107.72,718.79 105.37,719.45 C103.01,720.11 99.79,719.21 98.31,720.26 C96.83,721.31 97.37,724.04 96.50,725.75 C95.62,727.46 93.50,728.42 93.07,730.52 C92.63,732.62 94.03,735.98 93.87,738.35 C93.72,740.72 93.19,743.28 92.16,744.74 C91.14,746.20 89.05,747.22 87.73,747.08 C86.40,746.95 84.94,745.39 84.20,743.93 C83.46,742.48 83.74,739.81 83.29,738.35 C82.84,736.89 82.06,736.51 81.48,735.20 C80.89,733.89 80.64,732.35 79.76,730.52 C78.89,728.69 77.41,726.59 76.23,724.22 C75.06,721.85 73.73,719.45 72.71,716.30 C71.68,713.15 70.67,709.27 70.09,705.32 C69.50,701.38 69.25,696.85 69.18,692.63 C69.11,688.41 69.53,683.43 69.68,680.03 C69.83,676.62 69.88,674.62 70.09,672.20 C70.29,669.79 70.17,666.06 70.89,665.54Z" stroke="#eeb45e" stroke-dasharray="2.2 1.6" fill="none" stroke-width="0.85"/>
<path d="M45.29,721.88 C44.55,720.58 40.87,721.07 38.23,721.07 C35.60,721.07 32.10,721.36 29.46,721.88 C26.83,722.40 23.73,722.78 22.41,724.22 C21.08,725.66 21.21,728.16 21.50,730.52 C21.79,732.88 22.79,735.98 24.12,738.35 C25.45,740.72 27.85,743.28 29.46,744.74 C31.08,746.20 32.62,747.35 33.80,747.08 C34.97,746.81 35.78,744.83 36.52,743.12 C37.26,741.41 37.21,739.19 38.23,736.82 C39.26,734.45 41.49,731.39 42.67,728.90 C43.84,726.41 46.03,723.18 45.29,721.88Z" stroke="#eeb45e" stroke-dasharray="2.2 1.6" fill="none" stroke-width="0.85"/>
<path d="M70.09,672.20 C69.85,670.90 69.16,672.08 68.27,672.20 C67.38,672.32 66.20,671.87 64.74,672.92 C63.28,673.97 61.27,676.26 59.50,678.50 C57.74,680.74 55.94,683.71 54.16,686.33 C52.38,688.96 50.14,691.88 48.82,694.25 C47.49,696.62 46.78,698.18 46.20,700.55 C45.61,702.92 45.57,705.85 45.29,708.47 C45.00,711.10 44.48,714.06 44.48,716.30 C44.48,718.53 45.59,719.78 45.29,721.88 C44.99,723.98 43.84,726.41 42.67,728.90 C41.49,731.39 39.56,733.92 38.23,736.82 C36.91,739.71 35.44,743.12 34.70,746.27 C33.97,749.42 33.34,753.10 33.80,755.72 C34.25,758.35 35.65,760.38 37.43,762.02 C39.21,763.65 42.00,765.26 44.48,765.53 C46.97,765.80 49.25,764.87 52.34,763.64 C55.44,762.41 59.48,760.00 63.03,758.15 C66.57,756.30 70.67,754.14 73.61,752.57 C76.55,750.99 79.21,750.55 80.67,748.70 C82.13,746.86 82.25,743.75 82.38,741.50 C82.52,739.25 81.91,737.03 81.48,735.20 C81.04,733.37 80.64,732.35 79.76,730.52 C78.89,728.69 77.41,726.59 76.23,724.22 C75.06,721.85 73.73,719.45 72.71,716.30 C71.68,713.15 70.67,709.27 70.09,705.32 C69.50,701.38 69.25,696.85 69.18,692.63 C69.11,688.41 69.53,683.43 69.68,680.03 C69.83,676.62 70.32,673.50 70.09,672.20Z" stroke="#5cc3dd" stroke-dasharray="2.2 1.6" fill="none" stroke-width="0.85"/>
<text x="102.50" y="668.70" font-size="7.2" fill="#231f20" stroke="#231f20" stroke-width="0.22"># CD8<tspan dy="-2.9" font-size="4.0">+</tspan><tspan dy="2.9">​</tspan> T cells: 200</text>
<text x="102.50" y="676.90" font-size="7.2" fill="#231f20" stroke="#231f20" stroke-width="0.22"># individuals: 3</text>
<defs><linearGradient id="cb" x1="0" y1="0" x2="0" y2="1"><stop offset="0" stop-color="#7e1a14"/><stop offset="0.3" stop-color="#c8341e"/><stop offset="0.6" stop-color="#f08a66"/><stop offset="1" stop-color="#fdf3ee"/></linearGradient></defs>
<rect x="151.60" y="692.50" width="6.60" height="57.90" fill="url(#cb)"/>
<text x="151.00" y="691.00" font-size="7.2" fill="#231f20" stroke="#231f20" stroke-width="0.22">3.0</text>
<text x="151.00" y="758.00" font-size="7.2" fill="#231f20" stroke="#231f20" stroke-width="0.22">0.0</text>
<text x="146.00" y="724.00" font-size="7.2" text-anchor="middle" fill="#231f20" stroke="#231f20" stroke-width="0.22" transform="rotate(-90 146.00 724.00)">Expression of <tspan font-style="italic">CXCL13</tspan></text>
<path d="M100.6,752.5 H111.7" stroke="#eeb45e" stroke-dasharray="3.2 4.6" stroke-width="0.9"/>
<text x="113.80" y="754.90" font-size="7.2" fill="#231f20" stroke="#231f20" stroke-width="0.22">CD8<tspan dy="-2.9" font-size="4.0">+</tspan><tspan dy="2.9">​</tspan></text>
<path d="M100.6,764 H111.7" stroke="#5cc3dd" stroke-dasharray="3.2 4.6" stroke-width="0.9"/>
<text x="113.80" y="766.40" font-size="7.2" fill="#231f20" stroke="#231f20" stroke-width="0.22">CD4<tspan dy="-2.9" font-size="4.0">+</tspan><tspan dy="2.9">​</tspan></text>
<line x1="25.00" y1="747.70" x2="25.00" y2="771.40" stroke="#555" stroke-width="0.6"/>
<line x1="25.00" y1="771.40" x2="44.50" y2="771.40" stroke="#555" stroke-width="0.6"/>
<path d="M46,771.4 L43,770.1 L43,772.7Z" fill="#555"/>
<text x="20.60" y="759.60" font-size="7.2" text-anchor="middle" fill="#231f20" stroke="#231f20" stroke-width="0.22" transform="rotate(-90 20.60 759.60)">UMAP2</text>
<text x="25.00" y="780.40" font-size="7.2" fill="#231f20" stroke="#231f20" stroke-width="0.22">UMAP1</text>
<text x="242.80" y="667.40" font-size="8.6" font-weight="bold" text-anchor="middle" fill="#231f20" stroke="#231f20" stroke-width="0.08">Public TCRαβ-6</text>
<text x="204.20" y="680.10" font-size="7.7" text-anchor="end" fill="#2a2a2a" stroke="#2a2a2a" stroke-width="0.22">BV6-5-</text>
<rect x="205.20" y="674.10" width="5.95" height="7.20" fill="#d4e63a"/>
<rect x="211.10" y="674.10" width="5.95" height="7.20" fill="#d5d5d5"/>
<rect x="217.00" y="674.10" width="5.95" height="7.20" fill="#eda23c"/>
<rect x="222.90" y="674.10" width="5.95" height="7.20" fill="#eda23c"/>
<rect x="228.80" y="674.10" width="5.95" height="7.20" fill="#5a6ecb"/>
<rect x="234.70" y="674.10" width="5.95" height="7.20" fill="#eda23c"/>
<rect x="240.60" y="674.10" width="5.95" height="7.20" fill="#e0433a"/>
<rect x="246.50" y="674.10" width="5.95" height="7.20" fill="#ededed"/>
<rect x="252.40" y="674.10" width="5.95" height="7.20" fill="#86e2e2"/>
<rect x="258.30" y="674.10" width="5.95" height="7.20" fill="#5a6ecb"/>
<rect x="264.20" y="674.10" width="5.95" height="7.20" fill="#ededed"/>
<rect x="270.10" y="674.10" width="5.95" height="7.20" fill="#5a6ecb"/>
<rect x="276.00" y="674.10" width="5.95" height="7.20" fill="#eda23c"/>
<rect x="281.90" y="674.10" width="5.95" height="7.20" fill="#5a6ecb"/>
<text x="208.15" y="680.10" font-size="7.3" text-anchor="middle" fill="#2a2a2a" stroke="#2a2a2a" stroke-width="0.05">C</text>
<text x="214.05" y="680.10" font-size="7.3" text-anchor="middle" fill="#2a2a2a" stroke="#2a2a2a" stroke-width="0.05">A</text>
<text x="219.95" y="680.10" font-size="7.3" text-anchor="middle" fill="#2a2a2a" stroke="#2a2a2a" stroke-width="0.05">S</text>
<text x="225.85" y="680.10" font-size="7.3" text-anchor="middle" fill="#2a2a2a" stroke="#2a2a2a" stroke-width="0.05">S</text>
<text x="231.75" y="680.10" font-size="7.3" text-anchor="middle" fill="#2a2a2a" stroke="#2a2a2a" stroke-width="0.05">Y</text>
<text x="237.65" y="680.10" font-size="7.3" text-anchor="middle" fill="#2a2a2a" stroke="#2a2a2a" stroke-width="0.05">S</text>
<text x="243.55" y="680.10" font-size="7.3" text-anchor="middle" fill="#2a2a2a" stroke="#2a2a2a" stroke-width="0.05">D</text>
<text x="249.45" y="680.10" font-size="7.3" text-anchor="middle" fill="#2a2a2a" stroke="#2a2a2a" stroke-width="0.05">G</text>
<text x="255.35" y="680.10" font-size="7.3" text-anchor="middle" fill="#2a2a2a" stroke="#2a2a2a" stroke-width="0.05">N</text>
<text x="261.25" y="680.10" font-size="7.3" text-anchor="middle" fill="#2a2a2a" stroke="#2a2a2a" stroke-width="0.05">Y</text>
<text x="267.15" y="680.10" font-size="7.3" text-anchor="middle" fill="#2a2a2a" stroke="#2a2a2a" stroke-width="0.05">G</text>
<text x="273.05" y="680.10" font-size="7.3" text-anchor="middle" fill="#2a2a2a" stroke="#2a2a2a" stroke-width="0.05">Y</text>
<text x="278.95" y="680.10" font-size="7.3" text-anchor="middle" fill="#2a2a2a" stroke="#2a2a2a" stroke-width="0.05">T</text>
<text x="284.85" y="680.10" font-size="7.3" text-anchor="middle" fill="#2a2a2a" stroke="#2a2a2a" stroke-width="0.05">F</text>
<text x="289.40" y="680.10" font-size="7.7" fill="#2a2a2a" stroke="#2a2a2a" stroke-width="0.22">-BJ1-2</text>
<text x="204.20" y="690.10" font-size="7.7" text-anchor="end" fill="#2a2a2a" stroke="#2a2a2a" stroke-width="0.22">AV21-</text>
<rect x="205.20" y="684.10" width="5.95" height="7.20" fill="#d4e63a"/>
<rect x="211.10" y="684.10" width="5.95" height="7.20" fill="#d5d5d5"/>
<rect x="217.00" y="684.10" width="5.95" height="7.20" fill="#3b9c4a"/>
<rect x="222.90" y="684.10" width="5.95" height="7.20" fill="#e0433a"/>
<rect x="228.80" y="684.10" width="5.95" height="7.20" fill="#eda23c"/>
<rect x="234.70" y="684.10" width="5.95" height="7.20" fill="#ededed"/>
<rect x="240.60" y="684.10" width="5.95" height="7.20" fill="#ededed"/>
<rect x="246.50" y="684.10" width="5.95" height="7.20" fill="#5a6ecb"/>
<rect x="252.40" y="684.10" width="5.95" height="7.20" fill="#5a6ecb"/>
<rect x="258.30" y="684.10" width="5.95" height="7.20" fill="#eda23c"/>
<rect x="264.20" y="684.10" width="5.95" height="7.20" fill="#3b9c4a"/>
<rect x="270.10" y="684.10" width="5.95" height="7.20" fill="#5a6ecb"/>
<text x="208.15" y="690.10" font-size="7.3" text-anchor="middle" fill="#2a2a2a" stroke="#2a2a2a" stroke-width="0.05">C</text>
<text x="214.05" y="690.10" font-size="7.3" text-anchor="middle" fill="#2a2a2a" stroke="#2a2a2a" stroke-width="0.05">A</text>
<text x="219.95" y="690.10" font-size="7.3" text-anchor="middle" fill="#2a2a2a" stroke="#2a2a2a" stroke-width="0.05">V</text>
<text x="225.85" y="690.10" font-size="7.3" text-anchor="middle" fill="#2a2a2a" stroke="#2a2a2a" stroke-width="0.05">D</text>
<text x="231.75" y="690.10" font-size="7.3" text-anchor="middle" fill="#2a2a2a" stroke="#2a2a2a" stroke-width="0.05">T</text>
<text x="237.65" y="690.10" font-size="7.3" text-anchor="middle" fill="#2a2a2a" stroke="#2a2a2a" stroke-width="0.05">G</text>
<text x="243.55" y="690.10" font-size="7.3" text-anchor="middle" fill="#2a2a2a" stroke="#2a2a2a" stroke-width="0.05">G</text>
<text x="249.45" y="690.10" font-size="7.3" text-anchor="middle" fill="#2a2a2a" stroke="#2a2a2a" stroke-width="0.05">F</text>
<text x="255.35" y="690.10" font-size="7.3" text-anchor="middle" fill="#2a2a2a" stroke="#2a2a2a" stroke-width="0.05">K</text>
<text x="261.25" y="690.10" font-size="7.3" text-anchor="middle" fill="#2a2a2a" stroke="#2a2a2a" stroke-width="0.05">T</text>
<text x="267.15" y="690.10" font-size="7.3" text-anchor="middle" fill="#2a2a2a" stroke="#2a2a2a" stroke-width="0.05">I</text>
<text x="273.05" y="690.10" font-size="7.3" text-anchor="middle" fill="#2a2a2a" stroke="#2a2a2a" stroke-width="0.05">F</text>
<text x="277.60" y="690.10" font-size="7.7" fill="#2a2a2a" stroke="#2a2a2a" stroke-width="0.22">-AJ9</text>
<text x="238.30" y="711.50" font-size="8.4" font-weight="bold" fill="#231f20" stroke="#231f20" stroke-width="0.08"># CD8<tspan dy="-2.9" font-size="4.0">+</tspan><tspan dy="2.9">​</tspan> T cells</text>
<line x1="188.40" y1="716.20" x2="301.90" y2="716.20" stroke="#333" stroke-width="0.8"/>
<text x="186.30" y="727.40" font-size="7.4" fill="#231f20" stroke="#231f20" stroke-width="0.22">HN_P34</text>
<text x="252.00" y="727.40" font-size="7.4" fill="#231f20" stroke="#231f20" stroke-width="0.22">1</text>
<text x="186.30" y="742.90" font-size="7.4" fill="#231f20" stroke="#231f20" stroke-width="0.22">HN_P51</text>
<text x="252.00" y="742.90" font-size="7.4" fill="#231f20" stroke="#231f20" stroke-width="0.22">198</text>
<text x="186.30" y="758.10" font-size="7.4" fill="#231f20" stroke="#231f20" stroke-width="0.22">HN_P7</text>
<text x="252.00" y="758.10" font-size="7.4" fill="#231f20" stroke="#231f20" stroke-width="0.22">1</text>
<text x="185.70" y="772.30" font-size="7.3" font-weight="bold" fill="#231f20" stroke="#231f20" stroke-width="0.08">Common HLA: A*01</text>
<text x="339.80" y="666.20" font-size="15.5" font-weight="bold" fill="#000" stroke="#000" stroke-width="0.08">i</text>
<path d="M383.90,668.93 C384.55,668.41 385.86,671.02 387.04,672.35 C388.22,673.68 389.53,676.02 390.98,676.91 C392.43,677.80 394.16,677.83 395.73,677.70 C397.30,677.56 398.57,675.99 400.39,676.12 C402.21,676.25 405.21,677.07 406.66,678.49 C408.11,679.90 408.54,682.33 409.08,684.62 C409.62,686.92 408.71,690.72 409.89,692.25 C411.07,693.79 413.82,693.32 416.16,693.83 C418.50,694.34 421.86,693.79 423.96,695.32 C426.05,696.86 427.52,700.47 428.70,703.04 C429.88,705.61 431.30,708.71 431.03,710.76 C430.76,712.81 428.79,714.05 427.09,715.32 C425.39,716.59 422.91,717.37 420.82,718.39 C418.73,719.41 416.64,720.82 414.55,721.46 C412.46,722.10 409.59,721.22 408.28,722.25 C406.96,723.27 407.44,725.93 406.66,727.60 C405.89,729.26 404.00,730.20 403.62,732.25 C403.23,734.29 404.47,737.57 404.33,739.88 C404.20,742.18 403.72,744.68 402.81,746.10 C401.90,747.52 400.05,748.51 398.87,748.38 C397.69,748.25 396.39,746.73 395.73,745.31 C395.07,743.90 395.33,741.29 394.92,739.88 C394.52,738.46 393.83,738.08 393.31,736.81 C392.79,735.53 392.57,734.03 391.79,732.25 C391.01,730.46 389.70,728.42 388.65,726.11 C387.61,723.80 386.43,721.46 385.52,718.39 C384.61,715.32 383.71,711.53 383.19,707.69 C382.66,703.85 382.44,699.43 382.38,695.32 C382.32,691.22 382.69,686.36 382.83,683.05 C382.96,679.73 383.01,677.77 383.19,675.42 C383.37,673.06 383.26,669.44 383.90,668.93Z" fill="#f4f0ef" stroke="#f4f0ef" stroke-width="1.2"/>
<path d="M383.19,675.42 C382.98,674.14 382.37,675.30 381.57,675.42 C380.78,675.53 379.74,675.09 378.44,676.12 C377.14,677.14 375.35,679.38 373.78,681.55 C372.21,683.73 370.61,686.63 369.03,689.18 C367.45,691.74 365.46,694.59 364.28,696.90 C363.10,699.21 362.47,700.73 361.95,703.04 C361.43,705.35 361.40,708.20 361.15,710.76 C360.89,713.32 360.43,716.21 360.43,718.39 C360.43,720.57 361.41,721.78 361.15,723.83 C360.88,725.87 359.86,728.24 358.82,730.67 C357.77,733.09 356.05,735.56 354.87,738.38 C353.69,741.21 352.39,744.52 351.74,747.59 C351.08,750.66 350.53,754.24 350.93,756.80 C351.33,759.36 352.57,761.35 354.16,762.94 C355.74,764.53 358.22,766.10 360.43,766.36 C362.64,766.62 364.67,765.72 367.42,764.52 C370.17,763.32 373.76,760.97 376.92,759.17 C380.07,757.37 383.71,755.27 386.32,753.73 C388.94,752.20 391.30,751.76 392.60,749.96 C393.89,748.16 394.00,745.14 394.12,742.94 C394.24,740.75 393.70,738.59 393.31,736.81 C392.92,735.02 392.57,734.03 391.79,732.25 C391.01,730.46 389.70,728.42 388.65,726.11 C387.61,723.80 386.43,721.46 385.52,718.39 C384.61,715.32 383.71,711.53 383.19,707.69 C382.66,703.85 382.44,699.43 382.38,695.32 C382.32,691.22 382.69,686.36 382.83,683.05 C382.96,679.73 383.40,676.69 383.19,675.42Z" fill="#f4f0ef" stroke="#f4f0ef" stroke-width="1.2"/>
<path d="M361.15,723.83 C360.49,722.55 357.22,723.04 354.87,723.04 C352.53,723.04 349.42,723.31 347.08,723.83 C344.73,724.34 341.99,724.70 340.81,726.11 C339.63,727.51 339.75,729.95 340.00,732.25 C340.25,734.54 341.15,737.57 342.33,739.88 C343.51,742.18 345.64,744.68 347.08,746.10 C348.51,747.52 349.89,748.65 350.93,748.38 C351.98,748.12 352.69,746.19 353.35,744.52 C354.01,742.86 353.96,740.69 354.87,738.38 C355.78,736.08 357.77,733.09 358.82,730.67 C359.86,728.24 361.80,725.10 361.15,723.83Z" fill="#f4f0ef" stroke="#f4f0ef" stroke-width="1.2"/>
<path d="M383.90,668.93 C384.55,668.41 385.86,671.02 387.04,672.35 C388.22,673.68 389.53,676.02 390.98,676.91 C392.43,677.80 394.16,677.83 395.73,677.70 C397.30,677.56 398.57,675.99 400.39,676.12 C402.21,676.25 405.21,677.07 406.66,678.49 C408.11,679.90 408.54,682.33 409.08,684.62 C409.62,686.92 408.71,690.72 409.89,692.25 C411.07,693.79 413.82,693.32 416.16,693.83 C418.50,694.34 421.86,693.79 423.96,695.32 C426.05,696.86 427.52,700.47 428.70,703.04 C429.88,705.61 431.30,708.71 431.03,710.76 C430.76,712.81 428.79,714.05 427.09,715.32 C425.39,716.59 422.91,717.37 420.82,718.39 C418.73,719.41 416.64,720.82 414.55,721.46 C412.46,722.10 409.59,721.22 408.28,722.25 C406.96,723.27 407.44,725.93 406.66,727.60 C405.89,729.26 404.00,730.20 403.62,732.25 C403.23,734.29 404.47,737.57 404.33,739.88 C404.20,742.18 403.72,744.68 402.81,746.10 C401.90,747.52 400.05,748.51 398.87,748.38 C397.69,748.25 396.39,746.73 395.73,745.31 C395.07,743.90 395.33,741.29 394.92,739.88 C394.52,738.46 393.83,738.08 393.31,736.81 C392.79,735.53 392.57,734.03 391.79,732.25 C391.01,730.46 389.70,728.42 388.65,726.11 C387.61,723.80 386.43,721.46 385.52,718.39 C384.61,715.32 383.71,711.53 383.19,707.69 C382.66,703.85 382.44,699.43 382.38,695.32 C382.32,691.22 382.69,686.36 382.83,683.05 C382.96,679.73 383.01,677.77 383.19,675.42 C383.37,673.06 383.26,669.44 383.90,668.93Z" fill="none" stroke="#fff" stroke-width="1.8" opacity="0.8"/>
<path d="M383.19,675.42 C382.98,674.14 382.37,675.30 381.57,675.42 C380.78,675.53 379.74,675.09 378.44,676.12 C377.14,677.14 375.35,679.38 373.78,681.55 C372.21,683.73 370.61,686.63 369.03,689.18 C367.45,691.74 365.46,694.59 364.28,696.90 C363.10,699.21 362.47,700.73 361.95,703.04 C361.43,705.35 361.40,708.20 361.15,710.76 C360.89,713.32 360.43,716.21 360.43,718.39 C360.43,720.57 361.41,721.78 361.15,723.83 C360.88,725.87 359.86,728.24 358.82,730.67 C357.77,733.09 356.05,735.56 354.87,738.38 C353.69,741.21 352.39,744.52 351.74,747.59 C351.08,750.66 350.53,754.24 350.93,756.80 C351.33,759.36 352.57,761.35 354.16,762.94 C355.74,764.53 358.22,766.10 360.43,766.36 C362.64,766.62 364.67,765.72 367.42,764.52 C370.17,763.32 373.76,760.97 376.92,759.17 C380.07,757.37 383.71,755.27 386.32,753.73 C388.94,752.20 391.30,751.76 392.60,749.96 C393.89,748.16 394.00,745.14 394.12,742.94 C394.24,740.75 393.70,738.59 393.31,736.81 C392.92,735.02 392.57,734.03 391.79,732.25 C391.01,730.46 389.70,728.42 388.65,726.11 C387.61,723.80 386.43,721.46 385.52,718.39 C384.61,715.32 383.71,711.53 383.19,707.69 C382.66,703.85 382.44,699.43 382.38,695.32 C382.32,691.22 382.69,686.36 382.83,683.05 C382.96,679.73 383.40,676.69 383.19,675.42Z" fill="none" stroke="#fff" stroke-width="1.8" opacity="0.8"/>
<path d="M361.15,723.83 C360.49,722.55 357.22,723.04 354.87,723.04 C352.53,723.04 349.42,723.31 347.08,723.83 C344.73,724.34 341.99,724.70 340.81,726.11 C339.63,727.51 339.75,729.95 340.00,732.25 C340.25,734.54 341.15,737.57 342.33,739.88 C343.51,742.18 345.64,744.68 347.08,746.10 C348.51,747.52 349.89,748.65 350.93,748.38 C351.98,748.12 352.69,746.19 353.35,744.52 C354.01,742.86 353.96,740.69 354.87,738.38 C355.78,736.08 357.77,733.09 358.82,730.67 C359.86,728.24 361.80,725.10 361.15,723.83Z" fill="none" stroke="#fff" stroke-width="1.8" opacity="0.8"/>
<circle cx="375.20" cy="694.70" r="0.95" fill="#5f8e98"/>
<circle cx="368.10" cy="741.20" r="0.95" fill="#5f8e98"/>
<circle cx="376.00" cy="745.90" r="0.95" fill="#5f8e98"/>
<circle cx="381.80" cy="749.00" r="0.95" fill="#5f8e98"/>
<path d="M383.90,668.93 C384.55,668.41 385.86,671.02 387.04,672.35 C388.22,673.68 389.53,676.02 390.98,676.91 C392.43,677.80 394.16,677.83 395.73,677.70 C397.30,677.56 398.57,675.99 400.39,676.12 C402.21,676.25 405.21,677.07 406.66,678.49 C408.11,679.90 408.54,682.33 409.08,684.62 C409.62,686.92 408.71,690.72 409.89,692.25 C411.07,693.79 413.82,693.32 416.16,693.83 C418.50,694.34 421.86,693.79 423.96,695.32 C426.05,696.86 427.52,700.47 428.70,703.04 C429.88,705.61 431.30,708.71 431.03,710.76 C430.76,712.81 428.79,714.05 427.09,715.32 C425.39,716.59 422.91,717.37 420.82,718.39 C418.73,719.41 416.64,720.82 414.55,721.46 C412.46,722.10 409.59,721.22 408.28,722.25 C406.96,723.27 407.44,725.93 406.66,727.60 C405.89,729.26 404.00,730.20 403.62,732.25 C403.23,734.29 404.47,737.57 404.33,739.88 C404.20,742.18 403.72,744.68 402.81,746.10 C401.90,747.52 400.05,748.51 398.87,748.38 C397.69,748.25 396.39,746.73 395.73,745.31 C395.07,743.90 395.33,741.29 394.92,739.88 C394.52,738.46 393.83,738.08 393.31,736.81 C392.79,735.53 392.57,734.03 391.79,732.25 C391.01,730.46 389.70,728.42 388.65,726.11 C387.61,723.80 386.43,721.46 385.52,718.39 C384.61,715.32 383.71,711.53 383.19,707.69 C382.66,703.85 382.44,699.43 382.38,695.32 C382.32,691.22 382.69,686.36 382.83,683.05 C382.96,679.73 383.01,677.77 383.19,675.42 C383.37,673.06 383.26,669.44 383.90,668.93Z" stroke="#eeb45e" stroke-dasharray="2.2 1.6" fill="none" stroke-width="0.85"/>
<path d="M361.15,723.83 C360.49,722.55 357.22,723.04 354.87,723.04 C352.53,723.04 349.42,723.31 347.08,723.83 C344.73,724.34 341.99,724.70 340.81,726.11 C339.63,727.51 339.75,729.95 340.00,732.25 C340.25,734.54 341.15,737.57 342.33,739.88 C343.51,742.18 345.64,744.68 347.08,746.10 C348.51,747.52 349.89,748.65 350.93,748.38 C351.98,748.12 352.69,746.19 353.35,744.52 C354.01,742.86 353.96,740.69 354.87,738.38 C355.78,736.08 357.77,733.09 358.82,730.67 C359.86,728.24 361.80,725.10 361.15,723.83Z" stroke="#eeb45e" stroke-dasharray="2.2 1.6" fill="none" stroke-width="0.85"/>
<path d="M383.19,675.42 C382.98,674.14 382.37,675.30 381.57,675.42 C380.78,675.53 379.74,675.09 378.44,676.12 C377.14,677.14 375.35,679.38 373.78,681.55 C372.21,683.73 370.61,686.63 369.03,689.18 C367.45,691.74 365.46,694.59 364.28,696.90 C363.10,699.21 362.47,700.73 361.95,703.04 C361.43,705.35 361.40,708.20 361.15,710.76 C360.89,713.32 360.43,716.21 360.43,718.39 C360.43,720.57 361.41,721.78 361.15,723.83 C360.88,725.87 359.86,728.24 358.82,730.67 C357.77,733.09 356.05,735.56 354.87,738.38 C353.69,741.21 352.39,744.52 351.74,747.59 C351.08,750.66 350.53,754.24 350.93,756.80 C351.33,759.36 352.57,761.35 354.16,762.94 C355.74,764.53 358.22,766.10 360.43,766.36 C362.64,766.62 364.67,765.72 367.42,764.52 C370.17,763.32 373.76,760.97 376.92,759.17 C380.07,757.37 383.71,755.27 386.32,753.73 C388.94,752.20 391.30,751.76 392.60,749.96 C393.89,748.16 394.00,745.14 394.12,742.94 C394.24,740.75 393.70,738.59 393.31,736.81 C392.92,735.02 392.57,734.03 391.79,732.25 C391.01,730.46 389.70,728.42 388.65,726.11 C387.61,723.80 386.43,721.46 385.52,718.39 C384.61,715.32 383.71,711.53 383.19,707.69 C382.66,703.85 382.44,699.43 382.38,695.32 C382.32,691.22 382.69,686.36 382.83,683.05 C382.96,679.73 383.40,676.69 383.19,675.42Z" stroke="#5cc3dd" stroke-dasharray="2.2 1.6" fill="none" stroke-width="0.85"/>
<text x="425.90" y="668.70" font-size="7.2" fill="#231f20" stroke="#231f20" stroke-width="0.22"># CD4<tspan dy="-2.9" font-size="4.0">+</tspan><tspan dy="2.9">​</tspan> T cells: 4</text>
<text x="425.90" y="676.90" font-size="7.2" fill="#231f20" stroke="#231f20" stroke-width="0.22"># individuals: 3</text>
<path d="M421.4,751.7 H431.2" stroke="#eeb45e" stroke-dasharray="3.2 4.6" stroke-width="0.9"/>
<text x="435.10" y="754.10" font-size="7.2" fill="#231f20" stroke="#231f20" stroke-width="0.22">CD8<tspan dy="-2.9" font-size="4.0">+</tspan><tspan dy="2.9">​</tspan></text>
<path d="M421.4,763.5 H431.2" stroke="#5cc3dd" stroke-dasharray="3.2 4.6" stroke-width="0.9"/>
<text x="435.10" y="765.90" font-size="7.2" fill="#231f20" stroke="#231f20" stroke-width="0.22">CD4<tspan dy="-2.9" font-size="4.0">+</tspan><tspan dy="2.9">​</tspan></text>
<line x1="333.20" y1="747.70" x2="333.20" y2="771.40" stroke="#555" stroke-width="0.6"/>
<line x1="333.20" y1="771.40" x2="354.80" y2="771.40" stroke="#555" stroke-width="0.6"/>
<path d="M356.3,771.4 L353.3,770.1 L353.3,772.7Z" fill="#555"/>
<text x="328.60" y="759.60" font-size="7.2" text-anchor="middle" fill="#231f20" stroke="#231f20" stroke-width="0.22" transform="rotate(-90 328.60 759.60)">UMAP2</text>
<text x="333.20" y="780.40" font-size="7.2" fill="#231f20" stroke="#231f20" stroke-width="0.22">UMAP1</text>
<text x="555.40" y="668.10" font-size="8.6" font-weight="bold" text-anchor="middle" fill="#231f20" stroke="#231f20" stroke-width="0.08">Public TCRαβ-7</text>
<text x="519.30" y="679.80" font-size="7.7" text-anchor="end" fill="#2a2a2a" stroke="#2a2a2a" stroke-width="0.22">BV7-9-</text>
<rect x="520.30" y="673.80" width="5.93" height="7.20" fill="#d4e63a"/>
<rect x="526.18" y="673.80" width="5.93" height="7.20" fill="#d5d5d5"/>
<rect x="532.06" y="673.80" width="5.93" height="7.20" fill="#eda23c"/>
<rect x="537.94" y="673.80" width="5.93" height="7.20" fill="#eda23c"/>
<rect x="543.82" y="673.80" width="5.93" height="7.20" fill="#ededed"/>
<rect x="549.70" y="673.80" width="5.93" height="7.20" fill="#eda23c"/>
<rect x="555.58" y="673.80" width="5.93" height="7.20" fill="#ededed"/>
<rect x="561.46" y="673.80" width="5.93" height="7.20" fill="#eda23c"/>
<rect x="567.34" y="673.80" width="5.93" height="7.20" fill="#eda23c"/>
<rect x="573.22" y="673.80" width="5.93" height="7.20" fill="#e0433a"/>
<rect x="579.10" y="673.80" width="5.93" height="7.20" fill="#eda23c"/>
<rect x="584.98" y="673.80" width="5.93" height="7.20" fill="#86e2e2"/>
<rect x="590.86" y="673.80" width="5.93" height="7.20" fill="#5a6ecb"/>
<rect x="596.74" y="673.80" width="5.93" height="7.20" fill="#5a6ecb"/>
<text x="523.24" y="679.80" font-size="7.3" text-anchor="middle" fill="#2a2a2a" stroke="#2a2a2a" stroke-width="0.05">C</text>
<text x="529.12" y="679.80" font-size="7.3" text-anchor="middle" fill="#2a2a2a" stroke="#2a2a2a" stroke-width="0.05">A</text>
<text x="535.00" y="679.80" font-size="7.3" text-anchor="middle" fill="#2a2a2a" stroke="#2a2a2a" stroke-width="0.05">S</text>
<text x="540.88" y="679.80" font-size="7.3" text-anchor="middle" fill="#2a2a2a" stroke="#2a2a2a" stroke-width="0.05">T</text>
<text x="546.76" y="679.80" font-size="7.3" text-anchor="middle" fill="#2a2a2a" stroke="#2a2a2a" stroke-width="0.05">G</text>
<text x="552.64" y="679.80" font-size="7.3" text-anchor="middle" fill="#2a2a2a" stroke="#2a2a2a" stroke-width="0.05">T</text>
<text x="558.52" y="679.80" font-size="7.3" text-anchor="middle" fill="#2a2a2a" stroke="#2a2a2a" stroke-width="0.05">G</text>
<text x="564.40" y="679.80" font-size="7.3" text-anchor="middle" fill="#2a2a2a" stroke="#2a2a2a" stroke-width="0.05">S</text>
<text x="570.28" y="679.80" font-size="7.3" text-anchor="middle" fill="#2a2a2a" stroke="#2a2a2a" stroke-width="0.05">T</text>
<text x="576.16" y="679.80" font-size="7.3" text-anchor="middle" fill="#2a2a2a" stroke="#2a2a2a" stroke-width="0.05">D</text>
<text x="582.04" y="679.80" font-size="7.3" text-anchor="middle" fill="#2a2a2a" stroke="#2a2a2a" stroke-width="0.05">T</text>
<text x="587.92" y="679.80" font-size="7.3" text-anchor="middle" fill="#2a2a2a" stroke="#2a2a2a" stroke-width="0.05">Q</text>
<text x="593.80" y="679.80" font-size="7.3" text-anchor="middle" fill="#2a2a2a" stroke="#2a2a2a" stroke-width="0.05">Y</text>
<text x="599.68" y="679.80" font-size="7.3" text-anchor="middle" fill="#2a2a2a" stroke="#2a2a2a" stroke-width="0.05">F</text>
<text x="604.22" y="679.80" font-size="7.7" fill="#2a2a2a" stroke="#2a2a2a" stroke-width="0.22">-BJ2-3</text>
<text x="519.30" y="689.60" font-size="7.7" text-anchor="end" fill="#2a2a2a" stroke="#2a2a2a" stroke-width="0.22">AV12-2-</text>
<rect x="520.30" y="683.60" width="5.93" height="7.20" fill="#d4e63a"/>
<rect x="526.18" y="683.60" width="5.93" height="7.20" fill="#d5d5d5"/>
<rect x="532.06" y="683.60" width="5.93" height="7.20" fill="#3b9c4a"/>
<rect x="537.94" y="683.60" width="5.93" height="7.20" fill="#eda23c"/>
<rect x="543.82" y="683.60" width="5.93" height="7.20" fill="#e09a88"/>
<rect x="549.70" y="683.60" width="5.93" height="7.20" fill="#ededed"/>
<rect x="555.58" y="683.60" width="5.93" height="7.20" fill="#eda23c"/>
<rect x="561.46" y="683.60" width="5.93" height="7.20" fill="#d5d5d5"/>
<rect x="567.34" y="683.60" width="5.93" height="7.20" fill="#5a6ecb"/>
<rect x="573.22" y="683.60" width="5.93" height="7.20" fill="#86e2e2"/>
<rect x="579.10" y="683.60" width="5.93" height="7.20" fill="#3b9c4a"/>
<rect x="584.98" y="683.60" width="5.93" height="7.20" fill="#eda23c"/>
<rect x="590.86" y="683.60" width="5.93" height="7.20" fill="#5a6ecb"/>
<text x="523.24" y="689.60" font-size="7.3" text-anchor="middle" fill="#2a2a2a" stroke="#2a2a2a" stroke-width="0.05">C</text>
<text x="529.12" y="689.60" font-size="7.3" text-anchor="middle" fill="#2a2a2a" stroke="#2a2a2a" stroke-width="0.05">A</text>
<text x="535.00" y="689.60" font-size="7.3" text-anchor="middle" fill="#2a2a2a" stroke="#2a2a2a" stroke-width="0.05">V</text>
<text x="540.88" y="689.60" font-size="7.3" text-anchor="middle" fill="#2a2a2a" stroke="#2a2a2a" stroke-width="0.05">T</text>
<text x="546.76" y="689.60" font-size="7.3" text-anchor="middle" fill="#2a2a2a" stroke="#2a2a2a" stroke-width="0.05">P</text>
<text x="552.64" y="689.60" font-size="7.3" text-anchor="middle" fill="#2a2a2a" stroke="#2a2a2a" stroke-width="0.05">G</text>
<text x="558.52" y="689.60" font-size="7.3" text-anchor="middle" fill="#2a2a2a" stroke="#2a2a2a" stroke-width="0.05">S</text>
<text x="564.40" y="689.60" font-size="7.3" text-anchor="middle" fill="#2a2a2a" stroke="#2a2a2a" stroke-width="0.05">A</text>
<text x="570.28" y="689.60" font-size="7.3" text-anchor="middle" fill="#2a2a2a" stroke="#2a2a2a" stroke-width="0.05">R</text>
<text x="576.16" y="689.60" font-size="7.3" text-anchor="middle" fill="#2a2a2a" stroke="#2a2a2a" stroke-width="0.05">Q</text>
<text x="582.04" y="689.60" font-size="7.3" text-anchor="middle" fill="#2a2a2a" stroke="#2a2a2a" stroke-width="0.05">L</text>
<text x="587.92" y="689.60" font-size="7.3" text-anchor="middle" fill="#2a2a2a" stroke="#2a2a2a" stroke-width="0.05">T</text>
<text x="593.80" y="689.60" font-size="7.3" text-anchor="middle" fill="#2a2a2a" stroke="#2a2a2a" stroke-width="0.05">F</text>
<text x="598.34" y="689.60" font-size="7.7" fill="#2a2a2a" stroke="#2a2a2a" stroke-width="0.22">-AJ22</text>
<text x="545.90" y="712.10" font-size="8.4" font-weight="bold" fill="#231f20" stroke="#231f20" stroke-width="0.08"># CD4<tspan dy="-2.9" font-size="4.0">+</tspan><tspan dy="2.9">​</tspan> T cells</text>
<line x1="496.60" y1="716.40" x2="609.40" y2="716.40" stroke="#333" stroke-width="0.8"/>
<text x="494.60" y="727.80" font-size="7.4" fill="#231f20" stroke="#231f20" stroke-width="0.22">COV_001</text>
<text x="558.90" y="727.80" font-size="7.4" fill="#231f20" stroke="#231f20" stroke-width="0.22">2</text>
<text x="494.60" y="743.00" font-size="7.4" fill="#231f20" stroke="#231f20" stroke-width="0.22">COV_015</text>
<text x="558.90" y="743.00" font-size="7.4" fill="#231f20" stroke="#231f20" stroke-width="0.22">1</text>
<text x="494.60" y="758.10" font-size="7.4" fill="#231f20" stroke="#231f20" stroke-width="0.22">J14204</text>
<text x="558.90" y="758.10" font-size="7.4" fill="#231f20" stroke="#231f20" stroke-width="0.22">1</text>
</svg>
</body></html>
